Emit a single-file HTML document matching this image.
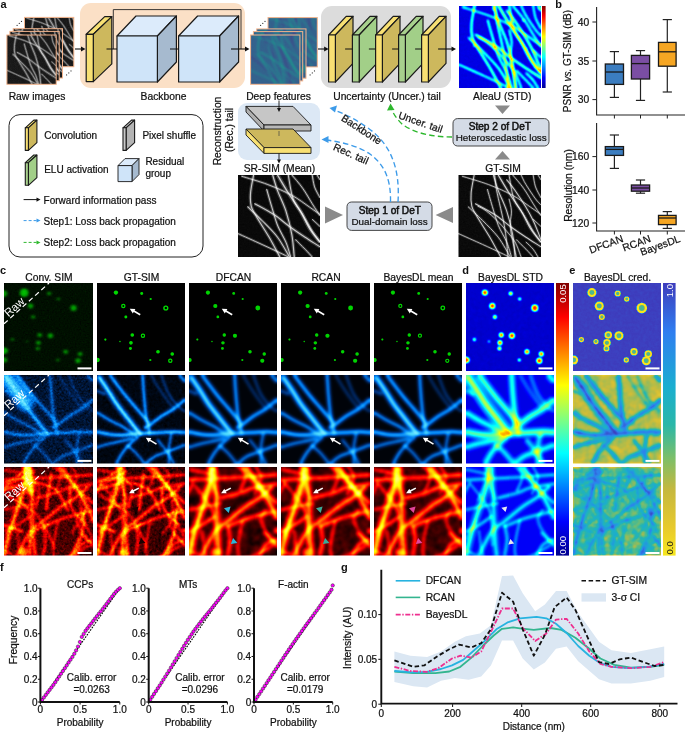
<!DOCTYPE html><html><head><meta charset="utf-8"><style>html,body{margin:0;padding:0;background:#fff;width:685px;height:732px;overflow:hidden;}svg text{font-family:"Liberation Sans",sans-serif;}</style></head><body><svg width="685" height="732" viewBox="0 0 685 732" style="display:block;will-change:transform"><defs><filter id="f1" x="0" y="0" width="100%" height="100%" color-interpolation-filters="sRGB"><feGaussianBlur in="SourceGraphic" stdDeviation="1.6" result="b"/><feTurbulence type="fractalNoise" baseFrequency="0.6" numOctaves="2" seed="3" result="n"/><feColorMatrix in="n" type="matrix" values="0.33 0.33 0.33 0 0  0.33 0.33 0.33 0 0  0.33 0.33 0.33 0 0  0 0 0 0 1" result="ng"/><feComposite in="b" in2="ng" operator="arithmetic" k1="0" k2="1.0" k3="0.12" k4="-0.068" result="b"/><feComponentTransfer in="b"><feFuncR type="table" tableValues="0.000 1.000"/><feFuncG type="table" tableValues="0.000 1.000"/><feFuncB type="table" tableValues="0.000 1.000"/><feFuncA type="table" tableValues="1 1"/></feComponentTransfer></filter><filter id="f2" x="0" y="0" width="100%" height="100%" color-interpolation-filters="sRGB"><feGaussianBlur in="SourceGraphic" stdDeviation="1.6" result="b"/><feTurbulence type="fractalNoise" baseFrequency="0.6" numOctaves="2" seed="4" result="n"/><feColorMatrix in="n" type="matrix" values="0.33 0.33 0.33 0 0  0.33 0.33 0.33 0 0  0.33 0.33 0.33 0 0  0 0 0 0 1" result="ng"/><feComposite in="b" in2="ng" operator="arithmetic" k1="0" k2="1.0" k3="0.12" k4="-0.068" result="b"/><feComponentTransfer in="b"><feFuncR type="table" tableValues="0.000 1.000"/><feFuncG type="table" tableValues="0.000 1.000"/><feFuncB type="table" tableValues="0.000 1.000"/><feFuncA type="table" tableValues="1 1"/></feComponentTransfer></filter><filter id="f3" x="0" y="0" width="100%" height="100%" color-interpolation-filters="sRGB"><feGaussianBlur in="SourceGraphic" stdDeviation="1.6" result="b"/><feTurbulence type="fractalNoise" baseFrequency="0.6" numOctaves="2" seed="5" result="n"/><feColorMatrix in="n" type="matrix" values="0.33 0.33 0.33 0 0  0.33 0.33 0.33 0 0  0.33 0.33 0.33 0 0  0 0 0 0 1" result="ng"/><feComposite in="b" in2="ng" operator="arithmetic" k1="0" k2="1.0" k3="0.12" k4="-0.068" result="b"/><feComponentTransfer in="b"><feFuncR type="table" tableValues="0.000 1.000"/><feFuncG type="table" tableValues="0.000 1.000"/><feFuncB type="table" tableValues="0.000 1.000"/><feFuncA type="table" tableValues="1 1"/></feComponentTransfer></filter><filter id="f4" x="0" y="0" width="100%" height="100%" color-interpolation-filters="sRGB"><feGaussianBlur in="SourceGraphic" stdDeviation="1.6" result="b"/><feTurbulence type="fractalNoise" baseFrequency="0.6" numOctaves="2" seed="6" result="n"/><feColorMatrix in="n" type="matrix" values="0.33 0.33 0.33 0 0  0.33 0.33 0.33 0 0  0.33 0.33 0.33 0 0  0 0 0 0 1" result="ng"/><feComposite in="b" in2="ng" operator="arithmetic" k1="0" k2="1.0" k3="0.12" k4="-0.068" result="b"/><feComponentTransfer in="b"><feFuncR type="table" tableValues="0.000 1.000"/><feFuncG type="table" tableValues="0.000 1.000"/><feFuncB type="table" tableValues="0.000 1.000"/><feFuncA type="table" tableValues="1 1"/></feComponentTransfer></filter><filter id="f5" x="0" y="0" width="100%" height="100%" color-interpolation-filters="sRGB"><feGaussianBlur in="SourceGraphic" stdDeviation="2.2" result="b"/><feTurbulence type="fractalNoise" baseFrequency="0.3" numOctaves="2" seed="11" result="n"/><feColorMatrix in="n" type="matrix" values="0.33 0.33 0.33 0 0  0.33 0.33 0.33 0 0  0.33 0.33 0.33 0 0  0 0 0 0 1" result="ng"/><feComposite in="b" in2="ng" operator="arithmetic" k1="0" k2="1.0" k3="0.06" k4="-0.034" result="b"/><feComponentTransfer in="b"><feFuncR type="table" tableValues="0.267 0.282 0.243 0.192 0.149 0.122 0.208 0.431 0.710 0.992"/><feFuncG type="table" tableValues="0.004 0.157 0.286 0.408 0.510 0.620 0.718 0.808 0.871 0.906"/><feFuncB type="table" tableValues="0.329 0.471 0.537 0.557 0.557 0.537 0.475 0.345 0.169 0.145"/><feFuncA type="table" tableValues="1 1"/></feComponentTransfer></filter><filter id="f6" x="0" y="0" width="100%" height="100%" color-interpolation-filters="sRGB"><feGaussianBlur in="SourceGraphic" stdDeviation="2.2" result="b"/><feTurbulence type="fractalNoise" baseFrequency="0.3" numOctaves="2" seed="12" result="n"/><feColorMatrix in="n" type="matrix" values="0.33 0.33 0.33 0 0  0.33 0.33 0.33 0 0  0.33 0.33 0.33 0 0  0 0 0 0 1" result="ng"/><feComposite in="b" in2="ng" operator="arithmetic" k1="0" k2="1.0" k3="0.06" k4="-0.034" result="b"/><feComponentTransfer in="b"><feFuncR type="table" tableValues="0.267 0.282 0.243 0.192 0.149 0.122 0.208 0.431 0.710 0.992"/><feFuncG type="table" tableValues="0.004 0.157 0.286 0.408 0.510 0.620 0.718 0.808 0.871 0.906"/><feFuncB type="table" tableValues="0.329 0.471 0.537 0.557 0.557 0.537 0.475 0.345 0.169 0.145"/><feFuncA type="table" tableValues="1 1"/></feComponentTransfer></filter><filter id="f7" x="0" y="0" width="100%" height="100%" color-interpolation-filters="sRGB"><feGaussianBlur in="SourceGraphic" stdDeviation="2.2" result="b"/><feTurbulence type="fractalNoise" baseFrequency="0.3" numOctaves="2" seed="13" result="n"/><feColorMatrix in="n" type="matrix" values="0.33 0.33 0.33 0 0  0.33 0.33 0.33 0 0  0.33 0.33 0.33 0 0  0 0 0 0 1" result="ng"/><feComposite in="b" in2="ng" operator="arithmetic" k1="0" k2="1.0" k3="0.06" k4="-0.034" result="b"/><feComponentTransfer in="b"><feFuncR type="table" tableValues="0.267 0.282 0.243 0.192 0.149 0.122 0.208 0.431 0.710 0.992"/><feFuncG type="table" tableValues="0.004 0.157 0.286 0.408 0.510 0.620 0.718 0.808 0.871 0.906"/><feFuncB type="table" tableValues="0.329 0.471 0.537 0.557 0.557 0.537 0.475 0.345 0.169 0.145"/><feFuncA type="table" tableValues="1 1"/></feComponentTransfer></filter><filter id="f8" x="0" y="0" width="100%" height="100%" color-interpolation-filters="sRGB"><feGaussianBlur in="SourceGraphic" stdDeviation="2.2" result="b"/><feTurbulence type="fractalNoise" baseFrequency="0.3" numOctaves="2" seed="14" result="n"/><feColorMatrix in="n" type="matrix" values="0.33 0.33 0.33 0 0  0.33 0.33 0.33 0 0  0.33 0.33 0.33 0 0  0 0 0 0 1" result="ng"/><feComposite in="b" in2="ng" operator="arithmetic" k1="0" k2="1.0" k3="0.06" k4="-0.034" result="b"/><feComponentTransfer in="b"><feFuncR type="table" tableValues="0.267 0.282 0.243 0.192 0.149 0.122 0.208 0.431 0.710 0.992"/><feFuncG type="table" tableValues="0.004 0.157 0.286 0.408 0.510 0.620 0.718 0.808 0.871 0.906"/><feFuncB type="table" tableValues="0.329 0.471 0.537 0.557 0.557 0.537 0.475 0.345 0.169 0.145"/><feFuncA type="table" tableValues="1 1"/></feComponentTransfer></filter><filter id="f9" x="0" y="0" width="100%" height="100%" color-interpolation-filters="sRGB"><feGaussianBlur in="SourceGraphic" stdDeviation="1.1" result="b"/><feTurbulence type="fractalNoise" baseFrequency="0.3" numOctaves="2" seed="9" result="n"/><feColorMatrix in="n" type="matrix" values="0.33 0.33 0.33 0 0  0.33 0.33 0.33 0 0  0.33 0.33 0.33 0 0  0 0 0 0 1" result="ng"/><feComposite in="b" in2="ng" operator="arithmetic" k1="0" k2="1.0" k3="0.05" k4="-0.028" result="b"/><feComponentTransfer in="b"><feFuncR type="table" tableValues="0.000 0.000 0.000 0.000 0.500 1.000 1.000 1.000 0.500"/><feFuncG type="table" tableValues="0.000 0.000 0.500 1.000 1.000 1.000 0.500 0.000 0.000"/><feFuncB type="table" tableValues="0.560 1.000 1.000 1.000 0.500 0.000 0.000 0.000 0.000"/><feFuncA type="table" tableValues="1 1"/></feComponentTransfer></filter><filter id="f10" x="0" y="0" width="100%" height="100%" color-interpolation-filters="sRGB"><feGaussianBlur in="SourceGraphic" stdDeviation="0.95" result="b"/><feTurbulence type="fractalNoise" baseFrequency="0.5" numOctaves="2" seed="13" result="n"/><feColorMatrix in="n" type="matrix" values="0.33 0.33 0.33 0 0  0.33 0.33 0.33 0 0  0.33 0.33 0.33 0 0  0 0 0 0 1" result="ng"/><feComposite in="b" in2="ng" operator="arithmetic" k1="0" k2="1.0" k3="0.06" k4="-0.034" result="b"/><feComponentTransfer in="b"><feFuncR type="table" tableValues="0.000 1.000"/><feFuncG type="table" tableValues="0.000 1.000"/><feFuncB type="table" tableValues="0.000 1.000"/><feFuncA type="table" tableValues="1 1"/></feComponentTransfer></filter><filter id="f11" x="0" y="0" width="100%" height="100%" color-interpolation-filters="sRGB"><feGaussianBlur in="SourceGraphic" stdDeviation="0.8" result="b"/><feTurbulence type="fractalNoise" baseFrequency="0.5" numOctaves="2" seed="14" result="n"/><feColorMatrix in="n" type="matrix" values="0.33 0.33 0.33 0 0  0.33 0.33 0.33 0 0  0.33 0.33 0.33 0 0  0 0 0 0 1" result="ng"/><feComposite in="b" in2="ng" operator="arithmetic" k1="0" k2="1.0" k3="0.08" k4="-0.046" result="b"/><feComponentTransfer in="b"><feFuncR type="table" tableValues="0.000 1.000"/><feFuncG type="table" tableValues="0.000 1.000"/><feFuncB type="table" tableValues="0.000 1.000"/><feFuncA type="table" tableValues="1 1"/></feComponentTransfer></filter><filter id="f12" x="0" y="0" width="100%" height="100%" color-interpolation-filters="sRGB"><feGaussianBlur in="SourceGraphic" stdDeviation="1.5" result="b"/><feTurbulence type="fractalNoise" baseFrequency="0.55" numOctaves="2" seed="21" result="n"/><feColorMatrix in="n" type="matrix" values="0.33 0.33 0.33 0 0  0.33 0.33 0.33 0 0  0.33 0.33 0.33 0 0  0 0 0 0 1" result="ng"/><feComposite in="b" in2="ng" operator="arithmetic" k1="0" k2="1.0" k3="0.16" k4="-0.091" result="b"/><feComponentTransfer in="b"><feFuncR type="table" tableValues="0.000 0.000 0.000"/><feFuncG type="table" tableValues="0.000 0.550 0.950"/><feFuncB type="table" tableValues="0.000 0.000 0.000"/><feFuncA type="table" tableValues="1 1"/></feComponentTransfer></filter><filter id="f13" x="0" y="0" width="100%" height="100%" color-interpolation-filters="sRGB"><feGaussianBlur in="SourceGraphic" stdDeviation="0.6" result="b"/><feComponentTransfer in="b"><feFuncR type="table" tableValues="0.000 0.000 0.000"/><feFuncG type="table" tableValues="0.000 0.550 0.950"/><feFuncB type="table" tableValues="0.000 0.000 0.000"/><feFuncA type="table" tableValues="1 1"/></feComponentTransfer></filter><filter id="f14" x="0" y="0" width="100%" height="100%" color-interpolation-filters="sRGB"><feGaussianBlur in="SourceGraphic" stdDeviation="0.8" result="b"/><feComponentTransfer in="b"><feFuncR type="table" tableValues="0.000 0.000 0.000"/><feFuncG type="table" tableValues="0.000 0.550 0.950"/><feFuncB type="table" tableValues="0.000 0.000 0.000"/><feFuncA type="table" tableValues="1 1"/></feComponentTransfer></filter><filter id="f15" x="0" y="0" width="100%" height="100%" color-interpolation-filters="sRGB"><feGaussianBlur in="SourceGraphic" stdDeviation="0.8" result="b"/><feComponentTransfer in="b"><feFuncR type="table" tableValues="0.000 0.000 0.000"/><feFuncG type="table" tableValues="0.000 0.550 0.950"/><feFuncB type="table" tableValues="0.000 0.000 0.000"/><feFuncA type="table" tableValues="1 1"/></feComponentTransfer></filter><filter id="f16" x="0" y="0" width="100%" height="100%" color-interpolation-filters="sRGB"><feGaussianBlur in="SourceGraphic" stdDeviation="0.8" result="b"/><feComponentTransfer in="b"><feFuncR type="table" tableValues="0.000 0.000 0.000"/><feFuncG type="table" tableValues="0.000 0.550 0.950"/><feFuncB type="table" tableValues="0.000 0.000 0.000"/><feFuncA type="table" tableValues="1 1"/></feComponentTransfer></filter><filter id="f17" x="0" y="0" width="100%" height="100%" color-interpolation-filters="sRGB"><feGaussianBlur in="SourceGraphic" stdDeviation="1.4" result="b"/><feTurbulence type="fractalNoise" baseFrequency="0.2" numOctaves="2" seed="71" result="n"/><feColorMatrix in="n" type="matrix" values="0.33 0.33 0.33 0 0  0.33 0.33 0.33 0 0  0.33 0.33 0.33 0 0  0 0 0 0 1" result="ng"/><feComposite in="b" in2="ng" operator="arithmetic" k1="0" k2="1.0" k3="0.05" k4="-0.028" result="b"/><feComponentTransfer in="b"><feFuncR type="table" tableValues="0.000 0.000 0.000 0.000 0.500 1.000 1.000 1.000 0.500"/><feFuncG type="table" tableValues="0.000 0.000 0.500 1.000 1.000 1.000 0.500 0.000 0.000"/><feFuncB type="table" tableValues="0.560 1.000 1.000 1.000 0.500 0.000 0.000 0.000 0.000"/><feFuncA type="table" tableValues="1 1"/></feComponentTransfer></filter><filter id="f18" x="0" y="0" width="100%" height="100%" color-interpolation-filters="sRGB"><feGaussianBlur in="SourceGraphic" stdDeviation="0.8" result="b"/><feTurbulence type="fractalNoise" baseFrequency="0.3" numOctaves="2" seed="72" result="n"/><feColorMatrix in="n" type="matrix" values="0.33 0.33 0.33 0 0  0.33 0.33 0.33 0 0  0.33 0.33 0.33 0 0  0 0 0 0 1" result="ng"/><feComposite in="b" in2="ng" operator="arithmetic" k1="0" k2="1.0" k3="0.08" k4="-0.046" result="b"/><feComponentTransfer in="b"><feFuncR type="table" tableValues="0.965 0.910 0.815 0.629 0.376 0.156 0.111 0.135 0.176 0.210 0.243"/><feFuncG type="table" tableValues="0.902 0.792 0.742 0.735 0.739 0.713 0.687 0.607 0.513 0.381 0.239"/><feFuncB type="table" tableValues="0.118 0.173 0.223 0.329 0.497 0.681 0.793 0.866 0.929 0.852 0.741"/><feFuncA type="table" tableValues="1 1"/></feComponentTransfer></filter><filter id="f19" x="0" y="0" width="100%" height="100%" color-interpolation-filters="sRGB"><feGaussianBlur in="SourceGraphic" stdDeviation="1.1" result="b"/><feTurbulence type="fractalNoise" baseFrequency="0.4" numOctaves="2" seed="31" result="n"/><feColorMatrix in="n" type="matrix" values="0.33 0.33 0.33 0 0  0.33 0.33 0.33 0 0  0.33 0.33 0.33 0 0  0 0 0 0 1" result="ng"/><feComposite in="b" in2="ng" operator="arithmetic" k1="0" k2="1.0" k3="0.5" k4="-0.285" result="b"/><feComponentTransfer in="b"><feFuncR type="table" tableValues="0.000 0.000 0.000 0.300 0.750"/><feFuncG type="table" tableValues="0.000 0.180 0.500 0.850 1.000"/><feFuncB type="table" tableValues="0.000 0.450 0.950 1.000 1.000"/><feFuncA type="table" tableValues="1 1"/></feComponentTransfer></filter><filter id="f20" x="0" y="0" width="100%" height="100%" color-interpolation-filters="sRGB"><feGaussianBlur in="SourceGraphic" stdDeviation="1.4" result="b"/><feTurbulence type="fractalNoise" baseFrequency="0.3" numOctaves="2" seed="32" result="n"/><feColorMatrix in="n" type="matrix" values="0.33 0.33 0.33 0 0  0.33 0.33 0.33 0 0  0.33 0.33 0.33 0 0  0 0 0 0 1" result="ng"/><feComposite in="b" in2="ng" operator="arithmetic" k1="0" k2="1.0" k3="0.15" k4="-0.085" result="b"/><feComponentTransfer in="b"><feFuncR type="table" tableValues="0.000 0.000 0.000 0.300 0.750"/><feFuncG type="table" tableValues="0.000 0.180 0.500 0.850 1.000"/><feFuncB type="table" tableValues="0.000 0.450 0.950 1.000 1.000"/><feFuncA type="table" tableValues="1 1"/></feComponentTransfer></filter><filter id="f21" x="0" y="0" width="100%" height="100%" color-interpolation-filters="sRGB"><feGaussianBlur in="SourceGraphic" stdDeviation="1.6" result="b"/><feComponentTransfer in="b"><feFuncR type="table" tableValues="0.000 0.000 0.000 0.300 0.750"/><feFuncG type="table" tableValues="0.000 0.180 0.500 0.850 1.000"/><feFuncB type="table" tableValues="0.000 0.450 0.950 1.000 1.000"/><feFuncA type="table" tableValues="1 1"/></feComponentTransfer></filter><filter id="f22" x="0" y="0" width="100%" height="100%" color-interpolation-filters="sRGB"><feGaussianBlur in="SourceGraphic" stdDeviation="1.6" result="b"/><feComponentTransfer in="b"><feFuncR type="table" tableValues="0.000 0.000 0.000 0.300 0.750"/><feFuncG type="table" tableValues="0.000 0.180 0.500 0.850 1.000"/><feFuncB type="table" tableValues="0.000 0.450 0.950 1.000 1.000"/><feFuncA type="table" tableValues="1 1"/></feComponentTransfer></filter><filter id="f23" x="0" y="0" width="100%" height="100%" color-interpolation-filters="sRGB"><feGaussianBlur in="SourceGraphic" stdDeviation="1.6" result="b"/><feComponentTransfer in="b"><feFuncR type="table" tableValues="0.000 0.000 0.000 0.300 0.750"/><feFuncG type="table" tableValues="0.000 0.180 0.500 0.850 1.000"/><feFuncB type="table" tableValues="0.000 0.450 0.950 1.000 1.000"/><feFuncA type="table" tableValues="1 1"/></feComponentTransfer></filter><filter id="f24" x="0" y="0" width="100%" height="100%" color-interpolation-filters="sRGB"><feGaussianBlur in="SourceGraphic" stdDeviation="1.6" result="b"/><feComponentTransfer in="b"><feFuncR type="table" tableValues="0.000 0.000 0.000 0.000 0.500 1.000 1.000 1.000 0.500"/><feFuncG type="table" tableValues="0.000 0.000 0.500 1.000 1.000 1.000 0.500 0.000 0.000"/><feFuncB type="table" tableValues="0.560 1.000 1.000 1.000 0.500 0.000 0.000 0.000 0.000"/><feFuncA type="table" tableValues="1 1"/></feComponentTransfer></filter><filter id="f25" x="0" y="0" width="100%" height="100%" color-interpolation-filters="sRGB"><feGaussianBlur in="SourceGraphic" stdDeviation="1.3" result="b"/><feTurbulence type="fractalNoise" baseFrequency="0.1" numOctaves="2" seed="41" result="n"/><feColorMatrix in="n" type="matrix" values="0.33 0.33 0.33 0 0  0.33 0.33 0.33 0 0  0.33 0.33 0.33 0 0  0 0 0 0 1" result="ng"/><feComposite in="b" in2="ng" operator="arithmetic" k1="0" k2="1.0" k3="0.6" k4="-0.342" result="b"/><feComponentTransfer in="b"><feFuncR type="table" tableValues="0.965 0.910 0.815 0.629 0.376 0.156 0.111 0.135 0.176 0.210 0.243"/><feFuncG type="table" tableValues="0.902 0.792 0.742 0.735 0.739 0.713 0.687 0.607 0.513 0.381 0.239"/><feFuncB type="table" tableValues="0.118 0.173 0.223 0.329 0.497 0.681 0.793 0.866 0.929 0.852 0.741"/><feFuncA type="table" tableValues="1 1"/></feComponentTransfer></filter><filter id="f26" x="0" y="0" width="100%" height="100%" color-interpolation-filters="sRGB"><feGaussianBlur in="SourceGraphic" stdDeviation="1.1" result="b"/><feTurbulence type="fractalNoise" baseFrequency="0.35" numOctaves="2" seed="51" result="n"/><feColorMatrix in="n" type="matrix" values="0.33 0.33 0.33 0 0  0.33 0.33 0.33 0 0  0.33 0.33 0.33 0 0  0 0 0 0 1" result="ng"/><feComposite in="b" in2="ng" operator="arithmetic" k1="0" k2="1.0" k3="0.5" k4="-0.285" result="b"/><feComponentTransfer in="b"><feFuncR type="table" tableValues="0.040 0.350 0.700 1.000 1.000 1.000 1.000 1.000 1.000"/><feFuncG type="table" tableValues="0.000 0.000 0.000 0.000 0.300 0.650 1.000 1.000 1.000"/><feFuncB type="table" tableValues="0.000 0.000 0.000 0.000 0.000 0.000 0.000 0.500 1.000"/><feFuncA type="table" tableValues="1 1"/></feComponentTransfer></filter><filter id="f27" x="0" y="0" width="100%" height="100%" color-interpolation-filters="sRGB"><feGaussianBlur in="SourceGraphic" stdDeviation="1.2" result="b"/><feTurbulence type="fractalNoise" baseFrequency="0.3" numOctaves="2" seed="52" result="n"/><feColorMatrix in="n" type="matrix" values="0.33 0.33 0.33 0 0  0.33 0.33 0.33 0 0  0.33 0.33 0.33 0 0  0 0 0 0 1" result="ng"/><feComposite in="b" in2="ng" operator="arithmetic" k1="0" k2="1.0" k3="0.45" k4="-0.257" result="b"/><feComponentTransfer in="b"><feFuncR type="table" tableValues="0.040 0.350 0.700 1.000 1.000 1.000 1.000 1.000 1.000"/><feFuncG type="table" tableValues="0.000 0.000 0.000 0.000 0.300 0.650 1.000 1.000 1.000"/><feFuncB type="table" tableValues="0.000 0.000 0.000 0.000 0.000 0.000 0.000 0.500 1.000"/><feFuncA type="table" tableValues="1 1"/></feComponentTransfer></filter><filter id="f28" x="0" y="0" width="100%" height="100%" color-interpolation-filters="sRGB"><feGaussianBlur in="SourceGraphic" stdDeviation="1.8" result="b"/><feTurbulence type="fractalNoise" baseFrequency="0.09" numOctaves="2" seed="82" result="n"/><feColorMatrix in="n" type="matrix" values="0.33 0.33 0.33 0 0  0.33 0.33 0.33 0 0  0.33 0.33 0.33 0 0  0 0 0 0 1" result="ng"/><feComposite in="b" in2="ng" operator="arithmetic" k1="0" k2="1.0" k3="0.35" k4="-0.199" result="b"/><feComponentTransfer in="b"><feFuncR type="table" tableValues="0.040 0.350 0.700 1.000 1.000 1.000 1.000 1.000 1.000"/><feFuncG type="table" tableValues="0.000 0.000 0.000 0.000 0.300 0.650 1.000 1.000 1.000"/><feFuncB type="table" tableValues="0.000 0.000 0.000 0.000 0.000 0.000 0.000 0.500 1.000"/><feFuncA type="table" tableValues="1 1"/></feComponentTransfer></filter><filter id="f29" x="0" y="0" width="100%" height="100%" color-interpolation-filters="sRGB"><feGaussianBlur in="SourceGraphic" stdDeviation="1.8" result="b"/><feTurbulence type="fractalNoise" baseFrequency="0.09" numOctaves="2" seed="83" result="n"/><feColorMatrix in="n" type="matrix" values="0.33 0.33 0.33 0 0  0.33 0.33 0.33 0 0  0.33 0.33 0.33 0 0  0 0 0 0 1" result="ng"/><feComposite in="b" in2="ng" operator="arithmetic" k1="0" k2="1.0" k3="0.35" k4="-0.199" result="b"/><feComponentTransfer in="b"><feFuncR type="table" tableValues="0.040 0.350 0.700 1.000 1.000 1.000 1.000 1.000 1.000"/><feFuncG type="table" tableValues="0.000 0.000 0.000 0.000 0.300 0.650 1.000 1.000 1.000"/><feFuncB type="table" tableValues="0.000 0.000 0.000 0.000 0.000 0.000 0.000 0.500 1.000"/><feFuncA type="table" tableValues="1 1"/></feComponentTransfer></filter><filter id="f30" x="0" y="0" width="100%" height="100%" color-interpolation-filters="sRGB"><feGaussianBlur in="SourceGraphic" stdDeviation="1.8" result="b"/><feTurbulence type="fractalNoise" baseFrequency="0.09" numOctaves="2" seed="84" result="n"/><feColorMatrix in="n" type="matrix" values="0.33 0.33 0.33 0 0  0.33 0.33 0.33 0 0  0.33 0.33 0.33 0 0  0 0 0 0 1" result="ng"/><feComposite in="b" in2="ng" operator="arithmetic" k1="0" k2="1.0" k3="0.35" k4="-0.199" result="b"/><feComponentTransfer in="b"><feFuncR type="table" tableValues="0.040 0.350 0.700 1.000 1.000 1.000 1.000 1.000 1.000"/><feFuncG type="table" tableValues="0.000 0.000 0.000 0.000 0.300 0.650 1.000 1.000 1.000"/><feFuncB type="table" tableValues="0.000 0.000 0.000 0.000 0.000 0.000 0.000 0.500 1.000"/><feFuncA type="table" tableValues="1 1"/></feComponentTransfer></filter><filter id="f31" x="0" y="0" width="100%" height="100%" color-interpolation-filters="sRGB"><feGaussianBlur in="SourceGraphic" stdDeviation="1.4" result="b"/><feComponentTransfer in="b"><feFuncR type="table" tableValues="0.000 0.000 0.000 0.000 0.500 1.000 1.000 1.000 0.500"/><feFuncG type="table" tableValues="0.000 0.000 0.500 1.000 1.000 1.000 0.500 0.000 0.000"/><feFuncB type="table" tableValues="0.560 1.000 1.000 1.000 0.500 0.000 0.000 0.000 0.000"/><feFuncA type="table" tableValues="1 1"/></feComponentTransfer></filter><filter id="f32" x="0" y="0" width="100%" height="100%" color-interpolation-filters="sRGB"><feGaussianBlur in="SourceGraphic" stdDeviation="1.0" result="b"/><feTurbulence type="fractalNoise" baseFrequency="0.12" numOctaves="2" seed="61" result="n"/><feColorMatrix in="n" type="matrix" values="0.33 0.33 0.33 0 0  0.33 0.33 0.33 0 0  0.33 0.33 0.33 0 0  0 0 0 0 1" result="ng"/><feComposite in="b" in2="ng" operator="arithmetic" k1="0" k2="1.0" k3="0.9" k4="-0.513" result="b"/><feComponentTransfer in="b"><feFuncR type="table" tableValues="0.965 0.910 0.815 0.629 0.376 0.156 0.111 0.135 0.176 0.210 0.243"/><feFuncG type="table" tableValues="0.902 0.792 0.742 0.735 0.739 0.713 0.687 0.607 0.513 0.381 0.239"/><feFuncB type="table" tableValues="0.118 0.173 0.223 0.329 0.497 0.681 0.793 0.866 0.929 0.852 0.741"/><feFuncA type="table" tableValues="1 1"/></feComponentTransfer></filter></defs><rect width="685" height="732" fill="#fff"/><text x="0.5" y="8" font-size="11" text-anchor="start" fill="#111" font-weight="bold" >a</text>
<svg x="24.5" y="17.4" width="49.3" height="49.3" viewBox="0 0 100 100" preserveAspectRatio="none" overflow="hidden"><g filter="url(#f1)"><rect x="0" y="0" width="100" height="100" fill="rgb(28,28,28)"/><path d="M19.0,0.0C18.4,3.6 15.8,15.6 15.3,21.9C14.8,28.2 15.0,33.3 16.1,38.0C17.2,42.6 18.2,43.3 21.9,49.6C25.5,56.0 33.1,67.5 38.0,75.9C42.8,84.3 48.9,96.0 51.1,100.0" fill="none" stroke="rgb(127,127,127)" stroke-opacity="0.45" stroke-width="5.10" style="mix-blend-mode:screen"/><path d="M19.0,0.0C18.4,3.6 15.8,15.6 15.3,21.9C14.8,28.2 15.0,33.3 16.1,38.0C17.2,42.6 18.2,43.3 21.9,49.6C25.5,56.0 33.1,67.5 38.0,75.9C42.8,84.3 48.9,96.0 51.1,100.0" fill="none" stroke="rgb(127,127,127)" stroke-width="1.70" stroke-linecap="round" style="mix-blend-mode:screen"/><path d="M42.3,0.0C43.3,3.2 45.5,11.7 48.2,19.0C50.9,26.3 55.5,34.8 58.4,43.8C61.3,52.8 64.0,63.6 65.7,73.0C67.4,82.4 68.1,95.5 68.6,100.0" fill="none" stroke="rgb(127,127,127)" stroke-opacity="0.45" stroke-width="5.10" style="mix-blend-mode:screen"/><path d="M42.3,0.0C43.3,3.2 45.5,11.7 48.2,19.0C50.9,26.3 55.5,34.8 58.4,43.8C61.3,52.8 64.0,63.6 65.7,73.0C67.4,82.4 68.1,95.5 68.6,100.0" fill="none" stroke="rgb(127,127,127)" stroke-width="1.70" stroke-linecap="round" style="mix-blend-mode:screen"/><path d="M0.0,71.5C4.9,73.7 20.7,80.8 29.2,84.7C37.7,88.6 45.7,92.3 51.1,94.9C56.4,97.4 59.6,99.1 61.3,100.0" fill="none" stroke="rgb(127,127,127)" stroke-opacity="0.45" stroke-width="4.08" style="mix-blend-mode:screen"/><path d="M0.0,71.5C4.9,73.7 20.7,80.8 29.2,84.7C37.7,88.6 45.7,92.3 51.1,94.9C56.4,97.4 59.6,99.1 61.3,100.0" fill="none" stroke="rgb(127,127,127)" stroke-width="1.36" stroke-linecap="round" style="mix-blend-mode:screen"/><path d="M11.7,38.7C14.6,41.5 23.1,49.3 29.2,55.5C35.3,61.7 42.6,68.5 48.2,75.9C53.8,83.3 60.3,96.0 62.8,100.0" fill="none" stroke="rgb(127,127,127)" stroke-opacity="0.45" stroke-width="4.59" style="mix-blend-mode:screen"/><path d="M11.7,38.7C14.6,41.5 23.1,49.3 29.2,55.5C35.3,61.7 42.6,68.5 48.2,75.9C53.8,83.3 60.3,96.0 62.8,100.0" fill="none" stroke="rgb(127,127,127)" stroke-width="1.53" stroke-linecap="round" style="mix-blend-mode:screen"/><path d="M20.4,35.0C24.3,37.2 36.7,43.6 43.8,48.2C50.9,52.8 56.4,58.2 62.8,62.8C69.1,67.4 75.5,71.8 81.8,75.9C88.0,80.0 97.0,85.6 100.0,87.6" fill="none" stroke="rgb(127,127,127)" stroke-opacity="0.45" stroke-width="5.10" style="mix-blend-mode:screen"/><path d="M20.4,35.0C24.3,37.2 36.7,43.6 43.8,48.2C50.9,52.8 56.4,58.2 62.8,62.8C69.1,67.4 75.5,71.8 81.8,75.9C88.0,80.0 97.0,85.6 100.0,87.6" fill="none" stroke="rgb(127,127,127)" stroke-width="1.70" stroke-linecap="round" style="mix-blend-mode:screen"/><path d="M35.0,17.5C36.0,20.9 38.7,30.7 40.9,38.0C43.1,45.3 45.3,54.0 48.2,61.3C51.1,68.6 55.7,75.3 58.4,81.8C61.1,88.2 63.3,97.0 64.2,100.0" fill="none" stroke="rgb(127,127,127)" stroke-opacity="0.45" stroke-width="4.59" style="mix-blend-mode:screen"/><path d="M35.0,17.5C36.0,20.9 38.7,30.7 40.9,38.0C43.1,45.3 45.3,54.0 48.2,61.3C51.1,68.6 55.7,75.3 58.4,81.8C61.1,88.2 63.3,97.0 64.2,100.0" fill="none" stroke="rgb(127,127,127)" stroke-width="1.53" stroke-linecap="round" style="mix-blend-mode:screen"/><path d="M4.4,1.5C9.7,3.2 26.3,7.8 36.5,11.7C46.7,15.6 57.2,20.2 65.7,24.8C74.2,29.4 81.9,35.5 87.6,39.4C93.3,43.3 97.9,46.7 100.0,48.2" fill="none" stroke="rgb(127,127,127)" stroke-opacity="0.45" stroke-width="4.08" style="mix-blend-mode:screen"/><path d="M4.4,1.5C9.7,3.2 26.3,7.8 36.5,11.7C46.7,15.6 57.2,20.2 65.7,24.8C74.2,29.4 81.9,35.5 87.6,39.4C93.3,43.3 97.9,46.7 100.0,48.2" fill="none" stroke="rgb(127,127,127)" stroke-width="1.36" stroke-linecap="round" style="mix-blend-mode:screen"/><path d="M61.3,0.0C62.3,4.9 64.2,21.2 67.2,29.2C70.1,37.2 74.9,41.6 78.8,48.2C82.7,54.7 87.0,63.0 90.5,68.6C94.0,74.2 98.4,79.6 100.0,81.8" fill="none" stroke="rgb(127,127,127)" stroke-opacity="0.45" stroke-width="4.59" style="mix-blend-mode:screen"/><path d="M61.3,0.0C62.3,4.9 64.2,21.2 67.2,29.2C70.1,37.2 74.9,41.6 78.8,48.2C82.7,54.7 87.0,63.0 90.5,68.6C94.0,74.2 98.4,79.6 100.0,81.8" fill="none" stroke="rgb(127,127,127)" stroke-width="1.53" stroke-linecap="round" style="mix-blend-mode:screen"/><path d="M65.7,0.0C67.9,2.7 74.7,10.2 78.8,16.1C83.0,21.9 87.0,29.4 90.5,35.0C94.0,40.6 98.4,47.2 100.0,49.6" fill="none" stroke="rgb(127,127,127)" stroke-opacity="0.45" stroke-width="4.08" style="mix-blend-mode:screen"/><path d="M65.7,0.0C67.9,2.7 74.7,10.2 78.8,16.1C83.0,21.9 87.0,29.4 90.5,35.0C94.0,40.6 98.4,47.2 100.0,49.6" fill="none" stroke="rgb(127,127,127)" stroke-width="1.36" stroke-linecap="round" style="mix-blend-mode:screen"/><path d="M90.5,0.0C91.0,2.4 91.8,10.0 93.4,14.6C95.0,19.2 98.9,25.5 100.0,27.7" fill="none" stroke="rgb(127,127,127)" stroke-opacity="0.45" stroke-width="4.08" style="mix-blend-mode:screen"/><path d="M90.5,0.0C91.0,2.4 91.8,10.0 93.4,14.6C95.0,19.2 98.9,25.5 100.0,27.7" fill="none" stroke="rgb(127,127,127)" stroke-width="1.36" stroke-linecap="round" style="mix-blend-mode:screen"/><path d="M48.2,0.0C50.4,3.6 56.7,14.6 61.3,21.9C65.9,29.2 71.5,36.5 75.9,43.8C80.3,51.1 83.6,59.4 87.6,65.7C91.6,72.0 97.9,79.1 100.0,81.8" fill="none" stroke="rgb(127,127,127)" stroke-opacity="0.45" stroke-width="6.12" style="mix-blend-mode:screen"/><path d="M48.2,0.0C50.4,3.6 56.7,14.6 61.3,21.9C65.9,29.2 71.5,36.5 75.9,43.8C80.3,51.1 83.6,59.4 87.6,65.7C91.6,72.0 97.9,79.1 100.0,81.8" fill="none" stroke="rgb(127,127,127)" stroke-width="2.04" stroke-linecap="round" style="mix-blend-mode:screen"/><path d="M70.1,78.8C72.0,80.8 78.3,87.0 81.8,90.5C85.2,94.0 89.1,98.4 90.5,100.0" fill="none" stroke="rgb(127,127,127)" stroke-opacity="0.45" stroke-width="4.08" style="mix-blend-mode:screen"/><path d="M70.1,78.8C72.0,80.8 78.3,87.0 81.8,90.5C85.2,94.0 89.1,98.4 90.5,100.0" fill="none" stroke="rgb(127,127,127)" stroke-width="1.36" stroke-linecap="round" style="mix-blend-mode:screen"/><path d="M90.5,54.0L100.0,62.8" fill="none" stroke="rgb(127,127,127)" stroke-opacity="0.45" stroke-width="3.57" style="mix-blend-mode:screen"/><path d="M90.5,54.0L100.0,62.8" fill="none" stroke="rgb(127,127,127)" stroke-width="1.19" stroke-linecap="round" style="mix-blend-mode:screen"/><path d="M96.4,0.0L100.0,5.8" fill="none" stroke="rgb(127,127,127)" stroke-opacity="0.45" stroke-width="4.08" style="mix-blend-mode:screen"/><path d="M96.4,0.0L100.0,5.8" fill="none" stroke="rgb(127,127,127)" stroke-width="1.36" stroke-linecap="round" style="mix-blend-mode:screen"/></g></svg>
<rect x="24.5" y="17.4" width="49.3" height="49.3" fill="none" stroke="#f3b48c" stroke-width="1"/>
<svg x="13.2" y="28.7" width="49.3" height="49.3" viewBox="0 0 100 100" preserveAspectRatio="none" overflow="hidden"><g filter="url(#f2)"><rect x="0" y="0" width="100" height="100" fill="rgb(28,28,28)"/><path d="M19.0,0.0C18.4,3.6 15.8,15.6 15.3,21.9C14.8,28.2 15.0,33.3 16.1,38.0C17.2,42.6 18.2,43.3 21.9,49.6C25.5,56.0 33.1,67.5 38.0,75.9C42.8,84.3 48.9,96.0 51.1,100.0" fill="none" stroke="rgb(127,127,127)" stroke-opacity="0.45" stroke-width="5.10" style="mix-blend-mode:screen"/><path d="M19.0,0.0C18.4,3.6 15.8,15.6 15.3,21.9C14.8,28.2 15.0,33.3 16.1,38.0C17.2,42.6 18.2,43.3 21.9,49.6C25.5,56.0 33.1,67.5 38.0,75.9C42.8,84.3 48.9,96.0 51.1,100.0" fill="none" stroke="rgb(127,127,127)" stroke-width="1.70" stroke-linecap="round" style="mix-blend-mode:screen"/><path d="M42.3,0.0C43.3,3.2 45.5,11.7 48.2,19.0C50.9,26.3 55.5,34.8 58.4,43.8C61.3,52.8 64.0,63.6 65.7,73.0C67.4,82.4 68.1,95.5 68.6,100.0" fill="none" stroke="rgb(127,127,127)" stroke-opacity="0.45" stroke-width="5.10" style="mix-blend-mode:screen"/><path d="M42.3,0.0C43.3,3.2 45.5,11.7 48.2,19.0C50.9,26.3 55.5,34.8 58.4,43.8C61.3,52.8 64.0,63.6 65.7,73.0C67.4,82.4 68.1,95.5 68.6,100.0" fill="none" stroke="rgb(127,127,127)" stroke-width="1.70" stroke-linecap="round" style="mix-blend-mode:screen"/><path d="M0.0,71.5C4.9,73.7 20.7,80.8 29.2,84.7C37.7,88.6 45.7,92.3 51.1,94.9C56.4,97.4 59.6,99.1 61.3,100.0" fill="none" stroke="rgb(127,127,127)" stroke-opacity="0.45" stroke-width="4.08" style="mix-blend-mode:screen"/><path d="M0.0,71.5C4.9,73.7 20.7,80.8 29.2,84.7C37.7,88.6 45.7,92.3 51.1,94.9C56.4,97.4 59.6,99.1 61.3,100.0" fill="none" stroke="rgb(127,127,127)" stroke-width="1.36" stroke-linecap="round" style="mix-blend-mode:screen"/><path d="M11.7,38.7C14.6,41.5 23.1,49.3 29.2,55.5C35.3,61.7 42.6,68.5 48.2,75.9C53.8,83.3 60.3,96.0 62.8,100.0" fill="none" stroke="rgb(127,127,127)" stroke-opacity="0.45" stroke-width="4.59" style="mix-blend-mode:screen"/><path d="M11.7,38.7C14.6,41.5 23.1,49.3 29.2,55.5C35.3,61.7 42.6,68.5 48.2,75.9C53.8,83.3 60.3,96.0 62.8,100.0" fill="none" stroke="rgb(127,127,127)" stroke-width="1.53" stroke-linecap="round" style="mix-blend-mode:screen"/><path d="M20.4,35.0C24.3,37.2 36.7,43.6 43.8,48.2C50.9,52.8 56.4,58.2 62.8,62.8C69.1,67.4 75.5,71.8 81.8,75.9C88.0,80.0 97.0,85.6 100.0,87.6" fill="none" stroke="rgb(127,127,127)" stroke-opacity="0.45" stroke-width="5.10" style="mix-blend-mode:screen"/><path d="M20.4,35.0C24.3,37.2 36.7,43.6 43.8,48.2C50.9,52.8 56.4,58.2 62.8,62.8C69.1,67.4 75.5,71.8 81.8,75.9C88.0,80.0 97.0,85.6 100.0,87.6" fill="none" stroke="rgb(127,127,127)" stroke-width="1.70" stroke-linecap="round" style="mix-blend-mode:screen"/><path d="M35.0,17.5C36.0,20.9 38.7,30.7 40.9,38.0C43.1,45.3 45.3,54.0 48.2,61.3C51.1,68.6 55.7,75.3 58.4,81.8C61.1,88.2 63.3,97.0 64.2,100.0" fill="none" stroke="rgb(127,127,127)" stroke-opacity="0.45" stroke-width="4.59" style="mix-blend-mode:screen"/><path d="M35.0,17.5C36.0,20.9 38.7,30.7 40.9,38.0C43.1,45.3 45.3,54.0 48.2,61.3C51.1,68.6 55.7,75.3 58.4,81.8C61.1,88.2 63.3,97.0 64.2,100.0" fill="none" stroke="rgb(127,127,127)" stroke-width="1.53" stroke-linecap="round" style="mix-blend-mode:screen"/><path d="M4.4,1.5C9.7,3.2 26.3,7.8 36.5,11.7C46.7,15.6 57.2,20.2 65.7,24.8C74.2,29.4 81.9,35.5 87.6,39.4C93.3,43.3 97.9,46.7 100.0,48.2" fill="none" stroke="rgb(127,127,127)" stroke-opacity="0.45" stroke-width="4.08" style="mix-blend-mode:screen"/><path d="M4.4,1.5C9.7,3.2 26.3,7.8 36.5,11.7C46.7,15.6 57.2,20.2 65.7,24.8C74.2,29.4 81.9,35.5 87.6,39.4C93.3,43.3 97.9,46.7 100.0,48.2" fill="none" stroke="rgb(127,127,127)" stroke-width="1.36" stroke-linecap="round" style="mix-blend-mode:screen"/><path d="M61.3,0.0C62.3,4.9 64.2,21.2 67.2,29.2C70.1,37.2 74.9,41.6 78.8,48.2C82.7,54.7 87.0,63.0 90.5,68.6C94.0,74.2 98.4,79.6 100.0,81.8" fill="none" stroke="rgb(127,127,127)" stroke-opacity="0.45" stroke-width="4.59" style="mix-blend-mode:screen"/><path d="M61.3,0.0C62.3,4.9 64.2,21.2 67.2,29.2C70.1,37.2 74.9,41.6 78.8,48.2C82.7,54.7 87.0,63.0 90.5,68.6C94.0,74.2 98.4,79.6 100.0,81.8" fill="none" stroke="rgb(127,127,127)" stroke-width="1.53" stroke-linecap="round" style="mix-blend-mode:screen"/><path d="M65.7,0.0C67.9,2.7 74.7,10.2 78.8,16.1C83.0,21.9 87.0,29.4 90.5,35.0C94.0,40.6 98.4,47.2 100.0,49.6" fill="none" stroke="rgb(127,127,127)" stroke-opacity="0.45" stroke-width="4.08" style="mix-blend-mode:screen"/><path d="M65.7,0.0C67.9,2.7 74.7,10.2 78.8,16.1C83.0,21.9 87.0,29.4 90.5,35.0C94.0,40.6 98.4,47.2 100.0,49.6" fill="none" stroke="rgb(127,127,127)" stroke-width="1.36" stroke-linecap="round" style="mix-blend-mode:screen"/><path d="M90.5,0.0C91.0,2.4 91.8,10.0 93.4,14.6C95.0,19.2 98.9,25.5 100.0,27.7" fill="none" stroke="rgb(127,127,127)" stroke-opacity="0.45" stroke-width="4.08" style="mix-blend-mode:screen"/><path d="M90.5,0.0C91.0,2.4 91.8,10.0 93.4,14.6C95.0,19.2 98.9,25.5 100.0,27.7" fill="none" stroke="rgb(127,127,127)" stroke-width="1.36" stroke-linecap="round" style="mix-blend-mode:screen"/><path d="M48.2,0.0C50.4,3.6 56.7,14.6 61.3,21.9C65.9,29.2 71.5,36.5 75.9,43.8C80.3,51.1 83.6,59.4 87.6,65.7C91.6,72.0 97.9,79.1 100.0,81.8" fill="none" stroke="rgb(127,127,127)" stroke-opacity="0.45" stroke-width="6.12" style="mix-blend-mode:screen"/><path d="M48.2,0.0C50.4,3.6 56.7,14.6 61.3,21.9C65.9,29.2 71.5,36.5 75.9,43.8C80.3,51.1 83.6,59.4 87.6,65.7C91.6,72.0 97.9,79.1 100.0,81.8" fill="none" stroke="rgb(127,127,127)" stroke-width="2.04" stroke-linecap="round" style="mix-blend-mode:screen"/><path d="M70.1,78.8C72.0,80.8 78.3,87.0 81.8,90.5C85.2,94.0 89.1,98.4 90.5,100.0" fill="none" stroke="rgb(127,127,127)" stroke-opacity="0.45" stroke-width="4.08" style="mix-blend-mode:screen"/><path d="M70.1,78.8C72.0,80.8 78.3,87.0 81.8,90.5C85.2,94.0 89.1,98.4 90.5,100.0" fill="none" stroke="rgb(127,127,127)" stroke-width="1.36" stroke-linecap="round" style="mix-blend-mode:screen"/><path d="M90.5,54.0L100.0,62.8" fill="none" stroke="rgb(127,127,127)" stroke-opacity="0.45" stroke-width="3.57" style="mix-blend-mode:screen"/><path d="M90.5,54.0L100.0,62.8" fill="none" stroke="rgb(127,127,127)" stroke-width="1.19" stroke-linecap="round" style="mix-blend-mode:screen"/><path d="M96.4,0.0L100.0,5.8" fill="none" stroke="rgb(127,127,127)" stroke-opacity="0.45" stroke-width="4.08" style="mix-blend-mode:screen"/><path d="M96.4,0.0L100.0,5.8" fill="none" stroke="rgb(127,127,127)" stroke-width="1.36" stroke-linecap="round" style="mix-blend-mode:screen"/></g></svg>
<rect x="13.2" y="28.7" width="49.3" height="49.3" fill="none" stroke="#f3b48c" stroke-width="1"/>
<svg x="9.9" y="31.4" width="49.3" height="49.3" viewBox="0 0 100 100" preserveAspectRatio="none" overflow="hidden"><g filter="url(#f3)"><rect x="0" y="0" width="100" height="100" fill="rgb(28,28,28)"/><path d="M19.0,0.0C18.4,3.6 15.8,15.6 15.3,21.9C14.8,28.2 15.0,33.3 16.1,38.0C17.2,42.6 18.2,43.3 21.9,49.6C25.5,56.0 33.1,67.5 38.0,75.9C42.8,84.3 48.9,96.0 51.1,100.0" fill="none" stroke="rgb(127,127,127)" stroke-opacity="0.45" stroke-width="5.10" style="mix-blend-mode:screen"/><path d="M19.0,0.0C18.4,3.6 15.8,15.6 15.3,21.9C14.8,28.2 15.0,33.3 16.1,38.0C17.2,42.6 18.2,43.3 21.9,49.6C25.5,56.0 33.1,67.5 38.0,75.9C42.8,84.3 48.9,96.0 51.1,100.0" fill="none" stroke="rgb(127,127,127)" stroke-width="1.70" stroke-linecap="round" style="mix-blend-mode:screen"/><path d="M42.3,0.0C43.3,3.2 45.5,11.7 48.2,19.0C50.9,26.3 55.5,34.8 58.4,43.8C61.3,52.8 64.0,63.6 65.7,73.0C67.4,82.4 68.1,95.5 68.6,100.0" fill="none" stroke="rgb(127,127,127)" stroke-opacity="0.45" stroke-width="5.10" style="mix-blend-mode:screen"/><path d="M42.3,0.0C43.3,3.2 45.5,11.7 48.2,19.0C50.9,26.3 55.5,34.8 58.4,43.8C61.3,52.8 64.0,63.6 65.7,73.0C67.4,82.4 68.1,95.5 68.6,100.0" fill="none" stroke="rgb(127,127,127)" stroke-width="1.70" stroke-linecap="round" style="mix-blend-mode:screen"/><path d="M0.0,71.5C4.9,73.7 20.7,80.8 29.2,84.7C37.7,88.6 45.7,92.3 51.1,94.9C56.4,97.4 59.6,99.1 61.3,100.0" fill="none" stroke="rgb(127,127,127)" stroke-opacity="0.45" stroke-width="4.08" style="mix-blend-mode:screen"/><path d="M0.0,71.5C4.9,73.7 20.7,80.8 29.2,84.7C37.7,88.6 45.7,92.3 51.1,94.9C56.4,97.4 59.6,99.1 61.3,100.0" fill="none" stroke="rgb(127,127,127)" stroke-width="1.36" stroke-linecap="round" style="mix-blend-mode:screen"/><path d="M11.7,38.7C14.6,41.5 23.1,49.3 29.2,55.5C35.3,61.7 42.6,68.5 48.2,75.9C53.8,83.3 60.3,96.0 62.8,100.0" fill="none" stroke="rgb(127,127,127)" stroke-opacity="0.45" stroke-width="4.59" style="mix-blend-mode:screen"/><path d="M11.7,38.7C14.6,41.5 23.1,49.3 29.2,55.5C35.3,61.7 42.6,68.5 48.2,75.9C53.8,83.3 60.3,96.0 62.8,100.0" fill="none" stroke="rgb(127,127,127)" stroke-width="1.53" stroke-linecap="round" style="mix-blend-mode:screen"/><path d="M20.4,35.0C24.3,37.2 36.7,43.6 43.8,48.2C50.9,52.8 56.4,58.2 62.8,62.8C69.1,67.4 75.5,71.8 81.8,75.9C88.0,80.0 97.0,85.6 100.0,87.6" fill="none" stroke="rgb(127,127,127)" stroke-opacity="0.45" stroke-width="5.10" style="mix-blend-mode:screen"/><path d="M20.4,35.0C24.3,37.2 36.7,43.6 43.8,48.2C50.9,52.8 56.4,58.2 62.8,62.8C69.1,67.4 75.5,71.8 81.8,75.9C88.0,80.0 97.0,85.6 100.0,87.6" fill="none" stroke="rgb(127,127,127)" stroke-width="1.70" stroke-linecap="round" style="mix-blend-mode:screen"/><path d="M35.0,17.5C36.0,20.9 38.7,30.7 40.9,38.0C43.1,45.3 45.3,54.0 48.2,61.3C51.1,68.6 55.7,75.3 58.4,81.8C61.1,88.2 63.3,97.0 64.2,100.0" fill="none" stroke="rgb(127,127,127)" stroke-opacity="0.45" stroke-width="4.59" style="mix-blend-mode:screen"/><path d="M35.0,17.5C36.0,20.9 38.7,30.7 40.9,38.0C43.1,45.3 45.3,54.0 48.2,61.3C51.1,68.6 55.7,75.3 58.4,81.8C61.1,88.2 63.3,97.0 64.2,100.0" fill="none" stroke="rgb(127,127,127)" stroke-width="1.53" stroke-linecap="round" style="mix-blend-mode:screen"/><path d="M4.4,1.5C9.7,3.2 26.3,7.8 36.5,11.7C46.7,15.6 57.2,20.2 65.7,24.8C74.2,29.4 81.9,35.5 87.6,39.4C93.3,43.3 97.9,46.7 100.0,48.2" fill="none" stroke="rgb(127,127,127)" stroke-opacity="0.45" stroke-width="4.08" style="mix-blend-mode:screen"/><path d="M4.4,1.5C9.7,3.2 26.3,7.8 36.5,11.7C46.7,15.6 57.2,20.2 65.7,24.8C74.2,29.4 81.9,35.5 87.6,39.4C93.3,43.3 97.9,46.7 100.0,48.2" fill="none" stroke="rgb(127,127,127)" stroke-width="1.36" stroke-linecap="round" style="mix-blend-mode:screen"/><path d="M61.3,0.0C62.3,4.9 64.2,21.2 67.2,29.2C70.1,37.2 74.9,41.6 78.8,48.2C82.7,54.7 87.0,63.0 90.5,68.6C94.0,74.2 98.4,79.6 100.0,81.8" fill="none" stroke="rgb(127,127,127)" stroke-opacity="0.45" stroke-width="4.59" style="mix-blend-mode:screen"/><path d="M61.3,0.0C62.3,4.9 64.2,21.2 67.2,29.2C70.1,37.2 74.9,41.6 78.8,48.2C82.7,54.7 87.0,63.0 90.5,68.6C94.0,74.2 98.4,79.6 100.0,81.8" fill="none" stroke="rgb(127,127,127)" stroke-width="1.53" stroke-linecap="round" style="mix-blend-mode:screen"/><path d="M65.7,0.0C67.9,2.7 74.7,10.2 78.8,16.1C83.0,21.9 87.0,29.4 90.5,35.0C94.0,40.6 98.4,47.2 100.0,49.6" fill="none" stroke="rgb(127,127,127)" stroke-opacity="0.45" stroke-width="4.08" style="mix-blend-mode:screen"/><path d="M65.7,0.0C67.9,2.7 74.7,10.2 78.8,16.1C83.0,21.9 87.0,29.4 90.5,35.0C94.0,40.6 98.4,47.2 100.0,49.6" fill="none" stroke="rgb(127,127,127)" stroke-width="1.36" stroke-linecap="round" style="mix-blend-mode:screen"/><path d="M90.5,0.0C91.0,2.4 91.8,10.0 93.4,14.6C95.0,19.2 98.9,25.5 100.0,27.7" fill="none" stroke="rgb(127,127,127)" stroke-opacity="0.45" stroke-width="4.08" style="mix-blend-mode:screen"/><path d="M90.5,0.0C91.0,2.4 91.8,10.0 93.4,14.6C95.0,19.2 98.9,25.5 100.0,27.7" fill="none" stroke="rgb(127,127,127)" stroke-width="1.36" stroke-linecap="round" style="mix-blend-mode:screen"/><path d="M48.2,0.0C50.4,3.6 56.7,14.6 61.3,21.9C65.9,29.2 71.5,36.5 75.9,43.8C80.3,51.1 83.6,59.4 87.6,65.7C91.6,72.0 97.9,79.1 100.0,81.8" fill="none" stroke="rgb(127,127,127)" stroke-opacity="0.45" stroke-width="6.12" style="mix-blend-mode:screen"/><path d="M48.2,0.0C50.4,3.6 56.7,14.6 61.3,21.9C65.9,29.2 71.5,36.5 75.9,43.8C80.3,51.1 83.6,59.4 87.6,65.7C91.6,72.0 97.9,79.1 100.0,81.8" fill="none" stroke="rgb(127,127,127)" stroke-width="2.04" stroke-linecap="round" style="mix-blend-mode:screen"/><path d="M70.1,78.8C72.0,80.8 78.3,87.0 81.8,90.5C85.2,94.0 89.1,98.4 90.5,100.0" fill="none" stroke="rgb(127,127,127)" stroke-opacity="0.45" stroke-width="4.08" style="mix-blend-mode:screen"/><path d="M70.1,78.8C72.0,80.8 78.3,87.0 81.8,90.5C85.2,94.0 89.1,98.4 90.5,100.0" fill="none" stroke="rgb(127,127,127)" stroke-width="1.36" stroke-linecap="round" style="mix-blend-mode:screen"/><path d="M90.5,54.0L100.0,62.8" fill="none" stroke="rgb(127,127,127)" stroke-opacity="0.45" stroke-width="3.57" style="mix-blend-mode:screen"/><path d="M90.5,54.0L100.0,62.8" fill="none" stroke="rgb(127,127,127)" stroke-width="1.19" stroke-linecap="round" style="mix-blend-mode:screen"/><path d="M96.4,0.0L100.0,5.8" fill="none" stroke="rgb(127,127,127)" stroke-opacity="0.45" stroke-width="4.08" style="mix-blend-mode:screen"/><path d="M96.4,0.0L100.0,5.8" fill="none" stroke="rgb(127,127,127)" stroke-width="1.36" stroke-linecap="round" style="mix-blend-mode:screen"/></g></svg>
<rect x="9.9" y="31.4" width="49.3" height="49.3" fill="none" stroke="#f3b48c" stroke-width="1"/>
<svg x="6.9" y="35.0" width="49.3" height="49.3" viewBox="0 0 100 100" preserveAspectRatio="none" overflow="hidden"><g filter="url(#f4)"><rect x="0" y="0" width="100" height="100" fill="rgb(28,28,28)"/><path d="M19.0,0.0C18.4,3.6 15.8,15.6 15.3,21.9C14.8,28.2 15.0,33.3 16.1,38.0C17.2,42.6 18.2,43.3 21.9,49.6C25.5,56.0 33.1,67.5 38.0,75.9C42.8,84.3 48.9,96.0 51.1,100.0" fill="none" stroke="rgb(127,127,127)" stroke-opacity="0.45" stroke-width="5.10" style="mix-blend-mode:screen"/><path d="M19.0,0.0C18.4,3.6 15.8,15.6 15.3,21.9C14.8,28.2 15.0,33.3 16.1,38.0C17.2,42.6 18.2,43.3 21.9,49.6C25.5,56.0 33.1,67.5 38.0,75.9C42.8,84.3 48.9,96.0 51.1,100.0" fill="none" stroke="rgb(127,127,127)" stroke-width="1.70" stroke-linecap="round" style="mix-blend-mode:screen"/><path d="M42.3,0.0C43.3,3.2 45.5,11.7 48.2,19.0C50.9,26.3 55.5,34.8 58.4,43.8C61.3,52.8 64.0,63.6 65.7,73.0C67.4,82.4 68.1,95.5 68.6,100.0" fill="none" stroke="rgb(127,127,127)" stroke-opacity="0.45" stroke-width="5.10" style="mix-blend-mode:screen"/><path d="M42.3,0.0C43.3,3.2 45.5,11.7 48.2,19.0C50.9,26.3 55.5,34.8 58.4,43.8C61.3,52.8 64.0,63.6 65.7,73.0C67.4,82.4 68.1,95.5 68.6,100.0" fill="none" stroke="rgb(127,127,127)" stroke-width="1.70" stroke-linecap="round" style="mix-blend-mode:screen"/><path d="M0.0,71.5C4.9,73.7 20.7,80.8 29.2,84.7C37.7,88.6 45.7,92.3 51.1,94.9C56.4,97.4 59.6,99.1 61.3,100.0" fill="none" stroke="rgb(127,127,127)" stroke-opacity="0.45" stroke-width="4.08" style="mix-blend-mode:screen"/><path d="M0.0,71.5C4.9,73.7 20.7,80.8 29.2,84.7C37.7,88.6 45.7,92.3 51.1,94.9C56.4,97.4 59.6,99.1 61.3,100.0" fill="none" stroke="rgb(127,127,127)" stroke-width="1.36" stroke-linecap="round" style="mix-blend-mode:screen"/><path d="M11.7,38.7C14.6,41.5 23.1,49.3 29.2,55.5C35.3,61.7 42.6,68.5 48.2,75.9C53.8,83.3 60.3,96.0 62.8,100.0" fill="none" stroke="rgb(127,127,127)" stroke-opacity="0.45" stroke-width="4.59" style="mix-blend-mode:screen"/><path d="M11.7,38.7C14.6,41.5 23.1,49.3 29.2,55.5C35.3,61.7 42.6,68.5 48.2,75.9C53.8,83.3 60.3,96.0 62.8,100.0" fill="none" stroke="rgb(127,127,127)" stroke-width="1.53" stroke-linecap="round" style="mix-blend-mode:screen"/><path d="M20.4,35.0C24.3,37.2 36.7,43.6 43.8,48.2C50.9,52.8 56.4,58.2 62.8,62.8C69.1,67.4 75.5,71.8 81.8,75.9C88.0,80.0 97.0,85.6 100.0,87.6" fill="none" stroke="rgb(127,127,127)" stroke-opacity="0.45" stroke-width="5.10" style="mix-blend-mode:screen"/><path d="M20.4,35.0C24.3,37.2 36.7,43.6 43.8,48.2C50.9,52.8 56.4,58.2 62.8,62.8C69.1,67.4 75.5,71.8 81.8,75.9C88.0,80.0 97.0,85.6 100.0,87.6" fill="none" stroke="rgb(127,127,127)" stroke-width="1.70" stroke-linecap="round" style="mix-blend-mode:screen"/><path d="M35.0,17.5C36.0,20.9 38.7,30.7 40.9,38.0C43.1,45.3 45.3,54.0 48.2,61.3C51.1,68.6 55.7,75.3 58.4,81.8C61.1,88.2 63.3,97.0 64.2,100.0" fill="none" stroke="rgb(127,127,127)" stroke-opacity="0.45" stroke-width="4.59" style="mix-blend-mode:screen"/><path d="M35.0,17.5C36.0,20.9 38.7,30.7 40.9,38.0C43.1,45.3 45.3,54.0 48.2,61.3C51.1,68.6 55.7,75.3 58.4,81.8C61.1,88.2 63.3,97.0 64.2,100.0" fill="none" stroke="rgb(127,127,127)" stroke-width="1.53" stroke-linecap="round" style="mix-blend-mode:screen"/><path d="M4.4,1.5C9.7,3.2 26.3,7.8 36.5,11.7C46.7,15.6 57.2,20.2 65.7,24.8C74.2,29.4 81.9,35.5 87.6,39.4C93.3,43.3 97.9,46.7 100.0,48.2" fill="none" stroke="rgb(127,127,127)" stroke-opacity="0.45" stroke-width="4.08" style="mix-blend-mode:screen"/><path d="M4.4,1.5C9.7,3.2 26.3,7.8 36.5,11.7C46.7,15.6 57.2,20.2 65.7,24.8C74.2,29.4 81.9,35.5 87.6,39.4C93.3,43.3 97.9,46.7 100.0,48.2" fill="none" stroke="rgb(127,127,127)" stroke-width="1.36" stroke-linecap="round" style="mix-blend-mode:screen"/><path d="M61.3,0.0C62.3,4.9 64.2,21.2 67.2,29.2C70.1,37.2 74.9,41.6 78.8,48.2C82.7,54.7 87.0,63.0 90.5,68.6C94.0,74.2 98.4,79.6 100.0,81.8" fill="none" stroke="rgb(127,127,127)" stroke-opacity="0.45" stroke-width="4.59" style="mix-blend-mode:screen"/><path d="M61.3,0.0C62.3,4.9 64.2,21.2 67.2,29.2C70.1,37.2 74.9,41.6 78.8,48.2C82.7,54.7 87.0,63.0 90.5,68.6C94.0,74.2 98.4,79.6 100.0,81.8" fill="none" stroke="rgb(127,127,127)" stroke-width="1.53" stroke-linecap="round" style="mix-blend-mode:screen"/><path d="M65.7,0.0C67.9,2.7 74.7,10.2 78.8,16.1C83.0,21.9 87.0,29.4 90.5,35.0C94.0,40.6 98.4,47.2 100.0,49.6" fill="none" stroke="rgb(127,127,127)" stroke-opacity="0.45" stroke-width="4.08" style="mix-blend-mode:screen"/><path d="M65.7,0.0C67.9,2.7 74.7,10.2 78.8,16.1C83.0,21.9 87.0,29.4 90.5,35.0C94.0,40.6 98.4,47.2 100.0,49.6" fill="none" stroke="rgb(127,127,127)" stroke-width="1.36" stroke-linecap="round" style="mix-blend-mode:screen"/><path d="M90.5,0.0C91.0,2.4 91.8,10.0 93.4,14.6C95.0,19.2 98.9,25.5 100.0,27.7" fill="none" stroke="rgb(127,127,127)" stroke-opacity="0.45" stroke-width="4.08" style="mix-blend-mode:screen"/><path d="M90.5,0.0C91.0,2.4 91.8,10.0 93.4,14.6C95.0,19.2 98.9,25.5 100.0,27.7" fill="none" stroke="rgb(127,127,127)" stroke-width="1.36" stroke-linecap="round" style="mix-blend-mode:screen"/><path d="M48.2,0.0C50.4,3.6 56.7,14.6 61.3,21.9C65.9,29.2 71.5,36.5 75.9,43.8C80.3,51.1 83.6,59.4 87.6,65.7C91.6,72.0 97.9,79.1 100.0,81.8" fill="none" stroke="rgb(127,127,127)" stroke-opacity="0.45" stroke-width="6.12" style="mix-blend-mode:screen"/><path d="M48.2,0.0C50.4,3.6 56.7,14.6 61.3,21.9C65.9,29.2 71.5,36.5 75.9,43.8C80.3,51.1 83.6,59.4 87.6,65.7C91.6,72.0 97.9,79.1 100.0,81.8" fill="none" stroke="rgb(127,127,127)" stroke-width="2.04" stroke-linecap="round" style="mix-blend-mode:screen"/><path d="M70.1,78.8C72.0,80.8 78.3,87.0 81.8,90.5C85.2,94.0 89.1,98.4 90.5,100.0" fill="none" stroke="rgb(127,127,127)" stroke-opacity="0.45" stroke-width="4.08" style="mix-blend-mode:screen"/><path d="M70.1,78.8C72.0,80.8 78.3,87.0 81.8,90.5C85.2,94.0 89.1,98.4 90.5,100.0" fill="none" stroke="rgb(127,127,127)" stroke-width="1.36" stroke-linecap="round" style="mix-blend-mode:screen"/><path d="M90.5,54.0L100.0,62.8" fill="none" stroke="rgb(127,127,127)" stroke-opacity="0.45" stroke-width="3.57" style="mix-blend-mode:screen"/><path d="M90.5,54.0L100.0,62.8" fill="none" stroke="rgb(127,127,127)" stroke-width="1.19" stroke-linecap="round" style="mix-blend-mode:screen"/><path d="M96.4,0.0L100.0,5.8" fill="none" stroke="rgb(127,127,127)" stroke-opacity="0.45" stroke-width="4.08" style="mix-blend-mode:screen"/><path d="M96.4,0.0L100.0,5.8" fill="none" stroke="rgb(127,127,127)" stroke-width="1.36" stroke-linecap="round" style="mix-blend-mode:screen"/></g></svg>
<rect x="6.9" y="35.0" width="49.3" height="49.3" fill="none" stroke="#f3b48c" stroke-width="1"/>
<circle cx="17.1" cy="25.4" r="0.6" fill="#333"/>
<circle cx="19.3" cy="23.4" r="0.6" fill="#333"/>
<circle cx="21.5" cy="21.4" r="0.6" fill="#333"/>
<circle cx="66.6" cy="74.9" r="0.6" fill="#333"/>
<circle cx="68.8" cy="72.9" r="0.6" fill="#333"/>
<circle cx="71.0" cy="70.9" r="0.6" fill="#333"/>
<text x="37" y="100" font-size="10.3" text-anchor="middle" fill="#111" stroke="#111" stroke-width="0.22" >Raw images</text>
<rect x="80" y="3" width="165" height="85" rx="11" fill="#fbe0c6"/>
<line x1="75" y1="49" x2="81.5" y2="49" stroke="#111" stroke-width="1.1" />
<polygon points="85.5,49.0 81.0,46.5 81.0,51.5" fill="#111" stroke="none" stroke-width="0" stroke-linejoin="round" />
<polyline points="113.3,49 113.3,9.6 241,9.6 241,49" fill="none" stroke="#222" stroke-width="0.9"/>
<polygon points="86.2,34.3 104.7,16.6 111.8,16.6 93.3,34.3" fill="#f8e073" stroke="#1a1a1a" stroke-width="1.2" stroke-linejoin="round" />
<polygon points="93.3,34.3 111.8,16.6 111.8,63.9 93.3,81.6" fill="#cdb85d" stroke="#1a1a1a" stroke-width="1.2" stroke-linejoin="round" />
<polygon points="86.2,34.3 93.3,34.3 93.3,81.6 86.2,81.6" fill="#f8e073" stroke="#1a1a1a" stroke-width="1.2" stroke-linejoin="round" />
<polygon points="117.0,36.0 136.0,16.0 176.4,16.0 157.4,36.0" fill="#dcebfb" stroke="#1a1a1a" stroke-width="1.2" stroke-linejoin="round" />
<polygon points="157.4,36.0 176.4,16.0 176.4,62.0 157.4,82.0" fill="#a6bacf" stroke="#1a1a1a" stroke-width="1.2" stroke-linejoin="round" />
<polygon points="117.0,36.0 157.4,36.0 157.4,82.0 117.0,82.0" fill="#cfe4f9" stroke="#1a1a1a" stroke-width="1.2" stroke-linejoin="round" />
<polygon points="178.6,36.0 197.6,16.0 238.6,16.0 219.6,36.0" fill="#dcebfb" stroke="#1a1a1a" stroke-width="1.2" stroke-linejoin="round" />
<polygon points="219.6,36.0 238.6,16.0 238.6,62.0 219.6,82.0" fill="#a6bacf" stroke="#1a1a1a" stroke-width="1.2" stroke-linejoin="round" />
<polygon points="178.6,36.0 219.6,36.0 219.6,82.0 178.6,82.0" fill="#cfe4f9" stroke="#1a1a1a" stroke-width="1.2" stroke-linejoin="round" />
<line x1="106.5" y1="49" x2="117" y2="49" stroke="#111" stroke-width="1" />
<line x1="170" y1="49" x2="178.6" y2="49" stroke="#111" stroke-width="1" />
<line x1="231" y1="49" x2="245.5" y2="49" stroke="#111" stroke-width="1.1" />
<polygon points="249.5,49.0 245.0,46.5 245.0,51.5" fill="#111" stroke="none" stroke-width="0" stroke-linejoin="round" />
<text x="163.5" y="100" font-size="10.3" text-anchor="middle" fill="#111" stroke="#111" stroke-width="0.22" >Backbone</text>
<svg x="268" y="17.6" width="49.3" height="49.3" viewBox="0 0 100 100" preserveAspectRatio="none" overflow="hidden"><g filter="url(#f5)"><rect x="0" y="0" width="100" height="100" fill="rgb(81,81,81)"/><path d="M0.0,43.8C3.6,46.7 14.6,55.0 21.9,61.3C29.2,67.6 37.2,75.3 43.8,81.8C50.4,88.2 58.4,97.0 61.3,100.0" fill="none" stroke="#000" stroke-opacity="0.55" stroke-width="2.0"/><path d="M55.5,0.0C56.4,4.9 58.4,19.0 61.3,29.2C64.2,39.4 69.6,49.5 73.0,61.3C76.4,73.1 80.3,93.6 81.8,100.0" fill="none" stroke="#000" stroke-opacity="0.55" stroke-width="2.0"/><path d="M21.9,0.0C24.3,3.6 32.1,13.9 36.5,21.9C40.9,29.9 46.2,43.8 48.2,48.2" fill="none" stroke="#000" stroke-opacity="0.55" stroke-width="2.0"/><path d="M81.8,0.0C82.7,4.9 84.5,21.4 87.6,29.2C90.6,37.0 97.9,43.8 100.0,46.7" fill="none" stroke="#000" stroke-opacity="0.55" stroke-width="2.0"/><path d="M19.0,0.0C18.4,3.6 15.8,15.6 15.3,21.9C14.8,28.2 15.0,33.3 16.1,38.0C17.2,42.6 18.2,43.3 21.9,49.6C25.5,56.0 33.1,67.5 38.0,75.9C42.8,84.3 48.9,96.0 51.1,100.0" fill="none" stroke="rgb(91,91,91)" stroke-width="2.20" stroke-linecap="round" style="mix-blend-mode:screen"/><path d="M42.3,0.0C43.3,3.2 45.5,11.7 48.2,19.0C50.9,26.3 55.5,34.8 58.4,43.8C61.3,52.8 64.0,63.6 65.7,73.0C67.4,82.4 68.1,95.5 68.6,100.0" fill="none" stroke="rgb(91,91,91)" stroke-width="2.20" stroke-linecap="round" style="mix-blend-mode:screen"/><path d="M0.0,71.5C4.9,73.7 20.7,80.8 29.2,84.7C37.7,88.6 45.7,92.3 51.1,94.9C56.4,97.4 59.6,99.1 61.3,100.0" fill="none" stroke="rgb(91,91,91)" stroke-width="1.76" stroke-linecap="round" style="mix-blend-mode:screen"/><path d="M11.7,38.7C14.6,41.5 23.1,49.3 29.2,55.5C35.3,61.7 42.6,68.5 48.2,75.9C53.8,83.3 60.3,96.0 62.8,100.0" fill="none" stroke="rgb(91,91,91)" stroke-width="1.98" stroke-linecap="round" style="mix-blend-mode:screen"/><path d="M20.4,35.0C24.3,37.2 36.7,43.6 43.8,48.2C50.9,52.8 56.4,58.2 62.8,62.8C69.1,67.4 75.5,71.8 81.8,75.9C88.0,80.0 97.0,85.6 100.0,87.6" fill="none" stroke="rgb(91,91,91)" stroke-width="2.20" stroke-linecap="round" style="mix-blend-mode:screen"/><path d="M35.0,17.5C36.0,20.9 38.7,30.7 40.9,38.0C43.1,45.3 45.3,54.0 48.2,61.3C51.1,68.6 55.7,75.3 58.4,81.8C61.1,88.2 63.3,97.0 64.2,100.0" fill="none" stroke="rgb(91,91,91)" stroke-width="1.98" stroke-linecap="round" style="mix-blend-mode:screen"/><path d="M4.4,1.5C9.7,3.2 26.3,7.8 36.5,11.7C46.7,15.6 57.2,20.2 65.7,24.8C74.2,29.4 81.9,35.5 87.6,39.4C93.3,43.3 97.9,46.7 100.0,48.2" fill="none" stroke="rgb(91,91,91)" stroke-width="1.76" stroke-linecap="round" style="mix-blend-mode:screen"/><path d="M61.3,0.0C62.3,4.9 64.2,21.2 67.2,29.2C70.1,37.2 74.9,41.6 78.8,48.2C82.7,54.7 87.0,63.0 90.5,68.6C94.0,74.2 98.4,79.6 100.0,81.8" fill="none" stroke="rgb(91,91,91)" stroke-width="1.98" stroke-linecap="round" style="mix-blend-mode:screen"/><path d="M65.7,0.0C67.9,2.7 74.7,10.2 78.8,16.1C83.0,21.9 87.0,29.4 90.5,35.0C94.0,40.6 98.4,47.2 100.0,49.6" fill="none" stroke="rgb(91,91,91)" stroke-width="1.76" stroke-linecap="round" style="mix-blend-mode:screen"/><path d="M90.5,0.0C91.0,2.4 91.8,10.0 93.4,14.6C95.0,19.2 98.9,25.5 100.0,27.7" fill="none" stroke="rgb(91,91,91)" stroke-width="1.76" stroke-linecap="round" style="mix-blend-mode:screen"/><path d="M48.2,0.0C50.4,3.6 56.7,14.6 61.3,21.9C65.9,29.2 71.5,36.5 75.9,43.8C80.3,51.1 83.6,59.4 87.6,65.7C91.6,72.0 97.9,79.1 100.0,81.8" fill="none" stroke="rgb(91,91,91)" stroke-width="2.64" stroke-linecap="round" style="mix-blend-mode:screen"/><path d="M70.1,78.8C72.0,80.8 78.3,87.0 81.8,90.5C85.2,94.0 89.1,98.4 90.5,100.0" fill="none" stroke="rgb(91,91,91)" stroke-width="1.76" stroke-linecap="round" style="mix-blend-mode:screen"/><path d="M90.5,54.0L100.0,62.8" fill="none" stroke="rgb(91,91,91)" stroke-width="1.54" stroke-linecap="round" style="mix-blend-mode:screen"/><path d="M96.4,0.0L100.0,5.8" fill="none" stroke="rgb(91,91,91)" stroke-width="1.76" stroke-linecap="round" style="mix-blend-mode:screen"/></g></svg>
<rect x="268" y="17.6" width="49.3" height="49.3" fill="none" stroke="#f3b48c" stroke-width="1"/>
<svg x="256.7" y="28.9" width="49.3" height="49.3" viewBox="0 0 100 100" preserveAspectRatio="none" overflow="hidden"><g filter="url(#f6)"><rect x="0" y="0" width="100" height="100" fill="rgb(81,81,81)"/><path d="M0.0,43.8C3.6,46.7 14.6,55.0 21.9,61.3C29.2,67.6 37.2,75.3 43.8,81.8C50.4,88.2 58.4,97.0 61.3,100.0" fill="none" stroke="#000" stroke-opacity="0.55" stroke-width="2.0"/><path d="M55.5,0.0C56.4,4.9 58.4,19.0 61.3,29.2C64.2,39.4 69.6,49.5 73.0,61.3C76.4,73.1 80.3,93.6 81.8,100.0" fill="none" stroke="#000" stroke-opacity="0.55" stroke-width="2.0"/><path d="M21.9,0.0C24.3,3.6 32.1,13.9 36.5,21.9C40.9,29.9 46.2,43.8 48.2,48.2" fill="none" stroke="#000" stroke-opacity="0.55" stroke-width="2.0"/><path d="M81.8,0.0C82.7,4.9 84.5,21.4 87.6,29.2C90.6,37.0 97.9,43.8 100.0,46.7" fill="none" stroke="#000" stroke-opacity="0.55" stroke-width="2.0"/><path d="M19.0,0.0C18.4,3.6 15.8,15.6 15.3,21.9C14.8,28.2 15.0,33.3 16.1,38.0C17.2,42.6 18.2,43.3 21.9,49.6C25.5,56.0 33.1,67.5 38.0,75.9C42.8,84.3 48.9,96.0 51.1,100.0" fill="none" stroke="rgb(91,91,91)" stroke-width="2.20" stroke-linecap="round" style="mix-blend-mode:screen"/><path d="M42.3,0.0C43.3,3.2 45.5,11.7 48.2,19.0C50.9,26.3 55.5,34.8 58.4,43.8C61.3,52.8 64.0,63.6 65.7,73.0C67.4,82.4 68.1,95.5 68.6,100.0" fill="none" stroke="rgb(91,91,91)" stroke-width="2.20" stroke-linecap="round" style="mix-blend-mode:screen"/><path d="M0.0,71.5C4.9,73.7 20.7,80.8 29.2,84.7C37.7,88.6 45.7,92.3 51.1,94.9C56.4,97.4 59.6,99.1 61.3,100.0" fill="none" stroke="rgb(91,91,91)" stroke-width="1.76" stroke-linecap="round" style="mix-blend-mode:screen"/><path d="M11.7,38.7C14.6,41.5 23.1,49.3 29.2,55.5C35.3,61.7 42.6,68.5 48.2,75.9C53.8,83.3 60.3,96.0 62.8,100.0" fill="none" stroke="rgb(91,91,91)" stroke-width="1.98" stroke-linecap="round" style="mix-blend-mode:screen"/><path d="M20.4,35.0C24.3,37.2 36.7,43.6 43.8,48.2C50.9,52.8 56.4,58.2 62.8,62.8C69.1,67.4 75.5,71.8 81.8,75.9C88.0,80.0 97.0,85.6 100.0,87.6" fill="none" stroke="rgb(91,91,91)" stroke-width="2.20" stroke-linecap="round" style="mix-blend-mode:screen"/><path d="M35.0,17.5C36.0,20.9 38.7,30.7 40.9,38.0C43.1,45.3 45.3,54.0 48.2,61.3C51.1,68.6 55.7,75.3 58.4,81.8C61.1,88.2 63.3,97.0 64.2,100.0" fill="none" stroke="rgb(91,91,91)" stroke-width="1.98" stroke-linecap="round" style="mix-blend-mode:screen"/><path d="M4.4,1.5C9.7,3.2 26.3,7.8 36.5,11.7C46.7,15.6 57.2,20.2 65.7,24.8C74.2,29.4 81.9,35.5 87.6,39.4C93.3,43.3 97.9,46.7 100.0,48.2" fill="none" stroke="rgb(91,91,91)" stroke-width="1.76" stroke-linecap="round" style="mix-blend-mode:screen"/><path d="M61.3,0.0C62.3,4.9 64.2,21.2 67.2,29.2C70.1,37.2 74.9,41.6 78.8,48.2C82.7,54.7 87.0,63.0 90.5,68.6C94.0,74.2 98.4,79.6 100.0,81.8" fill="none" stroke="rgb(91,91,91)" stroke-width="1.98" stroke-linecap="round" style="mix-blend-mode:screen"/><path d="M65.7,0.0C67.9,2.7 74.7,10.2 78.8,16.1C83.0,21.9 87.0,29.4 90.5,35.0C94.0,40.6 98.4,47.2 100.0,49.6" fill="none" stroke="rgb(91,91,91)" stroke-width="1.76" stroke-linecap="round" style="mix-blend-mode:screen"/><path d="M90.5,0.0C91.0,2.4 91.8,10.0 93.4,14.6C95.0,19.2 98.9,25.5 100.0,27.7" fill="none" stroke="rgb(91,91,91)" stroke-width="1.76" stroke-linecap="round" style="mix-blend-mode:screen"/><path d="M48.2,0.0C50.4,3.6 56.7,14.6 61.3,21.9C65.9,29.2 71.5,36.5 75.9,43.8C80.3,51.1 83.6,59.4 87.6,65.7C91.6,72.0 97.9,79.1 100.0,81.8" fill="none" stroke="rgb(91,91,91)" stroke-width="2.64" stroke-linecap="round" style="mix-blend-mode:screen"/><path d="M70.1,78.8C72.0,80.8 78.3,87.0 81.8,90.5C85.2,94.0 89.1,98.4 90.5,100.0" fill="none" stroke="rgb(91,91,91)" stroke-width="1.76" stroke-linecap="round" style="mix-blend-mode:screen"/><path d="M90.5,54.0L100.0,62.8" fill="none" stroke="rgb(91,91,91)" stroke-width="1.54" stroke-linecap="round" style="mix-blend-mode:screen"/><path d="M96.4,0.0L100.0,5.8" fill="none" stroke="rgb(91,91,91)" stroke-width="1.76" stroke-linecap="round" style="mix-blend-mode:screen"/></g></svg>
<rect x="256.7" y="28.9" width="49.3" height="49.3" fill="none" stroke="#f3b48c" stroke-width="1"/>
<svg x="253.4" y="31.6" width="49.3" height="49.3" viewBox="0 0 100 100" preserveAspectRatio="none" overflow="hidden"><g filter="url(#f7)"><rect x="0" y="0" width="100" height="100" fill="rgb(81,81,81)"/><path d="M0.0,43.8C3.6,46.7 14.6,55.0 21.9,61.3C29.2,67.6 37.2,75.3 43.8,81.8C50.4,88.2 58.4,97.0 61.3,100.0" fill="none" stroke="#000" stroke-opacity="0.55" stroke-width="2.0"/><path d="M55.5,0.0C56.4,4.9 58.4,19.0 61.3,29.2C64.2,39.4 69.6,49.5 73.0,61.3C76.4,73.1 80.3,93.6 81.8,100.0" fill="none" stroke="#000" stroke-opacity="0.55" stroke-width="2.0"/><path d="M21.9,0.0C24.3,3.6 32.1,13.9 36.5,21.9C40.9,29.9 46.2,43.8 48.2,48.2" fill="none" stroke="#000" stroke-opacity="0.55" stroke-width="2.0"/><path d="M81.8,0.0C82.7,4.9 84.5,21.4 87.6,29.2C90.6,37.0 97.9,43.8 100.0,46.7" fill="none" stroke="#000" stroke-opacity="0.55" stroke-width="2.0"/><path d="M19.0,0.0C18.4,3.6 15.8,15.6 15.3,21.9C14.8,28.2 15.0,33.3 16.1,38.0C17.2,42.6 18.2,43.3 21.9,49.6C25.5,56.0 33.1,67.5 38.0,75.9C42.8,84.3 48.9,96.0 51.1,100.0" fill="none" stroke="rgb(91,91,91)" stroke-width="2.20" stroke-linecap="round" style="mix-blend-mode:screen"/><path d="M42.3,0.0C43.3,3.2 45.5,11.7 48.2,19.0C50.9,26.3 55.5,34.8 58.4,43.8C61.3,52.8 64.0,63.6 65.7,73.0C67.4,82.4 68.1,95.5 68.6,100.0" fill="none" stroke="rgb(91,91,91)" stroke-width="2.20" stroke-linecap="round" style="mix-blend-mode:screen"/><path d="M0.0,71.5C4.9,73.7 20.7,80.8 29.2,84.7C37.7,88.6 45.7,92.3 51.1,94.9C56.4,97.4 59.6,99.1 61.3,100.0" fill="none" stroke="rgb(91,91,91)" stroke-width="1.76" stroke-linecap="round" style="mix-blend-mode:screen"/><path d="M11.7,38.7C14.6,41.5 23.1,49.3 29.2,55.5C35.3,61.7 42.6,68.5 48.2,75.9C53.8,83.3 60.3,96.0 62.8,100.0" fill="none" stroke="rgb(91,91,91)" stroke-width="1.98" stroke-linecap="round" style="mix-blend-mode:screen"/><path d="M20.4,35.0C24.3,37.2 36.7,43.6 43.8,48.2C50.9,52.8 56.4,58.2 62.8,62.8C69.1,67.4 75.5,71.8 81.8,75.9C88.0,80.0 97.0,85.6 100.0,87.6" fill="none" stroke="rgb(91,91,91)" stroke-width="2.20" stroke-linecap="round" style="mix-blend-mode:screen"/><path d="M35.0,17.5C36.0,20.9 38.7,30.7 40.9,38.0C43.1,45.3 45.3,54.0 48.2,61.3C51.1,68.6 55.7,75.3 58.4,81.8C61.1,88.2 63.3,97.0 64.2,100.0" fill="none" stroke="rgb(91,91,91)" stroke-width="1.98" stroke-linecap="round" style="mix-blend-mode:screen"/><path d="M4.4,1.5C9.7,3.2 26.3,7.8 36.5,11.7C46.7,15.6 57.2,20.2 65.7,24.8C74.2,29.4 81.9,35.5 87.6,39.4C93.3,43.3 97.9,46.7 100.0,48.2" fill="none" stroke="rgb(91,91,91)" stroke-width="1.76" stroke-linecap="round" style="mix-blend-mode:screen"/><path d="M61.3,0.0C62.3,4.9 64.2,21.2 67.2,29.2C70.1,37.2 74.9,41.6 78.8,48.2C82.7,54.7 87.0,63.0 90.5,68.6C94.0,74.2 98.4,79.6 100.0,81.8" fill="none" stroke="rgb(91,91,91)" stroke-width="1.98" stroke-linecap="round" style="mix-blend-mode:screen"/><path d="M65.7,0.0C67.9,2.7 74.7,10.2 78.8,16.1C83.0,21.9 87.0,29.4 90.5,35.0C94.0,40.6 98.4,47.2 100.0,49.6" fill="none" stroke="rgb(91,91,91)" stroke-width="1.76" stroke-linecap="round" style="mix-blend-mode:screen"/><path d="M90.5,0.0C91.0,2.4 91.8,10.0 93.4,14.6C95.0,19.2 98.9,25.5 100.0,27.7" fill="none" stroke="rgb(91,91,91)" stroke-width="1.76" stroke-linecap="round" style="mix-blend-mode:screen"/><path d="M48.2,0.0C50.4,3.6 56.7,14.6 61.3,21.9C65.9,29.2 71.5,36.5 75.9,43.8C80.3,51.1 83.6,59.4 87.6,65.7C91.6,72.0 97.9,79.1 100.0,81.8" fill="none" stroke="rgb(91,91,91)" stroke-width="2.64" stroke-linecap="round" style="mix-blend-mode:screen"/><path d="M70.1,78.8C72.0,80.8 78.3,87.0 81.8,90.5C85.2,94.0 89.1,98.4 90.5,100.0" fill="none" stroke="rgb(91,91,91)" stroke-width="1.76" stroke-linecap="round" style="mix-blend-mode:screen"/><path d="M90.5,54.0L100.0,62.8" fill="none" stroke="rgb(91,91,91)" stroke-width="1.54" stroke-linecap="round" style="mix-blend-mode:screen"/><path d="M96.4,0.0L100.0,5.8" fill="none" stroke="rgb(91,91,91)" stroke-width="1.76" stroke-linecap="round" style="mix-blend-mode:screen"/></g></svg>
<rect x="253.4" y="31.6" width="49.3" height="49.3" fill="none" stroke="#f3b48c" stroke-width="1"/>
<svg x="250.6" y="35.0" width="49.3" height="49.3" viewBox="0 0 100 100" preserveAspectRatio="none" overflow="hidden"><g filter="url(#f8)"><rect x="0" y="0" width="100" height="100" fill="rgb(81,81,81)"/><path d="M0.0,43.8C3.6,46.7 14.6,55.0 21.9,61.3C29.2,67.6 37.2,75.3 43.8,81.8C50.4,88.2 58.4,97.0 61.3,100.0" fill="none" stroke="#000" stroke-opacity="0.55" stroke-width="2.0"/><path d="M55.5,0.0C56.4,4.9 58.4,19.0 61.3,29.2C64.2,39.4 69.6,49.5 73.0,61.3C76.4,73.1 80.3,93.6 81.8,100.0" fill="none" stroke="#000" stroke-opacity="0.55" stroke-width="2.0"/><path d="M21.9,0.0C24.3,3.6 32.1,13.9 36.5,21.9C40.9,29.9 46.2,43.8 48.2,48.2" fill="none" stroke="#000" stroke-opacity="0.55" stroke-width="2.0"/><path d="M81.8,0.0C82.7,4.9 84.5,21.4 87.6,29.2C90.6,37.0 97.9,43.8 100.0,46.7" fill="none" stroke="#000" stroke-opacity="0.55" stroke-width="2.0"/><path d="M19.0,0.0C18.4,3.6 15.8,15.6 15.3,21.9C14.8,28.2 15.0,33.3 16.1,38.0C17.2,42.6 18.2,43.3 21.9,49.6C25.5,56.0 33.1,67.5 38.0,75.9C42.8,84.3 48.9,96.0 51.1,100.0" fill="none" stroke="rgb(91,91,91)" stroke-width="2.20" stroke-linecap="round" style="mix-blend-mode:screen"/><path d="M42.3,0.0C43.3,3.2 45.5,11.7 48.2,19.0C50.9,26.3 55.5,34.8 58.4,43.8C61.3,52.8 64.0,63.6 65.7,73.0C67.4,82.4 68.1,95.5 68.6,100.0" fill="none" stroke="rgb(91,91,91)" stroke-width="2.20" stroke-linecap="round" style="mix-blend-mode:screen"/><path d="M0.0,71.5C4.9,73.7 20.7,80.8 29.2,84.7C37.7,88.6 45.7,92.3 51.1,94.9C56.4,97.4 59.6,99.1 61.3,100.0" fill="none" stroke="rgb(91,91,91)" stroke-width="1.76" stroke-linecap="round" style="mix-blend-mode:screen"/><path d="M11.7,38.7C14.6,41.5 23.1,49.3 29.2,55.5C35.3,61.7 42.6,68.5 48.2,75.9C53.8,83.3 60.3,96.0 62.8,100.0" fill="none" stroke="rgb(91,91,91)" stroke-width="1.98" stroke-linecap="round" style="mix-blend-mode:screen"/><path d="M20.4,35.0C24.3,37.2 36.7,43.6 43.8,48.2C50.9,52.8 56.4,58.2 62.8,62.8C69.1,67.4 75.5,71.8 81.8,75.9C88.0,80.0 97.0,85.6 100.0,87.6" fill="none" stroke="rgb(91,91,91)" stroke-width="2.20" stroke-linecap="round" style="mix-blend-mode:screen"/><path d="M35.0,17.5C36.0,20.9 38.7,30.7 40.9,38.0C43.1,45.3 45.3,54.0 48.2,61.3C51.1,68.6 55.7,75.3 58.4,81.8C61.1,88.2 63.3,97.0 64.2,100.0" fill="none" stroke="rgb(91,91,91)" stroke-width="1.98" stroke-linecap="round" style="mix-blend-mode:screen"/><path d="M4.4,1.5C9.7,3.2 26.3,7.8 36.5,11.7C46.7,15.6 57.2,20.2 65.7,24.8C74.2,29.4 81.9,35.5 87.6,39.4C93.3,43.3 97.9,46.7 100.0,48.2" fill="none" stroke="rgb(91,91,91)" stroke-width="1.76" stroke-linecap="round" style="mix-blend-mode:screen"/><path d="M61.3,0.0C62.3,4.9 64.2,21.2 67.2,29.2C70.1,37.2 74.9,41.6 78.8,48.2C82.7,54.7 87.0,63.0 90.5,68.6C94.0,74.2 98.4,79.6 100.0,81.8" fill="none" stroke="rgb(91,91,91)" stroke-width="1.98" stroke-linecap="round" style="mix-blend-mode:screen"/><path d="M65.7,0.0C67.9,2.7 74.7,10.2 78.8,16.1C83.0,21.9 87.0,29.4 90.5,35.0C94.0,40.6 98.4,47.2 100.0,49.6" fill="none" stroke="rgb(91,91,91)" stroke-width="1.76" stroke-linecap="round" style="mix-blend-mode:screen"/><path d="M90.5,0.0C91.0,2.4 91.8,10.0 93.4,14.6C95.0,19.2 98.9,25.5 100.0,27.7" fill="none" stroke="rgb(91,91,91)" stroke-width="1.76" stroke-linecap="round" style="mix-blend-mode:screen"/><path d="M48.2,0.0C50.4,3.6 56.7,14.6 61.3,21.9C65.9,29.2 71.5,36.5 75.9,43.8C80.3,51.1 83.6,59.4 87.6,65.7C91.6,72.0 97.9,79.1 100.0,81.8" fill="none" stroke="rgb(91,91,91)" stroke-width="2.64" stroke-linecap="round" style="mix-blend-mode:screen"/><path d="M70.1,78.8C72.0,80.8 78.3,87.0 81.8,90.5C85.2,94.0 89.1,98.4 90.5,100.0" fill="none" stroke="rgb(91,91,91)" stroke-width="1.76" stroke-linecap="round" style="mix-blend-mode:screen"/><path d="M90.5,54.0L100.0,62.8" fill="none" stroke="rgb(91,91,91)" stroke-width="1.54" stroke-linecap="round" style="mix-blend-mode:screen"/><path d="M96.4,0.0L100.0,5.8" fill="none" stroke="rgb(91,91,91)" stroke-width="1.76" stroke-linecap="round" style="mix-blend-mode:screen"/></g></svg>
<rect x="250.6" y="35.0" width="49.3" height="49.3" fill="none" stroke="#f3b48c" stroke-width="1"/>
<circle cx="260.6" cy="25.4" r="0.6" fill="#333"/>
<circle cx="262.8" cy="23.4" r="0.6" fill="#333"/>
<circle cx="265.0" cy="21.4" r="0.6" fill="#333"/>
<circle cx="310.1" cy="74.9" r="0.6" fill="#333"/>
<circle cx="312.3" cy="72.9" r="0.6" fill="#333"/>
<circle cx="314.5" cy="70.9" r="0.6" fill="#333"/>
<text x="278.5" y="99.6" font-size="10.3" text-anchor="middle" fill="#111" stroke="#111" stroke-width="0.22" >Deep features</text>
<rect x="321" y="6" width="130" height="82" rx="11" fill="#dcdcdc"/>
<line x1="318" y1="49" x2="324.6" y2="49" stroke="#111" stroke-width="1.1" />
<polygon points="328.6,49.0 324.1,46.5 324.1,51.5" fill="#111" stroke="none" stroke-width="0" stroke-linejoin="round" />
<polygon points="328.6,35.0 346.2,16.3 353.0,16.3 335.4,35.0" fill="#f8e073" stroke="#1a1a1a" stroke-width="1.2" stroke-linejoin="round" />
<polygon points="335.4,35.0 353.0,16.3 353.0,63.3 335.4,82.0" fill="#cdb85d" stroke="#1a1a1a" stroke-width="1.2" stroke-linejoin="round" />
<polygon points="328.6,35.0 335.4,35.0 335.4,82.0 328.6,82.0" fill="#f8e073" stroke="#1a1a1a" stroke-width="1.2" stroke-linejoin="round" />
<polygon points="352.4,35.0 370.0,16.3 376.8,16.3 359.2,35.0" fill="#a8d08d" stroke="#1a1a1a" stroke-width="1.2" stroke-linejoin="round" />
<polygon points="359.2,35.0 376.8,16.3 376.8,63.3 359.2,82.0" fill="#a2cf88" stroke="#1a1a1a" stroke-width="1.2" stroke-linejoin="round" />
<polygon points="352.4,35.0 359.2,35.0 359.2,82.0 352.4,82.0" fill="#a8d08d" stroke="#1a1a1a" stroke-width="1.2" stroke-linejoin="round" />
<polygon points="375.6,35.0 393.2,16.3 400.0,16.3 382.4,35.0" fill="#f8e073" stroke="#1a1a1a" stroke-width="1.2" stroke-linejoin="round" />
<polygon points="382.4,35.0 400.0,16.3 400.0,63.3 382.4,82.0" fill="#cdb85d" stroke="#1a1a1a" stroke-width="1.2" stroke-linejoin="round" />
<polygon points="375.6,35.0 382.4,35.0 382.4,82.0 375.6,82.0" fill="#f8e073" stroke="#1a1a1a" stroke-width="1.2" stroke-linejoin="round" />
<polygon points="398.6,35.0 416.2,16.3 423.0,16.3 405.4,35.0" fill="#a8d08d" stroke="#1a1a1a" stroke-width="1.2" stroke-linejoin="round" />
<polygon points="405.4,35.0 423.0,16.3 423.0,63.3 405.4,82.0" fill="#a2cf88" stroke="#1a1a1a" stroke-width="1.2" stroke-linejoin="round" />
<polygon points="398.6,35.0 405.4,35.0 405.4,82.0 398.6,82.0" fill="#a8d08d" stroke="#1a1a1a" stroke-width="1.2" stroke-linejoin="round" />
<polygon points="421.6,35.0 439.2,16.3 446.0,16.3 428.4,35.0" fill="#f8e073" stroke="#1a1a1a" stroke-width="1.2" stroke-linejoin="round" />
<polygon points="428.4,35.0 446.0,16.3 446.0,63.3 428.4,82.0" fill="#cdb85d" stroke="#1a1a1a" stroke-width="1.2" stroke-linejoin="round" />
<polygon points="421.6,35.0 428.4,35.0 428.4,82.0 421.6,82.0" fill="#f8e073" stroke="#1a1a1a" stroke-width="1.2" stroke-linejoin="round" />
<line x1="345.1" y1="49" x2="352.4" y2="49" stroke="#111" stroke-width="1" />
<line x1="368.9" y1="49" x2="375.6" y2="49" stroke="#111" stroke-width="1" />
<line x1="392.1" y1="49" x2="398.6" y2="49" stroke="#111" stroke-width="1" />
<line x1="415.1" y1="49" x2="421.6" y2="49" stroke="#111" stroke-width="1" />
<line x1="438.1" y1="49" x2="452.0" y2="49" stroke="#111" stroke-width="1.1" />
<polygon points="456.0,49.0 451.5,46.5 451.5,51.5" fill="#111" stroke="none" stroke-width="0" stroke-linejoin="round" />
<text x="387" y="100" font-size="10.3" text-anchor="middle" fill="#111" stroke="#111" stroke-width="0.22" >Uncertainty (Uncer.) tail</text>
<svg x="459" y="6" width="82" height="82" viewBox="0 0 100 100" preserveAspectRatio="none" overflow="hidden"><g filter="url(#f9)"><rect x="0" y="0" width="100" height="100" fill="rgb(25,25,25)"/><path d="M19.0,0.0C18.4,3.6 15.8,15.6 15.3,21.9C14.8,28.2 15.0,33.3 16.1,38.0C17.2,42.6 18.2,43.3 21.9,49.6C25.5,56.0 33.1,67.5 38.0,75.9C42.8,84.3 48.9,96.0 51.1,100.0" fill="none" stroke="rgb(158,158,158)" stroke-width="2.20" stroke-linecap="round" style="mix-blend-mode:screen"/><path d="M42.3,0.0C43.3,3.2 45.5,11.7 48.2,19.0C50.9,26.3 55.5,34.8 58.4,43.8C61.3,52.8 64.0,63.6 65.7,73.0C67.4,82.4 68.1,95.5 68.6,100.0" fill="none" stroke="rgb(158,158,158)" stroke-width="2.20" stroke-linecap="round" style="mix-blend-mode:screen"/><path d="M0.0,71.5C4.9,73.7 20.7,80.8 29.2,84.7C37.7,88.6 45.7,92.3 51.1,94.9C56.4,97.4 59.6,99.1 61.3,100.0" fill="none" stroke="rgb(158,158,158)" stroke-width="1.76" stroke-linecap="round" style="mix-blend-mode:screen"/><path d="M11.7,38.7C14.6,41.5 23.1,49.3 29.2,55.5C35.3,61.7 42.6,68.5 48.2,75.9C53.8,83.3 60.3,96.0 62.8,100.0" fill="none" stroke="rgb(158,158,158)" stroke-width="1.98" stroke-linecap="round" style="mix-blend-mode:screen"/><path d="M20.4,35.0C24.3,37.2 36.7,43.6 43.8,48.2C50.9,52.8 56.4,58.2 62.8,62.8C69.1,67.4 75.5,71.8 81.8,75.9C88.0,80.0 97.0,85.6 100.0,87.6" fill="none" stroke="rgb(158,158,158)" stroke-width="2.20" stroke-linecap="round" style="mix-blend-mode:screen"/><path d="M35.0,17.5C36.0,20.9 38.7,30.7 40.9,38.0C43.1,45.3 45.3,54.0 48.2,61.3C51.1,68.6 55.7,75.3 58.4,81.8C61.1,88.2 63.3,97.0 64.2,100.0" fill="none" stroke="rgb(158,158,158)" stroke-width="1.98" stroke-linecap="round" style="mix-blend-mode:screen"/><path d="M4.4,1.5C9.7,3.2 26.3,7.8 36.5,11.7C46.7,15.6 57.2,20.2 65.7,24.8C74.2,29.4 81.9,35.5 87.6,39.4C93.3,43.3 97.9,46.7 100.0,48.2" fill="none" stroke="rgb(158,158,158)" stroke-width="1.76" stroke-linecap="round" style="mix-blend-mode:screen"/><path d="M61.3,0.0C62.3,4.9 64.2,21.2 67.2,29.2C70.1,37.2 74.9,41.6 78.8,48.2C82.7,54.7 87.0,63.0 90.5,68.6C94.0,74.2 98.4,79.6 100.0,81.8" fill="none" stroke="rgb(158,158,158)" stroke-width="1.98" stroke-linecap="round" style="mix-blend-mode:screen"/><path d="M65.7,0.0C67.9,2.7 74.7,10.2 78.8,16.1C83.0,21.9 87.0,29.4 90.5,35.0C94.0,40.6 98.4,47.2 100.0,49.6" fill="none" stroke="rgb(158,158,158)" stroke-width="1.76" stroke-linecap="round" style="mix-blend-mode:screen"/><path d="M90.5,0.0C91.0,2.4 91.8,10.0 93.4,14.6C95.0,19.2 98.9,25.5 100.0,27.7" fill="none" stroke="rgb(158,158,158)" stroke-width="1.76" stroke-linecap="round" style="mix-blend-mode:screen"/><path d="M48.2,0.0C50.4,3.6 56.7,14.6 61.3,21.9C65.9,29.2 71.5,36.5 75.9,43.8C80.3,51.1 83.6,59.4 87.6,65.7C91.6,72.0 97.9,79.1 100.0,81.8" fill="none" stroke="rgb(158,158,158)" stroke-width="2.64" stroke-linecap="round" style="mix-blend-mode:screen"/><path d="M70.1,78.8C72.0,80.8 78.3,87.0 81.8,90.5C85.2,94.0 89.1,98.4 90.5,100.0" fill="none" stroke="rgb(158,158,158)" stroke-width="1.76" stroke-linecap="round" style="mix-blend-mode:screen"/><path d="M90.5,54.0L100.0,62.8" fill="none" stroke="rgb(158,158,158)" stroke-width="1.54" stroke-linecap="round" style="mix-blend-mode:screen"/><path d="M96.4,0.0L100.0,5.8" fill="none" stroke="rgb(158,158,158)" stroke-width="1.76" stroke-linecap="round" style="mix-blend-mode:screen"/><path d="M58.4,5.8C60.1,8.0 64.7,13.4 68.6,19.0C72.5,24.6 78.1,33.3 81.8,39.4C85.4,45.5 87.8,49.9 90.5,55.5C93.2,61.1 96.2,69.1 97.8,73.0C99.4,76.9 99.6,77.9 100.0,78.8" fill="none" stroke="rgb(158,158,158)" stroke-width="2.20" stroke-linecap="round" style="mix-blend-mode:screen"/><path d="M61.3,29.2C61.8,31.6 64.0,38.9 64.2,43.8C64.5,48.7 62.8,53.5 62.8,58.4C62.8,63.3 63.0,66.1 64.2,73.0C65.5,79.9 69.1,95.5 70.1,100.0" fill="none" stroke="rgb(158,158,158)" stroke-width="1.76" stroke-linecap="round" style="mix-blend-mode:screen"/><path d="M75.9,0.0C76.9,1.9 78.8,6.8 81.8,11.7C84.7,16.5 90.4,25.1 93.4,29.2C96.5,33.3 98.9,35.3 100.0,36.5" fill="none" stroke="rgb(158,158,158)" stroke-width="1.76" stroke-linecap="round" style="mix-blend-mode:screen"/><path d="M43.8,0.0C44.2,2.9 44.8,10.7 46.0,17.5C47.2,24.3 49.5,33.6 51.1,40.9C52.7,48.2 54.3,54.5 55.5,61.3C56.7,68.1 57.7,75.3 58.4,81.8C59.1,88.2 59.6,97.0 59.9,100.0" fill="none" stroke="rgb(158,158,158)" stroke-width="1.98" stroke-linecap="round" style="mix-blend-mode:screen"/><path d="M81.8,81.8C83.2,83.2 88.1,87.5 90.5,90.5C92.9,93.6 95.4,98.4 96.4,100.0" fill="none" stroke="rgb(158,158,158)" stroke-width="1.76" stroke-linecap="round" style="mix-blend-mode:screen"/><path d="M23.4,38.0C25.1,38.9 29.7,40.9 33.6,43.8C37.5,46.7 42.6,51.3 46.7,55.5C50.9,59.6 54.7,64.2 58.4,68.6C62.0,73.0 65.7,76.5 68.6,81.8C71.5,87.0 74.7,97.0 75.9,100.0" fill="none" stroke="rgb(158,158,158)" stroke-width="1.76" stroke-linecap="round" style="mix-blend-mode:screen"/><circle cx="42.3" cy="3.6" r="1.30" fill="rgb(216,216,216)"/><circle cx="46.7" cy="16.1" r="1.30" fill="rgb(216,216,216)"/><circle cx="63.5" cy="19.7" r="1.30" fill="rgb(216,216,216)"/><circle cx="43.1" cy="50.4" r="1.30" fill="rgb(216,216,216)"/><circle cx="78.8" cy="17.5" r="1.30" fill="rgb(216,216,216)"/><circle cx="81.8" cy="52.6" r="1.30" fill="rgb(216,216,216)"/><circle cx="93.4" cy="74.5" r="1.30" fill="rgb(216,216,216)"/><circle cx="97.8" cy="2.9" r="1.30" fill="rgb(216,216,216)"/><circle cx="19.0" cy="48.2" r="1.30" fill="rgb(216,216,216)"/></g></svg>
<defs><linearGradient id="jetv" x1="0" y1="1" x2="0" y2="0"><stop offset="0" stop-color="#00008f"/><stop offset="0.125" stop-color="#0000ff"/><stop offset="0.375" stop-color="#00ffff"/><stop offset="0.625" stop-color="#ffff00"/><stop offset="0.875" stop-color="#ff0000"/><stop offset="1" stop-color="#800000"/></linearGradient></defs>
<rect x="542" y="6" width="3.6" height="82" fill="url(#jetv)"/>
<text x="502.2" y="100" font-size="10.3" text-anchor="middle" fill="#111" stroke="#111" stroke-width="0.22" >AleaU (STD)</text>
<rect x="9" y="114.6" width="194" height="142.4" rx="11" fill="#fff" stroke="#222" stroke-width="1"/>
<polygon points="25.3,127.8 33.8,120.1 36.9,120.1 28.4,127.8" fill="#f8e073" stroke="#1a1a1a" stroke-width="1.1" stroke-linejoin="round" />
<polygon points="28.4,127.8 36.9,120.1 36.9,142.7 28.4,150.4" fill="#cdb85d" stroke="#1a1a1a" stroke-width="1.1" stroke-linejoin="round" />
<polygon points="25.3,127.8 28.4,127.8 28.4,150.4 25.3,150.4" fill="#f8e073" stroke="#1a1a1a" stroke-width="1.1" stroke-linejoin="round" />
<text x="44.2" y="138.9" font-size="10" text-anchor="start" fill="#111" stroke="#111" stroke-width="0.22" >Convolution</text>
<polygon points="25.3,162.7 33.8,155.0 36.9,155.0 28.4,162.7" fill="#a8d08d" stroke="#1a1a1a" stroke-width="1.1" stroke-linejoin="round" />
<polygon points="28.4,162.7 36.9,155.0 36.9,177.6 28.4,185.3" fill="#a2cf88" stroke="#1a1a1a" stroke-width="1.1" stroke-linejoin="round" />
<polygon points="25.3,162.7 28.4,162.7 28.4,185.3 25.3,185.3" fill="#a8d08d" stroke="#1a1a1a" stroke-width="1.1" stroke-linejoin="round" />
<text x="44.2" y="173" font-size="10" text-anchor="start" fill="#111" stroke="#111" stroke-width="0.22" >ELU activation</text>
<polygon points="123.0,127.8 131.5,120.1 134.6,120.1 126.1,127.8" fill="#c8c8c8" stroke="#1a1a1a" stroke-width="1.1" stroke-linejoin="round" />
<polygon points="126.1,127.8 134.6,120.1 134.6,142.7 126.1,150.4" fill="#b4b4b4" stroke="#1a1a1a" stroke-width="1.1" stroke-linejoin="round" />
<polygon points="123.0,127.8 126.1,127.8 126.1,150.4 123.0,150.4" fill="#c8c8c8" stroke="#1a1a1a" stroke-width="1.1" stroke-linejoin="round" />
<text x="142.4" y="138.6" font-size="10" text-anchor="start" fill="#111" stroke="#111" stroke-width="0.22" >Pixel shuffle</text>
<polygon points="118.0,165.6 125.0,158.6 139.0,158.6 132.0,165.6" fill="#dcebfb" stroke="#1a1a1a" stroke-width="0.9" stroke-linejoin="round" />
<polygon points="132.0,165.6 139.0,158.6 139.0,174.6 132.0,181.6" fill="#a6bacf" stroke="#1a1a1a" stroke-width="0.9" stroke-linejoin="round" />
<polygon points="118.0,165.6 132.0,165.6 132.0,181.6 118.0,181.6" fill="#cfe4f9" stroke="#1a1a1a" stroke-width="0.9" stroke-linejoin="round" />
<text x="145.4" y="165.4" font-size="10" text-anchor="start" fill="#111" stroke="#111" stroke-width="0.22" >Residual</text>
<text x="145.4" y="177.3" font-size="10" text-anchor="start" fill="#111" stroke="#111" stroke-width="0.22" >group</text>
<line x1="23.6" y1="199.6" x2="37.0" y2="199.6" stroke="#111" stroke-width="1" />
<polygon points="40.5,199.6 36.5,197.4 36.5,201.8" fill="#111" stroke="none" stroke-width="0" stroke-linejoin="round" />
<text x="43.6" y="203.6" font-size="10" text-anchor="start" fill="#111" stroke="#111" stroke-width="0.22" >Forward information pass</text>
<line x1="23.6" y1="220.6" x2="37" y2="220.6" stroke="#3d9be9" stroke-width="1" stroke-dasharray="3,2"/>
<polygon points="40.5,220.6 36.5,218.6 36.5,222.6" fill="#3d9be9" stroke="none" stroke-width="0" stroke-linejoin="round" />
<text x="43.6" y="224.8" font-size="10" text-anchor="start" fill="#111" stroke="#111" stroke-width="0.22" >Step1: Loss back propagation</text>
<line x1="23.6" y1="242.4" x2="37" y2="242.4" stroke="#2eb82e" stroke-width="1" stroke-dasharray="3,2"/>
<polygon points="40.5,242.4 36.5,240.4 36.5,244.4" fill="#2eb82e" stroke="none" stroke-width="0" stroke-linejoin="round" />
<text x="43.6" y="246.4" font-size="10" text-anchor="start" fill="#111" stroke="#111" stroke-width="0.22" >Step2: Loss back propagation</text>
<text font-size="10.3" fill="#111" stroke="#111" stroke-width="0.22" text-anchor="middle" transform="translate(220.5,131) rotate(-90)">Reconstruction</text>
<text font-size="10.3" fill="#111" stroke="#111" stroke-width="0.22" text-anchor="middle" transform="translate(233,130) rotate(-90)">(Rec.) tail</text>
<rect x="238" y="103" width="82" height="57" rx="9" fill="#dce8f5"/>
<polygon points="246.0,106.4 293.0,106.4 311.0,125.0 264.0,125.0" fill="#c6c6c6" stroke="#1a1a1a" stroke-width="0.9" stroke-linejoin="round" />
<polygon points="246.0,106.4 264.0,125.0 264.0,131.0 246.0,112.0" fill="#b0b0b0" stroke="#1a1a1a" stroke-width="0.9" stroke-linejoin="round" />
<polygon points="264.0,125.0 311.0,125.0 311.0,131.0 264.0,131.0" fill="#b8b8b8" stroke="#1a1a1a" stroke-width="0.9" stroke-linejoin="round" />
<polygon points="246.0,129.0 293.0,129.0 311.0,147.6 264.0,147.6" fill="#cdb85d" stroke="#1a1a1a" stroke-width="0.9" stroke-linejoin="round" />
<polygon points="246.0,129.0 264.0,147.6 264.0,153.4 246.0,135.0" fill="#f8e073" stroke="#1a1a1a" stroke-width="0.9" stroke-linejoin="round" />
<polygon points="264.0,147.6 311.0,147.6 311.0,153.4 264.0,153.4" fill="#f8e073" stroke="#1a1a1a" stroke-width="0.9" stroke-linejoin="round" />
<line x1="279" y1="100.5" x2="279" y2="109" stroke="#111" stroke-width="0.9" />
<polygon points="279.0,112.0 277.0,108.0 281.0,108.0" fill="#111" stroke="none" stroke-width="0" stroke-linejoin="round" />
<line x1="279" y1="131" x2="279" y2="136" stroke="#444" stroke-width="0.7" />
<line x1="279" y1="153.4" x2="279" y2="160" stroke="#111" stroke-width="0.9" />
<polygon points="279.0,163.5 277.0,159.5 281.0,159.5" fill="#111" stroke="none" stroke-width="0" stroke-linejoin="round" />
<text x="279.5" y="172.2" font-size="10.3" text-anchor="middle" fill="#111" stroke="#111" stroke-width="0.22" >SR-SIM (Mean)</text>
<svg x="238" y="175" width="82" height="82" viewBox="0 0 100 100" preserveAspectRatio="none" overflow="hidden"><g filter="url(#f10)"><rect x="0" y="0" width="100" height="100" fill="rgb(10,10,10)"/><path d="M19.0,0.0C18.4,3.6 15.8,15.6 15.3,21.9C14.8,28.2 15.0,33.3 16.1,38.0C17.2,42.6 18.2,43.3 21.9,49.6C25.5,56.0 33.1,67.5 38.0,75.9C42.8,84.3 48.9,96.0 51.1,100.0" fill="none" stroke="rgb(183,183,183)" stroke-opacity="0.3" stroke-width="4.20" style="mix-blend-mode:screen"/><path d="M19.0,0.0C18.4,3.6 15.8,15.6 15.3,21.9C14.8,28.2 15.0,33.3 16.1,38.0C17.2,42.6 18.2,43.3 21.9,49.6C25.5,56.0 33.1,67.5 38.0,75.9C42.8,84.3 48.9,96.0 51.1,100.0" fill="none" stroke="rgb(183,183,183)" stroke-width="1.40" stroke-linecap="round" style="mix-blend-mode:screen"/><path d="M42.3,0.0C43.3,3.2 45.5,11.7 48.2,19.0C50.9,26.3 55.5,34.8 58.4,43.8C61.3,52.8 64.0,63.6 65.7,73.0C67.4,82.4 68.1,95.5 68.6,100.0" fill="none" stroke="rgb(183,183,183)" stroke-opacity="0.3" stroke-width="4.20" style="mix-blend-mode:screen"/><path d="M42.3,0.0C43.3,3.2 45.5,11.7 48.2,19.0C50.9,26.3 55.5,34.8 58.4,43.8C61.3,52.8 64.0,63.6 65.7,73.0C67.4,82.4 68.1,95.5 68.6,100.0" fill="none" stroke="rgb(183,183,183)" stroke-width="1.40" stroke-linecap="round" style="mix-blend-mode:screen"/><path d="M0.0,71.5C4.9,73.7 20.7,80.8 29.2,84.7C37.7,88.6 45.7,92.3 51.1,94.9C56.4,97.4 59.6,99.1 61.3,100.0" fill="none" stroke="rgb(183,183,183)" stroke-opacity="0.3" stroke-width="3.36" style="mix-blend-mode:screen"/><path d="M0.0,71.5C4.9,73.7 20.7,80.8 29.2,84.7C37.7,88.6 45.7,92.3 51.1,94.9C56.4,97.4 59.6,99.1 61.3,100.0" fill="none" stroke="rgb(183,183,183)" stroke-width="1.12" stroke-linecap="round" style="mix-blend-mode:screen"/><path d="M11.7,38.7C14.6,41.5 23.1,49.3 29.2,55.5C35.3,61.7 42.6,68.5 48.2,75.9C53.8,83.3 60.3,96.0 62.8,100.0" fill="none" stroke="rgb(183,183,183)" stroke-opacity="0.3" stroke-width="3.78" style="mix-blend-mode:screen"/><path d="M11.7,38.7C14.6,41.5 23.1,49.3 29.2,55.5C35.3,61.7 42.6,68.5 48.2,75.9C53.8,83.3 60.3,96.0 62.8,100.0" fill="none" stroke="rgb(183,183,183)" stroke-width="1.26" stroke-linecap="round" style="mix-blend-mode:screen"/><path d="M20.4,35.0C24.3,37.2 36.7,43.6 43.8,48.2C50.9,52.8 56.4,58.2 62.8,62.8C69.1,67.4 75.5,71.8 81.8,75.9C88.0,80.0 97.0,85.6 100.0,87.6" fill="none" stroke="rgb(183,183,183)" stroke-opacity="0.3" stroke-width="4.20" style="mix-blend-mode:screen"/><path d="M20.4,35.0C24.3,37.2 36.7,43.6 43.8,48.2C50.9,52.8 56.4,58.2 62.8,62.8C69.1,67.4 75.5,71.8 81.8,75.9C88.0,80.0 97.0,85.6 100.0,87.6" fill="none" stroke="rgb(183,183,183)" stroke-width="1.40" stroke-linecap="round" style="mix-blend-mode:screen"/><path d="M35.0,17.5C36.0,20.9 38.7,30.7 40.9,38.0C43.1,45.3 45.3,54.0 48.2,61.3C51.1,68.6 55.7,75.3 58.4,81.8C61.1,88.2 63.3,97.0 64.2,100.0" fill="none" stroke="rgb(183,183,183)" stroke-opacity="0.3" stroke-width="3.78" style="mix-blend-mode:screen"/><path d="M35.0,17.5C36.0,20.9 38.7,30.7 40.9,38.0C43.1,45.3 45.3,54.0 48.2,61.3C51.1,68.6 55.7,75.3 58.4,81.8C61.1,88.2 63.3,97.0 64.2,100.0" fill="none" stroke="rgb(183,183,183)" stroke-width="1.26" stroke-linecap="round" style="mix-blend-mode:screen"/><path d="M4.4,1.5C9.7,3.2 26.3,7.8 36.5,11.7C46.7,15.6 57.2,20.2 65.7,24.8C74.2,29.4 81.9,35.5 87.6,39.4C93.3,43.3 97.9,46.7 100.0,48.2" fill="none" stroke="rgb(183,183,183)" stroke-opacity="0.3" stroke-width="3.36" style="mix-blend-mode:screen"/><path d="M4.4,1.5C9.7,3.2 26.3,7.8 36.5,11.7C46.7,15.6 57.2,20.2 65.7,24.8C74.2,29.4 81.9,35.5 87.6,39.4C93.3,43.3 97.9,46.7 100.0,48.2" fill="none" stroke="rgb(183,183,183)" stroke-width="1.12" stroke-linecap="round" style="mix-blend-mode:screen"/><path d="M61.3,0.0C62.3,4.9 64.2,21.2 67.2,29.2C70.1,37.2 74.9,41.6 78.8,48.2C82.7,54.7 87.0,63.0 90.5,68.6C94.0,74.2 98.4,79.6 100.0,81.8" fill="none" stroke="rgb(183,183,183)" stroke-opacity="0.3" stroke-width="3.78" style="mix-blend-mode:screen"/><path d="M61.3,0.0C62.3,4.9 64.2,21.2 67.2,29.2C70.1,37.2 74.9,41.6 78.8,48.2C82.7,54.7 87.0,63.0 90.5,68.6C94.0,74.2 98.4,79.6 100.0,81.8" fill="none" stroke="rgb(183,183,183)" stroke-width="1.26" stroke-linecap="round" style="mix-blend-mode:screen"/><path d="M65.7,0.0C67.9,2.7 74.7,10.2 78.8,16.1C83.0,21.9 87.0,29.4 90.5,35.0C94.0,40.6 98.4,47.2 100.0,49.6" fill="none" stroke="rgb(183,183,183)" stroke-opacity="0.3" stroke-width="3.36" style="mix-blend-mode:screen"/><path d="M65.7,0.0C67.9,2.7 74.7,10.2 78.8,16.1C83.0,21.9 87.0,29.4 90.5,35.0C94.0,40.6 98.4,47.2 100.0,49.6" fill="none" stroke="rgb(183,183,183)" stroke-width="1.12" stroke-linecap="round" style="mix-blend-mode:screen"/><path d="M90.5,0.0C91.0,2.4 91.8,10.0 93.4,14.6C95.0,19.2 98.9,25.5 100.0,27.7" fill="none" stroke="rgb(183,183,183)" stroke-opacity="0.3" stroke-width="3.36" style="mix-blend-mode:screen"/><path d="M90.5,0.0C91.0,2.4 91.8,10.0 93.4,14.6C95.0,19.2 98.9,25.5 100.0,27.7" fill="none" stroke="rgb(183,183,183)" stroke-width="1.12" stroke-linecap="round" style="mix-blend-mode:screen"/><path d="M48.2,0.0C50.4,3.6 56.7,14.6 61.3,21.9C65.9,29.2 71.5,36.5 75.9,43.8C80.3,51.1 83.6,59.4 87.6,65.7C91.6,72.0 97.9,79.1 100.0,81.8" fill="none" stroke="rgb(183,183,183)" stroke-opacity="0.3" stroke-width="5.04" style="mix-blend-mode:screen"/><path d="M48.2,0.0C50.4,3.6 56.7,14.6 61.3,21.9C65.9,29.2 71.5,36.5 75.9,43.8C80.3,51.1 83.6,59.4 87.6,65.7C91.6,72.0 97.9,79.1 100.0,81.8" fill="none" stroke="rgb(183,183,183)" stroke-width="1.68" stroke-linecap="round" style="mix-blend-mode:screen"/><path d="M70.1,78.8C72.0,80.8 78.3,87.0 81.8,90.5C85.2,94.0 89.1,98.4 90.5,100.0" fill="none" stroke="rgb(183,183,183)" stroke-opacity="0.3" stroke-width="3.36" style="mix-blend-mode:screen"/><path d="M70.1,78.8C72.0,80.8 78.3,87.0 81.8,90.5C85.2,94.0 89.1,98.4 90.5,100.0" fill="none" stroke="rgb(183,183,183)" stroke-width="1.12" stroke-linecap="round" style="mix-blend-mode:screen"/><path d="M90.5,54.0L100.0,62.8" fill="none" stroke="rgb(183,183,183)" stroke-opacity="0.3" stroke-width="2.94" style="mix-blend-mode:screen"/><path d="M90.5,54.0L100.0,62.8" fill="none" stroke="rgb(183,183,183)" stroke-width="0.98" stroke-linecap="round" style="mix-blend-mode:screen"/><path d="M96.4,0.0L100.0,5.8" fill="none" stroke="rgb(183,183,183)" stroke-opacity="0.3" stroke-width="3.36" style="mix-blend-mode:screen"/><path d="M96.4,0.0L100.0,5.8" fill="none" stroke="rgb(183,183,183)" stroke-width="1.12" stroke-linecap="round" style="mix-blend-mode:screen"/></g></svg>
<svg x="458.5" y="175" width="82.5" height="82" viewBox="0 0 100 100" preserveAspectRatio="none" overflow="hidden"><g filter="url(#f11)"><rect x="0" y="0" width="100" height="100" fill="rgb(12,12,12)"/><path d="M19.0,0.0C18.4,3.6 15.8,15.6 15.3,21.9C14.8,28.2 15.0,33.3 16.1,38.0C17.2,42.6 18.2,43.3 21.9,49.6C25.5,56.0 33.1,67.5 38.0,75.9C42.8,84.3 48.9,96.0 51.1,100.0" fill="none" stroke="rgb(191,191,191)" stroke-opacity="0.2" stroke-width="3.75" style="mix-blend-mode:screen"/><path d="M19.0,0.0C18.4,3.6 15.8,15.6 15.3,21.9C14.8,28.2 15.0,33.3 16.1,38.0C17.2,42.6 18.2,43.3 21.9,49.6C25.5,56.0 33.1,67.5 38.0,75.9C42.8,84.3 48.9,96.0 51.1,100.0" fill="none" stroke="rgb(191,191,191)" stroke-width="1.25" stroke-linecap="round" style="mix-blend-mode:screen"/><path d="M42.3,0.0C43.3,3.2 45.5,11.7 48.2,19.0C50.9,26.3 55.5,34.8 58.4,43.8C61.3,52.8 64.0,63.6 65.7,73.0C67.4,82.4 68.1,95.5 68.6,100.0" fill="none" stroke="rgb(191,191,191)" stroke-opacity="0.2" stroke-width="3.75" style="mix-blend-mode:screen"/><path d="M42.3,0.0C43.3,3.2 45.5,11.7 48.2,19.0C50.9,26.3 55.5,34.8 58.4,43.8C61.3,52.8 64.0,63.6 65.7,73.0C67.4,82.4 68.1,95.5 68.6,100.0" fill="none" stroke="rgb(191,191,191)" stroke-width="1.25" stroke-linecap="round" style="mix-blend-mode:screen"/><path d="M0.0,71.5C4.9,73.7 20.7,80.8 29.2,84.7C37.7,88.6 45.7,92.3 51.1,94.9C56.4,97.4 59.6,99.1 61.3,100.0" fill="none" stroke="rgb(191,191,191)" stroke-opacity="0.2" stroke-width="3.00" style="mix-blend-mode:screen"/><path d="M0.0,71.5C4.9,73.7 20.7,80.8 29.2,84.7C37.7,88.6 45.7,92.3 51.1,94.9C56.4,97.4 59.6,99.1 61.3,100.0" fill="none" stroke="rgb(191,191,191)" stroke-width="1.00" stroke-linecap="round" style="mix-blend-mode:screen"/><path d="M11.7,38.7C14.6,41.5 23.1,49.3 29.2,55.5C35.3,61.7 42.6,68.5 48.2,75.9C53.8,83.3 60.3,96.0 62.8,100.0" fill="none" stroke="rgb(191,191,191)" stroke-opacity="0.2" stroke-width="3.38" style="mix-blend-mode:screen"/><path d="M11.7,38.7C14.6,41.5 23.1,49.3 29.2,55.5C35.3,61.7 42.6,68.5 48.2,75.9C53.8,83.3 60.3,96.0 62.8,100.0" fill="none" stroke="rgb(191,191,191)" stroke-width="1.12" stroke-linecap="round" style="mix-blend-mode:screen"/><path d="M20.4,35.0C24.3,37.2 36.7,43.6 43.8,48.2C50.9,52.8 56.4,58.2 62.8,62.8C69.1,67.4 75.5,71.8 81.8,75.9C88.0,80.0 97.0,85.6 100.0,87.6" fill="none" stroke="rgb(191,191,191)" stroke-opacity="0.2" stroke-width="3.75" style="mix-blend-mode:screen"/><path d="M20.4,35.0C24.3,37.2 36.7,43.6 43.8,48.2C50.9,52.8 56.4,58.2 62.8,62.8C69.1,67.4 75.5,71.8 81.8,75.9C88.0,80.0 97.0,85.6 100.0,87.6" fill="none" stroke="rgb(191,191,191)" stroke-width="1.25" stroke-linecap="round" style="mix-blend-mode:screen"/><path d="M35.0,17.5C36.0,20.9 38.7,30.7 40.9,38.0C43.1,45.3 45.3,54.0 48.2,61.3C51.1,68.6 55.7,75.3 58.4,81.8C61.1,88.2 63.3,97.0 64.2,100.0" fill="none" stroke="rgb(191,191,191)" stroke-opacity="0.2" stroke-width="3.38" style="mix-blend-mode:screen"/><path d="M35.0,17.5C36.0,20.9 38.7,30.7 40.9,38.0C43.1,45.3 45.3,54.0 48.2,61.3C51.1,68.6 55.7,75.3 58.4,81.8C61.1,88.2 63.3,97.0 64.2,100.0" fill="none" stroke="rgb(191,191,191)" stroke-width="1.12" stroke-linecap="round" style="mix-blend-mode:screen"/><path d="M4.4,1.5C9.7,3.2 26.3,7.8 36.5,11.7C46.7,15.6 57.2,20.2 65.7,24.8C74.2,29.4 81.9,35.5 87.6,39.4C93.3,43.3 97.9,46.7 100.0,48.2" fill="none" stroke="rgb(191,191,191)" stroke-opacity="0.2" stroke-width="3.00" style="mix-blend-mode:screen"/><path d="M4.4,1.5C9.7,3.2 26.3,7.8 36.5,11.7C46.7,15.6 57.2,20.2 65.7,24.8C74.2,29.4 81.9,35.5 87.6,39.4C93.3,43.3 97.9,46.7 100.0,48.2" fill="none" stroke="rgb(191,191,191)" stroke-width="1.00" stroke-linecap="round" style="mix-blend-mode:screen"/><path d="M61.3,0.0C62.3,4.9 64.2,21.2 67.2,29.2C70.1,37.2 74.9,41.6 78.8,48.2C82.7,54.7 87.0,63.0 90.5,68.6C94.0,74.2 98.4,79.6 100.0,81.8" fill="none" stroke="rgb(191,191,191)" stroke-opacity="0.2" stroke-width="3.38" style="mix-blend-mode:screen"/><path d="M61.3,0.0C62.3,4.9 64.2,21.2 67.2,29.2C70.1,37.2 74.9,41.6 78.8,48.2C82.7,54.7 87.0,63.0 90.5,68.6C94.0,74.2 98.4,79.6 100.0,81.8" fill="none" stroke="rgb(191,191,191)" stroke-width="1.12" stroke-linecap="round" style="mix-blend-mode:screen"/><path d="M65.7,0.0C67.9,2.7 74.7,10.2 78.8,16.1C83.0,21.9 87.0,29.4 90.5,35.0C94.0,40.6 98.4,47.2 100.0,49.6" fill="none" stroke="rgb(191,191,191)" stroke-opacity="0.2" stroke-width="3.00" style="mix-blend-mode:screen"/><path d="M65.7,0.0C67.9,2.7 74.7,10.2 78.8,16.1C83.0,21.9 87.0,29.4 90.5,35.0C94.0,40.6 98.4,47.2 100.0,49.6" fill="none" stroke="rgb(191,191,191)" stroke-width="1.00" stroke-linecap="round" style="mix-blend-mode:screen"/><path d="M90.5,0.0C91.0,2.4 91.8,10.0 93.4,14.6C95.0,19.2 98.9,25.5 100.0,27.7" fill="none" stroke="rgb(191,191,191)" stroke-opacity="0.2" stroke-width="3.00" style="mix-blend-mode:screen"/><path d="M90.5,0.0C91.0,2.4 91.8,10.0 93.4,14.6C95.0,19.2 98.9,25.5 100.0,27.7" fill="none" stroke="rgb(191,191,191)" stroke-width="1.00" stroke-linecap="round" style="mix-blend-mode:screen"/><path d="M48.2,0.0C50.4,3.6 56.7,14.6 61.3,21.9C65.9,29.2 71.5,36.5 75.9,43.8C80.3,51.1 83.6,59.4 87.6,65.7C91.6,72.0 97.9,79.1 100.0,81.8" fill="none" stroke="rgb(191,191,191)" stroke-opacity="0.2" stroke-width="4.50" style="mix-blend-mode:screen"/><path d="M48.2,0.0C50.4,3.6 56.7,14.6 61.3,21.9C65.9,29.2 71.5,36.5 75.9,43.8C80.3,51.1 83.6,59.4 87.6,65.7C91.6,72.0 97.9,79.1 100.0,81.8" fill="none" stroke="rgb(191,191,191)" stroke-width="1.50" stroke-linecap="round" style="mix-blend-mode:screen"/><path d="M70.1,78.8C72.0,80.8 78.3,87.0 81.8,90.5C85.2,94.0 89.1,98.4 90.5,100.0" fill="none" stroke="rgb(191,191,191)" stroke-opacity="0.2" stroke-width="3.00" style="mix-blend-mode:screen"/><path d="M70.1,78.8C72.0,80.8 78.3,87.0 81.8,90.5C85.2,94.0 89.1,98.4 90.5,100.0" fill="none" stroke="rgb(191,191,191)" stroke-width="1.00" stroke-linecap="round" style="mix-blend-mode:screen"/><path d="M90.5,54.0L100.0,62.8" fill="none" stroke="rgb(191,191,191)" stroke-opacity="0.2" stroke-width="2.62" style="mix-blend-mode:screen"/><path d="M90.5,54.0L100.0,62.8" fill="none" stroke="rgb(191,191,191)" stroke-width="0.88" stroke-linecap="round" style="mix-blend-mode:screen"/><path d="M96.4,0.0L100.0,5.8" fill="none" stroke="rgb(191,191,191)" stroke-opacity="0.2" stroke-width="3.00" style="mix-blend-mode:screen"/><path d="M96.4,0.0L100.0,5.8" fill="none" stroke="rgb(191,191,191)" stroke-width="1.00" stroke-linecap="round" style="mix-blend-mode:screen"/><path d="M58.4,5.8C60.1,8.0 64.7,13.4 68.6,19.0C72.5,24.6 78.1,33.3 81.8,39.4C85.4,45.5 87.8,49.9 90.5,55.5C93.2,61.1 96.2,69.1 97.8,73.0C99.4,76.9 99.6,77.9 100.0,78.8" fill="none" stroke="rgb(191,191,191)" stroke-opacity="0.2" stroke-width="3.75" style="mix-blend-mode:screen"/><path d="M58.4,5.8C60.1,8.0 64.7,13.4 68.6,19.0C72.5,24.6 78.1,33.3 81.8,39.4C85.4,45.5 87.8,49.9 90.5,55.5C93.2,61.1 96.2,69.1 97.8,73.0C99.4,76.9 99.6,77.9 100.0,78.8" fill="none" stroke="rgb(191,191,191)" stroke-width="1.25" stroke-linecap="round" style="mix-blend-mode:screen"/><path d="M61.3,29.2C61.8,31.6 64.0,38.9 64.2,43.8C64.5,48.7 62.8,53.5 62.8,58.4C62.8,63.3 63.0,66.1 64.2,73.0C65.5,79.9 69.1,95.5 70.1,100.0" fill="none" stroke="rgb(191,191,191)" stroke-opacity="0.2" stroke-width="3.00" style="mix-blend-mode:screen"/><path d="M61.3,29.2C61.8,31.6 64.0,38.9 64.2,43.8C64.5,48.7 62.8,53.5 62.8,58.4C62.8,63.3 63.0,66.1 64.2,73.0C65.5,79.9 69.1,95.5 70.1,100.0" fill="none" stroke="rgb(191,191,191)" stroke-width="1.00" stroke-linecap="round" style="mix-blend-mode:screen"/><path d="M75.9,0.0C76.9,1.9 78.8,6.8 81.8,11.7C84.7,16.5 90.4,25.1 93.4,29.2C96.5,33.3 98.9,35.3 100.0,36.5" fill="none" stroke="rgb(191,191,191)" stroke-opacity="0.2" stroke-width="3.00" style="mix-blend-mode:screen"/><path d="M75.9,0.0C76.9,1.9 78.8,6.8 81.8,11.7C84.7,16.5 90.4,25.1 93.4,29.2C96.5,33.3 98.9,35.3 100.0,36.5" fill="none" stroke="rgb(191,191,191)" stroke-width="1.00" stroke-linecap="round" style="mix-blend-mode:screen"/><path d="M43.8,0.0C44.2,2.9 44.8,10.7 46.0,17.5C47.2,24.3 49.5,33.6 51.1,40.9C52.7,48.2 54.3,54.5 55.5,61.3C56.7,68.1 57.7,75.3 58.4,81.8C59.1,88.2 59.6,97.0 59.9,100.0" fill="none" stroke="rgb(191,191,191)" stroke-opacity="0.2" stroke-width="3.38" style="mix-blend-mode:screen"/><path d="M43.8,0.0C44.2,2.9 44.8,10.7 46.0,17.5C47.2,24.3 49.5,33.6 51.1,40.9C52.7,48.2 54.3,54.5 55.5,61.3C56.7,68.1 57.7,75.3 58.4,81.8C59.1,88.2 59.6,97.0 59.9,100.0" fill="none" stroke="rgb(191,191,191)" stroke-width="1.12" stroke-linecap="round" style="mix-blend-mode:screen"/><path d="M81.8,81.8C83.2,83.2 88.1,87.5 90.5,90.5C92.9,93.6 95.4,98.4 96.4,100.0" fill="none" stroke="rgb(191,191,191)" stroke-opacity="0.2" stroke-width="3.00" style="mix-blend-mode:screen"/><path d="M81.8,81.8C83.2,83.2 88.1,87.5 90.5,90.5C92.9,93.6 95.4,98.4 96.4,100.0" fill="none" stroke="rgb(191,191,191)" stroke-width="1.00" stroke-linecap="round" style="mix-blend-mode:screen"/><path d="M23.4,38.0C25.1,38.9 29.7,40.9 33.6,43.8C37.5,46.7 42.6,51.3 46.7,55.5C50.9,59.6 54.7,64.2 58.4,68.6C62.0,73.0 65.7,76.5 68.6,81.8C71.5,87.0 74.7,97.0 75.9,100.0" fill="none" stroke="rgb(191,191,191)" stroke-opacity="0.2" stroke-width="3.00" style="mix-blend-mode:screen"/><path d="M23.4,38.0C25.1,38.9 29.7,40.9 33.6,43.8C37.5,46.7 42.6,51.3 46.7,55.5C50.9,59.6 54.7,64.2 58.4,68.6C62.0,73.0 65.7,76.5 68.6,81.8C71.5,87.0 74.7,97.0 75.9,100.0" fill="none" stroke="rgb(191,191,191)" stroke-width="1.00" stroke-linecap="round" style="mix-blend-mode:screen"/></g></svg>
<text x="503" y="172.3" font-size="10.3" text-anchor="middle" fill="#111" stroke="#111" stroke-width="0.22" >GT-SIM</text>
<polygon points="325.0,206.6 325.0,223.4 343.0,215.0" fill="#8a8a8a" stroke="none" stroke-width="0" stroke-linejoin="round" />
<polygon points="453.0,207.0 453.0,223.0 435.6,215.0" fill="#8a8a8a" stroke="none" stroke-width="0" stroke-linejoin="round" />
<polygon points="495.0,105.4 510.0,105.4 502.5,114.0" fill="#8a8a8a" stroke="none" stroke-width="0" stroke-linejoin="round" />
<polygon points="495.0,159.4 510.0,159.4 502.5,151.0" fill="#8a8a8a" stroke="none" stroke-width="0" stroke-linejoin="round" />
<rect x="347" y="202" width="85" height="28.4" rx="4.5" fill="#d4dbe6" stroke="#333" stroke-width="0.9"/>
<text x="389.8" y="213.6" font-size="10.1" text-anchor="middle" fill="#111" stroke="#111" stroke-width="0.5" >Step 1 of DeT</text>
<text x="389.6" y="225.3" font-size="9.9" text-anchor="middle" fill="#111" stroke="#111" stroke-width="0.22" >Dual-domain loss</text>
<rect x="453" y="118.6" width="96" height="27.4" rx="4.5" fill="#d4dbe6" stroke="#333" stroke-width="0.9"/>
<text x="499.8" y="129.6" font-size="10.1" text-anchor="middle" fill="#111" stroke="#111" stroke-width="0.5" >Step 2 of DeT</text>
<text x="501.2" y="140.8" font-size="9.9" text-anchor="middle" fill="#111" stroke="#111" stroke-width="0.22" >Heteroscedastic loss</text>
<path d="M398,202 C400,170 392,145 368,128 C355,119 345,114 333,109.5" fill="none" stroke="#3d9be9" stroke-width="1.35" stroke-dasharray="5.5,3.2"/>
<polygon points="329.5,108.0 337.0,105.5 335.0,112.5" fill="#3d9be9" stroke="none" stroke-width="0" stroke-linejoin="round" />
<path d="M390.5,202 C391,180 385,165 370,154 C358,146 342,142 326,140" fill="none" stroke="#3d9be9" stroke-width="1.35" stroke-dasharray="5.5,3.2"/>
<polygon points="321.5,139.5 328.5,136.0 328.5,143.0" fill="#3d9be9" stroke="none" stroke-width="0" stroke-linejoin="round" />
<path d="M452,137 C435,137 415,134 402,124 C396,118 392,112 391.5,107.5" fill="none" stroke="#2eb82e" stroke-width="1.35" stroke-dasharray="5.5,3.2"/>
<polygon points="390.5,103.5 387.0,110.5 394.5,110.0" fill="#2eb82e" stroke="none" stroke-width="0" stroke-linejoin="round" />
<text font-size="10.3" fill="#111" stroke="#111" stroke-width="0.22" transform="translate(340.5,120) rotate(33)">Backbone</text>
<text font-size="10.3" fill="#111" stroke="#111" stroke-width="0.22" transform="translate(332.5,149.5) rotate(24)">Rec. tail</text>
<text font-size="10.3" fill="#111" stroke="#111" stroke-width="0.22" transform="translate(397.8,118.2) rotate(19)">Uncer. tail</text>
<text x="555.3" y="8" font-size="11" text-anchor="start" fill="#111" font-weight="bold" >b</text>
<polyline points="596.6,7 596.6,115 685,115" fill="none" stroke="#222" stroke-width="1.1"/>
<line x1="592.4" y1="22" x2="596.6" y2="22" stroke="#222" stroke-width="1" />
<text x="589.3" y="25.6" font-size="10.3" text-anchor="end" fill="#111" stroke="#111" stroke-width="0.22" >40</text>
<line x1="592.4" y1="61" x2="596.6" y2="61" stroke="#222" stroke-width="1" />
<text x="589.3" y="64.6" font-size="10.3" text-anchor="end" fill="#111" stroke="#111" stroke-width="0.22" >35</text>
<line x1="592.4" y1="99.6" x2="596.6" y2="99.6" stroke="#222" stroke-width="1" />
<text x="589.3" y="103.19999999999999" font-size="10.3" text-anchor="end" fill="#111" stroke="#111" stroke-width="0.22" >30</text>
<line x1="614.4" y1="115" x2="614.4" y2="118.5" stroke="#222" stroke-width="1" />
<line x1="640.5" y1="115" x2="640.5" y2="118.5" stroke="#222" stroke-width="1" />
<line x1="667.3" y1="115" x2="667.3" y2="118.5" stroke="#222" stroke-width="1" />
<text font-size="10" fill="#111" stroke="#111" stroke-width="0.22" text-anchor="middle" transform="translate(571.3,61) rotate(-90)">PSNR <tspan font-style="italic">vs.</tspan> GT-SIM (dB)</text>
<line x1="614.4" y1="51.6" x2="614.4" y2="64" stroke="#222" stroke-width="1.2" />
<line x1="614.4" y1="84.4" x2="614.4" y2="97.4" stroke="#222" stroke-width="1.2" />
<line x1="609.8" y1="51.6" x2="619.0" y2="51.6" stroke="#222" stroke-width="1.2" />
<line x1="609.8" y1="97.4" x2="619.0" y2="97.4" stroke="#222" stroke-width="1.2" />
<rect x="605.3" y="64" width="18.2" height="20.400000000000006" fill="#3b7dc0" stroke="#1a1a1a" stroke-width="1.3"/>
<line x1="605.3" y1="72" x2="623.5" y2="72" stroke="#1a1a1a" stroke-width="1.3" />
<line x1="640.5" y1="50.6" x2="640.5" y2="55.4" stroke="#222" stroke-width="1.2" />
<line x1="640.5" y1="79" x2="640.5" y2="100.4" stroke="#222" stroke-width="1.2" />
<line x1="635.9" y1="50.6" x2="645.1" y2="50.6" stroke="#222" stroke-width="1.2" />
<line x1="635.9" y1="100.4" x2="645.1" y2="100.4" stroke="#222" stroke-width="1.2" />
<rect x="631.4" y="55.4" width="18.2" height="23.6" fill="#7b4ea3" stroke="#1a1a1a" stroke-width="1.3"/>
<line x1="631.4" y1="63.6" x2="649.6" y2="63.6" stroke="#1a1a1a" stroke-width="1.3" />
<line x1="667.3" y1="19.6" x2="667.3" y2="42.4" stroke="#222" stroke-width="1.2" />
<line x1="667.3" y1="66.2" x2="667.3" y2="92" stroke="#222" stroke-width="1.2" />
<line x1="662.6999999999999" y1="19.6" x2="671.9" y2="19.6" stroke="#222" stroke-width="1.2" />
<line x1="662.6999999999999" y1="92" x2="671.9" y2="92" stroke="#222" stroke-width="1.2" />
<rect x="658.5" y="42.4" width="17.6" height="23.800000000000004" fill="#f6a623" stroke="#1a1a1a" stroke-width="1.3"/>
<line x1="658.5" y1="51.8" x2="676.0999999999999" y2="51.8" stroke="#1a1a1a" stroke-width="1.3" />
<polyline points="596.6,123 596.6,231 685,231" fill="none" stroke="#222" stroke-width="1.1"/>
<line x1="592.4" y1="156.6" x2="596.6" y2="156.6" stroke="#222" stroke-width="1" />
<text x="589.3" y="160.2" font-size="10.3" text-anchor="end" fill="#111" stroke="#111" stroke-width="0.22" >160</text>
<line x1="592.4" y1="190" x2="596.6" y2="190" stroke="#222" stroke-width="1" />
<text x="589.3" y="193.6" font-size="10.3" text-anchor="end" fill="#111" stroke="#111" stroke-width="0.22" >140</text>
<line x1="592.4" y1="223" x2="596.6" y2="223" stroke="#222" stroke-width="1" />
<text x="589.3" y="226.6" font-size="10.3" text-anchor="end" fill="#111" stroke="#111" stroke-width="0.22" >120</text>
<line x1="614.4" y1="231" x2="614.4" y2="234.5" stroke="#222" stroke-width="1" />
<line x1="640.5" y1="231" x2="640.5" y2="234.5" stroke="#222" stroke-width="1" />
<line x1="667.3" y1="231" x2="667.3" y2="234.5" stroke="#222" stroke-width="1" />
<text font-size="10.3" fill="#111" stroke="#111" stroke-width="0.22" text-anchor="middle" transform="translate(571.6,185.5) rotate(-90)">Resolution (nm)</text>
<line x1="614.4" y1="135" x2="614.4" y2="146.6" stroke="#222" stroke-width="1.2" />
<line x1="614.4" y1="155.4" x2="614.4" y2="168.4" stroke="#222" stroke-width="1.2" />
<line x1="609.8" y1="135" x2="619.0" y2="135" stroke="#222" stroke-width="1.2" />
<line x1="609.8" y1="168.4" x2="619.0" y2="168.4" stroke="#222" stroke-width="1.2" />
<rect x="605.3" y="146.6" width="18.2" height="8.800000000000011" fill="#3b7dc0" stroke="#1a1a1a" stroke-width="1.3"/>
<line x1="605.3" y1="149.4" x2="623.5" y2="149.4" stroke="#1a1a1a" stroke-width="1.3" />
<line x1="640.5" y1="180" x2="640.5" y2="185" stroke="#222" stroke-width="1.2" />
<line x1="640.5" y1="191.2" x2="640.5" y2="193.2" stroke="#222" stroke-width="1.2" />
<line x1="635.9" y1="180" x2="645.1" y2="180" stroke="#222" stroke-width="1.2" />
<line x1="635.9" y1="193.2" x2="645.1" y2="193.2" stroke="#222" stroke-width="1.2" />
<rect x="631.4" y="185" width="18.2" height="6.199999999999989" fill="#7b4ea3" stroke="#1a1a1a" stroke-width="1.3"/>
<line x1="631.4" y1="188" x2="649.6" y2="188" stroke="#1a1a1a" stroke-width="1.3" />
<line x1="667.3" y1="211.6" x2="667.3" y2="215.4" stroke="#222" stroke-width="1.2" />
<line x1="667.3" y1="224.6" x2="667.3" y2="228.4" stroke="#222" stroke-width="1.2" />
<line x1="662.6999999999999" y1="211.6" x2="671.9" y2="211.6" stroke="#222" stroke-width="1.2" />
<line x1="662.6999999999999" y1="228.4" x2="671.9" y2="228.4" stroke="#222" stroke-width="1.2" />
<rect x="658.5" y="215.4" width="17.6" height="9.199999999999989" fill="#f6a623" stroke="#1a1a1a" stroke-width="1.3"/>
<line x1="658.5" y1="218" x2="676.0999999999999" y2="218" stroke="#1a1a1a" stroke-width="1.3" />
<text font-size="10.3" fill="#111" stroke="#111" stroke-width="0.22" text-anchor="end" transform="translate(624,241.5) rotate(-20)">DFCAN</text>
<text font-size="10.3" fill="#111" stroke="#111" stroke-width="0.22" text-anchor="end" transform="translate(651.5,241.5) rotate(-20)">RCAN</text>
<text font-size="10.3" fill="#111" stroke="#111" stroke-width="0.22" text-anchor="end" transform="translate(681,241.5) rotate(-20)">BayesDL</text>
<text x="0" y="274.4" font-size="11" text-anchor="start" fill="#111" font-weight="bold" >c</text>
<text x="462.3" y="274.2" font-size="11" text-anchor="start" fill="#111" font-weight="bold" >d</text>
<text x="569.2" y="274.4" font-size="11" text-anchor="start" fill="#111" font-weight="bold" >e</text>
<text x="49.0" y="280.6" font-size="10.3" text-anchor="middle" fill="#111" stroke="#111" stroke-width="0.22" >Conv. SIM</text>
<text x="141.5" y="280.6" font-size="10.3" text-anchor="middle" fill="#111" stroke="#111" stroke-width="0.22" >GT-SIM</text>
<text x="233.5" y="280.6" font-size="10.3" text-anchor="middle" fill="#111" stroke="#111" stroke-width="0.22" >DFCAN</text>
<text x="326.0" y="280.6" font-size="10.3" text-anchor="middle" fill="#111" stroke="#111" stroke-width="0.22" >RCAN</text>
<text x="418.5" y="280.6" font-size="10.3" text-anchor="middle" fill="#111" stroke="#111" stroke-width="0.22" >BayesDL mean</text>
<text x="510.5" y="280.6" font-size="10.3" text-anchor="middle" fill="#111" stroke="#111" stroke-width="0.22" >BayesDL STD</text>
<text x="617.5" y="280.6" font-size="10.3" text-anchor="middle" fill="#111" stroke="#111" stroke-width="0.22" >BayesDL cred.</text>
<svg x="4" y="283" width="89" height="88" viewBox="0 0 100 100" preserveAspectRatio="none" overflow="hidden"><g filter="url(#f12)"><rect x="0" y="0" width="100" height="100" fill="rgb(17,17,17)"/><circle cx="21.5" cy="10.9" r="2.82" fill="rgb(158,158,158)"/><circle cx="50.8" cy="11.9" r="1.88" fill="rgb(158,158,158)"/><circle cx="61.0" cy="18.2" r="1.41" fill="rgb(158,158,158)"/><circle cx="29.9" cy="26.1" r="2.82" fill="rgb(158,158,158)"/><circle cx="78.2" cy="28.4" r="3.29" fill="rgb(158,158,158)"/><circle cx="32.8" cy="38.6" r="1.88" fill="rgb(158,158,158)"/><circle cx="40.1" cy="59.1" r="2.35" fill="rgb(158,158,158)"/><circle cx="52.2" cy="59.9" r="2.82" fill="rgb(158,158,158)"/><circle cx="9.5" cy="64.3" r="1.41" fill="rgb(158,158,158)"/><circle cx="38.6" cy="68.0" r="2.35" fill="rgb(158,158,158)"/><circle cx="38.0" cy="74.4" r="1.88" fill="rgb(158,158,158)"/><circle cx="69.3" cy="78.2" r="2.35" fill="rgb(158,158,158)"/><circle cx="85.5" cy="80.7" r="2.35" fill="rgb(158,158,158)"/><circle cx="83.3" cy="88.4" r="2.82" fill="rgb(158,158,158)"/><circle cx="60.6" cy="87.5" r="1.41" fill="rgb(158,158,158)"/><circle cx="0.7" cy="87.5" r="2.82" fill="rgb(158,158,158)"/><circle cx="26.1" cy="66.5" r="0.94" fill="rgb(158,158,158)"/><circle cx="22.7" cy="11.0" r="4.50" fill="rgb(191,191,191)"/><circle cx="0.5" cy="77.0" r="3.50" fill="rgb(178,178,178)"/><circle cx="0.0" cy="12.0" r="3.50" fill="rgb(153,153,153)"/></g></svg>
<svg x="97" y="283" width="88" height="88" viewBox="0 0 100 100" preserveAspectRatio="none" overflow="hidden"><g filter="url(#f13)"><rect x="0" y="0" width="100" height="100" fill="rgb(0,0,0)"/><circle cx="21.5" cy="10.9" r="2.45" fill="rgb(224,224,224)"/><circle cx="50.8" cy="11.9" r="1.64" fill="rgb(224,224,224)"/><circle cx="61.0" cy="18.2" r="1.23" fill="rgb(224,224,224)"/><circle cx="29.9" cy="26.1" r="1.84" fill="none" stroke="rgb(224,224,224)" stroke-width="1.35"/><circle cx="78.2" cy="28.4" r="2.15" fill="none" stroke="rgb(224,224,224)" stroke-width="1.57"/><circle cx="32.8" cy="38.6" r="1.64" fill="rgb(224,224,224)"/><circle cx="40.1" cy="59.1" r="2.05" fill="rgb(224,224,224)"/><circle cx="52.2" cy="59.9" r="1.84" fill="none" stroke="rgb(224,224,224)" stroke-width="1.35"/><circle cx="9.5" cy="64.3" r="1.23" fill="rgb(224,224,224)"/><circle cx="38.6" cy="68.0" r="2.05" fill="rgb(224,224,224)"/><circle cx="38.0" cy="74.4" r="1.64" fill="rgb(224,224,224)"/><circle cx="69.3" cy="78.2" r="2.05" fill="rgb(224,224,224)"/><circle cx="85.5" cy="80.7" r="2.05" fill="rgb(224,224,224)"/><circle cx="83.3" cy="88.4" r="1.84" fill="none" stroke="rgb(224,224,224)" stroke-width="1.35"/><circle cx="60.6" cy="87.5" r="1.23" fill="rgb(224,224,224)"/><circle cx="0.7" cy="87.5" r="2.45" fill="rgb(224,224,224)"/><circle cx="26.1" cy="66.5" r="0.82" fill="rgb(224,224,224)"/></g></svg>
<svg x="189" y="283" width="88" height="88" viewBox="0 0 100 100" preserveAspectRatio="none" overflow="hidden"><g filter="url(#f14)"><rect x="0" y="0" width="100" height="100" fill="rgb(0,0,0)"/><circle cx="21.5" cy="10.9" r="2.33" fill="rgb(216,216,216)"/><circle cx="50.8" cy="11.9" r="1.55" fill="rgb(216,216,216)"/><circle cx="61.0" cy="18.2" r="1.17" fill="rgb(216,216,216)"/><circle cx="29.9" cy="26.1" r="2.33" fill="rgb(216,216,216)"/><circle cx="78.2" cy="28.4" r="2.72" fill="rgb(216,216,216)"/><circle cx="32.8" cy="38.6" r="1.55" fill="rgb(216,216,216)"/><circle cx="40.1" cy="59.1" r="1.94" fill="rgb(216,216,216)"/><circle cx="52.2" cy="59.9" r="2.33" fill="rgb(216,216,216)"/><circle cx="9.5" cy="64.3" r="1.17" fill="rgb(216,216,216)"/><circle cx="38.6" cy="68.0" r="1.94" fill="rgb(216,216,216)"/><circle cx="38.0" cy="74.4" r="1.55" fill="rgb(216,216,216)"/><circle cx="69.3" cy="78.2" r="1.94" fill="rgb(216,216,216)"/><circle cx="85.5" cy="80.7" r="1.94" fill="rgb(216,216,216)"/><circle cx="83.3" cy="88.4" r="2.33" fill="rgb(216,216,216)"/><circle cx="60.6" cy="87.5" r="1.17" fill="rgb(216,216,216)"/><circle cx="0.7" cy="87.5" r="2.33" fill="rgb(216,216,216)"/><circle cx="26.1" cy="66.5" r="0.78" fill="rgb(216,216,216)"/></g></svg>
<svg x="281" y="283" width="89" height="88" viewBox="0 0 100 100" preserveAspectRatio="none" overflow="hidden"><g filter="url(#f15)"><rect x="0" y="0" width="100" height="100" fill="rgb(0,0,0)"/><circle cx="21.5" cy="10.9" r="2.33" fill="rgb(216,216,216)"/><circle cx="50.8" cy="11.9" r="1.55" fill="rgb(216,216,216)"/><circle cx="61.0" cy="18.2" r="1.17" fill="rgb(216,216,216)"/><circle cx="29.9" cy="26.1" r="2.33" fill="rgb(216,216,216)"/><circle cx="78.2" cy="28.4" r="2.72" fill="rgb(216,216,216)"/><circle cx="32.8" cy="38.6" r="1.55" fill="rgb(216,216,216)"/><circle cx="40.1" cy="59.1" r="1.94" fill="rgb(216,216,216)"/><circle cx="52.2" cy="59.9" r="2.33" fill="rgb(216,216,216)"/><circle cx="9.5" cy="64.3" r="1.17" fill="rgb(216,216,216)"/><circle cx="38.6" cy="68.0" r="1.94" fill="rgb(216,216,216)"/><circle cx="38.0" cy="74.4" r="1.55" fill="rgb(216,216,216)"/><circle cx="69.3" cy="78.2" r="1.94" fill="rgb(216,216,216)"/><circle cx="85.5" cy="80.7" r="1.94" fill="rgb(216,216,216)"/><circle cx="83.3" cy="88.4" r="2.33" fill="rgb(216,216,216)"/><circle cx="60.6" cy="87.5" r="1.17" fill="rgb(216,216,216)"/><circle cx="0.7" cy="87.5" r="2.33" fill="rgb(216,216,216)"/><circle cx="26.1" cy="66.5" r="0.78" fill="rgb(216,216,216)"/></g></svg>
<svg x="374" y="283" width="88" height="88" viewBox="0 0 100 100" preserveAspectRatio="none" overflow="hidden"><g filter="url(#f16)"><rect x="0" y="0" width="100" height="100" fill="rgb(0,0,0)"/><circle cx="21.5" cy="10.9" r="2.33" fill="rgb(216,216,216)"/><circle cx="50.8" cy="11.9" r="1.55" fill="rgb(216,216,216)"/><circle cx="61.0" cy="18.2" r="1.17" fill="rgb(216,216,216)"/><circle cx="29.9" cy="26.1" r="1.75" fill="none" stroke="rgb(216,216,216)" stroke-width="1.28"/><circle cx="78.2" cy="28.4" r="2.04" fill="none" stroke="rgb(216,216,216)" stroke-width="1.50"/><circle cx="32.8" cy="38.6" r="1.55" fill="rgb(216,216,216)"/><circle cx="40.1" cy="59.1" r="1.94" fill="rgb(216,216,216)"/><circle cx="52.2" cy="59.9" r="1.75" fill="none" stroke="rgb(216,216,216)" stroke-width="1.28"/><circle cx="9.5" cy="64.3" r="1.17" fill="rgb(216,216,216)"/><circle cx="38.6" cy="68.0" r="1.94" fill="rgb(216,216,216)"/><circle cx="38.0" cy="74.4" r="1.55" fill="rgb(216,216,216)"/><circle cx="69.3" cy="78.2" r="1.94" fill="rgb(216,216,216)"/><circle cx="85.5" cy="80.7" r="1.94" fill="rgb(216,216,216)"/><circle cx="83.3" cy="88.4" r="1.75" fill="none" stroke="rgb(216,216,216)" stroke-width="1.28"/><circle cx="60.6" cy="87.5" r="1.17" fill="rgb(216,216,216)"/><circle cx="0.7" cy="87.5" r="2.33" fill="rgb(216,216,216)"/><circle cx="26.1" cy="66.5" r="0.78" fill="rgb(216,216,216)"/></g></svg>
<svg x="466" y="283" width="88" height="88" viewBox="0 0 100 100" preserveAspectRatio="none" overflow="hidden"><g filter="url(#f17)"><rect x="0" y="0" width="100" height="100" fill="rgb(19,19,19)"/><circle cx="21.5" cy="10.9" r="3.07" fill="rgb(216,216,216)"/><circle cx="50.8" cy="11.9" r="2.05" fill="rgb(216,216,216)"/><circle cx="61.0" cy="18.2" r="1.53" fill="rgb(216,216,216)"/><circle cx="29.9" cy="26.1" r="3.07" fill="rgb(216,216,216)"/><circle cx="78.2" cy="28.4" r="3.58" fill="rgb(216,216,216)"/><circle cx="32.8" cy="38.6" r="2.05" fill="rgb(216,216,216)"/><circle cx="40.1" cy="59.1" r="2.56" fill="rgb(216,216,216)"/><circle cx="52.2" cy="59.9" r="3.07" fill="rgb(216,216,216)"/><circle cx="9.5" cy="64.3" r="1.53" fill="rgb(216,216,216)"/><circle cx="38.6" cy="68.0" r="2.56" fill="rgb(216,216,216)"/><circle cx="38.0" cy="74.4" r="2.05" fill="rgb(216,216,216)"/><circle cx="69.3" cy="78.2" r="2.56" fill="rgb(216,216,216)"/><circle cx="85.5" cy="80.7" r="2.56" fill="rgb(216,216,216)"/><circle cx="83.3" cy="88.4" r="3.07" fill="rgb(216,216,216)"/><circle cx="60.6" cy="87.5" r="1.53" fill="rgb(216,216,216)"/><circle cx="0.7" cy="87.5" r="3.07" fill="rgb(216,216,216)"/><circle cx="26.1" cy="66.5" r="1.02" fill="rgb(216,216,216)"/></g></svg>
<svg x="573" y="283" width="88" height="88" viewBox="0 0 100 100" preserveAspectRatio="none" overflow="hidden"><g filter="url(#f18)"><rect x="0" y="0" width="100" height="100" fill="rgb(255,255,255)"/><circle cx="21.5" cy="10.9" r="5.15" fill="rgb(0,0,0)"/><circle cx="50.8" cy="11.9" r="3.44" fill="rgb(0,0,0)"/><circle cx="61.0" cy="18.2" r="3.00" fill="rgb(0,0,0)"/><circle cx="29.9" cy="26.1" r="5.15" fill="rgb(0,0,0)"/><circle cx="78.2" cy="28.4" r="6.01" fill="rgb(0,0,0)"/><circle cx="32.8" cy="38.6" r="3.44" fill="rgb(0,0,0)"/><circle cx="40.1" cy="59.1" r="4.30" fill="rgb(0,0,0)"/><circle cx="52.2" cy="59.9" r="5.15" fill="rgb(0,0,0)"/><circle cx="9.5" cy="64.3" r="3.00" fill="rgb(0,0,0)"/><circle cx="38.6" cy="68.0" r="4.30" fill="rgb(0,0,0)"/><circle cx="38.0" cy="74.4" r="3.44" fill="rgb(0,0,0)"/><circle cx="69.3" cy="78.2" r="4.30" fill="rgb(0,0,0)"/><circle cx="85.5" cy="80.7" r="4.30" fill="rgb(0,0,0)"/><circle cx="83.3" cy="88.4" r="5.15" fill="rgb(0,0,0)"/><circle cx="60.6" cy="87.5" r="3.00" fill="rgb(0,0,0)"/><circle cx="0.7" cy="87.5" r="5.15" fill="rgb(0,0,0)"/><circle cx="26.1" cy="66.5" r="3.00" fill="rgb(0,0,0)"/><circle cx="21.5" cy="10.9" r="2.83" fill="rgb(114,114,114)"/><circle cx="50.8" cy="11.9" r="1.89" fill="rgb(114,114,114)"/><circle cx="61.0" cy="18.2" r="1.65" fill="rgb(114,114,114)"/><circle cx="29.9" cy="26.1" r="2.83" fill="rgb(114,114,114)"/><circle cx="78.2" cy="28.4" r="3.31" fill="rgb(114,114,114)"/><circle cx="32.8" cy="38.6" r="1.89" fill="rgb(114,114,114)"/><circle cx="40.1" cy="59.1" r="2.36" fill="rgb(114,114,114)"/><circle cx="52.2" cy="59.9" r="2.83" fill="rgb(114,114,114)"/><circle cx="9.5" cy="64.3" r="1.65" fill="rgb(114,114,114)"/><circle cx="38.6" cy="68.0" r="2.36" fill="rgb(114,114,114)"/><circle cx="38.0" cy="74.4" r="1.89" fill="rgb(114,114,114)"/><circle cx="69.3" cy="78.2" r="2.36" fill="rgb(114,114,114)"/><circle cx="85.5" cy="80.7" r="2.36" fill="rgb(114,114,114)"/><circle cx="83.3" cy="88.4" r="2.83" fill="rgb(114,114,114)"/><circle cx="60.6" cy="87.5" r="1.65" fill="rgb(114,114,114)"/><circle cx="0.7" cy="87.5" r="2.83" fill="rgb(114,114,114)"/><circle cx="26.1" cy="66.5" r="1.65" fill="rgb(114,114,114)"/></g></svg>
<svg x="4" y="375" width="89" height="88.5" viewBox="0 0 100 100" preserveAspectRatio="none" overflow="hidden"><g filter="url(#f19)"><rect x="0" y="0" width="100" height="100" fill="rgb(38,38,38)"/><path d="M0.0,0.0C2.0,2.3 8.0,9.0 12.0,14.0C16.0,19.0 22.0,27.3 24.0,30.0" fill="none" stroke="#fff" stroke-opacity="0.150" stroke-width="26.00" stroke-linecap="round"/><path d="M0.0,0.0C2.0,2.3 8.0,9.0 12.0,14.0C16.0,19.0 22.0,27.3 24.0,30.0" fill="none" stroke="#fff" stroke-opacity="0.150" stroke-width="22.29" stroke-linecap="round"/><path d="M0.0,0.0C2.0,2.3 8.0,9.0 12.0,14.0C16.0,19.0 22.0,27.3 24.0,30.0" fill="none" stroke="#fff" stroke-opacity="0.150" stroke-width="18.57" stroke-linecap="round"/><path d="M0.0,0.0C2.0,2.3 8.0,9.0 12.0,14.0C16.0,19.0 22.0,27.3 24.0,30.0" fill="none" stroke="#fff" stroke-opacity="0.150" stroke-width="14.86" stroke-linecap="round"/><path d="M0.0,0.0C2.0,2.3 8.0,9.0 12.0,14.0C16.0,19.0 22.0,27.3 24.0,30.0" fill="none" stroke="#fff" stroke-opacity="0.150" stroke-width="11.14" stroke-linecap="round"/><path d="M0.0,0.0C2.0,2.3 8.0,9.0 12.0,14.0C16.0,19.0 22.0,27.3 24.0,30.0" fill="none" stroke="#fff" stroke-opacity="0.150" stroke-width="7.43" stroke-linecap="round"/><path d="M2.2,2.2C3.8,4.5 8.4,11.1 11.7,16.1C15.0,21.0 18.5,27.3 21.9,32.1C25.3,37.0 28.7,40.9 32.1,45.3C35.5,49.6 39.4,54.7 42.3,58.4C45.3,62.0 48.4,65.7 49.6,67.2" fill="none" stroke="rgb(153,153,153)" stroke-opacity="0.2" stroke-width="10.56" style="mix-blend-mode:screen"/><path d="M2.2,2.2C3.8,4.5 8.4,11.1 11.7,16.1C15.0,21.0 18.5,27.3 21.9,32.1C25.3,37.0 28.7,40.9 32.1,45.3C35.5,49.6 39.4,54.7 42.3,58.4C45.3,62.0 48.4,65.7 49.6,67.2" fill="none" stroke="rgb(153,153,153)" stroke-width="3.52" stroke-linecap="round" style="mix-blend-mode:screen"/><path d="M14.6,0.0C16.1,1.9 20.2,7.5 23.4,11.7C26.5,15.8 30.2,20.7 33.6,24.8C37.0,29.0 40.6,32.8 43.8,36.5C47.0,40.1 50.1,43.8 52.6,46.7C55.0,49.6 57.4,52.8 58.4,54.0" fill="none" stroke="rgb(122,122,122)" stroke-opacity="0.2" stroke-width="7.26" style="mix-blend-mode:screen"/><path d="M14.6,0.0C16.1,1.9 20.2,7.5 23.4,11.7C26.5,15.8 30.2,20.7 33.6,24.8C37.0,29.0 40.6,32.8 43.8,36.5C47.0,40.1 50.1,43.8 52.6,46.7C55.0,49.6 57.4,52.8 58.4,54.0" fill="none" stroke="rgb(122,122,122)" stroke-width="2.42" stroke-linecap="round" style="mix-blend-mode:screen"/><path d="M51.8,0.0C52.1,3.6 52.7,14.6 53.3,21.9C53.9,29.2 54.6,37.7 55.5,43.8C56.3,49.9 57.7,54.5 58.4,58.4C59.1,62.3 59.6,65.7 59.9,67.2" fill="none" stroke="rgb(114,114,114)" stroke-opacity="0.2" stroke-width="6.60" style="mix-blend-mode:screen"/><path d="M51.8,0.0C52.1,3.6 52.7,14.6 53.3,21.9C53.9,29.2 54.6,37.7 55.5,43.8C56.3,49.9 57.7,54.5 58.4,58.4C59.1,62.3 59.6,65.7 59.9,67.2" fill="none" stroke="rgb(114,114,114)" stroke-width="2.20" stroke-linecap="round" style="mix-blend-mode:screen"/><path d="M100.0,27.7C97.9,29.4 92.1,34.8 87.6,38.0C83.1,41.1 77.4,43.8 73.0,46.7C68.6,49.6 64.5,53.3 61.3,55.5C58.2,57.7 55.2,59.1 54.0,59.9" fill="none" stroke="rgb(122,122,122)" stroke-opacity="0.2" stroke-width="7.26" style="mix-blend-mode:screen"/><path d="M100.0,27.7C97.9,29.4 92.1,34.8 87.6,38.0C83.1,41.1 77.4,43.8 73.0,46.7C68.6,49.6 64.5,53.3 61.3,55.5C58.2,57.7 55.2,59.1 54.0,59.9" fill="none" stroke="rgb(122,122,122)" stroke-width="2.42" stroke-linecap="round" style="mix-blend-mode:screen"/><path d="M0.0,64.2C2.4,64.7 9.7,66.5 14.6,67.2C19.5,67.8 24.3,68.0 29.2,67.9C34.1,67.8 38.9,66.8 43.8,66.4C48.7,66.1 53.5,65.9 58.4,65.7C63.3,65.5 68.1,65.2 73.0,65.0C77.9,64.7 83.1,64.2 87.6,64.2C92.1,64.2 97.9,64.8 100.0,65.0" fill="none" stroke="rgb(130,130,130)" stroke-opacity="0.2" stroke-width="7.92" style="mix-blend-mode:screen"/><path d="M0.0,64.2C2.4,64.7 9.7,66.5 14.6,67.2C19.5,67.8 24.3,68.0 29.2,67.9C34.1,67.8 38.9,66.8 43.8,66.4C48.7,66.1 53.5,65.9 58.4,65.7C63.3,65.5 68.1,65.2 73.0,65.0C77.9,64.7 83.1,64.2 87.6,64.2C92.1,64.2 97.9,64.8 100.0,65.0" fill="none" stroke="rgb(130,130,130)" stroke-width="2.64" stroke-linecap="round" style="mix-blend-mode:screen"/><path d="M0.0,42.3C2.4,43.8 9.7,48.4 14.6,51.1C19.5,53.8 25.3,56.2 29.2,58.4C33.1,60.6 35.5,62.5 38.0,64.2C40.4,65.9 42.8,67.9 43.8,68.6" fill="none" stroke="rgb(107,107,107)" stroke-opacity="0.2" stroke-width="6.60" style="mix-blend-mode:screen"/><path d="M0.0,42.3C2.4,43.8 9.7,48.4 14.6,51.1C19.5,53.8 25.3,56.2 29.2,58.4C33.1,60.6 35.5,62.5 38.0,64.2C40.4,65.9 42.8,67.9 43.8,68.6" fill="none" stroke="rgb(107,107,107)" stroke-width="2.20" stroke-linecap="round" style="mix-blend-mode:screen"/><path d="M0.0,81.8C2.4,81.0 9.7,78.6 14.6,77.4C19.5,76.2 24.8,75.4 29.2,74.5C33.6,73.5 38.9,72.0 40.9,71.5" fill="none" stroke="rgb(99,99,99)" stroke-opacity="0.2" stroke-width="6.60" style="mix-blend-mode:screen"/><path d="M0.0,81.8C2.4,81.0 9.7,78.6 14.6,77.4C19.5,76.2 24.8,75.4 29.2,74.5C33.6,73.5 38.9,72.0 40.9,71.5" fill="none" stroke="rgb(99,99,99)" stroke-width="2.20" stroke-linecap="round" style="mix-blend-mode:screen"/><path d="M21.9,100.0C23.1,97.9 26.5,91.4 29.2,87.6C31.9,83.8 35.0,80.3 38.0,77.4C40.9,74.5 45.3,71.3 46.7,70.1" fill="none" stroke="rgb(107,107,107)" stroke-opacity="0.2" stroke-width="6.60" style="mix-blend-mode:screen"/><path d="M21.9,100.0C23.1,97.9 26.5,91.4 29.2,87.6C31.9,83.8 35.0,80.3 38.0,77.4C40.9,74.5 45.3,71.3 46.7,70.1" fill="none" stroke="rgb(107,107,107)" stroke-width="2.20" stroke-linecap="round" style="mix-blend-mode:screen"/><path d="M100.0,78.8C97.0,80.0 87.5,83.9 81.8,86.1C76.0,88.3 70.1,89.7 65.7,92.0C61.3,94.3 57.2,98.7 55.5,100.0" fill="none" stroke="rgb(99,99,99)" stroke-opacity="0.2" stroke-width="6.60" style="mix-blend-mode:screen"/><path d="M100.0,78.8C97.0,80.0 87.5,83.9 81.8,86.1C76.0,88.3 70.1,89.7 65.7,92.0C61.3,94.3 57.2,98.7 55.5,100.0" fill="none" stroke="rgb(99,99,99)" stroke-width="2.20" stroke-linecap="round" style="mix-blend-mode:screen"/><path d="M33.6,78.8C35.3,80.3 40.4,84.1 43.8,87.6C47.2,91.1 52.3,97.9 54.0,100.0" fill="none" stroke="rgb(91,91,91)" stroke-opacity="0.2" stroke-width="5.94" style="mix-blend-mode:screen"/><path d="M33.6,78.8C35.3,80.3 40.4,84.1 43.8,87.6C47.2,91.1 52.3,97.9 54.0,100.0" fill="none" stroke="rgb(91,91,91)" stroke-width="1.98" stroke-linecap="round" style="mix-blend-mode:screen"/><path d="M73.0,0.0C74.5,3.6 78.3,15.8 81.8,21.9C85.2,28.0 90.4,33.3 93.4,36.5C96.5,39.7 98.9,40.1 100.0,40.9" fill="none" stroke="rgb(53,53,53)" stroke-opacity="0.2" stroke-width="4.62" style="mix-blend-mode:screen"/><path d="M73.0,0.0C74.5,3.6 78.3,15.8 81.8,21.9C85.2,28.0 90.4,33.3 93.4,36.5C96.5,39.7 98.9,40.1 100.0,40.9" fill="none" stroke="rgb(53,53,53)" stroke-width="1.54" stroke-linecap="round" style="mix-blend-mode:screen"/><path d="M61.3,0.0C62.8,2.4 66.9,9.7 70.1,14.6C73.2,19.5 77.4,25.3 80.3,29.2C83.2,33.1 86.4,36.5 87.6,38.0" fill="none" stroke="rgb(45,45,45)" stroke-opacity="0.2" stroke-width="4.62" style="mix-blend-mode:screen"/><path d="M61.3,0.0C62.8,2.4 66.9,9.7 70.1,14.6C73.2,19.5 77.4,25.3 80.3,29.2C83.2,33.1 86.4,36.5 87.6,38.0" fill="none" stroke="rgb(45,45,45)" stroke-width="1.54" stroke-linecap="round" style="mix-blend-mode:screen"/><path d="M0.0,17.5L8.8,21.9" fill="none" stroke="rgb(76,76,76)" stroke-opacity="0.2" stroke-width="5.28" style="mix-blend-mode:screen"/><path d="M0.0,17.5L8.8,21.9" fill="none" stroke="rgb(76,76,76)" stroke-width="1.76" stroke-linecap="round" style="mix-blend-mode:screen"/><path d="M81.8,100.0C81.8,97.0 81.3,87.5 81.8,81.8C82.2,76.0 84.2,68.4 84.7,65.7" fill="none" stroke="rgb(91,91,91)" stroke-opacity="0.2" stroke-width="5.94" style="mix-blend-mode:screen"/><path d="M81.8,100.0C81.8,97.0 81.3,87.5 81.8,81.8C82.2,76.0 84.2,68.4 84.7,65.7" fill="none" stroke="rgb(91,91,91)" stroke-width="1.98" stroke-linecap="round" style="mix-blend-mode:screen"/><path d="M93.4,0.0L100.0,7.3" fill="none" stroke="rgb(107,107,107)" stroke-opacity="0.2" stroke-width="6.60" style="mix-blend-mode:screen"/><path d="M93.4,0.0L100.0,7.3" fill="none" stroke="rgb(107,107,107)" stroke-width="2.20" stroke-linecap="round" style="mix-blend-mode:screen"/><path d="M68.6,73.0C70.6,75.4 77.1,83.1 80.3,87.6C83.5,92.1 86.4,97.9 87.6,100.0" fill="none" stroke="rgb(84,84,84)" stroke-opacity="0.2" stroke-width="5.94" style="mix-blend-mode:screen"/><path d="M68.6,73.0C70.6,75.4 77.1,83.1 80.3,87.6C83.5,92.1 86.4,97.9 87.6,100.0" fill="none" stroke="rgb(84,84,84)" stroke-width="1.98" stroke-linecap="round" style="mix-blend-mode:screen"/></g></svg>
<svg x="97" y="375" width="88" height="88.5" viewBox="0 0 100 100" preserveAspectRatio="none" overflow="hidden"><g filter="url(#f20)"><rect x="0" y="0" width="100" height="100" fill="rgb(12,12,12)"/><path d="M2.2,2.2C3.8,4.5 8.4,11.1 11.7,16.1C15.0,21.0 18.5,27.3 21.9,32.1C25.3,37.0 28.7,40.9 32.1,45.3C35.5,49.6 39.4,54.7 42.3,58.4C45.3,62.0 48.4,65.7 49.6,67.2" fill="none" stroke="rgb(216,216,216)" stroke-opacity="0.3" stroke-width="9.60" style="mix-blend-mode:screen"/><path d="M2.2,2.2C3.8,4.5 8.4,11.1 11.7,16.1C15.0,21.0 18.5,27.3 21.9,32.1C25.3,37.0 28.7,40.9 32.1,45.3C35.5,49.6 39.4,54.7 42.3,58.4C45.3,62.0 48.4,65.7 49.6,67.2" fill="none" stroke="rgb(216,216,216)" stroke-width="3.20" stroke-linecap="round" style="mix-blend-mode:screen"/><path d="M14.6,0.0C16.1,1.9 20.2,7.5 23.4,11.7C26.5,15.8 30.2,20.7 33.6,24.8C37.0,29.0 40.6,32.8 43.8,36.5C47.0,40.1 50.1,43.8 52.6,46.7C55.0,49.6 57.4,52.8 58.4,54.0" fill="none" stroke="rgb(173,173,173)" stroke-opacity="0.3" stroke-width="6.60" style="mix-blend-mode:screen"/><path d="M14.6,0.0C16.1,1.9 20.2,7.5 23.4,11.7C26.5,15.8 30.2,20.7 33.6,24.8C37.0,29.0 40.6,32.8 43.8,36.5C47.0,40.1 50.1,43.8 52.6,46.7C55.0,49.6 57.4,52.8 58.4,54.0" fill="none" stroke="rgb(173,173,173)" stroke-width="2.20" stroke-linecap="round" style="mix-blend-mode:screen"/><path d="M51.8,0.0C52.1,3.6 52.7,14.6 53.3,21.9C53.9,29.2 54.6,37.7 55.5,43.8C56.3,49.9 57.7,54.5 58.4,58.4C59.1,62.3 59.6,65.7 59.9,67.2" fill="none" stroke="rgb(162,162,162)" stroke-opacity="0.3" stroke-width="6.00" style="mix-blend-mode:screen"/><path d="M51.8,0.0C52.1,3.6 52.7,14.6 53.3,21.9C53.9,29.2 54.6,37.7 55.5,43.8C56.3,49.9 57.7,54.5 58.4,58.4C59.1,62.3 59.6,65.7 59.9,67.2" fill="none" stroke="rgb(162,162,162)" stroke-width="2.00" stroke-linecap="round" style="mix-blend-mode:screen"/><path d="M100.0,27.7C97.9,29.4 92.1,34.8 87.6,38.0C83.1,41.1 77.4,43.8 73.0,46.7C68.6,49.6 64.5,53.3 61.3,55.5C58.2,57.7 55.2,59.1 54.0,59.9" fill="none" stroke="rgb(173,173,173)" stroke-opacity="0.3" stroke-width="6.60" style="mix-blend-mode:screen"/><path d="M100.0,27.7C97.9,29.4 92.1,34.8 87.6,38.0C83.1,41.1 77.4,43.8 73.0,46.7C68.6,49.6 64.5,53.3 61.3,55.5C58.2,57.7 55.2,59.1 54.0,59.9" fill="none" stroke="rgb(173,173,173)" stroke-width="2.20" stroke-linecap="round" style="mix-blend-mode:screen"/><path d="M0.0,64.2C2.4,64.7 9.7,66.5 14.6,67.2C19.5,67.8 24.3,68.0 29.2,67.9C34.1,67.8 38.9,66.8 43.8,66.4C48.7,66.1 53.5,65.9 58.4,65.7C63.3,65.5 68.1,65.2 73.0,65.0C77.9,64.7 83.1,64.2 87.6,64.2C92.1,64.2 97.9,64.8 100.0,65.0" fill="none" stroke="rgb(184,184,184)" stroke-opacity="0.3" stroke-width="7.20" style="mix-blend-mode:screen"/><path d="M0.0,64.2C2.4,64.7 9.7,66.5 14.6,67.2C19.5,67.8 24.3,68.0 29.2,67.9C34.1,67.8 38.9,66.8 43.8,66.4C48.7,66.1 53.5,65.9 58.4,65.7C63.3,65.5 68.1,65.2 73.0,65.0C77.9,64.7 83.1,64.2 87.6,64.2C92.1,64.2 97.9,64.8 100.0,65.0" fill="none" stroke="rgb(184,184,184)" stroke-width="2.40" stroke-linecap="round" style="mix-blend-mode:screen"/><path d="M0.0,42.3C2.4,43.8 9.7,48.4 14.6,51.1C19.5,53.8 25.3,56.2 29.2,58.4C33.1,60.6 35.5,62.5 38.0,64.2C40.4,65.9 42.8,67.9 43.8,68.6" fill="none" stroke="rgb(151,151,151)" stroke-opacity="0.3" stroke-width="6.00" style="mix-blend-mode:screen"/><path d="M0.0,42.3C2.4,43.8 9.7,48.4 14.6,51.1C19.5,53.8 25.3,56.2 29.2,58.4C33.1,60.6 35.5,62.5 38.0,64.2C40.4,65.9 42.8,67.9 43.8,68.6" fill="none" stroke="rgb(151,151,151)" stroke-width="2.00" stroke-linecap="round" style="mix-blend-mode:screen"/><path d="M0.0,81.8C2.4,81.0 9.7,78.6 14.6,77.4C19.5,76.2 24.8,75.4 29.2,74.5C33.6,73.5 38.9,72.0 40.9,71.5" fill="none" stroke="rgb(140,140,140)" stroke-opacity="0.3" stroke-width="6.00" style="mix-blend-mode:screen"/><path d="M0.0,81.8C2.4,81.0 9.7,78.6 14.6,77.4C19.5,76.2 24.8,75.4 29.2,74.5C33.6,73.5 38.9,72.0 40.9,71.5" fill="none" stroke="rgb(140,140,140)" stroke-width="2.00" stroke-linecap="round" style="mix-blend-mode:screen"/><path d="M21.9,100.0C23.1,97.9 26.5,91.4 29.2,87.6C31.9,83.8 35.0,80.3 38.0,77.4C40.9,74.5 45.3,71.3 46.7,70.1" fill="none" stroke="rgb(151,151,151)" stroke-opacity="0.3" stroke-width="6.00" style="mix-blend-mode:screen"/><path d="M21.9,100.0C23.1,97.9 26.5,91.4 29.2,87.6C31.9,83.8 35.0,80.3 38.0,77.4C40.9,74.5 45.3,71.3 46.7,70.1" fill="none" stroke="rgb(151,151,151)" stroke-width="2.00" stroke-linecap="round" style="mix-blend-mode:screen"/><path d="M100.0,78.8C97.0,80.0 87.5,83.9 81.8,86.1C76.0,88.3 70.1,89.7 65.7,92.0C61.3,94.3 57.2,98.7 55.5,100.0" fill="none" stroke="rgb(140,140,140)" stroke-opacity="0.3" stroke-width="6.00" style="mix-blend-mode:screen"/><path d="M100.0,78.8C97.0,80.0 87.5,83.9 81.8,86.1C76.0,88.3 70.1,89.7 65.7,92.0C61.3,94.3 57.2,98.7 55.5,100.0" fill="none" stroke="rgb(140,140,140)" stroke-width="2.00" stroke-linecap="round" style="mix-blend-mode:screen"/><path d="M33.6,78.8C35.3,80.3 40.4,84.1 43.8,87.6C47.2,91.1 52.3,97.9 54.0,100.0" fill="none" stroke="rgb(130,130,130)" stroke-opacity="0.3" stroke-width="5.40" style="mix-blend-mode:screen"/><path d="M33.6,78.8C35.3,80.3 40.4,84.1 43.8,87.6C47.2,91.1 52.3,97.9 54.0,100.0" fill="none" stroke="rgb(130,130,130)" stroke-width="1.80" stroke-linecap="round" style="mix-blend-mode:screen"/><path d="M73.0,0.0C74.5,3.6 78.3,15.8 81.8,21.9C85.2,28.0 90.4,33.3 93.4,36.5C96.5,39.7 98.9,40.1 100.0,40.9" fill="none" stroke="rgb(75,75,75)" stroke-opacity="0.3" stroke-width="4.20" style="mix-blend-mode:screen"/><path d="M73.0,0.0C74.5,3.6 78.3,15.8 81.8,21.9C85.2,28.0 90.4,33.3 93.4,36.5C96.5,39.7 98.9,40.1 100.0,40.9" fill="none" stroke="rgb(75,75,75)" stroke-width="1.40" stroke-linecap="round" style="mix-blend-mode:screen"/><path d="M61.3,0.0C62.8,2.4 66.9,9.7 70.1,14.6C73.2,19.5 77.4,25.3 80.3,29.2C83.2,33.1 86.4,36.5 87.6,38.0" fill="none" stroke="rgb(65,65,65)" stroke-opacity="0.3" stroke-width="4.20" style="mix-blend-mode:screen"/><path d="M61.3,0.0C62.8,2.4 66.9,9.7 70.1,14.6C73.2,19.5 77.4,25.3 80.3,29.2C83.2,33.1 86.4,36.5 87.6,38.0" fill="none" stroke="rgb(65,65,65)" stroke-width="1.40" stroke-linecap="round" style="mix-blend-mode:screen"/><path d="M0.0,17.5L8.8,21.9" fill="none" stroke="rgb(108,108,108)" stroke-opacity="0.3" stroke-width="4.80" style="mix-blend-mode:screen"/><path d="M0.0,17.5L8.8,21.9" fill="none" stroke="rgb(108,108,108)" stroke-width="1.60" stroke-linecap="round" style="mix-blend-mode:screen"/><path d="M81.8,100.0C81.8,97.0 81.3,87.5 81.8,81.8C82.2,76.0 84.2,68.4 84.7,65.7" fill="none" stroke="rgb(130,130,130)" stroke-opacity="0.3" stroke-width="5.40" style="mix-blend-mode:screen"/><path d="M81.8,100.0C81.8,97.0 81.3,87.5 81.8,81.8C82.2,76.0 84.2,68.4 84.7,65.7" fill="none" stroke="rgb(130,130,130)" stroke-width="1.80" stroke-linecap="round" style="mix-blend-mode:screen"/><path d="M93.4,0.0L100.0,7.3" fill="none" stroke="rgb(151,151,151)" stroke-opacity="0.3" stroke-width="6.00" style="mix-blend-mode:screen"/><path d="M93.4,0.0L100.0,7.3" fill="none" stroke="rgb(151,151,151)" stroke-width="2.00" stroke-linecap="round" style="mix-blend-mode:screen"/><path d="M68.6,73.0C70.6,75.4 77.1,83.1 80.3,87.6C83.5,92.1 86.4,97.9 87.6,100.0" fill="none" stroke="rgb(119,119,119)" stroke-opacity="0.3" stroke-width="5.40" style="mix-blend-mode:screen"/><path d="M68.6,73.0C70.6,75.4 77.1,83.1 80.3,87.6C83.5,92.1 86.4,97.9 87.6,100.0" fill="none" stroke="rgb(119,119,119)" stroke-width="1.80" stroke-linecap="round" style="mix-blend-mode:screen"/></g></svg>
<svg x="189" y="375" width="88" height="88.5" viewBox="0 0 100 100" preserveAspectRatio="none" overflow="hidden"><g filter="url(#f21)"><rect x="0" y="0" width="100" height="100" fill="rgb(5,5,5)"/><path d="M2.2,2.2C3.8,4.5 8.4,11.1 11.7,16.1C15.0,21.0 18.5,27.3 21.9,32.1C25.3,37.0 28.7,40.9 32.1,45.3C35.5,49.6 39.4,54.7 42.3,58.4C45.3,62.0 48.4,65.7 49.6,67.2" fill="none" stroke="rgb(216,216,216)" stroke-opacity="0.4" stroke-width="9.12" style="mix-blend-mode:screen"/><path d="M2.2,2.2C3.8,4.5 8.4,11.1 11.7,16.1C15.0,21.0 18.5,27.3 21.9,32.1C25.3,37.0 28.7,40.9 32.1,45.3C35.5,49.6 39.4,54.7 42.3,58.4C45.3,62.0 48.4,65.7 49.6,67.2" fill="none" stroke="rgb(216,216,216)" stroke-width="3.04" stroke-linecap="round" style="mix-blend-mode:screen"/><path d="M14.6,0.0C16.1,1.9 20.2,7.5 23.4,11.7C26.5,15.8 30.2,20.7 33.6,24.8C37.0,29.0 40.6,32.8 43.8,36.5C47.0,40.1 50.1,43.8 52.6,46.7C55.0,49.6 57.4,52.8 58.4,54.0" fill="none" stroke="rgb(173,173,173)" stroke-opacity="0.4" stroke-width="6.27" style="mix-blend-mode:screen"/><path d="M14.6,0.0C16.1,1.9 20.2,7.5 23.4,11.7C26.5,15.8 30.2,20.7 33.6,24.8C37.0,29.0 40.6,32.8 43.8,36.5C47.0,40.1 50.1,43.8 52.6,46.7C55.0,49.6 57.4,52.8 58.4,54.0" fill="none" stroke="rgb(173,173,173)" stroke-width="2.09" stroke-linecap="round" style="mix-blend-mode:screen"/><path d="M51.8,0.0C52.1,3.6 52.7,14.6 53.3,21.9C53.9,29.2 54.6,37.7 55.5,43.8C56.3,49.9 57.7,54.5 58.4,58.4C59.1,62.3 59.6,65.7 59.9,67.2" fill="none" stroke="rgb(162,162,162)" stroke-opacity="0.4" stroke-width="5.70" style="mix-blend-mode:screen"/><path d="M51.8,0.0C52.1,3.6 52.7,14.6 53.3,21.9C53.9,29.2 54.6,37.7 55.5,43.8C56.3,49.9 57.7,54.5 58.4,58.4C59.1,62.3 59.6,65.7 59.9,67.2" fill="none" stroke="rgb(162,162,162)" stroke-width="1.90" stroke-linecap="round" style="mix-blend-mode:screen"/><path d="M100.0,27.7C97.9,29.4 92.1,34.8 87.6,38.0C83.1,41.1 77.4,43.8 73.0,46.7C68.6,49.6 64.5,53.3 61.3,55.5C58.2,57.7 55.2,59.1 54.0,59.9" fill="none" stroke="rgb(173,173,173)" stroke-opacity="0.4" stroke-width="6.27" style="mix-blend-mode:screen"/><path d="M100.0,27.7C97.9,29.4 92.1,34.8 87.6,38.0C83.1,41.1 77.4,43.8 73.0,46.7C68.6,49.6 64.5,53.3 61.3,55.5C58.2,57.7 55.2,59.1 54.0,59.9" fill="none" stroke="rgb(173,173,173)" stroke-width="2.09" stroke-linecap="round" style="mix-blend-mode:screen"/><path d="M0.0,64.2C2.4,64.7 9.7,66.5 14.6,67.2C19.5,67.8 24.3,68.0 29.2,67.9C34.1,67.8 38.9,66.8 43.8,66.4C48.7,66.1 53.5,65.9 58.4,65.7C63.3,65.5 68.1,65.2 73.0,65.0C77.9,64.7 83.1,64.2 87.6,64.2C92.1,64.2 97.9,64.8 100.0,65.0" fill="none" stroke="rgb(184,184,184)" stroke-opacity="0.4" stroke-width="6.84" style="mix-blend-mode:screen"/><path d="M0.0,64.2C2.4,64.7 9.7,66.5 14.6,67.2C19.5,67.8 24.3,68.0 29.2,67.9C34.1,67.8 38.9,66.8 43.8,66.4C48.7,66.1 53.5,65.9 58.4,65.7C63.3,65.5 68.1,65.2 73.0,65.0C77.9,64.7 83.1,64.2 87.6,64.2C92.1,64.2 97.9,64.8 100.0,65.0" fill="none" stroke="rgb(184,184,184)" stroke-width="2.28" stroke-linecap="round" style="mix-blend-mode:screen"/><path d="M0.0,42.3C2.4,43.8 9.7,48.4 14.6,51.1C19.5,53.8 25.3,56.2 29.2,58.4C33.1,60.6 35.5,62.5 38.0,64.2C40.4,65.9 42.8,67.9 43.8,68.6" fill="none" stroke="rgb(151,151,151)" stroke-opacity="0.4" stroke-width="5.70" style="mix-blend-mode:screen"/><path d="M0.0,42.3C2.4,43.8 9.7,48.4 14.6,51.1C19.5,53.8 25.3,56.2 29.2,58.4C33.1,60.6 35.5,62.5 38.0,64.2C40.4,65.9 42.8,67.9 43.8,68.6" fill="none" stroke="rgb(151,151,151)" stroke-width="1.90" stroke-linecap="round" style="mix-blend-mode:screen"/><path d="M0.0,81.8C2.4,81.0 9.7,78.6 14.6,77.4C19.5,76.2 24.8,75.4 29.2,74.5C33.6,73.5 38.9,72.0 40.9,71.5" fill="none" stroke="rgb(140,140,140)" stroke-opacity="0.4" stroke-width="5.70" style="mix-blend-mode:screen"/><path d="M0.0,81.8C2.4,81.0 9.7,78.6 14.6,77.4C19.5,76.2 24.8,75.4 29.2,74.5C33.6,73.5 38.9,72.0 40.9,71.5" fill="none" stroke="rgb(140,140,140)" stroke-width="1.90" stroke-linecap="round" style="mix-blend-mode:screen"/><path d="M21.9,100.0C23.1,97.9 26.5,91.4 29.2,87.6C31.9,83.8 35.0,80.3 38.0,77.4C40.9,74.5 45.3,71.3 46.7,70.1" fill="none" stroke="rgb(151,151,151)" stroke-opacity="0.4" stroke-width="5.70" style="mix-blend-mode:screen"/><path d="M21.9,100.0C23.1,97.9 26.5,91.4 29.2,87.6C31.9,83.8 35.0,80.3 38.0,77.4C40.9,74.5 45.3,71.3 46.7,70.1" fill="none" stroke="rgb(151,151,151)" stroke-width="1.90" stroke-linecap="round" style="mix-blend-mode:screen"/><path d="M100.0,78.8C97.0,80.0 87.5,83.9 81.8,86.1C76.0,88.3 70.1,89.7 65.7,92.0C61.3,94.3 57.2,98.7 55.5,100.0" fill="none" stroke="rgb(140,140,140)" stroke-opacity="0.4" stroke-width="5.70" style="mix-blend-mode:screen"/><path d="M100.0,78.8C97.0,80.0 87.5,83.9 81.8,86.1C76.0,88.3 70.1,89.7 65.7,92.0C61.3,94.3 57.2,98.7 55.5,100.0" fill="none" stroke="rgb(140,140,140)" stroke-width="1.90" stroke-linecap="round" style="mix-blend-mode:screen"/><path d="M33.6,78.8C35.3,80.3 40.4,84.1 43.8,87.6C47.2,91.1 52.3,97.9 54.0,100.0" fill="none" stroke="rgb(130,130,130)" stroke-opacity="0.4" stroke-width="5.13" style="mix-blend-mode:screen"/><path d="M33.6,78.8C35.3,80.3 40.4,84.1 43.8,87.6C47.2,91.1 52.3,97.9 54.0,100.0" fill="none" stroke="rgb(130,130,130)" stroke-width="1.71" stroke-linecap="round" style="mix-blend-mode:screen"/><path d="M73.0,0.0C74.5,3.6 78.3,15.8 81.8,21.9C85.2,28.0 90.4,33.3 93.4,36.5C96.5,39.7 98.9,40.1 100.0,40.9" fill="none" stroke="rgb(75,75,75)" stroke-opacity="0.4" stroke-width="3.99" style="mix-blend-mode:screen"/><path d="M73.0,0.0C74.5,3.6 78.3,15.8 81.8,21.9C85.2,28.0 90.4,33.3 93.4,36.5C96.5,39.7 98.9,40.1 100.0,40.9" fill="none" stroke="rgb(75,75,75)" stroke-width="1.33" stroke-linecap="round" style="mix-blend-mode:screen"/><path d="M61.3,0.0C62.8,2.4 66.9,9.7 70.1,14.6C73.2,19.5 77.4,25.3 80.3,29.2C83.2,33.1 86.4,36.5 87.6,38.0" fill="none" stroke="rgb(65,65,65)" stroke-opacity="0.4" stroke-width="3.99" style="mix-blend-mode:screen"/><path d="M61.3,0.0C62.8,2.4 66.9,9.7 70.1,14.6C73.2,19.5 77.4,25.3 80.3,29.2C83.2,33.1 86.4,36.5 87.6,38.0" fill="none" stroke="rgb(65,65,65)" stroke-width="1.33" stroke-linecap="round" style="mix-blend-mode:screen"/><path d="M0.0,17.5L8.8,21.9" fill="none" stroke="rgb(108,108,108)" stroke-opacity="0.4" stroke-width="4.56" style="mix-blend-mode:screen"/><path d="M0.0,17.5L8.8,21.9" fill="none" stroke="rgb(108,108,108)" stroke-width="1.52" stroke-linecap="round" style="mix-blend-mode:screen"/><path d="M81.8,100.0C81.8,97.0 81.3,87.5 81.8,81.8C82.2,76.0 84.2,68.4 84.7,65.7" fill="none" stroke="rgb(130,130,130)" stroke-opacity="0.4" stroke-width="5.13" style="mix-blend-mode:screen"/><path d="M81.8,100.0C81.8,97.0 81.3,87.5 81.8,81.8C82.2,76.0 84.2,68.4 84.7,65.7" fill="none" stroke="rgb(130,130,130)" stroke-width="1.71" stroke-linecap="round" style="mix-blend-mode:screen"/><path d="M93.4,0.0L100.0,7.3" fill="none" stroke="rgb(151,151,151)" stroke-opacity="0.4" stroke-width="5.70" style="mix-blend-mode:screen"/><path d="M93.4,0.0L100.0,7.3" fill="none" stroke="rgb(151,151,151)" stroke-width="1.90" stroke-linecap="round" style="mix-blend-mode:screen"/><path d="M68.6,73.0C70.6,75.4 77.1,83.1 80.3,87.6C83.5,92.1 86.4,97.9 87.6,100.0" fill="none" stroke="rgb(119,119,119)" stroke-opacity="0.4" stroke-width="5.13" style="mix-blend-mode:screen"/><path d="M68.6,73.0C70.6,75.4 77.1,83.1 80.3,87.6C83.5,92.1 86.4,97.9 87.6,100.0" fill="none" stroke="rgb(119,119,119)" stroke-width="1.71" stroke-linecap="round" style="mix-blend-mode:screen"/></g></svg>
<svg x="281" y="375" width="89" height="88.5" viewBox="0 0 100 100" preserveAspectRatio="none" overflow="hidden"><g filter="url(#f22)"><rect x="0" y="0" width="100" height="100" fill="rgb(5,5,5)"/><path d="M2.2,2.2C3.8,4.5 8.4,11.1 11.7,16.1C15.0,21.0 18.5,27.3 21.9,32.1C25.3,37.0 28.7,40.9 32.1,45.3C35.5,49.6 39.4,54.7 42.3,58.4C45.3,62.0 48.4,65.7 49.6,67.2" fill="none" stroke="rgb(216,216,216)" stroke-opacity="0.4" stroke-width="9.12" style="mix-blend-mode:screen"/><path d="M2.2,2.2C3.8,4.5 8.4,11.1 11.7,16.1C15.0,21.0 18.5,27.3 21.9,32.1C25.3,37.0 28.7,40.9 32.1,45.3C35.5,49.6 39.4,54.7 42.3,58.4C45.3,62.0 48.4,65.7 49.6,67.2" fill="none" stroke="rgb(216,216,216)" stroke-width="3.04" stroke-linecap="round" style="mix-blend-mode:screen"/><path d="M14.6,0.0C16.1,1.9 20.2,7.5 23.4,11.7C26.5,15.8 30.2,20.7 33.6,24.8C37.0,29.0 40.6,32.8 43.8,36.5C47.0,40.1 50.1,43.8 52.6,46.7C55.0,49.6 57.4,52.8 58.4,54.0" fill="none" stroke="rgb(173,173,173)" stroke-opacity="0.4" stroke-width="6.27" style="mix-blend-mode:screen"/><path d="M14.6,0.0C16.1,1.9 20.2,7.5 23.4,11.7C26.5,15.8 30.2,20.7 33.6,24.8C37.0,29.0 40.6,32.8 43.8,36.5C47.0,40.1 50.1,43.8 52.6,46.7C55.0,49.6 57.4,52.8 58.4,54.0" fill="none" stroke="rgb(173,173,173)" stroke-width="2.09" stroke-linecap="round" style="mix-blend-mode:screen"/><path d="M51.8,0.0C52.1,3.6 52.7,14.6 53.3,21.9C53.9,29.2 54.6,37.7 55.5,43.8C56.3,49.9 57.7,54.5 58.4,58.4C59.1,62.3 59.6,65.7 59.9,67.2" fill="none" stroke="rgb(162,162,162)" stroke-opacity="0.4" stroke-width="5.70" style="mix-blend-mode:screen"/><path d="M51.8,0.0C52.1,3.6 52.7,14.6 53.3,21.9C53.9,29.2 54.6,37.7 55.5,43.8C56.3,49.9 57.7,54.5 58.4,58.4C59.1,62.3 59.6,65.7 59.9,67.2" fill="none" stroke="rgb(162,162,162)" stroke-width="1.90" stroke-linecap="round" style="mix-blend-mode:screen"/><path d="M100.0,27.7C97.9,29.4 92.1,34.8 87.6,38.0C83.1,41.1 77.4,43.8 73.0,46.7C68.6,49.6 64.5,53.3 61.3,55.5C58.2,57.7 55.2,59.1 54.0,59.9" fill="none" stroke="rgb(173,173,173)" stroke-opacity="0.4" stroke-width="6.27" style="mix-blend-mode:screen"/><path d="M100.0,27.7C97.9,29.4 92.1,34.8 87.6,38.0C83.1,41.1 77.4,43.8 73.0,46.7C68.6,49.6 64.5,53.3 61.3,55.5C58.2,57.7 55.2,59.1 54.0,59.9" fill="none" stroke="rgb(173,173,173)" stroke-width="2.09" stroke-linecap="round" style="mix-blend-mode:screen"/><path d="M0.0,64.2C2.4,64.7 9.7,66.5 14.6,67.2C19.5,67.8 24.3,68.0 29.2,67.9C34.1,67.8 38.9,66.8 43.8,66.4C48.7,66.1 53.5,65.9 58.4,65.7C63.3,65.5 68.1,65.2 73.0,65.0C77.9,64.7 83.1,64.2 87.6,64.2C92.1,64.2 97.9,64.8 100.0,65.0" fill="none" stroke="rgb(184,184,184)" stroke-opacity="0.4" stroke-width="6.84" style="mix-blend-mode:screen"/><path d="M0.0,64.2C2.4,64.7 9.7,66.5 14.6,67.2C19.5,67.8 24.3,68.0 29.2,67.9C34.1,67.8 38.9,66.8 43.8,66.4C48.7,66.1 53.5,65.9 58.4,65.7C63.3,65.5 68.1,65.2 73.0,65.0C77.9,64.7 83.1,64.2 87.6,64.2C92.1,64.2 97.9,64.8 100.0,65.0" fill="none" stroke="rgb(184,184,184)" stroke-width="2.28" stroke-linecap="round" style="mix-blend-mode:screen"/><path d="M0.0,42.3C2.4,43.8 9.7,48.4 14.6,51.1C19.5,53.8 25.3,56.2 29.2,58.4C33.1,60.6 35.5,62.5 38.0,64.2C40.4,65.9 42.8,67.9 43.8,68.6" fill="none" stroke="rgb(151,151,151)" stroke-opacity="0.4" stroke-width="5.70" style="mix-blend-mode:screen"/><path d="M0.0,42.3C2.4,43.8 9.7,48.4 14.6,51.1C19.5,53.8 25.3,56.2 29.2,58.4C33.1,60.6 35.5,62.5 38.0,64.2C40.4,65.9 42.8,67.9 43.8,68.6" fill="none" stroke="rgb(151,151,151)" stroke-width="1.90" stroke-linecap="round" style="mix-blend-mode:screen"/><path d="M0.0,81.8C2.4,81.0 9.7,78.6 14.6,77.4C19.5,76.2 24.8,75.4 29.2,74.5C33.6,73.5 38.9,72.0 40.9,71.5" fill="none" stroke="rgb(140,140,140)" stroke-opacity="0.4" stroke-width="5.70" style="mix-blend-mode:screen"/><path d="M0.0,81.8C2.4,81.0 9.7,78.6 14.6,77.4C19.5,76.2 24.8,75.4 29.2,74.5C33.6,73.5 38.9,72.0 40.9,71.5" fill="none" stroke="rgb(140,140,140)" stroke-width="1.90" stroke-linecap="round" style="mix-blend-mode:screen"/><path d="M21.9,100.0C23.1,97.9 26.5,91.4 29.2,87.6C31.9,83.8 35.0,80.3 38.0,77.4C40.9,74.5 45.3,71.3 46.7,70.1" fill="none" stroke="rgb(151,151,151)" stroke-opacity="0.4" stroke-width="5.70" style="mix-blend-mode:screen"/><path d="M21.9,100.0C23.1,97.9 26.5,91.4 29.2,87.6C31.9,83.8 35.0,80.3 38.0,77.4C40.9,74.5 45.3,71.3 46.7,70.1" fill="none" stroke="rgb(151,151,151)" stroke-width="1.90" stroke-linecap="round" style="mix-blend-mode:screen"/><path d="M100.0,78.8C97.0,80.0 87.5,83.9 81.8,86.1C76.0,88.3 70.1,89.7 65.7,92.0C61.3,94.3 57.2,98.7 55.5,100.0" fill="none" stroke="rgb(140,140,140)" stroke-opacity="0.4" stroke-width="5.70" style="mix-blend-mode:screen"/><path d="M100.0,78.8C97.0,80.0 87.5,83.9 81.8,86.1C76.0,88.3 70.1,89.7 65.7,92.0C61.3,94.3 57.2,98.7 55.5,100.0" fill="none" stroke="rgb(140,140,140)" stroke-width="1.90" stroke-linecap="round" style="mix-blend-mode:screen"/><path d="M33.6,78.8C35.3,80.3 40.4,84.1 43.8,87.6C47.2,91.1 52.3,97.9 54.0,100.0" fill="none" stroke="rgb(130,130,130)" stroke-opacity="0.4" stroke-width="5.13" style="mix-blend-mode:screen"/><path d="M33.6,78.8C35.3,80.3 40.4,84.1 43.8,87.6C47.2,91.1 52.3,97.9 54.0,100.0" fill="none" stroke="rgb(130,130,130)" stroke-width="1.71" stroke-linecap="round" style="mix-blend-mode:screen"/><path d="M73.0,0.0C74.5,3.6 78.3,15.8 81.8,21.9C85.2,28.0 90.4,33.3 93.4,36.5C96.5,39.7 98.9,40.1 100.0,40.9" fill="none" stroke="rgb(75,75,75)" stroke-opacity="0.4" stroke-width="3.99" style="mix-blend-mode:screen"/><path d="M73.0,0.0C74.5,3.6 78.3,15.8 81.8,21.9C85.2,28.0 90.4,33.3 93.4,36.5C96.5,39.7 98.9,40.1 100.0,40.9" fill="none" stroke="rgb(75,75,75)" stroke-width="1.33" stroke-linecap="round" style="mix-blend-mode:screen"/><path d="M61.3,0.0C62.8,2.4 66.9,9.7 70.1,14.6C73.2,19.5 77.4,25.3 80.3,29.2C83.2,33.1 86.4,36.5 87.6,38.0" fill="none" stroke="rgb(65,65,65)" stroke-opacity="0.4" stroke-width="3.99" style="mix-blend-mode:screen"/><path d="M61.3,0.0C62.8,2.4 66.9,9.7 70.1,14.6C73.2,19.5 77.4,25.3 80.3,29.2C83.2,33.1 86.4,36.5 87.6,38.0" fill="none" stroke="rgb(65,65,65)" stroke-width="1.33" stroke-linecap="round" style="mix-blend-mode:screen"/><path d="M0.0,17.5L8.8,21.9" fill="none" stroke="rgb(108,108,108)" stroke-opacity="0.4" stroke-width="4.56" style="mix-blend-mode:screen"/><path d="M0.0,17.5L8.8,21.9" fill="none" stroke="rgb(108,108,108)" stroke-width="1.52" stroke-linecap="round" style="mix-blend-mode:screen"/><path d="M81.8,100.0C81.8,97.0 81.3,87.5 81.8,81.8C82.2,76.0 84.2,68.4 84.7,65.7" fill="none" stroke="rgb(130,130,130)" stroke-opacity="0.4" stroke-width="5.13" style="mix-blend-mode:screen"/><path d="M81.8,100.0C81.8,97.0 81.3,87.5 81.8,81.8C82.2,76.0 84.2,68.4 84.7,65.7" fill="none" stroke="rgb(130,130,130)" stroke-width="1.71" stroke-linecap="round" style="mix-blend-mode:screen"/><path d="M93.4,0.0L100.0,7.3" fill="none" stroke="rgb(151,151,151)" stroke-opacity="0.4" stroke-width="5.70" style="mix-blend-mode:screen"/><path d="M93.4,0.0L100.0,7.3" fill="none" stroke="rgb(151,151,151)" stroke-width="1.90" stroke-linecap="round" style="mix-blend-mode:screen"/><path d="M68.6,73.0C70.6,75.4 77.1,83.1 80.3,87.6C83.5,92.1 86.4,97.9 87.6,100.0" fill="none" stroke="rgb(119,119,119)" stroke-opacity="0.4" stroke-width="5.13" style="mix-blend-mode:screen"/><path d="M68.6,73.0C70.6,75.4 77.1,83.1 80.3,87.6C83.5,92.1 86.4,97.9 87.6,100.0" fill="none" stroke="rgb(119,119,119)" stroke-width="1.71" stroke-linecap="round" style="mix-blend-mode:screen"/></g></svg>
<svg x="374" y="375" width="88" height="88.5" viewBox="0 0 100 100" preserveAspectRatio="none" overflow="hidden"><g filter="url(#f23)"><rect x="0" y="0" width="100" height="100" fill="rgb(5,5,5)"/><path d="M2.2,2.2C3.8,4.5 8.4,11.1 11.7,16.1C15.0,21.0 18.5,27.3 21.9,32.1C25.3,37.0 28.7,40.9 32.1,45.3C35.5,49.6 39.4,54.7 42.3,58.4C45.3,62.0 48.4,65.7 49.6,67.2" fill="none" stroke="rgb(216,216,216)" stroke-opacity="0.4" stroke-width="9.12" style="mix-blend-mode:screen"/><path d="M2.2,2.2C3.8,4.5 8.4,11.1 11.7,16.1C15.0,21.0 18.5,27.3 21.9,32.1C25.3,37.0 28.7,40.9 32.1,45.3C35.5,49.6 39.4,54.7 42.3,58.4C45.3,62.0 48.4,65.7 49.6,67.2" fill="none" stroke="rgb(216,216,216)" stroke-width="3.04" stroke-linecap="round" style="mix-blend-mode:screen"/><path d="M14.6,0.0C16.1,1.9 20.2,7.5 23.4,11.7C26.5,15.8 30.2,20.7 33.6,24.8C37.0,29.0 40.6,32.8 43.8,36.5C47.0,40.1 50.1,43.8 52.6,46.7C55.0,49.6 57.4,52.8 58.4,54.0" fill="none" stroke="rgb(173,173,173)" stroke-opacity="0.4" stroke-width="6.27" style="mix-blend-mode:screen"/><path d="M14.6,0.0C16.1,1.9 20.2,7.5 23.4,11.7C26.5,15.8 30.2,20.7 33.6,24.8C37.0,29.0 40.6,32.8 43.8,36.5C47.0,40.1 50.1,43.8 52.6,46.7C55.0,49.6 57.4,52.8 58.4,54.0" fill="none" stroke="rgb(173,173,173)" stroke-width="2.09" stroke-linecap="round" style="mix-blend-mode:screen"/><path d="M51.8,0.0C52.1,3.6 52.7,14.6 53.3,21.9C53.9,29.2 54.6,37.7 55.5,43.8C56.3,49.9 57.7,54.5 58.4,58.4C59.1,62.3 59.6,65.7 59.9,67.2" fill="none" stroke="rgb(162,162,162)" stroke-opacity="0.4" stroke-width="5.70" style="mix-blend-mode:screen"/><path d="M51.8,0.0C52.1,3.6 52.7,14.6 53.3,21.9C53.9,29.2 54.6,37.7 55.5,43.8C56.3,49.9 57.7,54.5 58.4,58.4C59.1,62.3 59.6,65.7 59.9,67.2" fill="none" stroke="rgb(162,162,162)" stroke-width="1.90" stroke-linecap="round" style="mix-blend-mode:screen"/><path d="M100.0,27.7C97.9,29.4 92.1,34.8 87.6,38.0C83.1,41.1 77.4,43.8 73.0,46.7C68.6,49.6 64.5,53.3 61.3,55.5C58.2,57.7 55.2,59.1 54.0,59.9" fill="none" stroke="rgb(173,173,173)" stroke-opacity="0.4" stroke-width="6.27" style="mix-blend-mode:screen"/><path d="M100.0,27.7C97.9,29.4 92.1,34.8 87.6,38.0C83.1,41.1 77.4,43.8 73.0,46.7C68.6,49.6 64.5,53.3 61.3,55.5C58.2,57.7 55.2,59.1 54.0,59.9" fill="none" stroke="rgb(173,173,173)" stroke-width="2.09" stroke-linecap="round" style="mix-blend-mode:screen"/><path d="M0.0,64.2C2.4,64.7 9.7,66.5 14.6,67.2C19.5,67.8 24.3,68.0 29.2,67.9C34.1,67.8 38.9,66.8 43.8,66.4C48.7,66.1 53.5,65.9 58.4,65.7C63.3,65.5 68.1,65.2 73.0,65.0C77.9,64.7 83.1,64.2 87.6,64.2C92.1,64.2 97.9,64.8 100.0,65.0" fill="none" stroke="rgb(184,184,184)" stroke-opacity="0.4" stroke-width="6.84" style="mix-blend-mode:screen"/><path d="M0.0,64.2C2.4,64.7 9.7,66.5 14.6,67.2C19.5,67.8 24.3,68.0 29.2,67.9C34.1,67.8 38.9,66.8 43.8,66.4C48.7,66.1 53.5,65.9 58.4,65.7C63.3,65.5 68.1,65.2 73.0,65.0C77.9,64.7 83.1,64.2 87.6,64.2C92.1,64.2 97.9,64.8 100.0,65.0" fill="none" stroke="rgb(184,184,184)" stroke-width="2.28" stroke-linecap="round" style="mix-blend-mode:screen"/><path d="M0.0,42.3C2.4,43.8 9.7,48.4 14.6,51.1C19.5,53.8 25.3,56.2 29.2,58.4C33.1,60.6 35.5,62.5 38.0,64.2C40.4,65.9 42.8,67.9 43.8,68.6" fill="none" stroke="rgb(151,151,151)" stroke-opacity="0.4" stroke-width="5.70" style="mix-blend-mode:screen"/><path d="M0.0,42.3C2.4,43.8 9.7,48.4 14.6,51.1C19.5,53.8 25.3,56.2 29.2,58.4C33.1,60.6 35.5,62.5 38.0,64.2C40.4,65.9 42.8,67.9 43.8,68.6" fill="none" stroke="rgb(151,151,151)" stroke-width="1.90" stroke-linecap="round" style="mix-blend-mode:screen"/><path d="M0.0,81.8C2.4,81.0 9.7,78.6 14.6,77.4C19.5,76.2 24.8,75.4 29.2,74.5C33.6,73.5 38.9,72.0 40.9,71.5" fill="none" stroke="rgb(140,140,140)" stroke-opacity="0.4" stroke-width="5.70" style="mix-blend-mode:screen"/><path d="M0.0,81.8C2.4,81.0 9.7,78.6 14.6,77.4C19.5,76.2 24.8,75.4 29.2,74.5C33.6,73.5 38.9,72.0 40.9,71.5" fill="none" stroke="rgb(140,140,140)" stroke-width="1.90" stroke-linecap="round" style="mix-blend-mode:screen"/><path d="M21.9,100.0C23.1,97.9 26.5,91.4 29.2,87.6C31.9,83.8 35.0,80.3 38.0,77.4C40.9,74.5 45.3,71.3 46.7,70.1" fill="none" stroke="rgb(151,151,151)" stroke-opacity="0.4" stroke-width="5.70" style="mix-blend-mode:screen"/><path d="M21.9,100.0C23.1,97.9 26.5,91.4 29.2,87.6C31.9,83.8 35.0,80.3 38.0,77.4C40.9,74.5 45.3,71.3 46.7,70.1" fill="none" stroke="rgb(151,151,151)" stroke-width="1.90" stroke-linecap="round" style="mix-blend-mode:screen"/><path d="M100.0,78.8C97.0,80.0 87.5,83.9 81.8,86.1C76.0,88.3 70.1,89.7 65.7,92.0C61.3,94.3 57.2,98.7 55.5,100.0" fill="none" stroke="rgb(140,140,140)" stroke-opacity="0.4" stroke-width="5.70" style="mix-blend-mode:screen"/><path d="M100.0,78.8C97.0,80.0 87.5,83.9 81.8,86.1C76.0,88.3 70.1,89.7 65.7,92.0C61.3,94.3 57.2,98.7 55.5,100.0" fill="none" stroke="rgb(140,140,140)" stroke-width="1.90" stroke-linecap="round" style="mix-blend-mode:screen"/><path d="M33.6,78.8C35.3,80.3 40.4,84.1 43.8,87.6C47.2,91.1 52.3,97.9 54.0,100.0" fill="none" stroke="rgb(130,130,130)" stroke-opacity="0.4" stroke-width="5.13" style="mix-blend-mode:screen"/><path d="M33.6,78.8C35.3,80.3 40.4,84.1 43.8,87.6C47.2,91.1 52.3,97.9 54.0,100.0" fill="none" stroke="rgb(130,130,130)" stroke-width="1.71" stroke-linecap="round" style="mix-blend-mode:screen"/><path d="M73.0,0.0C74.5,3.6 78.3,15.8 81.8,21.9C85.2,28.0 90.4,33.3 93.4,36.5C96.5,39.7 98.9,40.1 100.0,40.9" fill="none" stroke="rgb(75,75,75)" stroke-opacity="0.4" stroke-width="3.99" style="mix-blend-mode:screen"/><path d="M73.0,0.0C74.5,3.6 78.3,15.8 81.8,21.9C85.2,28.0 90.4,33.3 93.4,36.5C96.5,39.7 98.9,40.1 100.0,40.9" fill="none" stroke="rgb(75,75,75)" stroke-width="1.33" stroke-linecap="round" style="mix-blend-mode:screen"/><path d="M61.3,0.0C62.8,2.4 66.9,9.7 70.1,14.6C73.2,19.5 77.4,25.3 80.3,29.2C83.2,33.1 86.4,36.5 87.6,38.0" fill="none" stroke="rgb(65,65,65)" stroke-opacity="0.4" stroke-width="3.99" style="mix-blend-mode:screen"/><path d="M61.3,0.0C62.8,2.4 66.9,9.7 70.1,14.6C73.2,19.5 77.4,25.3 80.3,29.2C83.2,33.1 86.4,36.5 87.6,38.0" fill="none" stroke="rgb(65,65,65)" stroke-width="1.33" stroke-linecap="round" style="mix-blend-mode:screen"/><path d="M0.0,17.5L8.8,21.9" fill="none" stroke="rgb(108,108,108)" stroke-opacity="0.4" stroke-width="4.56" style="mix-blend-mode:screen"/><path d="M0.0,17.5L8.8,21.9" fill="none" stroke="rgb(108,108,108)" stroke-width="1.52" stroke-linecap="round" style="mix-blend-mode:screen"/><path d="M81.8,100.0C81.8,97.0 81.3,87.5 81.8,81.8C82.2,76.0 84.2,68.4 84.7,65.7" fill="none" stroke="rgb(130,130,130)" stroke-opacity="0.4" stroke-width="5.13" style="mix-blend-mode:screen"/><path d="M81.8,100.0C81.8,97.0 81.3,87.5 81.8,81.8C82.2,76.0 84.2,68.4 84.7,65.7" fill="none" stroke="rgb(130,130,130)" stroke-width="1.71" stroke-linecap="round" style="mix-blend-mode:screen"/><path d="M93.4,0.0L100.0,7.3" fill="none" stroke="rgb(151,151,151)" stroke-opacity="0.4" stroke-width="5.70" style="mix-blend-mode:screen"/><path d="M93.4,0.0L100.0,7.3" fill="none" stroke="rgb(151,151,151)" stroke-width="1.90" stroke-linecap="round" style="mix-blend-mode:screen"/><path d="M68.6,73.0C70.6,75.4 77.1,83.1 80.3,87.6C83.5,92.1 86.4,97.9 87.6,100.0" fill="none" stroke="rgb(119,119,119)" stroke-opacity="0.4" stroke-width="5.13" style="mix-blend-mode:screen"/><path d="M68.6,73.0C70.6,75.4 77.1,83.1 80.3,87.6C83.5,92.1 86.4,97.9 87.6,100.0" fill="none" stroke="rgb(119,119,119)" stroke-width="1.71" stroke-linecap="round" style="mix-blend-mode:screen"/></g></svg>
<svg x="466" y="375" width="88" height="88.5" viewBox="0 0 100 100" preserveAspectRatio="none" overflow="hidden"><g filter="url(#f24)"><rect x="0" y="0" width="100" height="100" fill="rgb(25,25,25)"/><path d="M2.2,2.2C3.8,4.5 8.4,11.1 11.7,16.1C15.0,21.0 18.5,27.3 21.9,32.1C25.3,37.0 28.7,40.9 32.1,45.3C35.5,49.6 39.4,54.7 42.3,58.4C45.3,62.0 48.4,65.7 49.6,67.2" fill="none" stroke="rgb(106,106,106)" stroke-opacity="0.5" stroke-width="15.36" style="mix-blend-mode:screen"/><path d="M2.2,2.2C3.8,4.5 8.4,11.1 11.7,16.1C15.0,21.0 18.5,27.3 21.9,32.1C25.3,37.0 28.7,40.9 32.1,45.3C35.5,49.6 39.4,54.7 42.3,58.4C45.3,62.0 48.4,65.7 49.6,67.2" fill="none" stroke="rgb(106,106,106)" stroke-width="5.12" stroke-linecap="round" style="mix-blend-mode:screen"/><path d="M14.6,0.0C16.1,1.9 20.2,7.5 23.4,11.7C26.5,15.8 30.2,20.7 33.6,24.8C37.0,29.0 40.6,32.8 43.8,36.5C47.0,40.1 50.1,43.8 52.6,46.7C55.0,49.6 57.4,52.8 58.4,54.0" fill="none" stroke="rgb(85,85,85)" stroke-opacity="0.5" stroke-width="10.56" style="mix-blend-mode:screen"/><path d="M14.6,0.0C16.1,1.9 20.2,7.5 23.4,11.7C26.5,15.8 30.2,20.7 33.6,24.8C37.0,29.0 40.6,32.8 43.8,36.5C47.0,40.1 50.1,43.8 52.6,46.7C55.0,49.6 57.4,52.8 58.4,54.0" fill="none" stroke="rgb(85,85,85)" stroke-width="3.52" stroke-linecap="round" style="mix-blend-mode:screen"/><path d="M51.8,0.0C52.1,3.6 52.7,14.6 53.3,21.9C53.9,29.2 54.6,37.7 55.5,43.8C56.3,49.9 57.7,54.5 58.4,58.4C59.1,62.3 59.6,65.7 59.9,67.2" fill="none" stroke="rgb(79,79,79)" stroke-opacity="0.5" stroke-width="9.60" style="mix-blend-mode:screen"/><path d="M51.8,0.0C52.1,3.6 52.7,14.6 53.3,21.9C53.9,29.2 54.6,37.7 55.5,43.8C56.3,49.9 57.7,54.5 58.4,58.4C59.1,62.3 59.6,65.7 59.9,67.2" fill="none" stroke="rgb(79,79,79)" stroke-width="3.20" stroke-linecap="round" style="mix-blend-mode:screen"/><path d="M100.0,27.7C97.9,29.4 92.1,34.8 87.6,38.0C83.1,41.1 77.4,43.8 73.0,46.7C68.6,49.6 64.5,53.3 61.3,55.5C58.2,57.7 55.2,59.1 54.0,59.9" fill="none" stroke="rgb(85,85,85)" stroke-opacity="0.5" stroke-width="10.56" style="mix-blend-mode:screen"/><path d="M100.0,27.7C97.9,29.4 92.1,34.8 87.6,38.0C83.1,41.1 77.4,43.8 73.0,46.7C68.6,49.6 64.5,53.3 61.3,55.5C58.2,57.7 55.2,59.1 54.0,59.9" fill="none" stroke="rgb(85,85,85)" stroke-width="3.52" stroke-linecap="round" style="mix-blend-mode:screen"/><path d="M0.0,64.2C2.4,64.7 9.7,66.5 14.6,67.2C19.5,67.8 24.3,68.0 29.2,67.9C34.1,67.8 38.9,66.8 43.8,66.4C48.7,66.1 53.5,65.9 58.4,65.7C63.3,65.5 68.1,65.2 73.0,65.0C77.9,64.7 83.1,64.2 87.6,64.2C92.1,64.2 97.9,64.8 100.0,65.0" fill="none" stroke="rgb(90,90,90)" stroke-opacity="0.5" stroke-width="11.52" style="mix-blend-mode:screen"/><path d="M0.0,64.2C2.4,64.7 9.7,66.5 14.6,67.2C19.5,67.8 24.3,68.0 29.2,67.9C34.1,67.8 38.9,66.8 43.8,66.4C48.7,66.1 53.5,65.9 58.4,65.7C63.3,65.5 68.1,65.2 73.0,65.0C77.9,64.7 83.1,64.2 87.6,64.2C92.1,64.2 97.9,64.8 100.0,65.0" fill="none" stroke="rgb(90,90,90)" stroke-width="3.84" stroke-linecap="round" style="mix-blend-mode:screen"/><path d="M0.0,42.3C2.4,43.8 9.7,48.4 14.6,51.1C19.5,53.8 25.3,56.2 29.2,58.4C33.1,60.6 35.5,62.5 38.0,64.2C40.4,65.9 42.8,67.9 43.8,68.6" fill="none" stroke="rgb(74,74,74)" stroke-opacity="0.5" stroke-width="9.60" style="mix-blend-mode:screen"/><path d="M0.0,42.3C2.4,43.8 9.7,48.4 14.6,51.1C19.5,53.8 25.3,56.2 29.2,58.4C33.1,60.6 35.5,62.5 38.0,64.2C40.4,65.9 42.8,67.9 43.8,68.6" fill="none" stroke="rgb(74,74,74)" stroke-width="3.20" stroke-linecap="round" style="mix-blend-mode:screen"/><path d="M0.0,81.8C2.4,81.0 9.7,78.6 14.6,77.4C19.5,76.2 24.8,75.4 29.2,74.5C33.6,73.5 38.9,72.0 40.9,71.5" fill="none" stroke="rgb(69,69,69)" stroke-opacity="0.5" stroke-width="9.60" style="mix-blend-mode:screen"/><path d="M0.0,81.8C2.4,81.0 9.7,78.6 14.6,77.4C19.5,76.2 24.8,75.4 29.2,74.5C33.6,73.5 38.9,72.0 40.9,71.5" fill="none" stroke="rgb(69,69,69)" stroke-width="3.20" stroke-linecap="round" style="mix-blend-mode:screen"/><path d="M21.9,100.0C23.1,97.9 26.5,91.4 29.2,87.6C31.9,83.8 35.0,80.3 38.0,77.4C40.9,74.5 45.3,71.3 46.7,70.1" fill="none" stroke="rgb(74,74,74)" stroke-opacity="0.5" stroke-width="9.60" style="mix-blend-mode:screen"/><path d="M21.9,100.0C23.1,97.9 26.5,91.4 29.2,87.6C31.9,83.8 35.0,80.3 38.0,77.4C40.9,74.5 45.3,71.3 46.7,70.1" fill="none" stroke="rgb(74,74,74)" stroke-width="3.20" stroke-linecap="round" style="mix-blend-mode:screen"/><path d="M100.0,78.8C97.0,80.0 87.5,83.9 81.8,86.1C76.0,88.3 70.1,89.7 65.7,92.0C61.3,94.3 57.2,98.7 55.5,100.0" fill="none" stroke="rgb(69,69,69)" stroke-opacity="0.5" stroke-width="9.60" style="mix-blend-mode:screen"/><path d="M100.0,78.8C97.0,80.0 87.5,83.9 81.8,86.1C76.0,88.3 70.1,89.7 65.7,92.0C61.3,94.3 57.2,98.7 55.5,100.0" fill="none" stroke="rgb(69,69,69)" stroke-width="3.20" stroke-linecap="round" style="mix-blend-mode:screen"/><path d="M33.6,78.8C35.3,80.3 40.4,84.1 43.8,87.6C47.2,91.1 52.3,97.9 54.0,100.0" fill="none" stroke="rgb(63,63,63)" stroke-opacity="0.5" stroke-width="8.64" style="mix-blend-mode:screen"/><path d="M33.6,78.8C35.3,80.3 40.4,84.1 43.8,87.6C47.2,91.1 52.3,97.9 54.0,100.0" fill="none" stroke="rgb(63,63,63)" stroke-width="2.88" stroke-linecap="round" style="mix-blend-mode:screen"/><path d="M73.0,0.0C74.5,3.6 78.3,15.8 81.8,21.9C85.2,28.0 90.4,33.3 93.4,36.5C96.5,39.7 98.9,40.1 100.0,40.9" fill="none" stroke="rgb(37,37,37)" stroke-opacity="0.5" stroke-width="6.72" style="mix-blend-mode:screen"/><path d="M73.0,0.0C74.5,3.6 78.3,15.8 81.8,21.9C85.2,28.0 90.4,33.3 93.4,36.5C96.5,39.7 98.9,40.1 100.0,40.9" fill="none" stroke="rgb(37,37,37)" stroke-width="2.24" stroke-linecap="round" style="mix-blend-mode:screen"/><path d="M61.3,0.0C62.8,2.4 66.9,9.7 70.1,14.6C73.2,19.5 77.4,25.3 80.3,29.2C83.2,33.1 86.4,36.5 87.6,38.0" fill="none" stroke="rgb(31,31,31)" stroke-opacity="0.5" stroke-width="6.72" style="mix-blend-mode:screen"/><path d="M61.3,0.0C62.8,2.4 66.9,9.7 70.1,14.6C73.2,19.5 77.4,25.3 80.3,29.2C83.2,33.1 86.4,36.5 87.6,38.0" fill="none" stroke="rgb(31,31,31)" stroke-width="2.24" stroke-linecap="round" style="mix-blend-mode:screen"/><path d="M0.0,17.5L8.8,21.9" fill="none" stroke="rgb(53,53,53)" stroke-opacity="0.5" stroke-width="7.68" style="mix-blend-mode:screen"/><path d="M0.0,17.5L8.8,21.9" fill="none" stroke="rgb(53,53,53)" stroke-width="2.56" stroke-linecap="round" style="mix-blend-mode:screen"/><path d="M81.8,100.0C81.8,97.0 81.3,87.5 81.8,81.8C82.2,76.0 84.2,68.4 84.7,65.7" fill="none" stroke="rgb(63,63,63)" stroke-opacity="0.5" stroke-width="8.64" style="mix-blend-mode:screen"/><path d="M81.8,100.0C81.8,97.0 81.3,87.5 81.8,81.8C82.2,76.0 84.2,68.4 84.7,65.7" fill="none" stroke="rgb(63,63,63)" stroke-width="2.88" stroke-linecap="round" style="mix-blend-mode:screen"/><path d="M93.4,0.0L100.0,7.3" fill="none" stroke="rgb(74,74,74)" stroke-opacity="0.5" stroke-width="9.60" style="mix-blend-mode:screen"/><path d="M93.4,0.0L100.0,7.3" fill="none" stroke="rgb(74,74,74)" stroke-width="3.20" stroke-linecap="round" style="mix-blend-mode:screen"/><path d="M68.6,73.0C70.6,75.4 77.1,83.1 80.3,87.6C83.5,92.1 86.4,97.9 87.6,100.0" fill="none" stroke="rgb(58,58,58)" stroke-opacity="0.5" stroke-width="8.64" style="mix-blend-mode:screen"/><path d="M68.6,73.0C70.6,75.4 77.1,83.1 80.3,87.6C83.5,92.1 86.4,97.9 87.6,100.0" fill="none" stroke="rgb(58,58,58)" stroke-width="2.88" stroke-linecap="round" style="mix-blend-mode:screen"/></g></svg>
<svg x="573" y="375" width="88" height="88.5" viewBox="0 0 100 100" preserveAspectRatio="none" overflow="hidden"><g filter="url(#f25)"><rect x="0" y="0" width="100" height="100" fill="rgb(76,76,76)"/><path d="M2.2,2.2C3.8,4.5 8.4,11.1 11.7,16.1C15.0,21.0 18.5,27.3 21.9,32.1C25.3,37.0 28.7,40.9 32.1,45.3C35.5,49.6 39.4,54.7 42.3,58.4C45.3,62.0 48.4,65.7 49.6,67.2" fill="none" stroke="rgb(255,255,255)" stroke-opacity="0.4" stroke-width="11.52" style="mix-blend-mode:screen"/><path d="M2.2,2.2C3.8,4.5 8.4,11.1 11.7,16.1C15.0,21.0 18.5,27.3 21.9,32.1C25.3,37.0 28.7,40.9 32.1,45.3C35.5,49.6 39.4,54.7 42.3,58.4C45.3,62.0 48.4,65.7 49.6,67.2" fill="none" stroke="rgb(255,255,255)" stroke-width="3.84" stroke-linecap="round" style="mix-blend-mode:screen"/><path d="M14.6,0.0C16.1,1.9 20.2,7.5 23.4,11.7C26.5,15.8 30.2,20.7 33.6,24.8C37.0,29.0 40.6,32.8 43.8,36.5C47.0,40.1 50.1,43.8 52.6,46.7C55.0,49.6 57.4,52.8 58.4,54.0" fill="none" stroke="rgb(204,204,204)" stroke-opacity="0.4" stroke-width="7.92" style="mix-blend-mode:screen"/><path d="M14.6,0.0C16.1,1.9 20.2,7.5 23.4,11.7C26.5,15.8 30.2,20.7 33.6,24.8C37.0,29.0 40.6,32.8 43.8,36.5C47.0,40.1 50.1,43.8 52.6,46.7C55.0,49.6 57.4,52.8 58.4,54.0" fill="none" stroke="rgb(204,204,204)" stroke-width="2.64" stroke-linecap="round" style="mix-blend-mode:screen"/><path d="M51.8,0.0C52.1,3.6 52.7,14.6 53.3,21.9C53.9,29.2 54.6,37.7 55.5,43.8C56.3,49.9 57.7,54.5 58.4,58.4C59.1,62.3 59.6,65.7 59.9,67.2" fill="none" stroke="rgb(191,191,191)" stroke-opacity="0.4" stroke-width="7.20" style="mix-blend-mode:screen"/><path d="M51.8,0.0C52.1,3.6 52.7,14.6 53.3,21.9C53.9,29.2 54.6,37.7 55.5,43.8C56.3,49.9 57.7,54.5 58.4,58.4C59.1,62.3 59.6,65.7 59.9,67.2" fill="none" stroke="rgb(191,191,191)" stroke-width="2.40" stroke-linecap="round" style="mix-blend-mode:screen"/><path d="M100.0,27.7C97.9,29.4 92.1,34.8 87.6,38.0C83.1,41.1 77.4,43.8 73.0,46.7C68.6,49.6 64.5,53.3 61.3,55.5C58.2,57.7 55.2,59.1 54.0,59.9" fill="none" stroke="rgb(204,204,204)" stroke-opacity="0.4" stroke-width="7.92" style="mix-blend-mode:screen"/><path d="M100.0,27.7C97.9,29.4 92.1,34.8 87.6,38.0C83.1,41.1 77.4,43.8 73.0,46.7C68.6,49.6 64.5,53.3 61.3,55.5C58.2,57.7 55.2,59.1 54.0,59.9" fill="none" stroke="rgb(204,204,204)" stroke-width="2.64" stroke-linecap="round" style="mix-blend-mode:screen"/><path d="M0.0,64.2C2.4,64.7 9.7,66.5 14.6,67.2C19.5,67.8 24.3,68.0 29.2,67.9C34.1,67.8 38.9,66.8 43.8,66.4C48.7,66.1 53.5,65.9 58.4,65.7C63.3,65.5 68.1,65.2 73.0,65.0C77.9,64.7 83.1,64.2 87.6,64.2C92.1,64.2 97.9,64.8 100.0,65.0" fill="none" stroke="rgb(216,216,216)" stroke-opacity="0.4" stroke-width="8.64" style="mix-blend-mode:screen"/><path d="M0.0,64.2C2.4,64.7 9.7,66.5 14.6,67.2C19.5,67.8 24.3,68.0 29.2,67.9C34.1,67.8 38.9,66.8 43.8,66.4C48.7,66.1 53.5,65.9 58.4,65.7C63.3,65.5 68.1,65.2 73.0,65.0C77.9,64.7 83.1,64.2 87.6,64.2C92.1,64.2 97.9,64.8 100.0,65.0" fill="none" stroke="rgb(216,216,216)" stroke-width="2.88" stroke-linecap="round" style="mix-blend-mode:screen"/><path d="M0.0,42.3C2.4,43.8 9.7,48.4 14.6,51.1C19.5,53.8 25.3,56.2 29.2,58.4C33.1,60.6 35.5,62.5 38.0,64.2C40.4,65.9 42.8,67.9 43.8,68.6" fill="none" stroke="rgb(178,178,178)" stroke-opacity="0.4" stroke-width="7.20" style="mix-blend-mode:screen"/><path d="M0.0,42.3C2.4,43.8 9.7,48.4 14.6,51.1C19.5,53.8 25.3,56.2 29.2,58.4C33.1,60.6 35.5,62.5 38.0,64.2C40.4,65.9 42.8,67.9 43.8,68.6" fill="none" stroke="rgb(178,178,178)" stroke-width="2.40" stroke-linecap="round" style="mix-blend-mode:screen"/><path d="M0.0,81.8C2.4,81.0 9.7,78.6 14.6,77.4C19.5,76.2 24.8,75.4 29.2,74.5C33.6,73.5 38.9,72.0 40.9,71.5" fill="none" stroke="rgb(165,165,165)" stroke-opacity="0.4" stroke-width="7.20" style="mix-blend-mode:screen"/><path d="M0.0,81.8C2.4,81.0 9.7,78.6 14.6,77.4C19.5,76.2 24.8,75.4 29.2,74.5C33.6,73.5 38.9,72.0 40.9,71.5" fill="none" stroke="rgb(165,165,165)" stroke-width="2.40" stroke-linecap="round" style="mix-blend-mode:screen"/><path d="M21.9,100.0C23.1,97.9 26.5,91.4 29.2,87.6C31.9,83.8 35.0,80.3 38.0,77.4C40.9,74.5 45.3,71.3 46.7,70.1" fill="none" stroke="rgb(178,178,178)" stroke-opacity="0.4" stroke-width="7.20" style="mix-blend-mode:screen"/><path d="M21.9,100.0C23.1,97.9 26.5,91.4 29.2,87.6C31.9,83.8 35.0,80.3 38.0,77.4C40.9,74.5 45.3,71.3 46.7,70.1" fill="none" stroke="rgb(178,178,178)" stroke-width="2.40" stroke-linecap="round" style="mix-blend-mode:screen"/><path d="M100.0,78.8C97.0,80.0 87.5,83.9 81.8,86.1C76.0,88.3 70.1,89.7 65.7,92.0C61.3,94.3 57.2,98.7 55.5,100.0" fill="none" stroke="rgb(165,165,165)" stroke-opacity="0.4" stroke-width="7.20" style="mix-blend-mode:screen"/><path d="M100.0,78.8C97.0,80.0 87.5,83.9 81.8,86.1C76.0,88.3 70.1,89.7 65.7,92.0C61.3,94.3 57.2,98.7 55.5,100.0" fill="none" stroke="rgb(165,165,165)" stroke-width="2.40" stroke-linecap="round" style="mix-blend-mode:screen"/><path d="M33.6,78.8C35.3,80.3 40.4,84.1 43.8,87.6C47.2,91.1 52.3,97.9 54.0,100.0" fill="none" stroke="rgb(153,153,153)" stroke-opacity="0.4" stroke-width="6.48" style="mix-blend-mode:screen"/><path d="M33.6,78.8C35.3,80.3 40.4,84.1 43.8,87.6C47.2,91.1 52.3,97.9 54.0,100.0" fill="none" stroke="rgb(153,153,153)" stroke-width="2.16" stroke-linecap="round" style="mix-blend-mode:screen"/><path d="M73.0,0.0C74.5,3.6 78.3,15.8 81.8,21.9C85.2,28.0 90.4,33.3 93.4,36.5C96.5,39.7 98.9,40.1 100.0,40.9" fill="none" stroke="rgb(89,89,89)" stroke-opacity="0.4" stroke-width="5.04" style="mix-blend-mode:screen"/><path d="M73.0,0.0C74.5,3.6 78.3,15.8 81.8,21.9C85.2,28.0 90.4,33.3 93.4,36.5C96.5,39.7 98.9,40.1 100.0,40.9" fill="none" stroke="rgb(89,89,89)" stroke-width="1.68" stroke-linecap="round" style="mix-blend-mode:screen"/><path d="M61.3,0.0C62.8,2.4 66.9,9.7 70.1,14.6C73.2,19.5 77.4,25.3 80.3,29.2C83.2,33.1 86.4,36.5 87.6,38.0" fill="none" stroke="rgb(76,76,76)" stroke-opacity="0.4" stroke-width="5.04" style="mix-blend-mode:screen"/><path d="M61.3,0.0C62.8,2.4 66.9,9.7 70.1,14.6C73.2,19.5 77.4,25.3 80.3,29.2C83.2,33.1 86.4,36.5 87.6,38.0" fill="none" stroke="rgb(76,76,76)" stroke-width="1.68" stroke-linecap="round" style="mix-blend-mode:screen"/><path d="M0.0,17.5L8.8,21.9" fill="none" stroke="rgb(127,127,127)" stroke-opacity="0.4" stroke-width="5.76" style="mix-blend-mode:screen"/><path d="M0.0,17.5L8.8,21.9" fill="none" stroke="rgb(127,127,127)" stroke-width="1.92" stroke-linecap="round" style="mix-blend-mode:screen"/><path d="M81.8,100.0C81.8,97.0 81.3,87.5 81.8,81.8C82.2,76.0 84.2,68.4 84.7,65.7" fill="none" stroke="rgb(153,153,153)" stroke-opacity="0.4" stroke-width="6.48" style="mix-blend-mode:screen"/><path d="M81.8,100.0C81.8,97.0 81.3,87.5 81.8,81.8C82.2,76.0 84.2,68.4 84.7,65.7" fill="none" stroke="rgb(153,153,153)" stroke-width="2.16" stroke-linecap="round" style="mix-blend-mode:screen"/><path d="M93.4,0.0L100.0,7.3" fill="none" stroke="rgb(178,178,178)" stroke-opacity="0.4" stroke-width="7.20" style="mix-blend-mode:screen"/><path d="M93.4,0.0L100.0,7.3" fill="none" stroke="rgb(178,178,178)" stroke-width="2.40" stroke-linecap="round" style="mix-blend-mode:screen"/><path d="M68.6,73.0C70.6,75.4 77.1,83.1 80.3,87.6C83.5,92.1 86.4,97.9 87.6,100.0" fill="none" stroke="rgb(140,140,140)" stroke-opacity="0.4" stroke-width="6.48" style="mix-blend-mode:screen"/><path d="M68.6,73.0C70.6,75.4 77.1,83.1 80.3,87.6C83.5,92.1 86.4,97.9 87.6,100.0" fill="none" stroke="rgb(140,140,140)" stroke-width="2.16" stroke-linecap="round" style="mix-blend-mode:screen"/></g></svg>
<svg x="4" y="467" width="89" height="88.6" viewBox="0 0 100 100" preserveAspectRatio="none" overflow="hidden"><g filter="url(#f26)"><rect x="0" y="0" width="100" height="100" fill="rgb(35,35,35)"/><path d="M26.0,0.0C26.3,2.0 27.3,7.7 28.0,12.0C28.7,16.3 29.7,23.7 30.0,26.0" fill="none" stroke="#fff" stroke-opacity="0.150" stroke-width="14.00" stroke-linecap="round"/><path d="M26.0,0.0C26.3,2.0 27.3,7.7 28.0,12.0C28.7,16.3 29.7,23.7 30.0,26.0" fill="none" stroke="#fff" stroke-opacity="0.150" stroke-width="12.00" stroke-linecap="round"/><path d="M26.0,0.0C26.3,2.0 27.3,7.7 28.0,12.0C28.7,16.3 29.7,23.7 30.0,26.0" fill="none" stroke="#fff" stroke-opacity="0.150" stroke-width="10.00" stroke-linecap="round"/><path d="M26.0,0.0C26.3,2.0 27.3,7.7 28.0,12.0C28.7,16.3 29.7,23.7 30.0,26.0" fill="none" stroke="#fff" stroke-opacity="0.150" stroke-width="8.00" stroke-linecap="round"/><path d="M26.0,0.0C26.3,2.0 27.3,7.7 28.0,12.0C28.7,16.3 29.7,23.7 30.0,26.0" fill="none" stroke="#fff" stroke-opacity="0.150" stroke-width="6.00" stroke-linecap="round"/><path d="M26.0,0.0C26.3,2.0 27.3,7.7 28.0,12.0C28.7,16.3 29.7,23.7 30.0,26.0" fill="none" stroke="#fff" stroke-opacity="0.150" stroke-width="4.00" stroke-linecap="round"/><circle cx="22" cy="96" r="7.00" fill="#fff" fill-opacity="0.180"/><circle cx="22" cy="96" r="5.83" fill="#fff" fill-opacity="0.180"/><circle cx="22" cy="96" r="4.67" fill="#fff" fill-opacity="0.180"/><circle cx="22" cy="96" r="3.50" fill="#fff" fill-opacity="0.180"/><circle cx="22" cy="96" r="2.33" fill="#fff" fill-opacity="0.180"/><circle cx="100" cy="60" r="4.00" fill="#fff" fill-opacity="0.120"/><circle cx="100" cy="60" r="3.33" fill="#fff" fill-opacity="0.120"/><circle cx="100" cy="60" r="2.67" fill="#fff" fill-opacity="0.120"/><circle cx="100" cy="60" r="2.00" fill="#fff" fill-opacity="0.120"/><circle cx="100" cy="60" r="1.33" fill="#fff" fill-opacity="0.120"/><path d="M26.3,0.0C25.8,3.6 25.1,14.6 23.4,21.9C21.7,29.2 18.5,36.5 16.1,43.8C13.6,51.1 10.9,58.4 8.8,65.7C6.6,73.0 4.4,81.9 2.9,87.6C1.5,93.3 0.5,97.9 0.0,100.0" fill="none" stroke="rgb(158,158,158)" stroke-opacity="0.35" stroke-width="7.68" style="mix-blend-mode:screen"/><path d="M26.3,0.0C25.8,3.6 25.1,14.6 23.4,21.9C21.7,29.2 18.5,36.5 16.1,43.8C13.6,51.1 10.9,58.4 8.8,65.7C6.6,73.0 4.4,81.9 2.9,87.6C1.5,93.3 0.5,97.9 0.0,100.0" fill="none" stroke="rgb(158,158,158)" stroke-width="2.56" stroke-linecap="round" style="mix-blend-mode:screen"/><path d="M29.2,0.0C29.4,4.9 30.2,19.5 30.7,29.2C31.1,38.9 31.6,48.7 32.1,58.4C32.6,68.1 33.1,80.7 33.6,87.6C34.1,94.5 34.8,97.9 35.0,100.0" fill="none" stroke="rgb(118,118,118)" stroke-opacity="0.35" stroke-width="6.72" style="mix-blend-mode:screen"/><path d="M29.2,0.0C29.4,4.9 30.2,19.5 30.7,29.2C31.1,38.9 31.6,48.7 32.1,58.4C32.6,68.1 33.1,80.7 33.6,87.6C34.1,94.5 34.8,97.9 35.0,100.0" fill="none" stroke="rgb(118,118,118)" stroke-width="2.24" stroke-linecap="round" style="mix-blend-mode:screen"/><path d="M0.0,14.6C4.9,14.4 19.5,13.6 29.2,13.1C38.9,12.7 46.6,12.4 58.4,11.7C70.2,10.9 93.1,9.2 100.0,8.8" fill="none" stroke="rgb(110,110,110)" stroke-opacity="0.35" stroke-width="4.80" style="mix-blend-mode:screen"/><path d="M0.0,14.6C4.9,14.4 19.5,13.6 29.2,13.1C38.9,12.7 46.6,12.4 58.4,11.7C70.2,10.9 93.1,9.2 100.0,8.8" fill="none" stroke="rgb(110,110,110)" stroke-width="1.60" stroke-linecap="round" style="mix-blend-mode:screen"/><path d="M61.3,0.0C63.3,2.4 69.1,9.7 73.0,14.6C76.9,19.5 81.3,24.3 84.7,29.2C88.1,34.1 90.9,38.9 93.4,43.8C96.0,48.7 98.9,56.0 100.0,58.4" fill="none" stroke="rgb(134,134,134)" stroke-opacity="0.35" stroke-width="6.24" style="mix-blend-mode:screen"/><path d="M61.3,0.0C63.3,2.4 69.1,9.7 73.0,14.6C76.9,19.5 81.3,24.3 84.7,29.2C88.1,34.1 90.9,38.9 93.4,43.8C96.0,48.7 98.9,56.0 100.0,58.4" fill="none" stroke="rgb(134,134,134)" stroke-width="2.08" stroke-linecap="round" style="mix-blend-mode:screen"/><path d="M36.5,35.0C40.1,34.1 52.3,31.1 58.4,29.2C64.5,27.3 66.1,25.1 73.0,23.4C79.9,21.7 95.5,19.7 100.0,19.0" fill="none" stroke="rgb(110,110,110)" stroke-opacity="0.35" stroke-width="4.80" style="mix-blend-mode:screen"/><path d="M36.5,35.0C40.1,34.1 52.3,31.1 58.4,29.2C64.5,27.3 66.1,25.1 73.0,23.4C79.9,21.7 95.5,19.7 100.0,19.0" fill="none" stroke="rgb(110,110,110)" stroke-width="1.60" stroke-linecap="round" style="mix-blend-mode:screen"/><path d="M14.6,100.0C17.0,95.5 24.3,79.4 29.2,73.0C34.1,66.5 37.7,66.2 43.8,61.3C49.9,56.4 59.4,48.4 65.7,43.8C72.0,39.2 76.9,37.2 81.8,33.6C86.6,29.9 92.7,23.8 94.9,21.9" fill="none" stroke="rgb(126,126,126)" stroke-opacity="0.35" stroke-width="5.76" style="mix-blend-mode:screen"/><path d="M14.6,100.0C17.0,95.5 24.3,79.4 29.2,73.0C34.1,66.5 37.7,66.2 43.8,61.3C49.9,56.4 59.4,48.4 65.7,43.8C72.0,39.2 76.9,37.2 81.8,33.6C86.6,29.9 92.7,23.8 94.9,21.9" fill="none" stroke="rgb(126,126,126)" stroke-width="1.92" stroke-linecap="round" style="mix-blend-mode:screen"/><path d="M43.8,67.2C47.4,65.7 58.4,60.8 65.7,58.4C73.0,56.0 81.9,54.0 87.6,52.6C93.3,51.1 97.9,50.1 100.0,49.6" fill="none" stroke="rgb(110,110,110)" stroke-opacity="0.35" stroke-width="4.80" style="mix-blend-mode:screen"/><path d="M43.8,67.2C47.4,65.7 58.4,60.8 65.7,58.4C73.0,56.0 81.9,54.0 87.6,52.6C93.3,51.1 97.9,50.1 100.0,49.6" fill="none" stroke="rgb(110,110,110)" stroke-width="1.60" stroke-linecap="round" style="mix-blend-mode:screen"/><path d="M0.0,48.2C3.6,47.4 15.8,45.0 21.9,43.8C28.0,42.6 34.1,41.4 36.5,40.9" fill="none" stroke="rgb(94,94,94)" stroke-opacity="0.35" stroke-width="4.32" style="mix-blend-mode:screen"/><path d="M0.0,48.2C3.6,47.4 15.8,45.0 21.9,43.8C28.0,42.6 34.1,41.4 36.5,40.9" fill="none" stroke="rgb(94,94,94)" stroke-width="1.44" stroke-linecap="round" style="mix-blend-mode:screen"/><path d="M65.7,0.0C68.1,3.6 76.2,16.5 80.3,21.9C84.4,27.3 87.2,29.0 90.5,32.1C93.8,35.3 98.4,39.4 100.0,40.9" fill="none" stroke="rgb(118,118,118)" stroke-opacity="0.35" stroke-width="4.80" style="mix-blend-mode:screen"/><path d="M65.7,0.0C68.1,3.6 76.2,16.5 80.3,21.9C84.4,27.3 87.2,29.0 90.5,32.1C93.8,35.3 98.4,39.4 100.0,40.9" fill="none" stroke="rgb(118,118,118)" stroke-width="1.60" stroke-linecap="round" style="mix-blend-mode:screen"/><path d="M0.0,73.0C2.4,71.8 9.7,68.6 14.6,65.7C19.5,62.8 26.8,57.2 29.2,55.5" fill="none" stroke="rgb(110,110,110)" stroke-opacity="0.35" stroke-width="4.32" style="mix-blend-mode:screen"/><path d="M0.0,73.0C2.4,71.8 9.7,68.6 14.6,65.7C19.5,62.8 26.8,57.2 29.2,55.5" fill="none" stroke="rgb(110,110,110)" stroke-width="1.44" stroke-linecap="round" style="mix-blend-mode:screen"/><path d="M80.3,100.0C81.5,97.9 84.3,90.6 87.6,87.6C90.9,84.5 97.9,82.7 100.0,81.8" fill="none" stroke="rgb(110,110,110)" stroke-opacity="0.35" stroke-width="4.32" style="mix-blend-mode:screen"/><path d="M80.3,100.0C81.5,97.9 84.3,90.6 87.6,87.6C90.9,84.5 97.9,82.7 100.0,81.8" fill="none" stroke="rgb(110,110,110)" stroke-width="1.44" stroke-linecap="round" style="mix-blend-mode:screen"/><path d="M0.0,2.9C2.4,3.4 10.2,4.9 14.6,5.8C19.0,6.8 24.3,8.3 26.3,8.8" fill="none" stroke="rgb(94,94,94)" stroke-opacity="0.35" stroke-width="3.84" style="mix-blend-mode:screen"/><path d="M0.0,2.9C2.4,3.4 10.2,4.9 14.6,5.8C19.0,6.8 24.3,8.3 26.3,8.8" fill="none" stroke="rgb(94,94,94)" stroke-width="1.28" stroke-linecap="round" style="mix-blend-mode:screen"/><path d="M43.8,100.0C44.3,97.0 46.7,87.5 46.7,81.8C46.7,76.0 44.3,68.4 43.8,65.7" fill="none" stroke="rgb(102,102,102)" stroke-opacity="0.35" stroke-width="4.80" style="mix-blend-mode:screen"/><path d="M43.8,100.0C44.3,97.0 46.7,87.5 46.7,81.8C46.7,76.0 44.3,68.4 43.8,65.7" fill="none" stroke="rgb(102,102,102)" stroke-width="1.60" stroke-linecap="round" style="mix-blend-mode:screen"/><path d="M100.0,87.6C97.9,85.2 90.6,77.9 87.6,73.0C84.5,68.1 81.8,62.5 81.8,58.4C81.8,54.3 86.6,49.9 87.6,48.2" fill="none" stroke="rgb(79,79,79)" stroke-opacity="0.35" stroke-width="4.32" style="mix-blend-mode:screen"/><path d="M100.0,87.6C97.9,85.2 90.6,77.9 87.6,73.0C84.5,68.1 81.8,62.5 81.8,58.4C81.8,54.3 86.6,49.9 87.6,48.2" fill="none" stroke="rgb(79,79,79)" stroke-width="1.44" stroke-linecap="round" style="mix-blend-mode:screen"/><path d="M28.9,8.1C27.5,10.5 23.0,17.7 20.4,22.7C17.9,27.7 14.7,35.5 13.5,38.0" fill="none" stroke="rgb(72,72,72)" stroke-opacity="0.35" stroke-width="3.41" style="mix-blend-mode:screen"/><path d="M28.9,8.1C27.5,10.5 23.0,17.7 20.4,22.7C17.9,27.7 14.7,35.5 13.5,38.0" fill="none" stroke="rgb(72,72,72)" stroke-width="1.14" stroke-linecap="round" style="mix-blend-mode:screen"/><path d="M50.9,-5.5C53.1,-3.1 62.8,3.4 64.0,8.9C65.1,14.3 58.8,24.2 57.8,27.3" fill="none" stroke="rgb(97,97,97)" stroke-opacity="0.35" stroke-width="3.49" style="mix-blend-mode:screen"/><path d="M50.9,-5.5C53.1,-3.1 62.8,3.4 64.0,8.9C65.1,14.3 58.8,24.2 57.8,27.3" fill="none" stroke="rgb(97,97,97)" stroke-width="1.16" stroke-linecap="round" style="mix-blend-mode:screen"/><path d="M4.9,16.8C2.1,22.6 -6.9,39.8 -11.9,51.7C-17.0,63.6 -23.1,82.0 -25.3,88.1" fill="none" stroke="rgb(102,102,102)" stroke-opacity="0.35" stroke-width="3.45" style="mix-blend-mode:screen"/><path d="M4.9,16.8C2.1,22.6 -6.9,39.8 -11.9,51.7C-17.0,63.6 -23.1,82.0 -25.3,88.1" fill="none" stroke="rgb(102,102,102)" stroke-width="1.15" stroke-linecap="round" style="mix-blend-mode:screen"/><path d="M-4.4,93.0C-1.3,94.5 10.4,97.2 14.3,102.1C18.1,107.0 17.7,119.0 18.4,122.4" fill="none" stroke="rgb(96,96,96)" stroke-opacity="0.35" stroke-width="3.32" style="mix-blend-mode:screen"/><path d="M-4.4,93.0C-1.3,94.5 10.4,97.2 14.3,102.1C18.1,107.0 17.7,119.0 18.4,122.4" fill="none" stroke="rgb(96,96,96)" stroke-width="1.11" stroke-linecap="round" style="mix-blend-mode:screen"/><path d="M11.7,59.8C9.8,63.4 3.8,74.0 0.4,81.3C-3.1,88.7 -7.3,100.1 -8.9,103.9" fill="none" stroke="rgb(73,73,73)" stroke-opacity="0.35" stroke-width="2.97" style="mix-blend-mode:screen"/><path d="M11.7,59.8C9.8,63.4 3.8,74.0 0.4,81.3C-3.1,88.7 -7.3,100.1 -8.9,103.9" fill="none" stroke="rgb(73,73,73)" stroke-width="0.99" stroke-linecap="round" style="mix-blend-mode:screen"/><path d="M14.7,71.6C15.2,75.4 16.2,87.0 17.9,94.4C19.6,101.8 23.8,112.5 25.0,116.2" fill="none" stroke="rgb(80,80,80)" stroke-opacity="0.35" stroke-width="3.53" style="mix-blend-mode:screen"/><path d="M14.7,71.6C15.2,75.4 16.2,87.0 17.9,94.4C19.6,101.8 23.8,112.5 25.0,116.2" fill="none" stroke="rgb(80,80,80)" stroke-width="1.18" stroke-linecap="round" style="mix-blend-mode:screen"/><path d="M85.3,73.9C88.8,77.3 99.0,87.9 106.0,94.7C113.1,101.5 124.0,111.3 127.6,114.6" fill="none" stroke="rgb(94,94,94)" stroke-opacity="0.35" stroke-width="4.14" style="mix-blend-mode:screen"/><path d="M85.3,73.9C88.8,77.3 99.0,87.9 106.0,94.7C113.1,101.5 124.0,111.3 127.6,114.6" fill="none" stroke="rgb(94,94,94)" stroke-width="1.38" stroke-linecap="round" style="mix-blend-mode:screen"/><path d="M24.6,107.6C28.1,110.1 38.1,119.5 46.0,122.6C53.9,125.7 67.7,125.5 72.0,126.1" fill="none" stroke="rgb(86,86,86)" stroke-opacity="0.35" stroke-width="3.10" style="mix-blend-mode:screen"/><path d="M24.6,107.6C28.1,110.1 38.1,119.5 46.0,122.6C53.9,125.7 67.7,125.5 72.0,126.1" fill="none" stroke="rgb(86,86,86)" stroke-width="1.03" stroke-linecap="round" style="mix-blend-mode:screen"/><path d="M-5.3,70.2C-9.9,72.4 -25.8,76.7 -33.0,83.3C-40.3,89.9 -46.0,105.3 -48.6,109.7" fill="none" stroke="rgb(93,93,93)" stroke-opacity="0.35" stroke-width="3.33" style="mix-blend-mode:screen"/><path d="M-5.3,70.2C-9.9,72.4 -25.8,76.7 -33.0,83.3C-40.3,89.9 -46.0,105.3 -48.6,109.7" fill="none" stroke="rgb(93,93,93)" stroke-width="1.11" stroke-linecap="round" style="mix-blend-mode:screen"/><path d="M61.3,59.6C60.4,65.8 54.0,84.8 55.7,96.7C57.3,108.6 68.6,125.2 71.2,130.9" fill="none" stroke="rgb(92,92,92)" stroke-opacity="0.35" stroke-width="3.56" style="mix-blend-mode:screen"/><path d="M61.3,59.6C60.4,65.8 54.0,84.8 55.7,96.7C57.3,108.6 68.6,125.2 71.2,130.9" fill="none" stroke="rgb(92,92,92)" stroke-width="1.19" stroke-linecap="round" style="mix-blend-mode:screen"/><path d="M-2.7,74.2C-6.8,79.5 -21.5,94.5 -27.4,106.4C-33.3,118.3 -36.4,139.0 -38.2,145.5" fill="none" stroke="rgb(83,83,83)" stroke-opacity="0.35" stroke-width="3.29" style="mix-blend-mode:screen"/><path d="M-2.7,74.2C-6.8,79.5 -21.5,94.5 -27.4,106.4C-33.3,118.3 -36.4,139.0 -38.2,145.5" fill="none" stroke="rgb(83,83,83)" stroke-width="1.10" stroke-linecap="round" style="mix-blend-mode:screen"/><path d="M70.2,-7.3C72.1,-4.3 80.9,4.3 81.7,10.7C82.4,17.0 76.0,27.5 74.8,30.8" fill="none" stroke="rgb(95,95,95)" stroke-opacity="0.35" stroke-width="2.96" style="mix-blend-mode:screen"/><path d="M70.2,-7.3C72.1,-4.3 80.9,4.3 81.7,10.7C82.4,17.0 76.0,27.5 74.8,30.8" fill="none" stroke="rgb(95,95,95)" stroke-width="0.99" stroke-linecap="round" style="mix-blend-mode:screen"/><path d="M5.5,19.7C9.2,24.9 23.2,39.4 27.4,51.0C31.5,62.5 29.8,82.7 30.2,89.0" fill="none" stroke="rgb(88,88,88)" stroke-opacity="0.35" stroke-width="3.53" style="mix-blend-mode:screen"/><path d="M5.5,19.7C9.2,24.9 23.2,39.4 27.4,51.0C31.5,62.5 29.8,82.7 30.2,89.0" fill="none" stroke="rgb(88,88,88)" stroke-width="1.18" stroke-linecap="round" style="mix-blend-mode:screen"/><path d="M96.0,88.3C92.8,90.1 83.5,96.2 76.9,99.3C70.2,102.3 59.5,105.3 56.0,106.5" fill="none" stroke="rgb(99,99,99)" stroke-opacity="0.35" stroke-width="3.40" style="mix-blend-mode:screen"/><path d="M96.0,88.3C92.8,90.1 83.5,96.2 76.9,99.3C70.2,102.3 59.5,105.3 56.0,106.5" fill="none" stroke="rgb(99,99,99)" stroke-width="1.13" stroke-linecap="round" style="mix-blend-mode:screen"/><path d="M104.9,8.1C108.4,9.0 120.1,10.0 126.0,13.6C131.9,17.2 137.9,27.3 140.3,30.0" fill="none" stroke="rgb(89,89,89)" stroke-opacity="0.35" stroke-width="3.58" style="mix-blend-mode:screen"/><path d="M104.9,8.1C108.4,9.0 120.1,10.0 126.0,13.6C131.9,17.2 137.9,27.3 140.3,30.0" fill="none" stroke="rgb(89,89,89)" stroke-width="1.19" stroke-linecap="round" style="mix-blend-mode:screen"/><path d="M21.5,-9.5C22.3,-5.5 24.1,6.5 26.1,14.3C28.1,22.2 32.5,33.5 33.7,37.4" fill="none" stroke="rgb(92,92,92)" stroke-opacity="0.35" stroke-width="4.25" style="mix-blend-mode:screen"/><path d="M21.5,-9.5C22.3,-5.5 24.1,6.5 26.1,14.3C28.1,22.2 32.5,33.5 33.7,37.4" fill="none" stroke="rgb(92,92,92)" stroke-width="1.42" stroke-linecap="round" style="mix-blend-mode:screen"/><path d="M51.9,64.1C48.3,66.1 34.2,69.9 30.4,76.0C26.7,82.0 29.6,96.4 29.4,100.4" fill="none" stroke="rgb(138,138,138)" stroke-opacity="0.35" stroke-width="4.38" style="mix-blend-mode:screen"/><path d="M51.9,64.1C48.3,66.1 34.2,69.9 30.4,76.0C26.7,82.0 29.6,96.4 29.4,100.4" fill="none" stroke="rgb(138,138,138)" stroke-width="1.46" stroke-linecap="round" style="mix-blend-mode:screen"/><path d="M85.7,37.1C86.3,40.9 86.6,52.6 89.0,59.8C91.3,67.0 98.0,76.6 99.8,80.0" fill="none" stroke="rgb(112,112,112)" stroke-opacity="0.35" stroke-width="3.00" style="mix-blend-mode:screen"/><path d="M85.7,37.1C86.3,40.9 86.6,52.6 89.0,59.8C91.3,67.0 98.0,76.6 99.8,80.0" fill="none" stroke="rgb(112,112,112)" stroke-width="1.00" stroke-linecap="round" style="mix-blend-mode:screen"/><path d="M15.1,9.5C19.0,11.4 35.0,14.7 38.5,20.9C41.9,27.2 36.1,42.5 35.6,46.8" fill="none" stroke="rgb(113,113,113)" stroke-opacity="0.35" stroke-width="3.17" style="mix-blend-mode:screen"/><path d="M15.1,9.5C19.0,11.4 35.0,14.7 38.5,20.9C41.9,27.2 36.1,42.5 35.6,46.8" fill="none" stroke="rgb(113,113,113)" stroke-width="1.06" stroke-linecap="round" style="mix-blend-mode:screen"/><path d="M33.6,-6.9C28.9,-3.1 15.9,11.9 5.1,16.4C-5.8,20.9 -25.5,19.6 -31.6,20.3" fill="none" stroke="rgb(121,121,121)" stroke-opacity="0.35" stroke-width="3.36" style="mix-blend-mode:screen"/><path d="M33.6,-6.9C28.9,-3.1 15.9,11.9 5.1,16.4C-5.8,20.9 -25.5,19.6 -31.6,20.3" fill="none" stroke="rgb(121,121,121)" stroke-width="1.12" stroke-linecap="round" style="mix-blend-mode:screen"/><path d="M33.7,4.7C27.1,8.3 7.6,19.3 -5.7,26.1C-19.0,33.0 -39.3,42.4 -46.0,45.7" fill="none" stroke="rgb(113,113,113)" stroke-opacity="0.35" stroke-width="3.81" style="mix-blend-mode:screen"/><path d="M33.7,4.7C27.1,8.3 7.6,19.3 -5.7,26.1C-19.0,33.0 -39.3,42.4 -46.0,45.7" fill="none" stroke="rgb(113,113,113)" stroke-width="1.27" stroke-linecap="round" style="mix-blend-mode:screen"/><path d="M2.3,31.1C8.1,35.0 28.1,44.3 37.2,54.4C46.3,64.4 53.8,85.2 57.1,91.3" fill="none" stroke="rgb(140,140,140)" stroke-opacity="0.35" stroke-width="2.92" style="mix-blend-mode:screen"/><path d="M2.3,31.1C8.1,35.0 28.1,44.3 37.2,54.4C46.3,64.4 53.8,85.2 57.1,91.3" fill="none" stroke="rgb(140,140,140)" stroke-width="0.97" stroke-linecap="round" style="mix-blend-mode:screen"/><path d="M53.4,7.6C52.8,11.0 50.7,21.1 49.8,28.0C48.8,34.8 48.1,45.1 47.8,48.6" fill="none" stroke="rgb(137,137,137)" stroke-opacity="0.35" stroke-width="4.76" style="mix-blend-mode:screen"/><path d="M53.4,7.6C52.8,11.0 50.7,21.1 49.8,28.0C48.8,34.8 48.1,45.1 47.8,48.6" fill="none" stroke="rgb(137,137,137)" stroke-width="1.59" stroke-linecap="round" style="mix-blend-mode:screen"/><path d="M73.5,21.3C73.9,25.6 72.6,39.4 75.9,46.7C79.2,54.1 90.3,62.4 93.2,65.5" fill="none" stroke="rgb(135,135,135)" stroke-opacity="0.35" stroke-width="3.90" style="mix-blend-mode:screen"/><path d="M73.5,21.3C73.9,25.6 72.6,39.4 75.9,46.7C79.2,54.1 90.3,62.4 93.2,65.5" fill="none" stroke="rgb(135,135,135)" stroke-width="1.30" stroke-linecap="round" style="mix-blend-mode:screen"/><path d="M29.6,16.8C22.4,19.5 -1.0,24.6 -13.4,32.9C-25.7,41.2 -39.3,61.0 -44.5,66.6" fill="none" stroke="rgb(136,136,136)" stroke-opacity="0.35" stroke-width="4.43" style="mix-blend-mode:screen"/><path d="M29.6,16.8C22.4,19.5 -1.0,24.6 -13.4,32.9C-25.7,41.2 -39.3,61.0 -44.5,66.6" fill="none" stroke="rgb(136,136,136)" stroke-width="1.48" stroke-linecap="round" style="mix-blend-mode:screen"/><path d="M78.8,17.2C80.9,22.1 91.8,37.2 91.3,46.8C90.8,56.5 78.2,70.2 75.6,74.9" fill="none" stroke="rgb(119,119,119)" stroke-opacity="0.35" stroke-width="2.93" style="mix-blend-mode:screen"/><path d="M78.8,17.2C80.9,22.1 91.8,37.2 91.3,46.8C90.8,56.5 78.2,70.2 75.6,74.9" fill="none" stroke="rgb(119,119,119)" stroke-width="0.98" stroke-linecap="round" style="mix-blend-mode:screen"/><path d="M21.1,73.1C15.7,71.6 -1.3,62.9 -11.6,64.4C-21.9,65.8 -35.8,78.7 -40.7,81.6" fill="none" stroke="rgb(140,140,140)" stroke-opacity="0.35" stroke-width="4.78" style="mix-blend-mode:screen"/><path d="M21.1,73.1C15.7,71.6 -1.3,62.9 -11.6,64.4C-21.9,65.8 -35.8,78.7 -40.7,81.6" fill="none" stroke="rgb(140,140,140)" stroke-width="1.59" stroke-linecap="round" style="mix-blend-mode:screen"/><path d="M33.8,16.5C37.9,18.1 52.1,20.6 58.4,26.0C64.7,31.5 69.3,45.2 71.5,49.0" fill="none" stroke="rgb(139,139,139)" stroke-opacity="0.35" stroke-width="4.08" style="mix-blend-mode:screen"/><path d="M33.8,16.5C37.9,18.1 52.1,20.6 58.4,26.0C64.7,31.5 69.3,45.2 71.5,49.0" fill="none" stroke="rgb(139,139,139)" stroke-width="1.36" stroke-linecap="round" style="mix-blend-mode:screen"/><path d="M90.9,47.5C89.6,54.4 89.6,76.9 83.4,88.8C77.2,100.6 58.8,113.5 53.9,118.5" fill="none" stroke="rgb(139,139,139)" stroke-opacity="0.35" stroke-width="4.15" style="mix-blend-mode:screen"/><path d="M90.9,47.5C89.6,54.4 89.6,76.9 83.4,88.8C77.2,100.6 58.8,113.5 53.9,118.5" fill="none" stroke="rgb(139,139,139)" stroke-width="1.38" stroke-linecap="round" style="mix-blend-mode:screen"/><path d="M83.9,80.0C82.7,84.2 76.3,96.9 76.9,105.0C77.5,113.2 85.5,124.9 87.3,128.8" fill="none" stroke="rgb(135,135,135)" stroke-opacity="0.35" stroke-width="3.52" style="mix-blend-mode:screen"/><path d="M83.9,80.0C82.7,84.2 76.3,96.9 76.9,105.0C77.5,113.2 85.5,124.9 87.3,128.8" fill="none" stroke="rgb(135,135,135)" stroke-width="1.17" stroke-linecap="round" style="mix-blend-mode:screen"/></g></svg>
<svg x="97" y="467" width="88" height="88.6" viewBox="0 0 100 100" preserveAspectRatio="none" overflow="hidden"><g filter="url(#f27)"><rect x="0" y="0" width="100" height="100" fill="rgb(28,28,28)"/><circle cx="30" cy="97" r="7.00" fill="#fff" fill-opacity="0.180"/><circle cx="30" cy="97" r="5.83" fill="#fff" fill-opacity="0.180"/><circle cx="30" cy="97" r="4.67" fill="#fff" fill-opacity="0.180"/><circle cx="30" cy="97" r="3.50" fill="#fff" fill-opacity="0.180"/><circle cx="30" cy="97" r="2.33" fill="#fff" fill-opacity="0.180"/><circle cx="100" cy="72" r="4.00" fill="#fff" fill-opacity="0.140"/><circle cx="100" cy="72" r="3.33" fill="#fff" fill-opacity="0.140"/><circle cx="100" cy="72" r="2.67" fill="#fff" fill-opacity="0.140"/><circle cx="100" cy="72" r="2.00" fill="#fff" fill-opacity="0.140"/><circle cx="100" cy="72" r="1.33" fill="#fff" fill-opacity="0.140"/><path d="M26.3,0.0C25.8,3.6 25.1,14.6 23.4,21.9C21.7,29.2 18.5,36.5 16.1,43.8C13.6,51.1 10.9,58.4 8.8,65.7C6.6,73.0 4.4,81.9 2.9,87.6C1.5,93.3 0.5,97.9 0.0,100.0" fill="none" stroke="rgb(168,168,168)" stroke-opacity="0.35" stroke-width="8.16" style="mix-blend-mode:screen"/><path d="M26.3,0.0C25.8,3.6 25.1,14.6 23.4,21.9C21.7,29.2 18.5,36.5 16.1,43.8C13.6,51.1 10.9,58.4 8.8,65.7C6.6,73.0 4.4,81.9 2.9,87.6C1.5,93.3 0.5,97.9 0.0,100.0" fill="none" stroke="rgb(168,168,168)" stroke-width="2.72" stroke-linecap="round" style="mix-blend-mode:screen"/><path d="M29.2,0.0C29.4,4.9 30.2,19.5 30.7,29.2C31.1,38.9 31.6,48.7 32.1,58.4C32.6,68.1 33.1,80.7 33.6,87.6C34.1,94.5 34.8,97.9 35.0,100.0" fill="none" stroke="rgb(126,126,126)" stroke-opacity="0.35" stroke-width="7.14" style="mix-blend-mode:screen"/><path d="M29.2,0.0C29.4,4.9 30.2,19.5 30.7,29.2C31.1,38.9 31.6,48.7 32.1,58.4C32.6,68.1 33.1,80.7 33.6,87.6C34.1,94.5 34.8,97.9 35.0,100.0" fill="none" stroke="rgb(126,126,126)" stroke-width="2.38" stroke-linecap="round" style="mix-blend-mode:screen"/><path d="M0.0,14.6C4.9,14.4 19.5,13.6 29.2,13.1C38.9,12.7 46.6,12.4 58.4,11.7C70.2,10.9 93.1,9.2 100.0,8.8" fill="none" stroke="rgb(117,117,117)" stroke-opacity="0.35" stroke-width="5.10" style="mix-blend-mode:screen"/><path d="M0.0,14.6C4.9,14.4 19.5,13.6 29.2,13.1C38.9,12.7 46.6,12.4 58.4,11.7C70.2,10.9 93.1,9.2 100.0,8.8" fill="none" stroke="rgb(117,117,117)" stroke-width="1.70" stroke-linecap="round" style="mix-blend-mode:screen"/><path d="M61.3,0.0C63.3,2.4 69.1,9.7 73.0,14.6C76.9,19.5 81.3,24.3 84.7,29.2C88.1,34.1 90.9,38.9 93.4,43.8C96.0,48.7 98.9,56.0 100.0,58.4" fill="none" stroke="rgb(143,143,143)" stroke-opacity="0.35" stroke-width="6.63" style="mix-blend-mode:screen"/><path d="M61.3,0.0C63.3,2.4 69.1,9.7 73.0,14.6C76.9,19.5 81.3,24.3 84.7,29.2C88.1,34.1 90.9,38.9 93.4,43.8C96.0,48.7 98.9,56.0 100.0,58.4" fill="none" stroke="rgb(143,143,143)" stroke-width="2.21" stroke-linecap="round" style="mix-blend-mode:screen"/><path d="M36.5,35.0C40.1,34.1 52.3,31.1 58.4,29.2C64.5,27.3 66.1,25.1 73.0,23.4C79.9,21.7 95.5,19.7 100.0,19.0" fill="none" stroke="rgb(117,117,117)" stroke-opacity="0.35" stroke-width="5.10" style="mix-blend-mode:screen"/><path d="M36.5,35.0C40.1,34.1 52.3,31.1 58.4,29.2C64.5,27.3 66.1,25.1 73.0,23.4C79.9,21.7 95.5,19.7 100.0,19.0" fill="none" stroke="rgb(117,117,117)" stroke-width="1.70" stroke-linecap="round" style="mix-blend-mode:screen"/><path d="M14.6,100.0C17.0,95.5 24.3,79.4 29.2,73.0C34.1,66.5 37.7,66.2 43.8,61.3C49.9,56.4 59.4,48.4 65.7,43.8C72.0,39.2 76.9,37.2 81.8,33.6C86.6,29.9 92.7,23.8 94.9,21.9" fill="none" stroke="rgb(134,134,134)" stroke-opacity="0.35" stroke-width="6.12" style="mix-blend-mode:screen"/><path d="M14.6,100.0C17.0,95.5 24.3,79.4 29.2,73.0C34.1,66.5 37.7,66.2 43.8,61.3C49.9,56.4 59.4,48.4 65.7,43.8C72.0,39.2 76.9,37.2 81.8,33.6C86.6,29.9 92.7,23.8 94.9,21.9" fill="none" stroke="rgb(134,134,134)" stroke-width="2.04" stroke-linecap="round" style="mix-blend-mode:screen"/><path d="M43.8,67.2C47.4,65.7 58.4,60.8 65.7,58.4C73.0,56.0 81.9,54.0 87.6,52.6C93.3,51.1 97.9,50.1 100.0,49.6" fill="none" stroke="rgb(117,117,117)" stroke-opacity="0.35" stroke-width="5.10" style="mix-blend-mode:screen"/><path d="M43.8,67.2C47.4,65.7 58.4,60.8 65.7,58.4C73.0,56.0 81.9,54.0 87.6,52.6C93.3,51.1 97.9,50.1 100.0,49.6" fill="none" stroke="rgb(117,117,117)" stroke-width="1.70" stroke-linecap="round" style="mix-blend-mode:screen"/><path d="M0.0,48.2C3.6,47.4 15.8,45.0 21.9,43.8C28.0,42.6 34.1,41.4 36.5,40.9" fill="none" stroke="rgb(100,100,100)" stroke-opacity="0.35" stroke-width="4.59" style="mix-blend-mode:screen"/><path d="M0.0,48.2C3.6,47.4 15.8,45.0 21.9,43.8C28.0,42.6 34.1,41.4 36.5,40.9" fill="none" stroke="rgb(100,100,100)" stroke-width="1.53" stroke-linecap="round" style="mix-blend-mode:screen"/><path d="M65.7,0.0C68.1,3.6 76.2,16.5 80.3,21.9C84.4,27.3 87.2,29.0 90.5,32.1C93.8,35.3 98.4,39.4 100.0,40.9" fill="none" stroke="rgb(126,126,126)" stroke-opacity="0.35" stroke-width="5.10" style="mix-blend-mode:screen"/><path d="M65.7,0.0C68.1,3.6 76.2,16.5 80.3,21.9C84.4,27.3 87.2,29.0 90.5,32.1C93.8,35.3 98.4,39.4 100.0,40.9" fill="none" stroke="rgb(126,126,126)" stroke-width="1.70" stroke-linecap="round" style="mix-blend-mode:screen"/><path d="M0.0,73.0C2.4,71.8 9.7,68.6 14.6,65.7C19.5,62.8 26.8,57.2 29.2,55.5" fill="none" stroke="rgb(117,117,117)" stroke-opacity="0.35" stroke-width="4.59" style="mix-blend-mode:screen"/><path d="M0.0,73.0C2.4,71.8 9.7,68.6 14.6,65.7C19.5,62.8 26.8,57.2 29.2,55.5" fill="none" stroke="rgb(117,117,117)" stroke-width="1.53" stroke-linecap="round" style="mix-blend-mode:screen"/><path d="M80.3,100.0C81.5,97.9 84.3,90.6 87.6,87.6C90.9,84.5 97.9,82.7 100.0,81.8" fill="none" stroke="rgb(117,117,117)" stroke-opacity="0.35" stroke-width="4.59" style="mix-blend-mode:screen"/><path d="M80.3,100.0C81.5,97.9 84.3,90.6 87.6,87.6C90.9,84.5 97.9,82.7 100.0,81.8" fill="none" stroke="rgb(117,117,117)" stroke-width="1.53" stroke-linecap="round" style="mix-blend-mode:screen"/><path d="M0.0,2.9C2.4,3.4 10.2,4.9 14.6,5.8C19.0,6.8 24.3,8.3 26.3,8.8" fill="none" stroke="rgb(100,100,100)" stroke-opacity="0.35" stroke-width="4.08" style="mix-blend-mode:screen"/><path d="M0.0,2.9C2.4,3.4 10.2,4.9 14.6,5.8C19.0,6.8 24.3,8.3 26.3,8.8" fill="none" stroke="rgb(100,100,100)" stroke-width="1.36" stroke-linecap="round" style="mix-blend-mode:screen"/><path d="M43.8,100.0C44.3,97.0 46.7,87.5 46.7,81.8C46.7,76.0 44.3,68.4 43.8,65.7" fill="none" stroke="rgb(109,109,109)" stroke-opacity="0.35" stroke-width="5.10" style="mix-blend-mode:screen"/><path d="M43.8,100.0C44.3,97.0 46.7,87.5 46.7,81.8C46.7,76.0 44.3,68.4 43.8,65.7" fill="none" stroke="rgb(109,109,109)" stroke-width="1.70" stroke-linecap="round" style="mix-blend-mode:screen"/><path d="M100.0,87.6C97.9,85.2 90.6,77.9 87.6,73.0C84.5,68.1 81.8,62.5 81.8,58.4C81.8,54.3 86.6,49.9 87.6,48.2" fill="none" stroke="rgb(84,84,84)" stroke-opacity="0.35" stroke-width="4.59" style="mix-blend-mode:screen"/><path d="M100.0,87.6C97.9,85.2 90.6,77.9 87.6,73.0C84.5,68.1 81.8,62.5 81.8,58.4C81.8,54.3 86.6,49.9 87.6,48.2" fill="none" stroke="rgb(84,84,84)" stroke-width="1.53" stroke-linecap="round" style="mix-blend-mode:screen"/><path d="M28.9,8.1C27.5,10.5 23.0,17.7 20.4,22.7C17.9,27.7 14.7,35.5 13.5,38.0" fill="none" stroke="rgb(77,77,77)" stroke-opacity="0.35" stroke-width="3.62" style="mix-blend-mode:screen"/><path d="M28.9,8.1C27.5,10.5 23.0,17.7 20.4,22.7C17.9,27.7 14.7,35.5 13.5,38.0" fill="none" stroke="rgb(77,77,77)" stroke-width="1.21" stroke-linecap="round" style="mix-blend-mode:screen"/><path d="M50.9,-5.5C53.1,-3.1 62.8,3.4 64.0,8.9C65.1,14.3 58.8,24.2 57.8,27.3" fill="none" stroke="rgb(103,103,103)" stroke-opacity="0.35" stroke-width="3.71" style="mix-blend-mode:screen"/><path d="M50.9,-5.5C53.1,-3.1 62.8,3.4 64.0,8.9C65.1,14.3 58.8,24.2 57.8,27.3" fill="none" stroke="rgb(103,103,103)" stroke-width="1.24" stroke-linecap="round" style="mix-blend-mode:screen"/><path d="M4.9,16.8C2.1,22.6 -6.9,39.8 -11.9,51.7C-17.0,63.6 -23.1,82.0 -25.3,88.1" fill="none" stroke="rgb(108,108,108)" stroke-opacity="0.35" stroke-width="3.67" style="mix-blend-mode:screen"/><path d="M4.9,16.8C2.1,22.6 -6.9,39.8 -11.9,51.7C-17.0,63.6 -23.1,82.0 -25.3,88.1" fill="none" stroke="rgb(108,108,108)" stroke-width="1.22" stroke-linecap="round" style="mix-blend-mode:screen"/><path d="M-4.4,93.0C-1.3,94.5 10.4,97.2 14.3,102.1C18.1,107.0 17.7,119.0 18.4,122.4" fill="none" stroke="rgb(103,103,103)" stroke-opacity="0.35" stroke-width="3.53" style="mix-blend-mode:screen"/><path d="M-4.4,93.0C-1.3,94.5 10.4,97.2 14.3,102.1C18.1,107.0 17.7,119.0 18.4,122.4" fill="none" stroke="rgb(103,103,103)" stroke-width="1.18" stroke-linecap="round" style="mix-blend-mode:screen"/><path d="M11.7,59.8C9.8,63.4 3.8,74.0 0.4,81.3C-3.1,88.7 -7.3,100.1 -8.9,103.9" fill="none" stroke="rgb(77,77,77)" stroke-opacity="0.35" stroke-width="3.16" style="mix-blend-mode:screen"/><path d="M11.7,59.8C9.8,63.4 3.8,74.0 0.4,81.3C-3.1,88.7 -7.3,100.1 -8.9,103.9" fill="none" stroke="rgb(77,77,77)" stroke-width="1.05" stroke-linecap="round" style="mix-blend-mode:screen"/><path d="M14.7,71.6C15.2,75.4 16.2,87.0 17.9,94.4C19.6,101.8 23.8,112.5 25.0,116.2" fill="none" stroke="rgb(85,85,85)" stroke-opacity="0.35" stroke-width="3.75" style="mix-blend-mode:screen"/><path d="M14.7,71.6C15.2,75.4 16.2,87.0 17.9,94.4C19.6,101.8 23.8,112.5 25.0,116.2" fill="none" stroke="rgb(85,85,85)" stroke-width="1.25" stroke-linecap="round" style="mix-blend-mode:screen"/><path d="M85.3,73.9C88.8,77.3 99.0,87.9 106.0,94.7C113.1,101.5 124.0,111.3 127.6,114.6" fill="none" stroke="rgb(100,100,100)" stroke-opacity="0.35" stroke-width="4.40" style="mix-blend-mode:screen"/><path d="M85.3,73.9C88.8,77.3 99.0,87.9 106.0,94.7C113.1,101.5 124.0,111.3 127.6,114.6" fill="none" stroke="rgb(100,100,100)" stroke-width="1.47" stroke-linecap="round" style="mix-blend-mode:screen"/><path d="M24.6,107.6C28.1,110.1 38.1,119.5 46.0,122.6C53.9,125.7 67.7,125.5 72.0,126.1" fill="none" stroke="rgb(92,92,92)" stroke-opacity="0.35" stroke-width="3.29" style="mix-blend-mode:screen"/><path d="M24.6,107.6C28.1,110.1 38.1,119.5 46.0,122.6C53.9,125.7 67.7,125.5 72.0,126.1" fill="none" stroke="rgb(92,92,92)" stroke-width="1.10" stroke-linecap="round" style="mix-blend-mode:screen"/><path d="M-5.3,70.2C-9.9,72.4 -25.8,76.7 -33.0,83.3C-40.3,89.9 -46.0,105.3 -48.6,109.7" fill="none" stroke="rgb(99,99,99)" stroke-opacity="0.35" stroke-width="3.54" style="mix-blend-mode:screen"/><path d="M-5.3,70.2C-9.9,72.4 -25.8,76.7 -33.0,83.3C-40.3,89.9 -46.0,105.3 -48.6,109.7" fill="none" stroke="rgb(99,99,99)" stroke-width="1.18" stroke-linecap="round" style="mix-blend-mode:screen"/><path d="M61.3,59.6C60.4,65.8 54.0,84.8 55.7,96.7C57.3,108.6 68.6,125.2 71.2,130.9" fill="none" stroke="rgb(98,98,98)" stroke-opacity="0.35" stroke-width="3.79" style="mix-blend-mode:screen"/><path d="M61.3,59.6C60.4,65.8 54.0,84.8 55.7,96.7C57.3,108.6 68.6,125.2 71.2,130.9" fill="none" stroke="rgb(98,98,98)" stroke-width="1.26" stroke-linecap="round" style="mix-blend-mode:screen"/><path d="M-2.7,74.2C-6.8,79.5 -21.5,94.5 -27.4,106.4C-33.3,118.3 -36.4,139.0 -38.2,145.5" fill="none" stroke="rgb(88,88,88)" stroke-opacity="0.35" stroke-width="3.50" style="mix-blend-mode:screen"/><path d="M-2.7,74.2C-6.8,79.5 -21.5,94.5 -27.4,106.4C-33.3,118.3 -36.4,139.0 -38.2,145.5" fill="none" stroke="rgb(88,88,88)" stroke-width="1.17" stroke-linecap="round" style="mix-blend-mode:screen"/><path d="M70.2,-7.3C72.1,-4.3 80.9,4.3 81.7,10.7C82.4,17.0 76.0,27.5 74.8,30.8" fill="none" stroke="rgb(101,101,101)" stroke-opacity="0.35" stroke-width="3.15" style="mix-blend-mode:screen"/><path d="M70.2,-7.3C72.1,-4.3 80.9,4.3 81.7,10.7C82.4,17.0 76.0,27.5 74.8,30.8" fill="none" stroke="rgb(101,101,101)" stroke-width="1.05" stroke-linecap="round" style="mix-blend-mode:screen"/><path d="M5.5,19.7C9.2,24.9 23.2,39.4 27.4,51.0C31.5,62.5 29.8,82.7 30.2,89.0" fill="none" stroke="rgb(94,94,94)" stroke-opacity="0.35" stroke-width="3.75" style="mix-blend-mode:screen"/><path d="M5.5,19.7C9.2,24.9 23.2,39.4 27.4,51.0C31.5,62.5 29.8,82.7 30.2,89.0" fill="none" stroke="rgb(94,94,94)" stroke-width="1.25" stroke-linecap="round" style="mix-blend-mode:screen"/><path d="M96.0,88.3C92.8,90.1 83.5,96.2 76.9,99.3C70.2,102.3 59.5,105.3 56.0,106.5" fill="none" stroke="rgb(105,105,105)" stroke-opacity="0.35" stroke-width="3.61" style="mix-blend-mode:screen"/><path d="M96.0,88.3C92.8,90.1 83.5,96.2 76.9,99.3C70.2,102.3 59.5,105.3 56.0,106.5" fill="none" stroke="rgb(105,105,105)" stroke-width="1.20" stroke-linecap="round" style="mix-blend-mode:screen"/><path d="M104.9,8.1C108.4,9.0 120.1,10.0 126.0,13.6C131.9,17.2 137.9,27.3 140.3,30.0" fill="none" stroke="rgb(95,95,95)" stroke-opacity="0.35" stroke-width="3.80" style="mix-blend-mode:screen"/><path d="M104.9,8.1C108.4,9.0 120.1,10.0 126.0,13.6C131.9,17.2 137.9,27.3 140.3,30.0" fill="none" stroke="rgb(95,95,95)" stroke-width="1.27" stroke-linecap="round" style="mix-blend-mode:screen"/><path d="M21.5,-9.5C22.3,-5.5 24.1,6.5 26.1,14.3C28.1,22.2 32.5,33.5 33.7,37.4" fill="none" stroke="rgb(98,98,98)" stroke-opacity="0.35" stroke-width="4.52" style="mix-blend-mode:screen"/><path d="M21.5,-9.5C22.3,-5.5 24.1,6.5 26.1,14.3C28.1,22.2 32.5,33.5 33.7,37.4" fill="none" stroke="rgb(98,98,98)" stroke-width="1.51" stroke-linecap="round" style="mix-blend-mode:screen"/><path d="M51.9,64.1C48.3,66.1 34.2,69.9 30.4,76.0C26.7,82.0 29.6,96.4 29.4,100.4" fill="none" stroke="rgb(147,147,147)" stroke-opacity="0.35" stroke-width="4.65" style="mix-blend-mode:screen"/><path d="M51.9,64.1C48.3,66.1 34.2,69.9 30.4,76.0C26.7,82.0 29.6,96.4 29.4,100.4" fill="none" stroke="rgb(147,147,147)" stroke-width="1.55" stroke-linecap="round" style="mix-blend-mode:screen"/><path d="M85.7,37.1C86.3,40.9 86.6,52.6 89.0,59.8C91.3,67.0 98.0,76.6 99.8,80.0" fill="none" stroke="rgb(120,120,120)" stroke-opacity="0.35" stroke-width="3.19" style="mix-blend-mode:screen"/><path d="M85.7,37.1C86.3,40.9 86.6,52.6 89.0,59.8C91.3,67.0 98.0,76.6 99.8,80.0" fill="none" stroke="rgb(120,120,120)" stroke-width="1.06" stroke-linecap="round" style="mix-blend-mode:screen"/><path d="M15.1,9.5C19.0,11.4 35.0,14.7 38.5,20.9C41.9,27.2 36.1,42.5 35.6,46.8" fill="none" stroke="rgb(121,121,121)" stroke-opacity="0.35" stroke-width="3.37" style="mix-blend-mode:screen"/><path d="M15.1,9.5C19.0,11.4 35.0,14.7 38.5,20.9C41.9,27.2 36.1,42.5 35.6,46.8" fill="none" stroke="rgb(121,121,121)" stroke-width="1.12" stroke-linecap="round" style="mix-blend-mode:screen"/><path d="M33.6,-6.9C28.9,-3.1 15.9,11.9 5.1,16.4C-5.8,20.9 -25.5,19.6 -31.6,20.3" fill="none" stroke="rgb(129,129,129)" stroke-opacity="0.35" stroke-width="3.57" style="mix-blend-mode:screen"/><path d="M33.6,-6.9C28.9,-3.1 15.9,11.9 5.1,16.4C-5.8,20.9 -25.5,19.6 -31.6,20.3" fill="none" stroke="rgb(129,129,129)" stroke-width="1.19" stroke-linecap="round" style="mix-blend-mode:screen"/><path d="M33.7,4.7C27.1,8.3 7.6,19.3 -5.7,26.1C-19.0,33.0 -39.3,42.4 -46.0,45.7" fill="none" stroke="rgb(120,120,120)" stroke-opacity="0.35" stroke-width="4.05" style="mix-blend-mode:screen"/><path d="M33.7,4.7C27.1,8.3 7.6,19.3 -5.7,26.1C-19.0,33.0 -39.3,42.4 -46.0,45.7" fill="none" stroke="rgb(120,120,120)" stroke-width="1.35" stroke-linecap="round" style="mix-blend-mode:screen"/><path d="M2.3,31.1C8.1,35.0 28.1,44.3 37.2,54.4C46.3,64.4 53.8,85.2 57.1,91.3" fill="none" stroke="rgb(149,149,149)" stroke-opacity="0.35" stroke-width="3.11" style="mix-blend-mode:screen"/><path d="M2.3,31.1C8.1,35.0 28.1,44.3 37.2,54.4C46.3,64.4 53.8,85.2 57.1,91.3" fill="none" stroke="rgb(149,149,149)" stroke-width="1.04" stroke-linecap="round" style="mix-blend-mode:screen"/><path d="M53.4,7.6C52.8,11.0 50.7,21.1 49.8,28.0C48.8,34.8 48.1,45.1 47.8,48.6" fill="none" stroke="rgb(146,146,146)" stroke-opacity="0.35" stroke-width="5.06" style="mix-blend-mode:screen"/><path d="M53.4,7.6C52.8,11.0 50.7,21.1 49.8,28.0C48.8,34.8 48.1,45.1 47.8,48.6" fill="none" stroke="rgb(146,146,146)" stroke-width="1.69" stroke-linecap="round" style="mix-blend-mode:screen"/><path d="M73.5,21.3C73.9,25.6 72.6,39.4 75.9,46.7C79.2,54.1 90.3,62.4 93.2,65.5" fill="none" stroke="rgb(144,144,144)" stroke-opacity="0.35" stroke-width="4.15" style="mix-blend-mode:screen"/><path d="M73.5,21.3C73.9,25.6 72.6,39.4 75.9,46.7C79.2,54.1 90.3,62.4 93.2,65.5" fill="none" stroke="rgb(144,144,144)" stroke-width="1.38" stroke-linecap="round" style="mix-blend-mode:screen"/><path d="M29.6,16.8C22.4,19.5 -1.0,24.6 -13.4,32.9C-25.7,41.2 -39.3,61.0 -44.5,66.6" fill="none" stroke="rgb(145,145,145)" stroke-opacity="0.35" stroke-width="4.70" style="mix-blend-mode:screen"/><path d="M29.6,16.8C22.4,19.5 -1.0,24.6 -13.4,32.9C-25.7,41.2 -39.3,61.0 -44.5,66.6" fill="none" stroke="rgb(145,145,145)" stroke-width="1.57" stroke-linecap="round" style="mix-blend-mode:screen"/><path d="M78.8,17.2C80.9,22.1 91.8,37.2 91.3,46.8C90.8,56.5 78.2,70.2 75.6,74.9" fill="none" stroke="rgb(127,127,127)" stroke-opacity="0.35" stroke-width="3.12" style="mix-blend-mode:screen"/><path d="M78.8,17.2C80.9,22.1 91.8,37.2 91.3,46.8C90.8,56.5 78.2,70.2 75.6,74.9" fill="none" stroke="rgb(127,127,127)" stroke-width="1.04" stroke-linecap="round" style="mix-blend-mode:screen"/><path d="M21.1,73.1C15.7,71.6 -1.3,62.9 -11.6,64.4C-21.9,65.8 -35.8,78.7 -40.7,81.6" fill="none" stroke="rgb(149,149,149)" stroke-opacity="0.35" stroke-width="5.08" style="mix-blend-mode:screen"/><path d="M21.1,73.1C15.7,71.6 -1.3,62.9 -11.6,64.4C-21.9,65.8 -35.8,78.7 -40.7,81.6" fill="none" stroke="rgb(149,149,149)" stroke-width="1.69" stroke-linecap="round" style="mix-blend-mode:screen"/><path d="M33.8,16.5C37.9,18.1 52.1,20.6 58.4,26.0C64.7,31.5 69.3,45.2 71.5,49.0" fill="none" stroke="rgb(148,148,148)" stroke-opacity="0.35" stroke-width="4.33" style="mix-blend-mode:screen"/><path d="M33.8,16.5C37.9,18.1 52.1,20.6 58.4,26.0C64.7,31.5 69.3,45.2 71.5,49.0" fill="none" stroke="rgb(148,148,148)" stroke-width="1.44" stroke-linecap="round" style="mix-blend-mode:screen"/><path d="M90.9,47.5C89.6,54.4 89.6,76.9 83.4,88.8C77.2,100.6 58.8,113.5 53.9,118.5" fill="none" stroke="rgb(148,148,148)" stroke-opacity="0.35" stroke-width="4.41" style="mix-blend-mode:screen"/><path d="M90.9,47.5C89.6,54.4 89.6,76.9 83.4,88.8C77.2,100.6 58.8,113.5 53.9,118.5" fill="none" stroke="rgb(148,148,148)" stroke-width="1.47" stroke-linecap="round" style="mix-blend-mode:screen"/><path d="M83.9,80.0C82.7,84.2 76.3,96.9 76.9,105.0C77.5,113.2 85.5,124.9 87.3,128.8" fill="none" stroke="rgb(144,144,144)" stroke-opacity="0.35" stroke-width="3.74" style="mix-blend-mode:screen"/><path d="M83.9,80.0C82.7,84.2 76.3,96.9 76.9,105.0C77.5,113.2 85.5,124.9 87.3,128.8" fill="none" stroke="rgb(144,144,144)" stroke-width="1.25" stroke-linecap="round" style="mix-blend-mode:screen"/></g></svg>
<svg x="189" y="467" width="88" height="88.6" viewBox="0 0 100 100" preserveAspectRatio="none" overflow="hidden"><g filter="url(#f28)"><rect x="0" y="0" width="100" height="100" fill="rgb(25,25,25)"/><circle cx="30" cy="97" r="7.00" fill="#fff" fill-opacity="0.200"/><circle cx="30" cy="97" r="5.83" fill="#fff" fill-opacity="0.200"/><circle cx="30" cy="97" r="4.67" fill="#fff" fill-opacity="0.200"/><circle cx="30" cy="97" r="3.50" fill="#fff" fill-opacity="0.200"/><circle cx="30" cy="97" r="2.33" fill="#fff" fill-opacity="0.200"/><circle cx="100" cy="72" r="4.00" fill="#fff" fill-opacity="0.160"/><circle cx="100" cy="72" r="3.33" fill="#fff" fill-opacity="0.160"/><circle cx="100" cy="72" r="2.67" fill="#fff" fill-opacity="0.160"/><circle cx="100" cy="72" r="2.00" fill="#fff" fill-opacity="0.160"/><circle cx="100" cy="72" r="1.33" fill="#fff" fill-opacity="0.160"/><path d="M26.3,0.0C25.8,3.6 25.1,14.6 23.4,21.9C21.7,29.2 18.5,36.5 16.1,43.8C13.6,51.1 10.9,58.4 8.8,65.7C6.6,73.0 4.4,81.9 2.9,87.6C1.5,93.3 0.5,97.9 0.0,100.0" fill="none" stroke="rgb(178,178,178)" stroke-opacity="0.45" stroke-width="10.56" style="mix-blend-mode:screen"/><path d="M26.3,0.0C25.8,3.6 25.1,14.6 23.4,21.9C21.7,29.2 18.5,36.5 16.1,43.8C13.6,51.1 10.9,58.4 8.8,65.7C6.6,73.0 4.4,81.9 2.9,87.6C1.5,93.3 0.5,97.9 0.0,100.0" fill="none" stroke="rgb(178,178,178)" stroke-width="3.52" stroke-linecap="round" style="mix-blend-mode:screen"/><path d="M29.2,0.0C29.4,4.9 30.2,19.5 30.7,29.2C31.1,38.9 31.6,48.7 32.1,58.4C32.6,68.1 33.1,80.7 33.6,87.6C34.1,94.5 34.8,97.9 35.0,100.0" fill="none" stroke="rgb(133,133,133)" stroke-opacity="0.45" stroke-width="9.24" style="mix-blend-mode:screen"/><path d="M29.2,0.0C29.4,4.9 30.2,19.5 30.7,29.2C31.1,38.9 31.6,48.7 32.1,58.4C32.6,68.1 33.1,80.7 33.6,87.6C34.1,94.5 34.8,97.9 35.0,100.0" fill="none" stroke="rgb(133,133,133)" stroke-width="3.08" stroke-linecap="round" style="mix-blend-mode:screen"/><path d="M0.0,14.6C4.9,14.4 19.5,13.6 29.2,13.1C38.9,12.7 46.6,12.4 58.4,11.7C70.2,10.9 93.1,9.2 100.0,8.8" fill="none" stroke="rgb(124,124,124)" stroke-opacity="0.45" stroke-width="6.60" style="mix-blend-mode:screen"/><path d="M0.0,14.6C4.9,14.4 19.5,13.6 29.2,13.1C38.9,12.7 46.6,12.4 58.4,11.7C70.2,10.9 93.1,9.2 100.0,8.8" fill="none" stroke="rgb(124,124,124)" stroke-width="2.20" stroke-linecap="round" style="mix-blend-mode:screen"/><path d="M61.3,0.0C63.3,2.4 69.1,9.7 73.0,14.6C76.9,19.5 81.3,24.3 84.7,29.2C88.1,34.1 90.9,38.9 93.4,43.8C96.0,48.7 98.9,56.0 100.0,58.4" fill="none" stroke="rgb(151,151,151)" stroke-opacity="0.45" stroke-width="8.58" style="mix-blend-mode:screen"/><path d="M61.3,0.0C63.3,2.4 69.1,9.7 73.0,14.6C76.9,19.5 81.3,24.3 84.7,29.2C88.1,34.1 90.9,38.9 93.4,43.8C96.0,48.7 98.9,56.0 100.0,58.4" fill="none" stroke="rgb(151,151,151)" stroke-width="2.86" stroke-linecap="round" style="mix-blend-mode:screen"/><path d="M36.5,35.0C40.1,34.1 52.3,31.1 58.4,29.2C64.5,27.3 66.1,25.1 73.0,23.4C79.9,21.7 95.5,19.7 100.0,19.0" fill="none" stroke="rgb(124,124,124)" stroke-opacity="0.45" stroke-width="6.60" style="mix-blend-mode:screen"/><path d="M36.5,35.0C40.1,34.1 52.3,31.1 58.4,29.2C64.5,27.3 66.1,25.1 73.0,23.4C79.9,21.7 95.5,19.7 100.0,19.0" fill="none" stroke="rgb(124,124,124)" stroke-width="2.20" stroke-linecap="round" style="mix-blend-mode:screen"/><path d="M14.6,100.0C17.0,95.5 24.3,79.4 29.2,73.0C34.1,66.5 37.7,66.2 43.8,61.3C49.9,56.4 59.4,48.4 65.7,43.8C72.0,39.2 76.9,37.2 81.8,33.6C86.6,29.9 92.7,23.8 94.9,21.9" fill="none" stroke="rgb(142,142,142)" stroke-opacity="0.45" stroke-width="7.92" style="mix-blend-mode:screen"/><path d="M14.6,100.0C17.0,95.5 24.3,79.4 29.2,73.0C34.1,66.5 37.7,66.2 43.8,61.3C49.9,56.4 59.4,48.4 65.7,43.8C72.0,39.2 76.9,37.2 81.8,33.6C86.6,29.9 92.7,23.8 94.9,21.9" fill="none" stroke="rgb(142,142,142)" stroke-width="2.64" stroke-linecap="round" style="mix-blend-mode:screen"/><path d="M43.8,67.2C47.4,65.7 58.4,60.8 65.7,58.4C73.0,56.0 81.9,54.0 87.6,52.6C93.3,51.1 97.9,50.1 100.0,49.6" fill="none" stroke="rgb(124,124,124)" stroke-opacity="0.45" stroke-width="6.60" style="mix-blend-mode:screen"/><path d="M43.8,67.2C47.4,65.7 58.4,60.8 65.7,58.4C73.0,56.0 81.9,54.0 87.6,52.6C93.3,51.1 97.9,50.1 100.0,49.6" fill="none" stroke="rgb(124,124,124)" stroke-width="2.20" stroke-linecap="round" style="mix-blend-mode:screen"/><path d="M0.0,48.2C3.6,47.4 15.8,45.0 21.9,43.8C28.0,42.6 34.1,41.4 36.5,40.9" fill="none" stroke="rgb(107,107,107)" stroke-opacity="0.45" stroke-width="5.94" style="mix-blend-mode:screen"/><path d="M0.0,48.2C3.6,47.4 15.8,45.0 21.9,43.8C28.0,42.6 34.1,41.4 36.5,40.9" fill="none" stroke="rgb(107,107,107)" stroke-width="1.98" stroke-linecap="round" style="mix-blend-mode:screen"/><path d="M65.7,0.0C68.1,3.6 76.2,16.5 80.3,21.9C84.4,27.3 87.2,29.0 90.5,32.1C93.8,35.3 98.4,39.4 100.0,40.9" fill="none" stroke="rgb(133,133,133)" stroke-opacity="0.45" stroke-width="6.60" style="mix-blend-mode:screen"/><path d="M65.7,0.0C68.1,3.6 76.2,16.5 80.3,21.9C84.4,27.3 87.2,29.0 90.5,32.1C93.8,35.3 98.4,39.4 100.0,40.9" fill="none" stroke="rgb(133,133,133)" stroke-width="2.20" stroke-linecap="round" style="mix-blend-mode:screen"/><path d="M0.0,73.0C2.4,71.8 9.7,68.6 14.6,65.7C19.5,62.8 26.8,57.2 29.2,55.5" fill="none" stroke="rgb(124,124,124)" stroke-opacity="0.45" stroke-width="5.94" style="mix-blend-mode:screen"/><path d="M0.0,73.0C2.4,71.8 9.7,68.6 14.6,65.7C19.5,62.8 26.8,57.2 29.2,55.5" fill="none" stroke="rgb(124,124,124)" stroke-width="1.98" stroke-linecap="round" style="mix-blend-mode:screen"/><path d="M80.3,100.0C81.5,97.9 84.3,90.6 87.6,87.6C90.9,84.5 97.9,82.7 100.0,81.8" fill="none" stroke="rgb(124,124,124)" stroke-opacity="0.45" stroke-width="5.94" style="mix-blend-mode:screen"/><path d="M80.3,100.0C81.5,97.9 84.3,90.6 87.6,87.6C90.9,84.5 97.9,82.7 100.0,81.8" fill="none" stroke="rgb(124,124,124)" stroke-width="1.98" stroke-linecap="round" style="mix-blend-mode:screen"/><path d="M0.0,2.9C2.4,3.4 10.2,4.9 14.6,5.8C19.0,6.8 24.3,8.3 26.3,8.8" fill="none" stroke="rgb(107,107,107)" stroke-opacity="0.45" stroke-width="5.28" style="mix-blend-mode:screen"/><path d="M0.0,2.9C2.4,3.4 10.2,4.9 14.6,5.8C19.0,6.8 24.3,8.3 26.3,8.8" fill="none" stroke="rgb(107,107,107)" stroke-width="1.76" stroke-linecap="round" style="mix-blend-mode:screen"/><path d="M43.8,100.0C44.3,97.0 46.7,87.5 46.7,81.8C46.7,76.0 44.3,68.4 43.8,65.7" fill="none" stroke="rgb(116,116,116)" stroke-opacity="0.45" stroke-width="6.60" style="mix-blend-mode:screen"/><path d="M43.8,100.0C44.3,97.0 46.7,87.5 46.7,81.8C46.7,76.0 44.3,68.4 43.8,65.7" fill="none" stroke="rgb(116,116,116)" stroke-width="2.20" stroke-linecap="round" style="mix-blend-mode:screen"/><path d="M100.0,87.6C97.9,85.2 90.6,77.9 87.6,73.0C84.5,68.1 81.8,62.5 81.8,58.4C81.8,54.3 86.6,49.9 87.6,48.2" fill="none" stroke="rgb(89,89,89)" stroke-opacity="0.45" stroke-width="5.94" style="mix-blend-mode:screen"/><path d="M100.0,87.6C97.9,85.2 90.6,77.9 87.6,73.0C84.5,68.1 81.8,62.5 81.8,58.4C81.8,54.3 86.6,49.9 87.6,48.2" fill="none" stroke="rgb(89,89,89)" stroke-width="1.98" stroke-linecap="round" style="mix-blend-mode:screen"/><path d="M28.9,8.1C27.5,10.5 23.0,17.7 20.4,22.7C17.9,27.7 14.7,35.5 13.5,38.0" fill="none" stroke="rgb(82,82,82)" stroke-opacity="0.45" stroke-width="4.68" style="mix-blend-mode:screen"/><path d="M28.9,8.1C27.5,10.5 23.0,17.7 20.4,22.7C17.9,27.7 14.7,35.5 13.5,38.0" fill="none" stroke="rgb(82,82,82)" stroke-width="1.56" stroke-linecap="round" style="mix-blend-mode:screen"/><path d="M50.9,-5.5C53.1,-3.1 62.8,3.4 64.0,8.9C65.1,14.3 58.8,24.2 57.8,27.3" fill="none" stroke="rgb(109,109,109)" stroke-opacity="0.45" stroke-width="4.80" style="mix-blend-mode:screen"/><path d="M50.9,-5.5C53.1,-3.1 62.8,3.4 64.0,8.9C65.1,14.3 58.8,24.2 57.8,27.3" fill="none" stroke="rgb(109,109,109)" stroke-width="1.60" stroke-linecap="round" style="mix-blend-mode:screen"/><path d="M4.9,16.8C2.1,22.6 -6.9,39.8 -11.9,51.7C-17.0,63.6 -23.1,82.0 -25.3,88.1" fill="none" stroke="rgb(115,115,115)" stroke-opacity="0.45" stroke-width="4.75" style="mix-blend-mode:screen"/><path d="M4.9,16.8C2.1,22.6 -6.9,39.8 -11.9,51.7C-17.0,63.6 -23.1,82.0 -25.3,88.1" fill="none" stroke="rgb(115,115,115)" stroke-width="1.58" stroke-linecap="round" style="mix-blend-mode:screen"/><path d="M-4.4,93.0C-1.3,94.5 10.4,97.2 14.3,102.1C18.1,107.0 17.7,119.0 18.4,122.4" fill="none" stroke="rgb(109,109,109)" stroke-opacity="0.45" stroke-width="4.57" style="mix-blend-mode:screen"/><path d="M-4.4,93.0C-1.3,94.5 10.4,97.2 14.3,102.1C18.1,107.0 17.7,119.0 18.4,122.4" fill="none" stroke="rgb(109,109,109)" stroke-width="1.52" stroke-linecap="round" style="mix-blend-mode:screen"/><path d="M11.7,59.8C9.8,63.4 3.8,74.0 0.4,81.3C-3.1,88.7 -7.3,100.1 -8.9,103.9" fill="none" stroke="rgb(82,82,82)" stroke-opacity="0.45" stroke-width="4.08" style="mix-blend-mode:screen"/><path d="M11.7,59.8C9.8,63.4 3.8,74.0 0.4,81.3C-3.1,88.7 -7.3,100.1 -8.9,103.9" fill="none" stroke="rgb(82,82,82)" stroke-width="1.36" stroke-linecap="round" style="mix-blend-mode:screen"/><path d="M14.7,71.6C15.2,75.4 16.2,87.0 17.9,94.4C19.6,101.8 23.8,112.5 25.0,116.2" fill="none" stroke="rgb(91,91,91)" stroke-opacity="0.45" stroke-width="4.86" style="mix-blend-mode:screen"/><path d="M14.7,71.6C15.2,75.4 16.2,87.0 17.9,94.4C19.6,101.8 23.8,112.5 25.0,116.2" fill="none" stroke="rgb(91,91,91)" stroke-width="1.62" stroke-linecap="round" style="mix-blend-mode:screen"/><path d="M85.3,73.9C88.8,77.3 99.0,87.9 106.0,94.7C113.1,101.5 124.0,111.3 127.6,114.6" fill="none" stroke="rgb(106,106,106)" stroke-opacity="0.45" stroke-width="5.69" style="mix-blend-mode:screen"/><path d="M85.3,73.9C88.8,77.3 99.0,87.9 106.0,94.7C113.1,101.5 124.0,111.3 127.6,114.6" fill="none" stroke="rgb(106,106,106)" stroke-width="1.90" stroke-linecap="round" style="mix-blend-mode:screen"/><path d="M24.6,107.6C28.1,110.1 38.1,119.5 46.0,122.6C53.9,125.7 67.7,125.5 72.0,126.1" fill="none" stroke="rgb(97,97,97)" stroke-opacity="0.45" stroke-width="4.26" style="mix-blend-mode:screen"/><path d="M24.6,107.6C28.1,110.1 38.1,119.5 46.0,122.6C53.9,125.7 67.7,125.5 72.0,126.1" fill="none" stroke="rgb(97,97,97)" stroke-width="1.42" stroke-linecap="round" style="mix-blend-mode:screen"/><path d="M-5.3,70.2C-9.9,72.4 -25.8,76.7 -33.0,83.3C-40.3,89.9 -46.0,105.3 -48.6,109.7" fill="none" stroke="rgb(105,105,105)" stroke-opacity="0.45" stroke-width="4.58" style="mix-blend-mode:screen"/><path d="M-5.3,70.2C-9.9,72.4 -25.8,76.7 -33.0,83.3C-40.3,89.9 -46.0,105.3 -48.6,109.7" fill="none" stroke="rgb(105,105,105)" stroke-width="1.53" stroke-linecap="round" style="mix-blend-mode:screen"/><path d="M61.3,59.6C60.4,65.8 54.0,84.8 55.7,96.7C57.3,108.6 68.6,125.2 71.2,130.9" fill="none" stroke="rgb(104,104,104)" stroke-opacity="0.45" stroke-width="4.90" style="mix-blend-mode:screen"/><path d="M61.3,59.6C60.4,65.8 54.0,84.8 55.7,96.7C57.3,108.6 68.6,125.2 71.2,130.9" fill="none" stroke="rgb(104,104,104)" stroke-width="1.63" stroke-linecap="round" style="mix-blend-mode:screen"/><path d="M-2.7,74.2C-6.8,79.5 -21.5,94.5 -27.4,106.4C-33.3,118.3 -36.4,139.0 -38.2,145.5" fill="none" stroke="rgb(94,94,94)" stroke-opacity="0.45" stroke-width="4.52" style="mix-blend-mode:screen"/><path d="M-2.7,74.2C-6.8,79.5 -21.5,94.5 -27.4,106.4C-33.3,118.3 -36.4,139.0 -38.2,145.5" fill="none" stroke="rgb(94,94,94)" stroke-width="1.51" stroke-linecap="round" style="mix-blend-mode:screen"/><path d="M70.2,-7.3C72.1,-4.3 80.9,4.3 81.7,10.7C82.4,17.0 76.0,27.5 74.8,30.8" fill="none" stroke="rgb(107,107,107)" stroke-opacity="0.45" stroke-width="4.08" style="mix-blend-mode:screen"/><path d="M70.2,-7.3C72.1,-4.3 80.9,4.3 81.7,10.7C82.4,17.0 76.0,27.5 74.8,30.8" fill="none" stroke="rgb(107,107,107)" stroke-width="1.36" stroke-linecap="round" style="mix-blend-mode:screen"/><path d="M5.5,19.7C9.2,24.9 23.2,39.4 27.4,51.0C31.5,62.5 29.8,82.7 30.2,89.0" fill="none" stroke="rgb(99,99,99)" stroke-opacity="0.45" stroke-width="4.85" style="mix-blend-mode:screen"/><path d="M5.5,19.7C9.2,24.9 23.2,39.4 27.4,51.0C31.5,62.5 29.8,82.7 30.2,89.0" fill="none" stroke="rgb(99,99,99)" stroke-width="1.62" stroke-linecap="round" style="mix-blend-mode:screen"/><path d="M96.0,88.3C92.8,90.1 83.5,96.2 76.9,99.3C70.2,102.3 59.5,105.3 56.0,106.5" fill="none" stroke="rgb(111,111,111)" stroke-opacity="0.45" stroke-width="4.67" style="mix-blend-mode:screen"/><path d="M96.0,88.3C92.8,90.1 83.5,96.2 76.9,99.3C70.2,102.3 59.5,105.3 56.0,106.5" fill="none" stroke="rgb(111,111,111)" stroke-width="1.56" stroke-linecap="round" style="mix-blend-mode:screen"/><path d="M104.9,8.1C108.4,9.0 120.1,10.0 126.0,13.6C131.9,17.2 137.9,27.3 140.3,30.0" fill="none" stroke="rgb(101,101,101)" stroke-opacity="0.45" stroke-width="4.92" style="mix-blend-mode:screen"/><path d="M104.9,8.1C108.4,9.0 120.1,10.0 126.0,13.6C131.9,17.2 137.9,27.3 140.3,30.0" fill="none" stroke="rgb(101,101,101)" stroke-width="1.64" stroke-linecap="round" style="mix-blend-mode:screen"/><path d="M21.5,-9.5C22.3,-5.5 24.1,6.5 26.1,14.3C28.1,22.2 32.5,33.5 33.7,37.4" fill="none" stroke="rgb(104,104,104)" stroke-opacity="0.45" stroke-width="5.85" style="mix-blend-mode:screen"/><path d="M21.5,-9.5C22.3,-5.5 24.1,6.5 26.1,14.3C28.1,22.2 32.5,33.5 33.7,37.4" fill="none" stroke="rgb(104,104,104)" stroke-width="1.95" stroke-linecap="round" style="mix-blend-mode:screen"/></g></svg>
<svg x="281" y="467" width="89" height="88.6" viewBox="0 0 100 100" preserveAspectRatio="none" overflow="hidden"><g filter="url(#f29)"><rect x="0" y="0" width="100" height="100" fill="rgb(25,25,25)"/><circle cx="30" cy="97" r="7.00" fill="#fff" fill-opacity="0.200"/><circle cx="30" cy="97" r="5.83" fill="#fff" fill-opacity="0.200"/><circle cx="30" cy="97" r="4.67" fill="#fff" fill-opacity="0.200"/><circle cx="30" cy="97" r="3.50" fill="#fff" fill-opacity="0.200"/><circle cx="30" cy="97" r="2.33" fill="#fff" fill-opacity="0.200"/><circle cx="100" cy="72" r="4.00" fill="#fff" fill-opacity="0.160"/><circle cx="100" cy="72" r="3.33" fill="#fff" fill-opacity="0.160"/><circle cx="100" cy="72" r="2.67" fill="#fff" fill-opacity="0.160"/><circle cx="100" cy="72" r="2.00" fill="#fff" fill-opacity="0.160"/><circle cx="100" cy="72" r="1.33" fill="#fff" fill-opacity="0.160"/><path d="M26.3,0.0C25.8,3.6 25.1,14.6 23.4,21.9C21.7,29.2 18.5,36.5 16.1,43.8C13.6,51.1 10.9,58.4 8.8,65.7C6.6,73.0 4.4,81.9 2.9,87.6C1.5,93.3 0.5,97.9 0.0,100.0" fill="none" stroke="rgb(178,178,178)" stroke-opacity="0.45" stroke-width="10.56" style="mix-blend-mode:screen"/><path d="M26.3,0.0C25.8,3.6 25.1,14.6 23.4,21.9C21.7,29.2 18.5,36.5 16.1,43.8C13.6,51.1 10.9,58.4 8.8,65.7C6.6,73.0 4.4,81.9 2.9,87.6C1.5,93.3 0.5,97.9 0.0,100.0" fill="none" stroke="rgb(178,178,178)" stroke-width="3.52" stroke-linecap="round" style="mix-blend-mode:screen"/><path d="M29.2,0.0C29.4,4.9 30.2,19.5 30.7,29.2C31.1,38.9 31.6,48.7 32.1,58.4C32.6,68.1 33.1,80.7 33.6,87.6C34.1,94.5 34.8,97.9 35.0,100.0" fill="none" stroke="rgb(133,133,133)" stroke-opacity="0.45" stroke-width="9.24" style="mix-blend-mode:screen"/><path d="M29.2,0.0C29.4,4.9 30.2,19.5 30.7,29.2C31.1,38.9 31.6,48.7 32.1,58.4C32.6,68.1 33.1,80.7 33.6,87.6C34.1,94.5 34.8,97.9 35.0,100.0" fill="none" stroke="rgb(133,133,133)" stroke-width="3.08" stroke-linecap="round" style="mix-blend-mode:screen"/><path d="M0.0,14.6C4.9,14.4 19.5,13.6 29.2,13.1C38.9,12.7 46.6,12.4 58.4,11.7C70.2,10.9 93.1,9.2 100.0,8.8" fill="none" stroke="rgb(124,124,124)" stroke-opacity="0.45" stroke-width="6.60" style="mix-blend-mode:screen"/><path d="M0.0,14.6C4.9,14.4 19.5,13.6 29.2,13.1C38.9,12.7 46.6,12.4 58.4,11.7C70.2,10.9 93.1,9.2 100.0,8.8" fill="none" stroke="rgb(124,124,124)" stroke-width="2.20" stroke-linecap="round" style="mix-blend-mode:screen"/><path d="M61.3,0.0C63.3,2.4 69.1,9.7 73.0,14.6C76.9,19.5 81.3,24.3 84.7,29.2C88.1,34.1 90.9,38.9 93.4,43.8C96.0,48.7 98.9,56.0 100.0,58.4" fill="none" stroke="rgb(151,151,151)" stroke-opacity="0.45" stroke-width="8.58" style="mix-blend-mode:screen"/><path d="M61.3,0.0C63.3,2.4 69.1,9.7 73.0,14.6C76.9,19.5 81.3,24.3 84.7,29.2C88.1,34.1 90.9,38.9 93.4,43.8C96.0,48.7 98.9,56.0 100.0,58.4" fill="none" stroke="rgb(151,151,151)" stroke-width="2.86" stroke-linecap="round" style="mix-blend-mode:screen"/><path d="M36.5,35.0C40.1,34.1 52.3,31.1 58.4,29.2C64.5,27.3 66.1,25.1 73.0,23.4C79.9,21.7 95.5,19.7 100.0,19.0" fill="none" stroke="rgb(124,124,124)" stroke-opacity="0.45" stroke-width="6.60" style="mix-blend-mode:screen"/><path d="M36.5,35.0C40.1,34.1 52.3,31.1 58.4,29.2C64.5,27.3 66.1,25.1 73.0,23.4C79.9,21.7 95.5,19.7 100.0,19.0" fill="none" stroke="rgb(124,124,124)" stroke-width="2.20" stroke-linecap="round" style="mix-blend-mode:screen"/><path d="M14.6,100.0C17.0,95.5 24.3,79.4 29.2,73.0C34.1,66.5 37.7,66.2 43.8,61.3C49.9,56.4 59.4,48.4 65.7,43.8C72.0,39.2 76.9,37.2 81.8,33.6C86.6,29.9 92.7,23.8 94.9,21.9" fill="none" stroke="rgb(142,142,142)" stroke-opacity="0.45" stroke-width="7.92" style="mix-blend-mode:screen"/><path d="M14.6,100.0C17.0,95.5 24.3,79.4 29.2,73.0C34.1,66.5 37.7,66.2 43.8,61.3C49.9,56.4 59.4,48.4 65.7,43.8C72.0,39.2 76.9,37.2 81.8,33.6C86.6,29.9 92.7,23.8 94.9,21.9" fill="none" stroke="rgb(142,142,142)" stroke-width="2.64" stroke-linecap="round" style="mix-blend-mode:screen"/><path d="M43.8,67.2C47.4,65.7 58.4,60.8 65.7,58.4C73.0,56.0 81.9,54.0 87.6,52.6C93.3,51.1 97.9,50.1 100.0,49.6" fill="none" stroke="rgb(124,124,124)" stroke-opacity="0.45" stroke-width="6.60" style="mix-blend-mode:screen"/><path d="M43.8,67.2C47.4,65.7 58.4,60.8 65.7,58.4C73.0,56.0 81.9,54.0 87.6,52.6C93.3,51.1 97.9,50.1 100.0,49.6" fill="none" stroke="rgb(124,124,124)" stroke-width="2.20" stroke-linecap="round" style="mix-blend-mode:screen"/><path d="M0.0,48.2C3.6,47.4 15.8,45.0 21.9,43.8C28.0,42.6 34.1,41.4 36.5,40.9" fill="none" stroke="rgb(107,107,107)" stroke-opacity="0.45" stroke-width="5.94" style="mix-blend-mode:screen"/><path d="M0.0,48.2C3.6,47.4 15.8,45.0 21.9,43.8C28.0,42.6 34.1,41.4 36.5,40.9" fill="none" stroke="rgb(107,107,107)" stroke-width="1.98" stroke-linecap="round" style="mix-blend-mode:screen"/><path d="M65.7,0.0C68.1,3.6 76.2,16.5 80.3,21.9C84.4,27.3 87.2,29.0 90.5,32.1C93.8,35.3 98.4,39.4 100.0,40.9" fill="none" stroke="rgb(133,133,133)" stroke-opacity="0.45" stroke-width="6.60" style="mix-blend-mode:screen"/><path d="M65.7,0.0C68.1,3.6 76.2,16.5 80.3,21.9C84.4,27.3 87.2,29.0 90.5,32.1C93.8,35.3 98.4,39.4 100.0,40.9" fill="none" stroke="rgb(133,133,133)" stroke-width="2.20" stroke-linecap="round" style="mix-blend-mode:screen"/><path d="M0.0,73.0C2.4,71.8 9.7,68.6 14.6,65.7C19.5,62.8 26.8,57.2 29.2,55.5" fill="none" stroke="rgb(124,124,124)" stroke-opacity="0.45" stroke-width="5.94" style="mix-blend-mode:screen"/><path d="M0.0,73.0C2.4,71.8 9.7,68.6 14.6,65.7C19.5,62.8 26.8,57.2 29.2,55.5" fill="none" stroke="rgb(124,124,124)" stroke-width="1.98" stroke-linecap="round" style="mix-blend-mode:screen"/><path d="M80.3,100.0C81.5,97.9 84.3,90.6 87.6,87.6C90.9,84.5 97.9,82.7 100.0,81.8" fill="none" stroke="rgb(124,124,124)" stroke-opacity="0.45" stroke-width="5.94" style="mix-blend-mode:screen"/><path d="M80.3,100.0C81.5,97.9 84.3,90.6 87.6,87.6C90.9,84.5 97.9,82.7 100.0,81.8" fill="none" stroke="rgb(124,124,124)" stroke-width="1.98" stroke-linecap="round" style="mix-blend-mode:screen"/><path d="M0.0,2.9C2.4,3.4 10.2,4.9 14.6,5.8C19.0,6.8 24.3,8.3 26.3,8.8" fill="none" stroke="rgb(107,107,107)" stroke-opacity="0.45" stroke-width="5.28" style="mix-blend-mode:screen"/><path d="M0.0,2.9C2.4,3.4 10.2,4.9 14.6,5.8C19.0,6.8 24.3,8.3 26.3,8.8" fill="none" stroke="rgb(107,107,107)" stroke-width="1.76" stroke-linecap="round" style="mix-blend-mode:screen"/><path d="M43.8,100.0C44.3,97.0 46.7,87.5 46.7,81.8C46.7,76.0 44.3,68.4 43.8,65.7" fill="none" stroke="rgb(116,116,116)" stroke-opacity="0.45" stroke-width="6.60" style="mix-blend-mode:screen"/><path d="M43.8,100.0C44.3,97.0 46.7,87.5 46.7,81.8C46.7,76.0 44.3,68.4 43.8,65.7" fill="none" stroke="rgb(116,116,116)" stroke-width="2.20" stroke-linecap="round" style="mix-blend-mode:screen"/><path d="M100.0,87.6C97.9,85.2 90.6,77.9 87.6,73.0C84.5,68.1 81.8,62.5 81.8,58.4C81.8,54.3 86.6,49.9 87.6,48.2" fill="none" stroke="rgb(89,89,89)" stroke-opacity="0.45" stroke-width="5.94" style="mix-blend-mode:screen"/><path d="M100.0,87.6C97.9,85.2 90.6,77.9 87.6,73.0C84.5,68.1 81.8,62.5 81.8,58.4C81.8,54.3 86.6,49.9 87.6,48.2" fill="none" stroke="rgb(89,89,89)" stroke-width="1.98" stroke-linecap="round" style="mix-blend-mode:screen"/><path d="M28.9,8.1C27.5,10.5 23.0,17.7 20.4,22.7C17.9,27.7 14.7,35.5 13.5,38.0" fill="none" stroke="rgb(82,82,82)" stroke-opacity="0.45" stroke-width="4.68" style="mix-blend-mode:screen"/><path d="M28.9,8.1C27.5,10.5 23.0,17.7 20.4,22.7C17.9,27.7 14.7,35.5 13.5,38.0" fill="none" stroke="rgb(82,82,82)" stroke-width="1.56" stroke-linecap="round" style="mix-blend-mode:screen"/><path d="M50.9,-5.5C53.1,-3.1 62.8,3.4 64.0,8.9C65.1,14.3 58.8,24.2 57.8,27.3" fill="none" stroke="rgb(109,109,109)" stroke-opacity="0.45" stroke-width="4.80" style="mix-blend-mode:screen"/><path d="M50.9,-5.5C53.1,-3.1 62.8,3.4 64.0,8.9C65.1,14.3 58.8,24.2 57.8,27.3" fill="none" stroke="rgb(109,109,109)" stroke-width="1.60" stroke-linecap="round" style="mix-blend-mode:screen"/><path d="M4.9,16.8C2.1,22.6 -6.9,39.8 -11.9,51.7C-17.0,63.6 -23.1,82.0 -25.3,88.1" fill="none" stroke="rgb(115,115,115)" stroke-opacity="0.45" stroke-width="4.75" style="mix-blend-mode:screen"/><path d="M4.9,16.8C2.1,22.6 -6.9,39.8 -11.9,51.7C-17.0,63.6 -23.1,82.0 -25.3,88.1" fill="none" stroke="rgb(115,115,115)" stroke-width="1.58" stroke-linecap="round" style="mix-blend-mode:screen"/><path d="M-4.4,93.0C-1.3,94.5 10.4,97.2 14.3,102.1C18.1,107.0 17.7,119.0 18.4,122.4" fill="none" stroke="rgb(109,109,109)" stroke-opacity="0.45" stroke-width="4.57" style="mix-blend-mode:screen"/><path d="M-4.4,93.0C-1.3,94.5 10.4,97.2 14.3,102.1C18.1,107.0 17.7,119.0 18.4,122.4" fill="none" stroke="rgb(109,109,109)" stroke-width="1.52" stroke-linecap="round" style="mix-blend-mode:screen"/><path d="M11.7,59.8C9.8,63.4 3.8,74.0 0.4,81.3C-3.1,88.7 -7.3,100.1 -8.9,103.9" fill="none" stroke="rgb(82,82,82)" stroke-opacity="0.45" stroke-width="4.08" style="mix-blend-mode:screen"/><path d="M11.7,59.8C9.8,63.4 3.8,74.0 0.4,81.3C-3.1,88.7 -7.3,100.1 -8.9,103.9" fill="none" stroke="rgb(82,82,82)" stroke-width="1.36" stroke-linecap="round" style="mix-blend-mode:screen"/><path d="M14.7,71.6C15.2,75.4 16.2,87.0 17.9,94.4C19.6,101.8 23.8,112.5 25.0,116.2" fill="none" stroke="rgb(91,91,91)" stroke-opacity="0.45" stroke-width="4.86" style="mix-blend-mode:screen"/><path d="M14.7,71.6C15.2,75.4 16.2,87.0 17.9,94.4C19.6,101.8 23.8,112.5 25.0,116.2" fill="none" stroke="rgb(91,91,91)" stroke-width="1.62" stroke-linecap="round" style="mix-blend-mode:screen"/><path d="M85.3,73.9C88.8,77.3 99.0,87.9 106.0,94.7C113.1,101.5 124.0,111.3 127.6,114.6" fill="none" stroke="rgb(106,106,106)" stroke-opacity="0.45" stroke-width="5.69" style="mix-blend-mode:screen"/><path d="M85.3,73.9C88.8,77.3 99.0,87.9 106.0,94.7C113.1,101.5 124.0,111.3 127.6,114.6" fill="none" stroke="rgb(106,106,106)" stroke-width="1.90" stroke-linecap="round" style="mix-blend-mode:screen"/><path d="M24.6,107.6C28.1,110.1 38.1,119.5 46.0,122.6C53.9,125.7 67.7,125.5 72.0,126.1" fill="none" stroke="rgb(97,97,97)" stroke-opacity="0.45" stroke-width="4.26" style="mix-blend-mode:screen"/><path d="M24.6,107.6C28.1,110.1 38.1,119.5 46.0,122.6C53.9,125.7 67.7,125.5 72.0,126.1" fill="none" stroke="rgb(97,97,97)" stroke-width="1.42" stroke-linecap="round" style="mix-blend-mode:screen"/><path d="M-5.3,70.2C-9.9,72.4 -25.8,76.7 -33.0,83.3C-40.3,89.9 -46.0,105.3 -48.6,109.7" fill="none" stroke="rgb(105,105,105)" stroke-opacity="0.45" stroke-width="4.58" style="mix-blend-mode:screen"/><path d="M-5.3,70.2C-9.9,72.4 -25.8,76.7 -33.0,83.3C-40.3,89.9 -46.0,105.3 -48.6,109.7" fill="none" stroke="rgb(105,105,105)" stroke-width="1.53" stroke-linecap="round" style="mix-blend-mode:screen"/><path d="M61.3,59.6C60.4,65.8 54.0,84.8 55.7,96.7C57.3,108.6 68.6,125.2 71.2,130.9" fill="none" stroke="rgb(104,104,104)" stroke-opacity="0.45" stroke-width="4.90" style="mix-blend-mode:screen"/><path d="M61.3,59.6C60.4,65.8 54.0,84.8 55.7,96.7C57.3,108.6 68.6,125.2 71.2,130.9" fill="none" stroke="rgb(104,104,104)" stroke-width="1.63" stroke-linecap="round" style="mix-blend-mode:screen"/><path d="M-2.7,74.2C-6.8,79.5 -21.5,94.5 -27.4,106.4C-33.3,118.3 -36.4,139.0 -38.2,145.5" fill="none" stroke="rgb(94,94,94)" stroke-opacity="0.45" stroke-width="4.52" style="mix-blend-mode:screen"/><path d="M-2.7,74.2C-6.8,79.5 -21.5,94.5 -27.4,106.4C-33.3,118.3 -36.4,139.0 -38.2,145.5" fill="none" stroke="rgb(94,94,94)" stroke-width="1.51" stroke-linecap="round" style="mix-blend-mode:screen"/><path d="M70.2,-7.3C72.1,-4.3 80.9,4.3 81.7,10.7C82.4,17.0 76.0,27.5 74.8,30.8" fill="none" stroke="rgb(107,107,107)" stroke-opacity="0.45" stroke-width="4.08" style="mix-blend-mode:screen"/><path d="M70.2,-7.3C72.1,-4.3 80.9,4.3 81.7,10.7C82.4,17.0 76.0,27.5 74.8,30.8" fill="none" stroke="rgb(107,107,107)" stroke-width="1.36" stroke-linecap="round" style="mix-blend-mode:screen"/><path d="M5.5,19.7C9.2,24.9 23.2,39.4 27.4,51.0C31.5,62.5 29.8,82.7 30.2,89.0" fill="none" stroke="rgb(99,99,99)" stroke-opacity="0.45" stroke-width="4.85" style="mix-blend-mode:screen"/><path d="M5.5,19.7C9.2,24.9 23.2,39.4 27.4,51.0C31.5,62.5 29.8,82.7 30.2,89.0" fill="none" stroke="rgb(99,99,99)" stroke-width="1.62" stroke-linecap="round" style="mix-blend-mode:screen"/><path d="M96.0,88.3C92.8,90.1 83.5,96.2 76.9,99.3C70.2,102.3 59.5,105.3 56.0,106.5" fill="none" stroke="rgb(111,111,111)" stroke-opacity="0.45" stroke-width="4.67" style="mix-blend-mode:screen"/><path d="M96.0,88.3C92.8,90.1 83.5,96.2 76.9,99.3C70.2,102.3 59.5,105.3 56.0,106.5" fill="none" stroke="rgb(111,111,111)" stroke-width="1.56" stroke-linecap="round" style="mix-blend-mode:screen"/><path d="M104.9,8.1C108.4,9.0 120.1,10.0 126.0,13.6C131.9,17.2 137.9,27.3 140.3,30.0" fill="none" stroke="rgb(101,101,101)" stroke-opacity="0.45" stroke-width="4.92" style="mix-blend-mode:screen"/><path d="M104.9,8.1C108.4,9.0 120.1,10.0 126.0,13.6C131.9,17.2 137.9,27.3 140.3,30.0" fill="none" stroke="rgb(101,101,101)" stroke-width="1.64" stroke-linecap="round" style="mix-blend-mode:screen"/><path d="M21.5,-9.5C22.3,-5.5 24.1,6.5 26.1,14.3C28.1,22.2 32.5,33.5 33.7,37.4" fill="none" stroke="rgb(104,104,104)" stroke-opacity="0.45" stroke-width="5.85" style="mix-blend-mode:screen"/><path d="M21.5,-9.5C22.3,-5.5 24.1,6.5 26.1,14.3C28.1,22.2 32.5,33.5 33.7,37.4" fill="none" stroke="rgb(104,104,104)" stroke-width="1.95" stroke-linecap="round" style="mix-blend-mode:screen"/></g></svg>
<svg x="374" y="467" width="88" height="88.6" viewBox="0 0 100 100" preserveAspectRatio="none" overflow="hidden"><g filter="url(#f30)"><rect x="0" y="0" width="100" height="100" fill="rgb(25,25,25)"/><circle cx="30" cy="97" r="7.00" fill="#fff" fill-opacity="0.200"/><circle cx="30" cy="97" r="5.83" fill="#fff" fill-opacity="0.200"/><circle cx="30" cy="97" r="4.67" fill="#fff" fill-opacity="0.200"/><circle cx="30" cy="97" r="3.50" fill="#fff" fill-opacity="0.200"/><circle cx="30" cy="97" r="2.33" fill="#fff" fill-opacity="0.200"/><circle cx="100" cy="72" r="4.00" fill="#fff" fill-opacity="0.160"/><circle cx="100" cy="72" r="3.33" fill="#fff" fill-opacity="0.160"/><circle cx="100" cy="72" r="2.67" fill="#fff" fill-opacity="0.160"/><circle cx="100" cy="72" r="2.00" fill="#fff" fill-opacity="0.160"/><circle cx="100" cy="72" r="1.33" fill="#fff" fill-opacity="0.160"/><path d="M26.3,0.0C25.8,3.6 25.1,14.6 23.4,21.9C21.7,29.2 18.5,36.5 16.1,43.8C13.6,51.1 10.9,58.4 8.8,65.7C6.6,73.0 4.4,81.9 2.9,87.6C1.5,93.3 0.5,97.9 0.0,100.0" fill="none" stroke="rgb(178,178,178)" stroke-opacity="0.45" stroke-width="10.56" style="mix-blend-mode:screen"/><path d="M26.3,0.0C25.8,3.6 25.1,14.6 23.4,21.9C21.7,29.2 18.5,36.5 16.1,43.8C13.6,51.1 10.9,58.4 8.8,65.7C6.6,73.0 4.4,81.9 2.9,87.6C1.5,93.3 0.5,97.9 0.0,100.0" fill="none" stroke="rgb(178,178,178)" stroke-width="3.52" stroke-linecap="round" style="mix-blend-mode:screen"/><path d="M29.2,0.0C29.4,4.9 30.2,19.5 30.7,29.2C31.1,38.9 31.6,48.7 32.1,58.4C32.6,68.1 33.1,80.7 33.6,87.6C34.1,94.5 34.8,97.9 35.0,100.0" fill="none" stroke="rgb(133,133,133)" stroke-opacity="0.45" stroke-width="9.24" style="mix-blend-mode:screen"/><path d="M29.2,0.0C29.4,4.9 30.2,19.5 30.7,29.2C31.1,38.9 31.6,48.7 32.1,58.4C32.6,68.1 33.1,80.7 33.6,87.6C34.1,94.5 34.8,97.9 35.0,100.0" fill="none" stroke="rgb(133,133,133)" stroke-width="3.08" stroke-linecap="round" style="mix-blend-mode:screen"/><path d="M0.0,14.6C4.9,14.4 19.5,13.6 29.2,13.1C38.9,12.7 46.6,12.4 58.4,11.7C70.2,10.9 93.1,9.2 100.0,8.8" fill="none" stroke="rgb(124,124,124)" stroke-opacity="0.45" stroke-width="6.60" style="mix-blend-mode:screen"/><path d="M0.0,14.6C4.9,14.4 19.5,13.6 29.2,13.1C38.9,12.7 46.6,12.4 58.4,11.7C70.2,10.9 93.1,9.2 100.0,8.8" fill="none" stroke="rgb(124,124,124)" stroke-width="2.20" stroke-linecap="round" style="mix-blend-mode:screen"/><path d="M61.3,0.0C63.3,2.4 69.1,9.7 73.0,14.6C76.9,19.5 81.3,24.3 84.7,29.2C88.1,34.1 90.9,38.9 93.4,43.8C96.0,48.7 98.9,56.0 100.0,58.4" fill="none" stroke="rgb(151,151,151)" stroke-opacity="0.45" stroke-width="8.58" style="mix-blend-mode:screen"/><path d="M61.3,0.0C63.3,2.4 69.1,9.7 73.0,14.6C76.9,19.5 81.3,24.3 84.7,29.2C88.1,34.1 90.9,38.9 93.4,43.8C96.0,48.7 98.9,56.0 100.0,58.4" fill="none" stroke="rgb(151,151,151)" stroke-width="2.86" stroke-linecap="round" style="mix-blend-mode:screen"/><path d="M36.5,35.0C40.1,34.1 52.3,31.1 58.4,29.2C64.5,27.3 66.1,25.1 73.0,23.4C79.9,21.7 95.5,19.7 100.0,19.0" fill="none" stroke="rgb(124,124,124)" stroke-opacity="0.45" stroke-width="6.60" style="mix-blend-mode:screen"/><path d="M36.5,35.0C40.1,34.1 52.3,31.1 58.4,29.2C64.5,27.3 66.1,25.1 73.0,23.4C79.9,21.7 95.5,19.7 100.0,19.0" fill="none" stroke="rgb(124,124,124)" stroke-width="2.20" stroke-linecap="round" style="mix-blend-mode:screen"/><path d="M14.6,100.0C17.0,95.5 24.3,79.4 29.2,73.0C34.1,66.5 37.7,66.2 43.8,61.3C49.9,56.4 59.4,48.4 65.7,43.8C72.0,39.2 76.9,37.2 81.8,33.6C86.6,29.9 92.7,23.8 94.9,21.9" fill="none" stroke="rgb(142,142,142)" stroke-opacity="0.45" stroke-width="7.92" style="mix-blend-mode:screen"/><path d="M14.6,100.0C17.0,95.5 24.3,79.4 29.2,73.0C34.1,66.5 37.7,66.2 43.8,61.3C49.9,56.4 59.4,48.4 65.7,43.8C72.0,39.2 76.9,37.2 81.8,33.6C86.6,29.9 92.7,23.8 94.9,21.9" fill="none" stroke="rgb(142,142,142)" stroke-width="2.64" stroke-linecap="round" style="mix-blend-mode:screen"/><path d="M43.8,67.2C47.4,65.7 58.4,60.8 65.7,58.4C73.0,56.0 81.9,54.0 87.6,52.6C93.3,51.1 97.9,50.1 100.0,49.6" fill="none" stroke="rgb(124,124,124)" stroke-opacity="0.45" stroke-width="6.60" style="mix-blend-mode:screen"/><path d="M43.8,67.2C47.4,65.7 58.4,60.8 65.7,58.4C73.0,56.0 81.9,54.0 87.6,52.6C93.3,51.1 97.9,50.1 100.0,49.6" fill="none" stroke="rgb(124,124,124)" stroke-width="2.20" stroke-linecap="round" style="mix-blend-mode:screen"/><path d="M0.0,48.2C3.6,47.4 15.8,45.0 21.9,43.8C28.0,42.6 34.1,41.4 36.5,40.9" fill="none" stroke="rgb(107,107,107)" stroke-opacity="0.45" stroke-width="5.94" style="mix-blend-mode:screen"/><path d="M0.0,48.2C3.6,47.4 15.8,45.0 21.9,43.8C28.0,42.6 34.1,41.4 36.5,40.9" fill="none" stroke="rgb(107,107,107)" stroke-width="1.98" stroke-linecap="round" style="mix-blend-mode:screen"/><path d="M65.7,0.0C68.1,3.6 76.2,16.5 80.3,21.9C84.4,27.3 87.2,29.0 90.5,32.1C93.8,35.3 98.4,39.4 100.0,40.9" fill="none" stroke="rgb(133,133,133)" stroke-opacity="0.45" stroke-width="6.60" style="mix-blend-mode:screen"/><path d="M65.7,0.0C68.1,3.6 76.2,16.5 80.3,21.9C84.4,27.3 87.2,29.0 90.5,32.1C93.8,35.3 98.4,39.4 100.0,40.9" fill="none" stroke="rgb(133,133,133)" stroke-width="2.20" stroke-linecap="round" style="mix-blend-mode:screen"/><path d="M0.0,73.0C2.4,71.8 9.7,68.6 14.6,65.7C19.5,62.8 26.8,57.2 29.2,55.5" fill="none" stroke="rgb(124,124,124)" stroke-opacity="0.45" stroke-width="5.94" style="mix-blend-mode:screen"/><path d="M0.0,73.0C2.4,71.8 9.7,68.6 14.6,65.7C19.5,62.8 26.8,57.2 29.2,55.5" fill="none" stroke="rgb(124,124,124)" stroke-width="1.98" stroke-linecap="round" style="mix-blend-mode:screen"/><path d="M80.3,100.0C81.5,97.9 84.3,90.6 87.6,87.6C90.9,84.5 97.9,82.7 100.0,81.8" fill="none" stroke="rgb(124,124,124)" stroke-opacity="0.45" stroke-width="5.94" style="mix-blend-mode:screen"/><path d="M80.3,100.0C81.5,97.9 84.3,90.6 87.6,87.6C90.9,84.5 97.9,82.7 100.0,81.8" fill="none" stroke="rgb(124,124,124)" stroke-width="1.98" stroke-linecap="round" style="mix-blend-mode:screen"/><path d="M0.0,2.9C2.4,3.4 10.2,4.9 14.6,5.8C19.0,6.8 24.3,8.3 26.3,8.8" fill="none" stroke="rgb(107,107,107)" stroke-opacity="0.45" stroke-width="5.28" style="mix-blend-mode:screen"/><path d="M0.0,2.9C2.4,3.4 10.2,4.9 14.6,5.8C19.0,6.8 24.3,8.3 26.3,8.8" fill="none" stroke="rgb(107,107,107)" stroke-width="1.76" stroke-linecap="round" style="mix-blend-mode:screen"/><path d="M43.8,100.0C44.3,97.0 46.7,87.5 46.7,81.8C46.7,76.0 44.3,68.4 43.8,65.7" fill="none" stroke="rgb(116,116,116)" stroke-opacity="0.45" stroke-width="6.60" style="mix-blend-mode:screen"/><path d="M43.8,100.0C44.3,97.0 46.7,87.5 46.7,81.8C46.7,76.0 44.3,68.4 43.8,65.7" fill="none" stroke="rgb(116,116,116)" stroke-width="2.20" stroke-linecap="round" style="mix-blend-mode:screen"/><path d="M100.0,87.6C97.9,85.2 90.6,77.9 87.6,73.0C84.5,68.1 81.8,62.5 81.8,58.4C81.8,54.3 86.6,49.9 87.6,48.2" fill="none" stroke="rgb(89,89,89)" stroke-opacity="0.45" stroke-width="5.94" style="mix-blend-mode:screen"/><path d="M100.0,87.6C97.9,85.2 90.6,77.9 87.6,73.0C84.5,68.1 81.8,62.5 81.8,58.4C81.8,54.3 86.6,49.9 87.6,48.2" fill="none" stroke="rgb(89,89,89)" stroke-width="1.98" stroke-linecap="round" style="mix-blend-mode:screen"/><path d="M28.9,8.1C27.5,10.5 23.0,17.7 20.4,22.7C17.9,27.7 14.7,35.5 13.5,38.0" fill="none" stroke="rgb(82,82,82)" stroke-opacity="0.45" stroke-width="4.68" style="mix-blend-mode:screen"/><path d="M28.9,8.1C27.5,10.5 23.0,17.7 20.4,22.7C17.9,27.7 14.7,35.5 13.5,38.0" fill="none" stroke="rgb(82,82,82)" stroke-width="1.56" stroke-linecap="round" style="mix-blend-mode:screen"/><path d="M50.9,-5.5C53.1,-3.1 62.8,3.4 64.0,8.9C65.1,14.3 58.8,24.2 57.8,27.3" fill="none" stroke="rgb(109,109,109)" stroke-opacity="0.45" stroke-width="4.80" style="mix-blend-mode:screen"/><path d="M50.9,-5.5C53.1,-3.1 62.8,3.4 64.0,8.9C65.1,14.3 58.8,24.2 57.8,27.3" fill="none" stroke="rgb(109,109,109)" stroke-width="1.60" stroke-linecap="round" style="mix-blend-mode:screen"/><path d="M4.9,16.8C2.1,22.6 -6.9,39.8 -11.9,51.7C-17.0,63.6 -23.1,82.0 -25.3,88.1" fill="none" stroke="rgb(115,115,115)" stroke-opacity="0.45" stroke-width="4.75" style="mix-blend-mode:screen"/><path d="M4.9,16.8C2.1,22.6 -6.9,39.8 -11.9,51.7C-17.0,63.6 -23.1,82.0 -25.3,88.1" fill="none" stroke="rgb(115,115,115)" stroke-width="1.58" stroke-linecap="round" style="mix-blend-mode:screen"/><path d="M-4.4,93.0C-1.3,94.5 10.4,97.2 14.3,102.1C18.1,107.0 17.7,119.0 18.4,122.4" fill="none" stroke="rgb(109,109,109)" stroke-opacity="0.45" stroke-width="4.57" style="mix-blend-mode:screen"/><path d="M-4.4,93.0C-1.3,94.5 10.4,97.2 14.3,102.1C18.1,107.0 17.7,119.0 18.4,122.4" fill="none" stroke="rgb(109,109,109)" stroke-width="1.52" stroke-linecap="round" style="mix-blend-mode:screen"/><path d="M11.7,59.8C9.8,63.4 3.8,74.0 0.4,81.3C-3.1,88.7 -7.3,100.1 -8.9,103.9" fill="none" stroke="rgb(82,82,82)" stroke-opacity="0.45" stroke-width="4.08" style="mix-blend-mode:screen"/><path d="M11.7,59.8C9.8,63.4 3.8,74.0 0.4,81.3C-3.1,88.7 -7.3,100.1 -8.9,103.9" fill="none" stroke="rgb(82,82,82)" stroke-width="1.36" stroke-linecap="round" style="mix-blend-mode:screen"/><path d="M14.7,71.6C15.2,75.4 16.2,87.0 17.9,94.4C19.6,101.8 23.8,112.5 25.0,116.2" fill="none" stroke="rgb(91,91,91)" stroke-opacity="0.45" stroke-width="4.86" style="mix-blend-mode:screen"/><path d="M14.7,71.6C15.2,75.4 16.2,87.0 17.9,94.4C19.6,101.8 23.8,112.5 25.0,116.2" fill="none" stroke="rgb(91,91,91)" stroke-width="1.62" stroke-linecap="round" style="mix-blend-mode:screen"/><path d="M85.3,73.9C88.8,77.3 99.0,87.9 106.0,94.7C113.1,101.5 124.0,111.3 127.6,114.6" fill="none" stroke="rgb(106,106,106)" stroke-opacity="0.45" stroke-width="5.69" style="mix-blend-mode:screen"/><path d="M85.3,73.9C88.8,77.3 99.0,87.9 106.0,94.7C113.1,101.5 124.0,111.3 127.6,114.6" fill="none" stroke="rgb(106,106,106)" stroke-width="1.90" stroke-linecap="round" style="mix-blend-mode:screen"/><path d="M24.6,107.6C28.1,110.1 38.1,119.5 46.0,122.6C53.9,125.7 67.7,125.5 72.0,126.1" fill="none" stroke="rgb(97,97,97)" stroke-opacity="0.45" stroke-width="4.26" style="mix-blend-mode:screen"/><path d="M24.6,107.6C28.1,110.1 38.1,119.5 46.0,122.6C53.9,125.7 67.7,125.5 72.0,126.1" fill="none" stroke="rgb(97,97,97)" stroke-width="1.42" stroke-linecap="round" style="mix-blend-mode:screen"/><path d="M-5.3,70.2C-9.9,72.4 -25.8,76.7 -33.0,83.3C-40.3,89.9 -46.0,105.3 -48.6,109.7" fill="none" stroke="rgb(105,105,105)" stroke-opacity="0.45" stroke-width="4.58" style="mix-blend-mode:screen"/><path d="M-5.3,70.2C-9.9,72.4 -25.8,76.7 -33.0,83.3C-40.3,89.9 -46.0,105.3 -48.6,109.7" fill="none" stroke="rgb(105,105,105)" stroke-width="1.53" stroke-linecap="round" style="mix-blend-mode:screen"/><path d="M61.3,59.6C60.4,65.8 54.0,84.8 55.7,96.7C57.3,108.6 68.6,125.2 71.2,130.9" fill="none" stroke="rgb(104,104,104)" stroke-opacity="0.45" stroke-width="4.90" style="mix-blend-mode:screen"/><path d="M61.3,59.6C60.4,65.8 54.0,84.8 55.7,96.7C57.3,108.6 68.6,125.2 71.2,130.9" fill="none" stroke="rgb(104,104,104)" stroke-width="1.63" stroke-linecap="round" style="mix-blend-mode:screen"/><path d="M-2.7,74.2C-6.8,79.5 -21.5,94.5 -27.4,106.4C-33.3,118.3 -36.4,139.0 -38.2,145.5" fill="none" stroke="rgb(94,94,94)" stroke-opacity="0.45" stroke-width="4.52" style="mix-blend-mode:screen"/><path d="M-2.7,74.2C-6.8,79.5 -21.5,94.5 -27.4,106.4C-33.3,118.3 -36.4,139.0 -38.2,145.5" fill="none" stroke="rgb(94,94,94)" stroke-width="1.51" stroke-linecap="round" style="mix-blend-mode:screen"/><path d="M70.2,-7.3C72.1,-4.3 80.9,4.3 81.7,10.7C82.4,17.0 76.0,27.5 74.8,30.8" fill="none" stroke="rgb(107,107,107)" stroke-opacity="0.45" stroke-width="4.08" style="mix-blend-mode:screen"/><path d="M70.2,-7.3C72.1,-4.3 80.9,4.3 81.7,10.7C82.4,17.0 76.0,27.5 74.8,30.8" fill="none" stroke="rgb(107,107,107)" stroke-width="1.36" stroke-linecap="round" style="mix-blend-mode:screen"/><path d="M5.5,19.7C9.2,24.9 23.2,39.4 27.4,51.0C31.5,62.5 29.8,82.7 30.2,89.0" fill="none" stroke="rgb(99,99,99)" stroke-opacity="0.45" stroke-width="4.85" style="mix-blend-mode:screen"/><path d="M5.5,19.7C9.2,24.9 23.2,39.4 27.4,51.0C31.5,62.5 29.8,82.7 30.2,89.0" fill="none" stroke="rgb(99,99,99)" stroke-width="1.62" stroke-linecap="round" style="mix-blend-mode:screen"/><path d="M96.0,88.3C92.8,90.1 83.5,96.2 76.9,99.3C70.2,102.3 59.5,105.3 56.0,106.5" fill="none" stroke="rgb(111,111,111)" stroke-opacity="0.45" stroke-width="4.67" style="mix-blend-mode:screen"/><path d="M96.0,88.3C92.8,90.1 83.5,96.2 76.9,99.3C70.2,102.3 59.5,105.3 56.0,106.5" fill="none" stroke="rgb(111,111,111)" stroke-width="1.56" stroke-linecap="round" style="mix-blend-mode:screen"/><path d="M104.9,8.1C108.4,9.0 120.1,10.0 126.0,13.6C131.9,17.2 137.9,27.3 140.3,30.0" fill="none" stroke="rgb(101,101,101)" stroke-opacity="0.45" stroke-width="4.92" style="mix-blend-mode:screen"/><path d="M104.9,8.1C108.4,9.0 120.1,10.0 126.0,13.6C131.9,17.2 137.9,27.3 140.3,30.0" fill="none" stroke="rgb(101,101,101)" stroke-width="1.64" stroke-linecap="round" style="mix-blend-mode:screen"/><path d="M21.5,-9.5C22.3,-5.5 24.1,6.5 26.1,14.3C28.1,22.2 32.5,33.5 33.7,37.4" fill="none" stroke="rgb(104,104,104)" stroke-opacity="0.45" stroke-width="5.85" style="mix-blend-mode:screen"/><path d="M21.5,-9.5C22.3,-5.5 24.1,6.5 26.1,14.3C28.1,22.2 32.5,33.5 33.7,37.4" fill="none" stroke="rgb(104,104,104)" stroke-width="1.95" stroke-linecap="round" style="mix-blend-mode:screen"/></g></svg>
<svg x="466" y="467" width="88" height="88.6" viewBox="0 0 100 100" preserveAspectRatio="none" overflow="hidden"><g filter="url(#f31)"><rect x="0" y="0" width="100" height="100" fill="rgb(30,30,30)"/><path d="M26.3,0.0C25.8,3.6 25.1,14.6 23.4,21.9C21.7,29.2 18.5,36.5 16.1,43.8C13.6,51.1 10.9,58.4 8.8,65.7C6.6,73.0 4.4,81.9 2.9,87.6C1.5,93.3 0.5,97.9 0.0,100.0" fill="none" stroke="rgb(76,76,76)" stroke-opacity="0.4" stroke-width="10.56" style="mix-blend-mode:screen"/><path d="M26.3,0.0C25.8,3.6 25.1,14.6 23.4,21.9C21.7,29.2 18.5,36.5 16.1,43.8C13.6,51.1 10.9,58.4 8.8,65.7C6.6,73.0 4.4,81.9 2.9,87.6C1.5,93.3 0.5,97.9 0.0,100.0" fill="none" stroke="rgb(76,76,76)" stroke-width="3.52" stroke-linecap="round" style="mix-blend-mode:screen"/><path d="M29.2,0.0C29.4,4.9 30.2,19.5 30.7,29.2C31.1,38.9 31.6,48.7 32.1,58.4C32.6,68.1 33.1,80.7 33.6,87.6C34.1,94.5 34.8,97.9 35.0,100.0" fill="none" stroke="rgb(57,57,57)" stroke-opacity="0.4" stroke-width="9.24" style="mix-blend-mode:screen"/><path d="M29.2,0.0C29.4,4.9 30.2,19.5 30.7,29.2C31.1,38.9 31.6,48.7 32.1,58.4C32.6,68.1 33.1,80.7 33.6,87.6C34.1,94.5 34.8,97.9 35.0,100.0" fill="none" stroke="rgb(57,57,57)" stroke-width="3.08" stroke-linecap="round" style="mix-blend-mode:screen"/><path d="M0.0,14.6C4.9,14.4 19.5,13.6 29.2,13.1C38.9,12.7 46.6,12.4 58.4,11.7C70.2,10.9 93.1,9.2 100.0,8.8" fill="none" stroke="rgb(53,53,53)" stroke-opacity="0.4" stroke-width="6.60" style="mix-blend-mode:screen"/><path d="M0.0,14.6C4.9,14.4 19.5,13.6 29.2,13.1C38.9,12.7 46.6,12.4 58.4,11.7C70.2,10.9 93.1,9.2 100.0,8.8" fill="none" stroke="rgb(53,53,53)" stroke-width="2.20" stroke-linecap="round" style="mix-blend-mode:screen"/><path d="M61.3,0.0C63.3,2.4 69.1,9.7 73.0,14.6C76.9,19.5 81.3,24.3 84.7,29.2C88.1,34.1 90.9,38.9 93.4,43.8C96.0,48.7 98.9,56.0 100.0,58.4" fill="none" stroke="rgb(65,65,65)" stroke-opacity="0.4" stroke-width="8.58" style="mix-blend-mode:screen"/><path d="M61.3,0.0C63.3,2.4 69.1,9.7 73.0,14.6C76.9,19.5 81.3,24.3 84.7,29.2C88.1,34.1 90.9,38.9 93.4,43.8C96.0,48.7 98.9,56.0 100.0,58.4" fill="none" stroke="rgb(65,65,65)" stroke-width="2.86" stroke-linecap="round" style="mix-blend-mode:screen"/><path d="M36.5,35.0C40.1,34.1 52.3,31.1 58.4,29.2C64.5,27.3 66.1,25.1 73.0,23.4C79.9,21.7 95.5,19.7 100.0,19.0" fill="none" stroke="rgb(53,53,53)" stroke-opacity="0.4" stroke-width="6.60" style="mix-blend-mode:screen"/><path d="M36.5,35.0C40.1,34.1 52.3,31.1 58.4,29.2C64.5,27.3 66.1,25.1 73.0,23.4C79.9,21.7 95.5,19.7 100.0,19.0" fill="none" stroke="rgb(53,53,53)" stroke-width="2.20" stroke-linecap="round" style="mix-blend-mode:screen"/><path d="M14.6,100.0C17.0,95.5 24.3,79.4 29.2,73.0C34.1,66.5 37.7,66.2 43.8,61.3C49.9,56.4 59.4,48.4 65.7,43.8C72.0,39.2 76.9,37.2 81.8,33.6C86.6,29.9 92.7,23.8 94.9,21.9" fill="none" stroke="rgb(61,61,61)" stroke-opacity="0.4" stroke-width="7.92" style="mix-blend-mode:screen"/><path d="M14.6,100.0C17.0,95.5 24.3,79.4 29.2,73.0C34.1,66.5 37.7,66.2 43.8,61.3C49.9,56.4 59.4,48.4 65.7,43.8C72.0,39.2 76.9,37.2 81.8,33.6C86.6,29.9 92.7,23.8 94.9,21.9" fill="none" stroke="rgb(61,61,61)" stroke-width="2.64" stroke-linecap="round" style="mix-blend-mode:screen"/><path d="M43.8,67.2C47.4,65.7 58.4,60.8 65.7,58.4C73.0,56.0 81.9,54.0 87.6,52.6C93.3,51.1 97.9,50.1 100.0,49.6" fill="none" stroke="rgb(53,53,53)" stroke-opacity="0.4" stroke-width="6.60" style="mix-blend-mode:screen"/><path d="M43.8,67.2C47.4,65.7 58.4,60.8 65.7,58.4C73.0,56.0 81.9,54.0 87.6,52.6C93.3,51.1 97.9,50.1 100.0,49.6" fill="none" stroke="rgb(53,53,53)" stroke-width="2.20" stroke-linecap="round" style="mix-blend-mode:screen"/><path d="M0.0,48.2C3.6,47.4 15.8,45.0 21.9,43.8C28.0,42.6 34.1,41.4 36.5,40.9" fill="none" stroke="rgb(45,45,45)" stroke-opacity="0.4" stroke-width="5.94" style="mix-blend-mode:screen"/><path d="M0.0,48.2C3.6,47.4 15.8,45.0 21.9,43.8C28.0,42.6 34.1,41.4 36.5,40.9" fill="none" stroke="rgb(45,45,45)" stroke-width="1.98" stroke-linecap="round" style="mix-blend-mode:screen"/><path d="M65.7,0.0C68.1,3.6 76.2,16.5 80.3,21.9C84.4,27.3 87.2,29.0 90.5,32.1C93.8,35.3 98.4,39.4 100.0,40.9" fill="none" stroke="rgb(57,57,57)" stroke-opacity="0.4" stroke-width="6.60" style="mix-blend-mode:screen"/><path d="M65.7,0.0C68.1,3.6 76.2,16.5 80.3,21.9C84.4,27.3 87.2,29.0 90.5,32.1C93.8,35.3 98.4,39.4 100.0,40.9" fill="none" stroke="rgb(57,57,57)" stroke-width="2.20" stroke-linecap="round" style="mix-blend-mode:screen"/><path d="M0.0,73.0C2.4,71.8 9.7,68.6 14.6,65.7C19.5,62.8 26.8,57.2 29.2,55.5" fill="none" stroke="rgb(53,53,53)" stroke-opacity="0.4" stroke-width="5.94" style="mix-blend-mode:screen"/><path d="M0.0,73.0C2.4,71.8 9.7,68.6 14.6,65.7C19.5,62.8 26.8,57.2 29.2,55.5" fill="none" stroke="rgb(53,53,53)" stroke-width="1.98" stroke-linecap="round" style="mix-blend-mode:screen"/><path d="M80.3,100.0C81.5,97.9 84.3,90.6 87.6,87.6C90.9,84.5 97.9,82.7 100.0,81.8" fill="none" stroke="rgb(53,53,53)" stroke-opacity="0.4" stroke-width="5.94" style="mix-blend-mode:screen"/><path d="M80.3,100.0C81.5,97.9 84.3,90.6 87.6,87.6C90.9,84.5 97.9,82.7 100.0,81.8" fill="none" stroke="rgb(53,53,53)" stroke-width="1.98" stroke-linecap="round" style="mix-blend-mode:screen"/><path d="M0.0,2.9C2.4,3.4 10.2,4.9 14.6,5.8C19.0,6.8 24.3,8.3 26.3,8.8" fill="none" stroke="rgb(45,45,45)" stroke-opacity="0.4" stroke-width="5.28" style="mix-blend-mode:screen"/><path d="M0.0,2.9C2.4,3.4 10.2,4.9 14.6,5.8C19.0,6.8 24.3,8.3 26.3,8.8" fill="none" stroke="rgb(45,45,45)" stroke-width="1.76" stroke-linecap="round" style="mix-blend-mode:screen"/><path d="M43.8,100.0C44.3,97.0 46.7,87.5 46.7,81.8C46.7,76.0 44.3,68.4 43.8,65.7" fill="none" stroke="rgb(49,49,49)" stroke-opacity="0.4" stroke-width="6.60" style="mix-blend-mode:screen"/><path d="M43.8,100.0C44.3,97.0 46.7,87.5 46.7,81.8C46.7,76.0 44.3,68.4 43.8,65.7" fill="none" stroke="rgb(49,49,49)" stroke-width="2.20" stroke-linecap="round" style="mix-blend-mode:screen"/><path d="M100.0,87.6C97.9,85.2 90.6,77.9 87.6,73.0C84.5,68.1 81.8,62.5 81.8,58.4C81.8,54.3 86.6,49.9 87.6,48.2" fill="none" stroke="rgb(38,38,38)" stroke-opacity="0.4" stroke-width="5.94" style="mix-blend-mode:screen"/><path d="M100.0,87.6C97.9,85.2 90.6,77.9 87.6,73.0C84.5,68.1 81.8,62.5 81.8,58.4C81.8,54.3 86.6,49.9 87.6,48.2" fill="none" stroke="rgb(38,38,38)" stroke-width="1.98" stroke-linecap="round" style="mix-blend-mode:screen"/><path d="M28.9,8.1C27.5,10.5 23.0,17.7 20.4,22.7C17.9,27.7 14.7,35.5 13.5,38.0" fill="none" stroke="rgb(35,35,35)" stroke-opacity="0.4" stroke-width="4.68" style="mix-blend-mode:screen"/><path d="M28.9,8.1C27.5,10.5 23.0,17.7 20.4,22.7C17.9,27.7 14.7,35.5 13.5,38.0" fill="none" stroke="rgb(35,35,35)" stroke-width="1.56" stroke-linecap="round" style="mix-blend-mode:screen"/><path d="M50.9,-5.5C53.1,-3.1 62.8,3.4 64.0,8.9C65.1,14.3 58.8,24.2 57.8,27.3" fill="none" stroke="rgb(47,47,47)" stroke-opacity="0.4" stroke-width="4.80" style="mix-blend-mode:screen"/><path d="M50.9,-5.5C53.1,-3.1 62.8,3.4 64.0,8.9C65.1,14.3 58.8,24.2 57.8,27.3" fill="none" stroke="rgb(47,47,47)" stroke-width="1.60" stroke-linecap="round" style="mix-blend-mode:screen"/><path d="M4.9,16.8C2.1,22.6 -6.9,39.8 -11.9,51.7C-17.0,63.6 -23.1,82.0 -25.3,88.1" fill="none" stroke="rgb(49,49,49)" stroke-opacity="0.4" stroke-width="4.75" style="mix-blend-mode:screen"/><path d="M4.9,16.8C2.1,22.6 -6.9,39.8 -11.9,51.7C-17.0,63.6 -23.1,82.0 -25.3,88.1" fill="none" stroke="rgb(49,49,49)" stroke-width="1.58" stroke-linecap="round" style="mix-blend-mode:screen"/><path d="M-4.4,93.0C-1.3,94.5 10.4,97.2 14.3,102.1C18.1,107.0 17.7,119.0 18.4,122.4" fill="none" stroke="rgb(46,46,46)" stroke-opacity="0.4" stroke-width="4.57" style="mix-blend-mode:screen"/><path d="M-4.4,93.0C-1.3,94.5 10.4,97.2 14.3,102.1C18.1,107.0 17.7,119.0 18.4,122.4" fill="none" stroke="rgb(46,46,46)" stroke-width="1.52" stroke-linecap="round" style="mix-blend-mode:screen"/><path d="M11.7,59.8C9.8,63.4 3.8,74.0 0.4,81.3C-3.1,88.7 -7.3,100.1 -8.9,103.9" fill="none" stroke="rgb(35,35,35)" stroke-opacity="0.4" stroke-width="4.08" style="mix-blend-mode:screen"/><path d="M11.7,59.8C9.8,63.4 3.8,74.0 0.4,81.3C-3.1,88.7 -7.3,100.1 -8.9,103.9" fill="none" stroke="rgb(35,35,35)" stroke-width="1.36" stroke-linecap="round" style="mix-blend-mode:screen"/><path d="M14.7,71.6C15.2,75.4 16.2,87.0 17.9,94.4C19.6,101.8 23.8,112.5 25.0,116.2" fill="none" stroke="rgb(39,39,39)" stroke-opacity="0.4" stroke-width="4.86" style="mix-blend-mode:screen"/><path d="M14.7,71.6C15.2,75.4 16.2,87.0 17.9,94.4C19.6,101.8 23.8,112.5 25.0,116.2" fill="none" stroke="rgb(39,39,39)" stroke-width="1.62" stroke-linecap="round" style="mix-blend-mode:screen"/><path d="M85.3,73.9C88.8,77.3 99.0,87.9 106.0,94.7C113.1,101.5 124.0,111.3 127.6,114.6" fill="none" stroke="rgb(45,45,45)" stroke-opacity="0.4" stroke-width="5.69" style="mix-blend-mode:screen"/><path d="M85.3,73.9C88.8,77.3 99.0,87.9 106.0,94.7C113.1,101.5 124.0,111.3 127.6,114.6" fill="none" stroke="rgb(45,45,45)" stroke-width="1.90" stroke-linecap="round" style="mix-blend-mode:screen"/><path d="M24.6,107.6C28.1,110.1 38.1,119.5 46.0,122.6C53.9,125.7 67.7,125.5 72.0,126.1" fill="none" stroke="rgb(41,41,41)" stroke-opacity="0.4" stroke-width="4.26" style="mix-blend-mode:screen"/><path d="M24.6,107.6C28.1,110.1 38.1,119.5 46.0,122.6C53.9,125.7 67.7,125.5 72.0,126.1" fill="none" stroke="rgb(41,41,41)" stroke-width="1.42" stroke-linecap="round" style="mix-blend-mode:screen"/><path d="M-5.3,70.2C-9.9,72.4 -25.8,76.7 -33.0,83.3C-40.3,89.9 -46.0,105.3 -48.6,109.7" fill="none" stroke="rgb(45,45,45)" stroke-opacity="0.4" stroke-width="4.58" style="mix-blend-mode:screen"/><path d="M-5.3,70.2C-9.9,72.4 -25.8,76.7 -33.0,83.3C-40.3,89.9 -46.0,105.3 -48.6,109.7" fill="none" stroke="rgb(45,45,45)" stroke-width="1.53" stroke-linecap="round" style="mix-blend-mode:screen"/><path d="M61.3,59.6C60.4,65.8 54.0,84.8 55.7,96.7C57.3,108.6 68.6,125.2 71.2,130.9" fill="none" stroke="rgb(44,44,44)" stroke-opacity="0.4" stroke-width="4.90" style="mix-blend-mode:screen"/><path d="M61.3,59.6C60.4,65.8 54.0,84.8 55.7,96.7C57.3,108.6 68.6,125.2 71.2,130.9" fill="none" stroke="rgb(44,44,44)" stroke-width="1.63" stroke-linecap="round" style="mix-blend-mode:screen"/><path d="M-2.7,74.2C-6.8,79.5 -21.5,94.5 -27.4,106.4C-33.3,118.3 -36.4,139.0 -38.2,145.5" fill="none" stroke="rgb(40,40,40)" stroke-opacity="0.4" stroke-width="4.52" style="mix-blend-mode:screen"/><path d="M-2.7,74.2C-6.8,79.5 -21.5,94.5 -27.4,106.4C-33.3,118.3 -36.4,139.0 -38.2,145.5" fill="none" stroke="rgb(40,40,40)" stroke-width="1.51" stroke-linecap="round" style="mix-blend-mode:screen"/><path d="M70.2,-7.3C72.1,-4.3 80.9,4.3 81.7,10.7C82.4,17.0 76.0,27.5 74.8,30.8" fill="none" stroke="rgb(46,46,46)" stroke-opacity="0.4" stroke-width="4.08" style="mix-blend-mode:screen"/><path d="M70.2,-7.3C72.1,-4.3 80.9,4.3 81.7,10.7C82.4,17.0 76.0,27.5 74.8,30.8" fill="none" stroke="rgb(46,46,46)" stroke-width="1.36" stroke-linecap="round" style="mix-blend-mode:screen"/><path d="M5.5,19.7C9.2,24.9 23.2,39.4 27.4,51.0C31.5,62.5 29.8,82.7 30.2,89.0" fill="none" stroke="rgb(42,42,42)" stroke-opacity="0.4" stroke-width="4.85" style="mix-blend-mode:screen"/><path d="M5.5,19.7C9.2,24.9 23.2,39.4 27.4,51.0C31.5,62.5 29.8,82.7 30.2,89.0" fill="none" stroke="rgb(42,42,42)" stroke-width="1.62" stroke-linecap="round" style="mix-blend-mode:screen"/><path d="M96.0,88.3C92.8,90.1 83.5,96.2 76.9,99.3C70.2,102.3 59.5,105.3 56.0,106.5" fill="none" stroke="rgb(47,47,47)" stroke-opacity="0.4" stroke-width="4.67" style="mix-blend-mode:screen"/><path d="M96.0,88.3C92.8,90.1 83.5,96.2 76.9,99.3C70.2,102.3 59.5,105.3 56.0,106.5" fill="none" stroke="rgb(47,47,47)" stroke-width="1.56" stroke-linecap="round" style="mix-blend-mode:screen"/><path d="M104.9,8.1C108.4,9.0 120.1,10.0 126.0,13.6C131.9,17.2 137.9,27.3 140.3,30.0" fill="none" stroke="rgb(43,43,43)" stroke-opacity="0.4" stroke-width="4.92" style="mix-blend-mode:screen"/><path d="M104.9,8.1C108.4,9.0 120.1,10.0 126.0,13.6C131.9,17.2 137.9,27.3 140.3,30.0" fill="none" stroke="rgb(43,43,43)" stroke-width="1.64" stroke-linecap="round" style="mix-blend-mode:screen"/><path d="M21.5,-9.5C22.3,-5.5 24.1,6.5 26.1,14.3C28.1,22.2 32.5,33.5 33.7,37.4" fill="none" stroke="rgb(44,44,44)" stroke-opacity="0.4" stroke-width="5.85" style="mix-blend-mode:screen"/><path d="M21.5,-9.5C22.3,-5.5 24.1,6.5 26.1,14.3C28.1,22.2 32.5,33.5 33.7,37.4" fill="none" stroke="rgb(44,44,44)" stroke-width="1.95" stroke-linecap="round" style="mix-blend-mode:screen"/></g></svg>
<svg x="573" y="467" width="88" height="88.6" viewBox="0 0 100 100" preserveAspectRatio="none" overflow="hidden"><g filter="url(#f32)"><rect x="0" y="0" width="100" height="100" fill="rgb(127,127,127)"/><path d="M26.3,0.0C25.8,3.6 25.1,14.6 23.4,21.9C21.7,29.2 18.5,36.5 16.1,43.8C13.6,51.1 10.9,58.4 8.8,65.7C6.6,73.0 4.4,81.9 2.9,87.6C1.5,93.3 0.5,97.9 0.0,100.0" fill="none" stroke="rgb(242,242,242)" stroke-opacity="0.2" stroke-width="7.20" style="mix-blend-mode:screen"/><path d="M26.3,0.0C25.8,3.6 25.1,14.6 23.4,21.9C21.7,29.2 18.5,36.5 16.1,43.8C13.6,51.1 10.9,58.4 8.8,65.7C6.6,73.0 4.4,81.9 2.9,87.6C1.5,93.3 0.5,97.9 0.0,100.0" fill="none" stroke="rgb(242,242,242)" stroke-width="2.40" stroke-linecap="round" style="mix-blend-mode:screen"/><path d="M29.2,0.0C29.4,4.9 30.2,19.5 30.7,29.2C31.1,38.9 31.6,48.7 32.1,58.4C32.6,68.1 33.1,80.7 33.6,87.6C34.1,94.5 34.8,97.9 35.0,100.0" fill="none" stroke="rgb(181,181,181)" stroke-opacity="0.2" stroke-width="6.30" style="mix-blend-mode:screen"/><path d="M29.2,0.0C29.4,4.9 30.2,19.5 30.7,29.2C31.1,38.9 31.6,48.7 32.1,58.4C32.6,68.1 33.1,80.7 33.6,87.6C34.1,94.5 34.8,97.9 35.0,100.0" fill="none" stroke="rgb(181,181,181)" stroke-width="2.10" stroke-linecap="round" style="mix-blend-mode:screen"/><path d="M0.0,14.6C4.9,14.4 19.5,13.6 29.2,13.1C38.9,12.7 46.6,12.4 58.4,11.7C70.2,10.9 93.1,9.2 100.0,8.8" fill="none" stroke="rgb(169,169,169)" stroke-opacity="0.2" stroke-width="4.50" style="mix-blend-mode:screen"/><path d="M0.0,14.6C4.9,14.4 19.5,13.6 29.2,13.1C38.9,12.7 46.6,12.4 58.4,11.7C70.2,10.9 93.1,9.2 100.0,8.8" fill="none" stroke="rgb(169,169,169)" stroke-width="1.50" stroke-linecap="round" style="mix-blend-mode:screen"/><path d="M61.3,0.0C63.3,2.4 69.1,9.7 73.0,14.6C76.9,19.5 81.3,24.3 84.7,29.2C88.1,34.1 90.9,38.9 93.4,43.8C96.0,48.7 98.9,56.0 100.0,58.4" fill="none" stroke="rgb(205,205,205)" stroke-opacity="0.2" stroke-width="5.85" style="mix-blend-mode:screen"/><path d="M61.3,0.0C63.3,2.4 69.1,9.7 73.0,14.6C76.9,19.5 81.3,24.3 84.7,29.2C88.1,34.1 90.9,38.9 93.4,43.8C96.0,48.7 98.9,56.0 100.0,58.4" fill="none" stroke="rgb(205,205,205)" stroke-width="1.95" stroke-linecap="round" style="mix-blend-mode:screen"/><path d="M36.5,35.0C40.1,34.1 52.3,31.1 58.4,29.2C64.5,27.3 66.1,25.1 73.0,23.4C79.9,21.7 95.5,19.7 100.0,19.0" fill="none" stroke="rgb(169,169,169)" stroke-opacity="0.2" stroke-width="4.50" style="mix-blend-mode:screen"/><path d="M36.5,35.0C40.1,34.1 52.3,31.1 58.4,29.2C64.5,27.3 66.1,25.1 73.0,23.4C79.9,21.7 95.5,19.7 100.0,19.0" fill="none" stroke="rgb(169,169,169)" stroke-width="1.50" stroke-linecap="round" style="mix-blend-mode:screen"/><path d="M14.6,100.0C17.0,95.5 24.3,79.4 29.2,73.0C34.1,66.5 37.7,66.2 43.8,61.3C49.9,56.4 59.4,48.4 65.7,43.8C72.0,39.2 76.9,37.2 81.8,33.6C86.6,29.9 92.7,23.8 94.9,21.9" fill="none" stroke="rgb(193,193,193)" stroke-opacity="0.2" stroke-width="5.40" style="mix-blend-mode:screen"/><path d="M14.6,100.0C17.0,95.5 24.3,79.4 29.2,73.0C34.1,66.5 37.7,66.2 43.8,61.3C49.9,56.4 59.4,48.4 65.7,43.8C72.0,39.2 76.9,37.2 81.8,33.6C86.6,29.9 92.7,23.8 94.9,21.9" fill="none" stroke="rgb(193,193,193)" stroke-width="1.80" stroke-linecap="round" style="mix-blend-mode:screen"/><path d="M43.8,67.2C47.4,65.7 58.4,60.8 65.7,58.4C73.0,56.0 81.9,54.0 87.6,52.6C93.3,51.1 97.9,50.1 100.0,49.6" fill="none" stroke="rgb(169,169,169)" stroke-opacity="0.2" stroke-width="4.50" style="mix-blend-mode:screen"/><path d="M43.8,67.2C47.4,65.7 58.4,60.8 65.7,58.4C73.0,56.0 81.9,54.0 87.6,52.6C93.3,51.1 97.9,50.1 100.0,49.6" fill="none" stroke="rgb(169,169,169)" stroke-width="1.50" stroke-linecap="round" style="mix-blend-mode:screen"/><path d="M0.0,48.2C3.6,47.4 15.8,45.0 21.9,43.8C28.0,42.6 34.1,41.4 36.5,40.9" fill="none" stroke="rgb(145,145,145)" stroke-opacity="0.2" stroke-width="4.05" style="mix-blend-mode:screen"/><path d="M0.0,48.2C3.6,47.4 15.8,45.0 21.9,43.8C28.0,42.6 34.1,41.4 36.5,40.9" fill="none" stroke="rgb(145,145,145)" stroke-width="1.35" stroke-linecap="round" style="mix-blend-mode:screen"/><path d="M65.7,0.0C68.1,3.6 76.2,16.5 80.3,21.9C84.4,27.3 87.2,29.0 90.5,32.1C93.8,35.3 98.4,39.4 100.0,40.9" fill="none" stroke="rgb(181,181,181)" stroke-opacity="0.2" stroke-width="4.50" style="mix-blend-mode:screen"/><path d="M65.7,0.0C68.1,3.6 76.2,16.5 80.3,21.9C84.4,27.3 87.2,29.0 90.5,32.1C93.8,35.3 98.4,39.4 100.0,40.9" fill="none" stroke="rgb(181,181,181)" stroke-width="1.50" stroke-linecap="round" style="mix-blend-mode:screen"/><path d="M0.0,73.0C2.4,71.8 9.7,68.6 14.6,65.7C19.5,62.8 26.8,57.2 29.2,55.5" fill="none" stroke="rgb(169,169,169)" stroke-opacity="0.2" stroke-width="4.05" style="mix-blend-mode:screen"/><path d="M0.0,73.0C2.4,71.8 9.7,68.6 14.6,65.7C19.5,62.8 26.8,57.2 29.2,55.5" fill="none" stroke="rgb(169,169,169)" stroke-width="1.35" stroke-linecap="round" style="mix-blend-mode:screen"/><path d="M80.3,100.0C81.5,97.9 84.3,90.6 87.6,87.6C90.9,84.5 97.9,82.7 100.0,81.8" fill="none" stroke="rgb(169,169,169)" stroke-opacity="0.2" stroke-width="4.05" style="mix-blend-mode:screen"/><path d="M80.3,100.0C81.5,97.9 84.3,90.6 87.6,87.6C90.9,84.5 97.9,82.7 100.0,81.8" fill="none" stroke="rgb(169,169,169)" stroke-width="1.35" stroke-linecap="round" style="mix-blend-mode:screen"/><path d="M0.0,2.9C2.4,3.4 10.2,4.9 14.6,5.8C19.0,6.8 24.3,8.3 26.3,8.8" fill="none" stroke="rgb(145,145,145)" stroke-opacity="0.2" stroke-width="3.60" style="mix-blend-mode:screen"/><path d="M0.0,2.9C2.4,3.4 10.2,4.9 14.6,5.8C19.0,6.8 24.3,8.3 26.3,8.8" fill="none" stroke="rgb(145,145,145)" stroke-width="1.20" stroke-linecap="round" style="mix-blend-mode:screen"/><path d="M43.8,100.0C44.3,97.0 46.7,87.5 46.7,81.8C46.7,76.0 44.3,68.4 43.8,65.7" fill="none" stroke="rgb(157,157,157)" stroke-opacity="0.2" stroke-width="4.50" style="mix-blend-mode:screen"/><path d="M43.8,100.0C44.3,97.0 46.7,87.5 46.7,81.8C46.7,76.0 44.3,68.4 43.8,65.7" fill="none" stroke="rgb(157,157,157)" stroke-width="1.50" stroke-linecap="round" style="mix-blend-mode:screen"/><path d="M100.0,87.6C97.9,85.2 90.6,77.9 87.6,73.0C84.5,68.1 81.8,62.5 81.8,58.4C81.8,54.3 86.6,49.9 87.6,48.2" fill="none" stroke="rgb(121,121,121)" stroke-opacity="0.2" stroke-width="4.05" style="mix-blend-mode:screen"/><path d="M100.0,87.6C97.9,85.2 90.6,77.9 87.6,73.0C84.5,68.1 81.8,62.5 81.8,58.4C81.8,54.3 86.6,49.9 87.6,48.2" fill="none" stroke="rgb(121,121,121)" stroke-width="1.35" stroke-linecap="round" style="mix-blend-mode:screen"/><path d="M28.9,8.1C27.5,10.5 23.0,17.7 20.4,22.7C17.9,27.7 14.7,35.5 13.5,38.0" fill="none" stroke="rgb(111,111,111)" stroke-opacity="0.2" stroke-width="3.19" style="mix-blend-mode:screen"/><path d="M28.9,8.1C27.5,10.5 23.0,17.7 20.4,22.7C17.9,27.7 14.7,35.5 13.5,38.0" fill="none" stroke="rgb(111,111,111)" stroke-width="1.06" stroke-linecap="round" style="mix-blend-mode:screen"/><path d="M50.9,-5.5C53.1,-3.1 62.8,3.4 64.0,8.9C65.1,14.3 58.8,24.2 57.8,27.3" fill="none" stroke="rgb(149,149,149)" stroke-opacity="0.2" stroke-width="3.27" style="mix-blend-mode:screen"/><path d="M50.9,-5.5C53.1,-3.1 62.8,3.4 64.0,8.9C65.1,14.3 58.8,24.2 57.8,27.3" fill="none" stroke="rgb(149,149,149)" stroke-width="1.09" stroke-linecap="round" style="mix-blend-mode:screen"/><path d="M4.9,16.8C2.1,22.6 -6.9,39.8 -11.9,51.7C-17.0,63.6 -23.1,82.0 -25.3,88.1" fill="none" stroke="rgb(156,156,156)" stroke-opacity="0.2" stroke-width="3.24" style="mix-blend-mode:screen"/><path d="M4.9,16.8C2.1,22.6 -6.9,39.8 -11.9,51.7C-17.0,63.6 -23.1,82.0 -25.3,88.1" fill="none" stroke="rgb(156,156,156)" stroke-width="1.08" stroke-linecap="round" style="mix-blend-mode:screen"/><path d="M-4.4,93.0C-1.3,94.5 10.4,97.2 14.3,102.1C18.1,107.0 17.7,119.0 18.4,122.4" fill="none" stroke="rgb(148,148,148)" stroke-opacity="0.2" stroke-width="3.12" style="mix-blend-mode:screen"/><path d="M-4.4,93.0C-1.3,94.5 10.4,97.2 14.3,102.1C18.1,107.0 17.7,119.0 18.4,122.4" fill="none" stroke="rgb(148,148,148)" stroke-width="1.04" stroke-linecap="round" style="mix-blend-mode:screen"/><path d="M11.7,59.8C9.8,63.4 3.8,74.0 0.4,81.3C-3.1,88.7 -7.3,100.1 -8.9,103.9" fill="none" stroke="rgb(111,111,111)" stroke-opacity="0.2" stroke-width="2.78" style="mix-blend-mode:screen"/><path d="M11.7,59.8C9.8,63.4 3.8,74.0 0.4,81.3C-3.1,88.7 -7.3,100.1 -8.9,103.9" fill="none" stroke="rgb(111,111,111)" stroke-width="0.93" stroke-linecap="round" style="mix-blend-mode:screen"/><path d="M14.7,71.6C15.2,75.4 16.2,87.0 17.9,94.4C19.6,101.8 23.8,112.5 25.0,116.2" fill="none" stroke="rgb(123,123,123)" stroke-opacity="0.2" stroke-width="3.31" style="mix-blend-mode:screen"/><path d="M14.7,71.6C15.2,75.4 16.2,87.0 17.9,94.4C19.6,101.8 23.8,112.5 25.0,116.2" fill="none" stroke="rgb(123,123,123)" stroke-width="1.10" stroke-linecap="round" style="mix-blend-mode:screen"/><path d="M85.3,73.9C88.8,77.3 99.0,87.9 106.0,94.7C113.1,101.5 124.0,111.3 127.6,114.6" fill="none" stroke="rgb(144,144,144)" stroke-opacity="0.2" stroke-width="3.88" style="mix-blend-mode:screen"/><path d="M85.3,73.9C88.8,77.3 99.0,87.9 106.0,94.7C113.1,101.5 124.0,111.3 127.6,114.6" fill="none" stroke="rgb(144,144,144)" stroke-width="1.29" stroke-linecap="round" style="mix-blend-mode:screen"/><path d="M24.6,107.6C28.1,110.1 38.1,119.5 46.0,122.6C53.9,125.7 67.7,125.5 72.0,126.1" fill="none" stroke="rgb(132,132,132)" stroke-opacity="0.2" stroke-width="2.91" style="mix-blend-mode:screen"/><path d="M24.6,107.6C28.1,110.1 38.1,119.5 46.0,122.6C53.9,125.7 67.7,125.5 72.0,126.1" fill="none" stroke="rgb(132,132,132)" stroke-width="0.97" stroke-linecap="round" style="mix-blend-mode:screen"/><path d="M-5.3,70.2C-9.9,72.4 -25.8,76.7 -33.0,83.3C-40.3,89.9 -46.0,105.3 -48.6,109.7" fill="none" stroke="rgb(142,142,142)" stroke-opacity="0.2" stroke-width="3.12" style="mix-blend-mode:screen"/><path d="M-5.3,70.2C-9.9,72.4 -25.8,76.7 -33.0,83.3C-40.3,89.9 -46.0,105.3 -48.6,109.7" fill="none" stroke="rgb(142,142,142)" stroke-width="1.04" stroke-linecap="round" style="mix-blend-mode:screen"/><path d="M61.3,59.6C60.4,65.8 54.0,84.8 55.7,96.7C57.3,108.6 68.6,125.2 71.2,130.9" fill="none" stroke="rgb(141,141,141)" stroke-opacity="0.2" stroke-width="3.34" style="mix-blend-mode:screen"/><path d="M61.3,59.6C60.4,65.8 54.0,84.8 55.7,96.7C57.3,108.6 68.6,125.2 71.2,130.9" fill="none" stroke="rgb(141,141,141)" stroke-width="1.11" stroke-linecap="round" style="mix-blend-mode:screen"/><path d="M-2.7,74.2C-6.8,79.5 -21.5,94.5 -27.4,106.4C-33.3,118.3 -36.4,139.0 -38.2,145.5" fill="none" stroke="rgb(127,127,127)" stroke-opacity="0.2" stroke-width="3.08" style="mix-blend-mode:screen"/><path d="M-2.7,74.2C-6.8,79.5 -21.5,94.5 -27.4,106.4C-33.3,118.3 -36.4,139.0 -38.2,145.5" fill="none" stroke="rgb(127,127,127)" stroke-width="1.03" stroke-linecap="round" style="mix-blend-mode:screen"/><path d="M70.2,-7.3C72.1,-4.3 80.9,4.3 81.7,10.7C82.4,17.0 76.0,27.5 74.8,30.8" fill="none" stroke="rgb(146,146,146)" stroke-opacity="0.2" stroke-width="2.78" style="mix-blend-mode:screen"/><path d="M70.2,-7.3C72.1,-4.3 80.9,4.3 81.7,10.7C82.4,17.0 76.0,27.5 74.8,30.8" fill="none" stroke="rgb(146,146,146)" stroke-width="0.93" stroke-linecap="round" style="mix-blend-mode:screen"/><path d="M5.5,19.7C9.2,24.9 23.2,39.4 27.4,51.0C31.5,62.5 29.8,82.7 30.2,89.0" fill="none" stroke="rgb(135,135,135)" stroke-opacity="0.2" stroke-width="3.31" style="mix-blend-mode:screen"/><path d="M5.5,19.7C9.2,24.9 23.2,39.4 27.4,51.0C31.5,62.5 29.8,82.7 30.2,89.0" fill="none" stroke="rgb(135,135,135)" stroke-width="1.10" stroke-linecap="round" style="mix-blend-mode:screen"/><path d="M96.0,88.3C92.8,90.1 83.5,96.2 76.9,99.3C70.2,102.3 59.5,105.3 56.0,106.5" fill="none" stroke="rgb(151,151,151)" stroke-opacity="0.2" stroke-width="3.18" style="mix-blend-mode:screen"/><path d="M96.0,88.3C92.8,90.1 83.5,96.2 76.9,99.3C70.2,102.3 59.5,105.3 56.0,106.5" fill="none" stroke="rgb(151,151,151)" stroke-width="1.06" stroke-linecap="round" style="mix-blend-mode:screen"/><path d="M104.9,8.1C108.4,9.0 120.1,10.0 126.0,13.6C131.9,17.2 137.9,27.3 140.3,30.0" fill="none" stroke="rgb(137,137,137)" stroke-opacity="0.2" stroke-width="3.35" style="mix-blend-mode:screen"/><path d="M104.9,8.1C108.4,9.0 120.1,10.0 126.0,13.6C131.9,17.2 137.9,27.3 140.3,30.0" fill="none" stroke="rgb(137,137,137)" stroke-width="1.12" stroke-linecap="round" style="mix-blend-mode:screen"/><path d="M21.5,-9.5C22.3,-5.5 24.1,6.5 26.1,14.3C28.1,22.2 32.5,33.5 33.7,37.4" fill="none" stroke="rgb(142,142,142)" stroke-opacity="0.2" stroke-width="3.99" style="mix-blend-mode:screen"/><path d="M21.5,-9.5C22.3,-5.5 24.1,6.5 26.1,14.3C28.1,22.2 32.5,33.5 33.7,37.4" fill="none" stroke="rgb(142,142,142)" stroke-width="1.33" stroke-linecap="round" style="mix-blend-mode:screen"/><path d="M51.9,64.1C48.3,66.1 34.2,69.9 30.4,76.0C26.7,82.0 29.6,96.4 29.4,100.4" fill="none" stroke="rgb(211,211,211)" stroke-opacity="0.2" stroke-width="4.10" style="mix-blend-mode:screen"/><path d="M51.9,64.1C48.3,66.1 34.2,69.9 30.4,76.0C26.7,82.0 29.6,96.4 29.4,100.4" fill="none" stroke="rgb(211,211,211)" stroke-width="1.37" stroke-linecap="round" style="mix-blend-mode:screen"/><path d="M85.7,37.1C86.3,40.9 86.6,52.6 89.0,59.8C91.3,67.0 98.0,76.6 99.8,80.0" fill="none" stroke="rgb(172,172,172)" stroke-opacity="0.2" stroke-width="2.81" style="mix-blend-mode:screen"/><path d="M85.7,37.1C86.3,40.9 86.6,52.6 89.0,59.8C91.3,67.0 98.0,76.6 99.8,80.0" fill="none" stroke="rgb(172,172,172)" stroke-width="0.94" stroke-linecap="round" style="mix-blend-mode:screen"/><path d="M15.1,9.5C19.0,11.4 35.0,14.7 38.5,20.9C41.9,27.2 36.1,42.5 35.6,46.8" fill="none" stroke="rgb(174,174,174)" stroke-opacity="0.2" stroke-width="2.97" style="mix-blend-mode:screen"/><path d="M15.1,9.5C19.0,11.4 35.0,14.7 38.5,20.9C41.9,27.2 36.1,42.5 35.6,46.8" fill="none" stroke="rgb(174,174,174)" stroke-width="0.99" stroke-linecap="round" style="mix-blend-mode:screen"/><path d="M33.6,-6.9C28.9,-3.1 15.9,11.9 5.1,16.4C-5.8,20.9 -25.5,19.6 -31.6,20.3" fill="none" stroke="rgb(186,186,186)" stroke-opacity="0.2" stroke-width="3.15" style="mix-blend-mode:screen"/><path d="M33.6,-6.9C28.9,-3.1 15.9,11.9 5.1,16.4C-5.8,20.9 -25.5,19.6 -31.6,20.3" fill="none" stroke="rgb(186,186,186)" stroke-width="1.05" stroke-linecap="round" style="mix-blend-mode:screen"/><path d="M33.7,4.7C27.1,8.3 7.6,19.3 -5.7,26.1C-19.0,33.0 -39.3,42.4 -46.0,45.7" fill="none" stroke="rgb(173,173,173)" stroke-opacity="0.2" stroke-width="3.57" style="mix-blend-mode:screen"/><path d="M33.7,4.7C27.1,8.3 7.6,19.3 -5.7,26.1C-19.0,33.0 -39.3,42.4 -46.0,45.7" fill="none" stroke="rgb(173,173,173)" stroke-width="1.19" stroke-linecap="round" style="mix-blend-mode:screen"/><path d="M2.3,31.1C8.1,35.0 28.1,44.3 37.2,54.4C46.3,64.4 53.8,85.2 57.1,91.3" fill="none" stroke="rgb(215,215,215)" stroke-opacity="0.2" stroke-width="2.74" style="mix-blend-mode:screen"/><path d="M2.3,31.1C8.1,35.0 28.1,44.3 37.2,54.4C46.3,64.4 53.8,85.2 57.1,91.3" fill="none" stroke="rgb(215,215,215)" stroke-width="0.91" stroke-linecap="round" style="mix-blend-mode:screen"/><path d="M53.4,7.6C52.8,11.0 50.7,21.1 49.8,28.0C48.8,34.8 48.1,45.1 47.8,48.6" fill="none" stroke="rgb(211,211,211)" stroke-opacity="0.2" stroke-width="4.46" style="mix-blend-mode:screen"/><path d="M53.4,7.6C52.8,11.0 50.7,21.1 49.8,28.0C48.8,34.8 48.1,45.1 47.8,48.6" fill="none" stroke="rgb(211,211,211)" stroke-width="1.49" stroke-linecap="round" style="mix-blend-mode:screen"/><path d="M73.5,21.3C73.9,25.6 72.6,39.4 75.9,46.7C79.2,54.1 90.3,62.4 93.2,65.5" fill="none" stroke="rgb(207,207,207)" stroke-opacity="0.2" stroke-width="3.66" style="mix-blend-mode:screen"/><path d="M73.5,21.3C73.9,25.6 72.6,39.4 75.9,46.7C79.2,54.1 90.3,62.4 93.2,65.5" fill="none" stroke="rgb(207,207,207)" stroke-width="1.22" stroke-linecap="round" style="mix-blend-mode:screen"/><path d="M29.6,16.8C22.4,19.5 -1.0,24.6 -13.4,32.9C-25.7,41.2 -39.3,61.0 -44.5,66.6" fill="none" stroke="rgb(209,209,209)" stroke-opacity="0.2" stroke-width="4.15" style="mix-blend-mode:screen"/><path d="M29.6,16.8C22.4,19.5 -1.0,24.6 -13.4,32.9C-25.7,41.2 -39.3,61.0 -44.5,66.6" fill="none" stroke="rgb(209,209,209)" stroke-width="1.38" stroke-linecap="round" style="mix-blend-mode:screen"/><path d="M78.8,17.2C80.9,22.1 91.8,37.2 91.3,46.8C90.8,56.5 78.2,70.2 75.6,74.9" fill="none" stroke="rgb(183,183,183)" stroke-opacity="0.2" stroke-width="2.75" style="mix-blend-mode:screen"/><path d="M78.8,17.2C80.9,22.1 91.8,37.2 91.3,46.8C90.8,56.5 78.2,70.2 75.6,74.9" fill="none" stroke="rgb(183,183,183)" stroke-width="0.92" stroke-linecap="round" style="mix-blend-mode:screen"/><path d="M21.1,73.1C15.7,71.6 -1.3,62.9 -11.6,64.4C-21.9,65.8 -35.8,78.7 -40.7,81.6" fill="none" stroke="rgb(215,215,215)" stroke-opacity="0.2" stroke-width="4.48" style="mix-blend-mode:screen"/><path d="M21.1,73.1C15.7,71.6 -1.3,62.9 -11.6,64.4C-21.9,65.8 -35.8,78.7 -40.7,81.6" fill="none" stroke="rgb(215,215,215)" stroke-width="1.49" stroke-linecap="round" style="mix-blend-mode:screen"/><path d="M33.8,16.5C37.9,18.1 52.1,20.6 58.4,26.0C64.7,31.5 69.3,45.2 71.5,49.0" fill="none" stroke="rgb(213,213,213)" stroke-opacity="0.2" stroke-width="3.82" style="mix-blend-mode:screen"/><path d="M33.8,16.5C37.9,18.1 52.1,20.6 58.4,26.0C64.7,31.5 69.3,45.2 71.5,49.0" fill="none" stroke="rgb(213,213,213)" stroke-width="1.27" stroke-linecap="round" style="mix-blend-mode:screen"/><path d="M90.9,47.5C89.6,54.4 89.6,76.9 83.4,88.8C77.2,100.6 58.8,113.5 53.9,118.5" fill="none" stroke="rgb(213,213,213)" stroke-opacity="0.2" stroke-width="3.89" style="mix-blend-mode:screen"/><path d="M90.9,47.5C89.6,54.4 89.6,76.9 83.4,88.8C77.2,100.6 58.8,113.5 53.9,118.5" fill="none" stroke="rgb(213,213,213)" stroke-width="1.30" stroke-linecap="round" style="mix-blend-mode:screen"/><path d="M83.9,80.0C82.7,84.2 76.3,96.9 76.9,105.0C77.5,113.2 85.5,124.9 87.3,128.8" fill="none" stroke="rgb(208,208,208)" stroke-opacity="0.2" stroke-width="3.30" style="mix-blend-mode:screen"/><path d="M83.9,80.0C82.7,84.2 76.3,96.9 76.9,105.0C77.5,113.2 85.5,124.9 87.3,128.8" fill="none" stroke="rgb(208,208,208)" stroke-width="1.10" stroke-linecap="round" style="mix-blend-mode:screen"/></g></svg>
<rect x="556" y="283" width="13" height="272.6" fill="url(#jetv)"/>
<defs><linearGradient id="parv" x1="0" y1="0" x2="0" y2="1"><stop offset="0.00" stop-color="#3e3dbd"/><stop offset="0.18" stop-color="#2f7ef0"/><stop offset="0.38" stop-color="#1aaed0"/><stop offset="0.52" stop-color="#2ab7a8"/><stop offset="0.64" stop-color="#7bbf6a"/><stop offset="0.76" stop-color="#c6b83e"/><stop offset="0.90" stop-color="#e8ca2c"/><stop offset="1.00" stop-color="#f6e61e"/></linearGradient></defs>
<rect x="663" y="283" width="12.6" height="272.6" fill="url(#parv)"/>
<text font-size="9.5" fill="#fff" text-anchor="end" transform="translate(566,284.3) rotate(-90)">0.05</text>
<text font-size="9.5" fill="#fff" text-anchor="start" transform="translate(566,554.5) rotate(-90)">0.00</text>
<text font-size="9.5" fill="#fff" text-anchor="end" transform="translate(672.5,284) rotate(-90)">1.0</text>
<text font-size="9.5" fill="#111" text-anchor="start" transform="translate(672.5,554.5) rotate(-90)">0.0</text>
<rect x="77.5" y="367.4" width="14" height="2" fill="#fff"/>
<rect x="538.5" y="367.4" width="14" height="2" fill="#fff"/>
<rect x="645.5" y="367.4" width="14" height="2" fill="#fff"/>
<rect x="77.5" y="459.9" width="14" height="2" fill="#fff"/>
<rect x="538.5" y="459.9" width="14" height="2" fill="#fff"/>
<rect x="645.5" y="459.9" width="14" height="2" fill="#fff"/>
<rect x="77.5" y="552.0" width="14" height="2" fill="#fff"/>
<rect x="538.5" y="552.0" width="14" height="2" fill="#fff"/>
<rect x="645.5" y="552.0" width="14" height="2" fill="#fff"/>
<line x1="4" y1="323.8" x2="49" y2="283" stroke="#fff" stroke-width="1.2" stroke-dasharray="5,3.4"/>
<text font-size="11.3" fill="#fff" text-anchor="middle" transform="translate(16.8,309.8) rotate(-42)">Raw</text>
<line x1="4" y1="415.8" x2="49" y2="375" stroke="#fff" stroke-width="1.2" stroke-dasharray="5,3.4"/>
<text font-size="11.3" fill="#fff" text-anchor="middle" transform="translate(16.8,401.8) rotate(-42)">Raw</text>
<line x1="4" y1="507.8" x2="49" y2="467" stroke="#fff" stroke-width="1.2" stroke-dasharray="5,3.4"/>
<text font-size="11.3" fill="#fff" text-anchor="middle" transform="translate(16.8,493.8) rotate(-42)">Raw</text>
<line x1="133.4" y1="310.8" x2="140.2" y2="314.7" stroke="#fff" stroke-width="1.6"/>
<polygon points="129.8,308.7 132.8,313.5 135.4,309.0" fill="#fff" stroke="none" stroke-width="0" stroke-linejoin="round" />
<line x1="225.4" y1="310.8" x2="232.2" y2="314.7" stroke="#fff" stroke-width="1.6"/>
<polygon points="221.8,308.7 224.8,313.5 227.4,309.0" fill="#fff" stroke="none" stroke-width="0" stroke-linejoin="round" />
<line x1="317.4" y1="310.8" x2="324.2" y2="314.7" stroke="#fff" stroke-width="1.6"/>
<polygon points="313.8,308.7 316.8,313.5 319.4,309.0" fill="#fff" stroke="none" stroke-width="0" stroke-linejoin="round" />
<line x1="410.4" y1="310.8" x2="417.2" y2="314.7" stroke="#fff" stroke-width="1.6"/>
<polygon points="406.8,308.7 409.8,313.5 412.4,309.0" fill="#fff" stroke="none" stroke-width="0" stroke-linejoin="round" />
<line x1="149.4" y1="439.9" x2="156.5" y2="444.1" stroke="#fff" stroke-width="1.6"/>
<polygon points="145.8,437.7 148.7,442.5 151.4,438.0" fill="#fff" stroke="none" stroke-width="0" stroke-linejoin="round" />
<line x1="241.4" y1="439.9" x2="248.5" y2="444.1" stroke="#fff" stroke-width="1.6"/>
<polygon points="237.8,437.7 240.7,442.5 243.4,438.0" fill="#fff" stroke="none" stroke-width="0" stroke-linejoin="round" />
<line x1="333.4" y1="439.9" x2="340.5" y2="444.1" stroke="#fff" stroke-width="1.6"/>
<polygon points="329.8,437.7 332.7,442.5 335.4,438.0" fill="#fff" stroke="none" stroke-width="0" stroke-linejoin="round" />
<line x1="426.4" y1="439.9" x2="433.5" y2="444.1" stroke="#fff" stroke-width="1.6"/>
<polygon points="422.8,437.7 425.7,442.5 428.4,438.0" fill="#fff" stroke="none" stroke-width="0" stroke-linejoin="round" />
<line x1="132.8" y1="491.3" x2="138.8" y2="488.1" stroke="#fff" stroke-width="1.6"/>
<polygon points="129.1,493.3 134.7,493.2 132.3,488.7" fill="#fff" stroke="none" stroke-width="0" stroke-linejoin="round" />
<line x1="224.8" y1="491.3" x2="230.8" y2="488.1" stroke="#fff" stroke-width="1.6"/>
<polygon points="221.1,493.3 226.7,493.2 224.3,488.7" fill="#fff" stroke="none" stroke-width="0" stroke-linejoin="round" />
<line x1="316.8" y1="491.3" x2="322.8" y2="488.1" stroke="#fff" stroke-width="1.6"/>
<polygon points="313.1,493.3 318.7,493.2 316.3,488.7" fill="#fff" stroke="none" stroke-width="0" stroke-linejoin="round" />
<line x1="409.8" y1="491.3" x2="415.8" y2="488.1" stroke="#fff" stroke-width="1.6"/>
<polygon points="406.1,493.3 411.7,493.2 409.3,488.7" fill="#fff" stroke="none" stroke-width="0" stroke-linejoin="round" />
<polygon points="228.7,513.0 224.0,508.3 230.6,506.6" fill="#2bb5d8" stroke="none" stroke-width="0" stroke-linejoin="round" />
<polygon points="233.1,537.9 237.4,542.9 230.8,544.1" fill="#2bb5d8" stroke="none" stroke-width="0" stroke-linejoin="round" />
<polygon points="320.7,513.0 316.0,508.3 322.6,506.6" fill="#3aab98" stroke="none" stroke-width="0" stroke-linejoin="round" />
<polygon points="325.1,537.9 329.4,542.9 322.8,544.1" fill="#3aab98" stroke="none" stroke-width="0" stroke-linejoin="round" />
<polygon points="413.7,513.0 409.0,508.3 415.6,506.6" fill="#e2449b" stroke="none" stroke-width="0" stroke-linejoin="round" />
<polygon points="418.1,537.9 422.4,542.9 415.8,544.1" fill="#e2449b" stroke="none" stroke-width="0" stroke-linejoin="round" />
<polygon points="136.7,513.0 132.0,508.3 138.6,506.6" fill="#1a0000" stroke="none" stroke-width="0" stroke-linejoin="round" />
<polygon points="141.1,537.9 145.4,542.9 138.8,544.1" fill="#1a0000" stroke="none" stroke-width="0" stroke-linejoin="round" />
<polygon points="505.5,512.0 501.4,507.8 507.2,506.4" fill="#e8e8f0" stroke="none" stroke-width="0" stroke-linejoin="round" />
<polygon points="510.4,539.0 514.2,543.5 508.3,544.5" fill="#e8e8f0" stroke="none" stroke-width="0" stroke-linejoin="round" />
<text x="0" y="570.5" font-size="11" text-anchor="start" fill="#111" font-weight="bold" >f</text>
<line x1="40.4" y1="702" x2="119.8" y2="588.2" stroke="#000" stroke-width="1.1" stroke-dasharray="1.7,1.2"/>
<circle cx="42.0" cy="699.9" r="1.7" fill="#f0f" stroke="#222" stroke-width="0.5"/>
<circle cx="43.9" cy="697.4" r="1.7" fill="#f0f" stroke="#222" stroke-width="0.5"/>
<circle cx="45.8" cy="694.9" r="1.7" fill="#f0f" stroke="#222" stroke-width="0.5"/>
<circle cx="47.7" cy="692.4" r="1.7" fill="#f0f" stroke="#222" stroke-width="0.5"/>
<circle cx="49.6" cy="689.9" r="1.7" fill="#f0f" stroke="#222" stroke-width="0.5"/>
<circle cx="51.5" cy="687.4" r="1.7" fill="#f0f" stroke="#222" stroke-width="0.5"/>
<circle cx="53.4" cy="684.9" r="1.7" fill="#f0f" stroke="#222" stroke-width="0.5"/>
<circle cx="55.3" cy="682.2" r="1.7" fill="#f0f" stroke="#222" stroke-width="0.5"/>
<circle cx="57.2" cy="679.4" r="1.7" fill="#f0f" stroke="#222" stroke-width="0.5"/>
<circle cx="59.1" cy="676.6" r="1.7" fill="#f0f" stroke="#222" stroke-width="0.5"/>
<circle cx="61.0" cy="673.8" r="1.7" fill="#f0f" stroke="#222" stroke-width="0.5"/>
<circle cx="62.9" cy="671.0" r="1.7" fill="#f0f" stroke="#222" stroke-width="0.5"/>
<circle cx="64.8" cy="668.2" r="1.7" fill="#f0f" stroke="#222" stroke-width="0.5"/>
<circle cx="66.7" cy="665.4" r="1.7" fill="#f0f" stroke="#222" stroke-width="0.5"/>
<circle cx="68.6" cy="662.5" r="1.7" fill="#f0f" stroke="#222" stroke-width="0.5"/>
<circle cx="70.5" cy="659.7" r="1.7" fill="#f0f" stroke="#222" stroke-width="0.5"/>
<circle cx="72.4" cy="656.9" r="1.7" fill="#f0f" stroke="#222" stroke-width="0.5"/>
<circle cx="74.3" cy="653.8" r="1.7" fill="#f0f" stroke="#222" stroke-width="0.5"/>
<circle cx="76.1" cy="650.4" r="1.7" fill="#f0f" stroke="#222" stroke-width="0.5"/>
<circle cx="78.0" cy="646.6" r="1.7" fill="#f0f" stroke="#222" stroke-width="0.5"/>
<circle cx="79.9" cy="642.0" r="1.7" fill="#f0f" stroke="#222" stroke-width="0.5"/>
<circle cx="81.8" cy="636.9" r="1.7" fill="#f0f" stroke="#222" stroke-width="0.5"/>
<circle cx="83.7" cy="633.9" r="1.7" fill="#f0f" stroke="#222" stroke-width="0.5"/>
<circle cx="85.6" cy="630.8" r="1.7" fill="#f0f" stroke="#222" stroke-width="0.5"/>
<circle cx="87.5" cy="628.3" r="1.7" fill="#f0f" stroke="#222" stroke-width="0.5"/>
<circle cx="89.4" cy="625.8" r="1.7" fill="#f0f" stroke="#222" stroke-width="0.5"/>
<circle cx="91.3" cy="623.4" r="1.7" fill="#f0f" stroke="#222" stroke-width="0.5"/>
<circle cx="93.2" cy="620.9" r="1.7" fill="#f0f" stroke="#222" stroke-width="0.5"/>
<circle cx="95.1" cy="618.5" r="1.7" fill="#f0f" stroke="#222" stroke-width="0.5"/>
<circle cx="97.0" cy="616.1" r="1.7" fill="#f0f" stroke="#222" stroke-width="0.5"/>
<circle cx="98.9" cy="613.7" r="1.7" fill="#f0f" stroke="#222" stroke-width="0.5"/>
<circle cx="100.8" cy="611.4" r="1.7" fill="#f0f" stroke="#222" stroke-width="0.5"/>
<circle cx="102.7" cy="609.0" r="1.7" fill="#f0f" stroke="#222" stroke-width="0.5"/>
<circle cx="104.6" cy="606.5" r="1.7" fill="#f0f" stroke="#222" stroke-width="0.5"/>
<circle cx="106.5" cy="604.0" r="1.7" fill="#f0f" stroke="#222" stroke-width="0.5"/>
<circle cx="108.4" cy="601.4" r="1.7" fill="#f0f" stroke="#222" stroke-width="0.5"/>
<circle cx="110.3" cy="598.9" r="1.7" fill="#f0f" stroke="#222" stroke-width="0.5"/>
<circle cx="112.2" cy="596.4" r="1.7" fill="#f0f" stroke="#222" stroke-width="0.5"/>
<circle cx="114.1" cy="593.9" r="1.7" fill="#f0f" stroke="#222" stroke-width="0.5"/>
<circle cx="116.0" cy="591.8" r="1.7" fill="#f0f" stroke="#222" stroke-width="0.5"/>
<circle cx="117.9" cy="589.9" r="1.7" fill="#f0f" stroke="#222" stroke-width="0.5"/>
<circle cx="119.8" cy="588.2" r="1.7" fill="#f0f" stroke="#222" stroke-width="0.5"/>
<polyline points="40.4,588.2 40.4,702 119.8,702" fill="none" stroke="#111" stroke-width="2"/>
<line x1="37.9" y1="702.0" x2="40.4" y2="702.0" stroke="#111" stroke-width="1" />
<text x="37.6" y="705.6" font-size="10" text-anchor="end" fill="#111" stroke="#111" stroke-width="0.22" >0</text>
<line x1="37.9" y1="679.24" x2="40.4" y2="679.24" stroke="#111" stroke-width="1" />
<text x="37.6" y="682.84" font-size="10" text-anchor="end" fill="#111" stroke="#111" stroke-width="0.22" >0.2</text>
<line x1="37.9" y1="656.48" x2="40.4" y2="656.48" stroke="#111" stroke-width="1" />
<text x="37.6" y="660.08" font-size="10" text-anchor="end" fill="#111" stroke="#111" stroke-width="0.22" >0.4</text>
<line x1="37.9" y1="633.72" x2="40.4" y2="633.72" stroke="#111" stroke-width="1" />
<text x="37.6" y="637.32" font-size="10" text-anchor="end" fill="#111" stroke="#111" stroke-width="0.22" >0.6</text>
<line x1="37.9" y1="610.96" x2="40.4" y2="610.96" stroke="#111" stroke-width="1" />
<text x="37.6" y="614.5600000000001" font-size="10" text-anchor="end" fill="#111" stroke="#111" stroke-width="0.22" >0.8</text>
<line x1="37.9" y1="588.2" x2="40.4" y2="588.2" stroke="#111" stroke-width="1" />
<text x="37.6" y="591.8000000000001" font-size="10" text-anchor="end" fill="#111" stroke="#111" stroke-width="0.22" >1.0</text>
<line x1="40.4" y1="702" x2="40.4" y2="704.5" stroke="#111" stroke-width="1" />
<text x="40.4" y="712.8" font-size="10" text-anchor="middle" fill="#111" stroke="#111" stroke-width="0.22" >0</text>
<line x1="80.1" y1="702" x2="80.1" y2="704.5" stroke="#111" stroke-width="1" />
<text x="80.1" y="712.8" font-size="10" text-anchor="middle" fill="#111" stroke="#111" stroke-width="0.22" >0.5</text>
<line x1="119.80000000000001" y1="702" x2="119.80000000000001" y2="704.5" stroke="#111" stroke-width="1" />
<text x="119.80000000000001" y="712.8" font-size="10" text-anchor="middle" fill="#111" stroke="#111" stroke-width="0.22" >1.0</text>
<text x="80.1" y="725.8" font-size="10" text-anchor="middle" fill="#111" stroke="#111" stroke-width="0.22" >Probability</text>
<text x="80.1" y="588.2" font-size="10" text-anchor="middle" fill="#111" stroke="#111" stroke-width="0.22" >CCPs</text>
<text x="91.6" y="681" font-size="10" text-anchor="middle" fill="#111" stroke="#111" stroke-width="0.22" >Calib. error</text>
<text x="91.6" y="692.6" font-size="10" text-anchor="middle" fill="#111" stroke="#111" stroke-width="0.22" >=0.0263</text>
<line x1="148.7" y1="702" x2="227.4" y2="588.2" stroke="#000" stroke-width="1.1" stroke-dasharray="1.7,1.2"/>
<circle cx="150.3" cy="699.6" r="1.7" fill="#f0f" stroke="#222" stroke-width="0.5"/>
<circle cx="152.2" cy="696.8" r="1.7" fill="#f0f" stroke="#222" stroke-width="0.5"/>
<circle cx="154.0" cy="694.0" r="1.7" fill="#f0f" stroke="#222" stroke-width="0.5"/>
<circle cx="155.9" cy="691.2" r="1.7" fill="#f0f" stroke="#222" stroke-width="0.5"/>
<circle cx="157.8" cy="688.3" r="1.7" fill="#f0f" stroke="#222" stroke-width="0.5"/>
<circle cx="159.7" cy="685.5" r="1.7" fill="#f0f" stroke="#222" stroke-width="0.5"/>
<circle cx="161.6" cy="682.6" r="1.7" fill="#f0f" stroke="#222" stroke-width="0.5"/>
<circle cx="163.4" cy="679.6" r="1.7" fill="#f0f" stroke="#222" stroke-width="0.5"/>
<circle cx="165.3" cy="676.6" r="1.7" fill="#f0f" stroke="#222" stroke-width="0.5"/>
<circle cx="167.2" cy="673.6" r="1.7" fill="#f0f" stroke="#222" stroke-width="0.5"/>
<circle cx="169.1" cy="670.6" r="1.7" fill="#f0f" stroke="#222" stroke-width="0.5"/>
<circle cx="171.0" cy="667.5" r="1.7" fill="#f0f" stroke="#222" stroke-width="0.5"/>
<circle cx="172.8" cy="664.4" r="1.7" fill="#f0f" stroke="#222" stroke-width="0.5"/>
<circle cx="174.7" cy="661.3" r="1.7" fill="#f0f" stroke="#222" stroke-width="0.5"/>
<circle cx="176.6" cy="658.1" r="1.7" fill="#f0f" stroke="#222" stroke-width="0.5"/>
<circle cx="178.5" cy="655.0" r="1.7" fill="#f0f" stroke="#222" stroke-width="0.5"/>
<circle cx="180.4" cy="651.9" r="1.7" fill="#f0f" stroke="#222" stroke-width="0.5"/>
<circle cx="182.3" cy="648.8" r="1.7" fill="#f0f" stroke="#222" stroke-width="0.5"/>
<circle cx="184.1" cy="645.8" r="1.7" fill="#f0f" stroke="#222" stroke-width="0.5"/>
<circle cx="186.0" cy="642.8" r="1.7" fill="#f0f" stroke="#222" stroke-width="0.5"/>
<circle cx="187.9" cy="639.8" r="1.7" fill="#f0f" stroke="#222" stroke-width="0.5"/>
<circle cx="189.8" cy="637.0" r="1.7" fill="#f0f" stroke="#222" stroke-width="0.5"/>
<circle cx="191.7" cy="634.2" r="1.7" fill="#f0f" stroke="#222" stroke-width="0.5"/>
<circle cx="193.5" cy="631.5" r="1.7" fill="#f0f" stroke="#222" stroke-width="0.5"/>
<circle cx="195.4" cy="628.9" r="1.7" fill="#f0f" stroke="#222" stroke-width="0.5"/>
<circle cx="197.3" cy="626.4" r="1.7" fill="#f0f" stroke="#222" stroke-width="0.5"/>
<circle cx="199.2" cy="623.9" r="1.7" fill="#f0f" stroke="#222" stroke-width="0.5"/>
<circle cx="201.1" cy="621.5" r="1.7" fill="#f0f" stroke="#222" stroke-width="0.5"/>
<circle cx="202.9" cy="619.1" r="1.7" fill="#f0f" stroke="#222" stroke-width="0.5"/>
<circle cx="204.8" cy="616.8" r="1.7" fill="#f0f" stroke="#222" stroke-width="0.5"/>
<circle cx="206.7" cy="614.5" r="1.7" fill="#f0f" stroke="#222" stroke-width="0.5"/>
<circle cx="208.6" cy="612.2" r="1.7" fill="#f0f" stroke="#222" stroke-width="0.5"/>
<circle cx="210.5" cy="609.9" r="1.7" fill="#f0f" stroke="#222" stroke-width="0.5"/>
<circle cx="212.4" cy="607.5" r="1.7" fill="#f0f" stroke="#222" stroke-width="0.5"/>
<circle cx="214.2" cy="605.2" r="1.7" fill="#f0f" stroke="#222" stroke-width="0.5"/>
<circle cx="216.1" cy="602.8" r="1.7" fill="#f0f" stroke="#222" stroke-width="0.5"/>
<circle cx="218.0" cy="600.4" r="1.7" fill="#f0f" stroke="#222" stroke-width="0.5"/>
<circle cx="219.9" cy="597.9" r="1.7" fill="#f0f" stroke="#222" stroke-width="0.5"/>
<circle cx="221.8" cy="595.4" r="1.7" fill="#f0f" stroke="#222" stroke-width="0.5"/>
<circle cx="223.6" cy="592.9" r="1.7" fill="#f0f" stroke="#222" stroke-width="0.5"/>
<circle cx="225.5" cy="590.4" r="1.7" fill="#f0f" stroke="#222" stroke-width="0.5"/>
<circle cx="227.4" cy="588.2" r="1.7" fill="#f0f" stroke="#222" stroke-width="0.5"/>
<polyline points="148.7,588.2 148.7,702 227.4,702" fill="none" stroke="#111" stroke-width="2"/>
<line x1="146.2" y1="702.0" x2="148.7" y2="702.0" stroke="#111" stroke-width="1" />
<text x="145.89999999999998" y="705.6" font-size="10" text-anchor="end" fill="#111" stroke="#111" stroke-width="0.22" >0</text>
<line x1="146.2" y1="679.24" x2="148.7" y2="679.24" stroke="#111" stroke-width="1" />
<text x="145.89999999999998" y="682.84" font-size="10" text-anchor="end" fill="#111" stroke="#111" stroke-width="0.22" >0.2</text>
<line x1="146.2" y1="656.48" x2="148.7" y2="656.48" stroke="#111" stroke-width="1" />
<text x="145.89999999999998" y="660.08" font-size="10" text-anchor="end" fill="#111" stroke="#111" stroke-width="0.22" >0.4</text>
<line x1="146.2" y1="633.72" x2="148.7" y2="633.72" stroke="#111" stroke-width="1" />
<text x="145.89999999999998" y="637.32" font-size="10" text-anchor="end" fill="#111" stroke="#111" stroke-width="0.22" >0.6</text>
<line x1="146.2" y1="610.96" x2="148.7" y2="610.96" stroke="#111" stroke-width="1" />
<text x="145.89999999999998" y="614.5600000000001" font-size="10" text-anchor="end" fill="#111" stroke="#111" stroke-width="0.22" >0.8</text>
<line x1="146.2" y1="588.2" x2="148.7" y2="588.2" stroke="#111" stroke-width="1" />
<text x="145.89999999999998" y="591.8000000000001" font-size="10" text-anchor="end" fill="#111" stroke="#111" stroke-width="0.22" >1.0</text>
<line x1="148.7" y1="702" x2="148.7" y2="704.5" stroke="#111" stroke-width="1" />
<text x="148.7" y="712.8" font-size="10" text-anchor="middle" fill="#111" stroke="#111" stroke-width="0.22" >0</text>
<line x1="188.05" y1="702" x2="188.05" y2="704.5" stroke="#111" stroke-width="1" />
<text x="188.05" y="712.8" font-size="10" text-anchor="middle" fill="#111" stroke="#111" stroke-width="0.22" >0.5</text>
<line x1="227.4" y1="702" x2="227.4" y2="704.5" stroke="#111" stroke-width="1" />
<text x="227.4" y="712.8" font-size="10" text-anchor="middle" fill="#111" stroke="#111" stroke-width="0.22" >1.0</text>
<text x="188.05" y="725.8" font-size="10" text-anchor="middle" fill="#111" stroke="#111" stroke-width="0.22" >Probability</text>
<text x="188.05" y="588.2" font-size="10" text-anchor="middle" fill="#111" stroke="#111" stroke-width="0.22" >MTs</text>
<text x="199.89999999999998" y="681" font-size="10" text-anchor="middle" fill="#111" stroke="#111" stroke-width="0.22" >Calib. error</text>
<text x="199.89999999999998" y="692.6" font-size="10" text-anchor="middle" fill="#111" stroke="#111" stroke-width="0.22" >=0.0296</text>
<line x1="254" y1="702" x2="332.7" y2="588.2" stroke="#000" stroke-width="1.1" stroke-dasharray="1.7,1.2"/>
<circle cx="255.6" cy="699.6" r="1.7" fill="#f0f" stroke="#222" stroke-width="0.5"/>
<circle cx="257.4" cy="696.8" r="1.7" fill="#f0f" stroke="#222" stroke-width="0.5"/>
<circle cx="259.3" cy="694.1" r="1.7" fill="#f0f" stroke="#222" stroke-width="0.5"/>
<circle cx="261.1" cy="691.4" r="1.7" fill="#f0f" stroke="#222" stroke-width="0.5"/>
<circle cx="263.0" cy="688.6" r="1.7" fill="#f0f" stroke="#222" stroke-width="0.5"/>
<circle cx="264.8" cy="685.9" r="1.7" fill="#f0f" stroke="#222" stroke-width="0.5"/>
<circle cx="266.7" cy="683.1" r="1.7" fill="#f0f" stroke="#222" stroke-width="0.5"/>
<circle cx="268.5" cy="680.3" r="1.7" fill="#f0f" stroke="#222" stroke-width="0.5"/>
<circle cx="270.4" cy="677.5" r="1.7" fill="#f0f" stroke="#222" stroke-width="0.5"/>
<circle cx="272.2" cy="674.7" r="1.7" fill="#f0f" stroke="#222" stroke-width="0.5"/>
<circle cx="274.1" cy="671.9" r="1.7" fill="#f0f" stroke="#222" stroke-width="0.5"/>
<circle cx="275.9" cy="669.1" r="1.7" fill="#f0f" stroke="#222" stroke-width="0.5"/>
<circle cx="277.8" cy="666.3" r="1.7" fill="#f0f" stroke="#222" stroke-width="0.5"/>
<circle cx="279.7" cy="663.4" r="1.7" fill="#f0f" stroke="#222" stroke-width="0.5"/>
<circle cx="281.5" cy="660.6" r="1.7" fill="#f0f" stroke="#222" stroke-width="0.5"/>
<circle cx="283.4" cy="657.8" r="1.7" fill="#f0f" stroke="#222" stroke-width="0.5"/>
<circle cx="285.2" cy="655.0" r="1.7" fill="#f0f" stroke="#222" stroke-width="0.5"/>
<circle cx="287.1" cy="652.3" r="1.7" fill="#f0f" stroke="#222" stroke-width="0.5"/>
<circle cx="288.9" cy="649.5" r="1.7" fill="#f0f" stroke="#222" stroke-width="0.5"/>
<circle cx="290.8" cy="646.8" r="1.7" fill="#f0f" stroke="#222" stroke-width="0.5"/>
<circle cx="292.6" cy="644.1" r="1.7" fill="#f0f" stroke="#222" stroke-width="0.5"/>
<circle cx="294.5" cy="641.4" r="1.7" fill="#f0f" stroke="#222" stroke-width="0.5"/>
<circle cx="296.3" cy="638.8" r="1.7" fill="#f0f" stroke="#222" stroke-width="0.5"/>
<circle cx="298.2" cy="636.2" r="1.7" fill="#f0f" stroke="#222" stroke-width="0.5"/>
<circle cx="300.0" cy="633.6" r="1.7" fill="#f0f" stroke="#222" stroke-width="0.5"/>
<circle cx="301.9" cy="631.0" r="1.7" fill="#f0f" stroke="#222" stroke-width="0.5"/>
<circle cx="303.7" cy="628.4" r="1.7" fill="#f0f" stroke="#222" stroke-width="0.5"/>
<circle cx="305.6" cy="625.8" r="1.7" fill="#f0f" stroke="#222" stroke-width="0.5"/>
<circle cx="307.4" cy="623.3" r="1.7" fill="#f0f" stroke="#222" stroke-width="0.5"/>
<circle cx="309.3" cy="620.8" r="1.7" fill="#f0f" stroke="#222" stroke-width="0.5"/>
<circle cx="311.1" cy="618.2" r="1.7" fill="#f0f" stroke="#222" stroke-width="0.5"/>
<circle cx="313.0" cy="615.7" r="1.7" fill="#f0f" stroke="#222" stroke-width="0.5"/>
<circle cx="314.8" cy="613.1" r="1.7" fill="#f0f" stroke="#222" stroke-width="0.5"/>
<circle cx="316.7" cy="610.6" r="1.7" fill="#f0f" stroke="#222" stroke-width="0.5"/>
<circle cx="318.6" cy="608.0" r="1.7" fill="#f0f" stroke="#222" stroke-width="0.5"/>
<circle cx="320.4" cy="605.4" r="1.7" fill="#f0f" stroke="#222" stroke-width="0.5"/>
<circle cx="322.3" cy="602.8" r="1.7" fill="#f0f" stroke="#222" stroke-width="0.5"/>
<circle cx="324.1" cy="600.2" r="1.7" fill="#f0f" stroke="#222" stroke-width="0.5"/>
<circle cx="326.0" cy="597.6" r="1.7" fill="#f0f" stroke="#222" stroke-width="0.5"/>
<circle cx="327.8" cy="595.0" r="1.7" fill="#f0f" stroke="#222" stroke-width="0.5"/>
<circle cx="329.7" cy="592.4" r="1.7" fill="#f0f" stroke="#222" stroke-width="0.5"/>
<circle cx="331.5" cy="589.8" r="1.7" fill="#f0f" stroke="#222" stroke-width="0.5"/>
<circle cx="332.7" cy="585.4" r="1.7" fill="#f0f" stroke="#222" stroke-width="0.5"/>
<polyline points="254,588.2 254,702 332.7,702" fill="none" stroke="#111" stroke-width="2"/>
<line x1="251.5" y1="702.0" x2="254" y2="702.0" stroke="#111" stroke-width="1" />
<text x="251.2" y="705.6" font-size="10" text-anchor="end" fill="#111" stroke="#111" stroke-width="0.22" >0</text>
<line x1="251.5" y1="679.24" x2="254" y2="679.24" stroke="#111" stroke-width="1" />
<text x="251.2" y="682.84" font-size="10" text-anchor="end" fill="#111" stroke="#111" stroke-width="0.22" >0.2</text>
<line x1="251.5" y1="656.48" x2="254" y2="656.48" stroke="#111" stroke-width="1" />
<text x="251.2" y="660.08" font-size="10" text-anchor="end" fill="#111" stroke="#111" stroke-width="0.22" >0.4</text>
<line x1="251.5" y1="633.72" x2="254" y2="633.72" stroke="#111" stroke-width="1" />
<text x="251.2" y="637.32" font-size="10" text-anchor="end" fill="#111" stroke="#111" stroke-width="0.22" >0.6</text>
<line x1="251.5" y1="610.96" x2="254" y2="610.96" stroke="#111" stroke-width="1" />
<text x="251.2" y="614.5600000000001" font-size="10" text-anchor="end" fill="#111" stroke="#111" stroke-width="0.22" >0.8</text>
<line x1="251.5" y1="588.2" x2="254" y2="588.2" stroke="#111" stroke-width="1" />
<text x="251.2" y="591.8000000000001" font-size="10" text-anchor="end" fill="#111" stroke="#111" stroke-width="0.22" >1.0</text>
<line x1="254.0" y1="702" x2="254.0" y2="704.5" stroke="#111" stroke-width="1" />
<text x="254.0" y="712.8" font-size="10" text-anchor="middle" fill="#111" stroke="#111" stroke-width="0.22" >0</text>
<line x1="293.35" y1="702" x2="293.35" y2="704.5" stroke="#111" stroke-width="1" />
<text x="293.35" y="712.8" font-size="10" text-anchor="middle" fill="#111" stroke="#111" stroke-width="0.22" >0.5</text>
<line x1="332.7" y1="702" x2="332.7" y2="704.5" stroke="#111" stroke-width="1" />
<text x="332.7" y="712.8" font-size="10" text-anchor="middle" fill="#111" stroke="#111" stroke-width="0.22" >1.0</text>
<text x="293.35" y="725.8" font-size="10" text-anchor="middle" fill="#111" stroke="#111" stroke-width="0.22" >Probability</text>
<text x="293.35" y="588.2" font-size="10" text-anchor="middle" fill="#111" stroke="#111" stroke-width="0.22" >F-actin</text>
<text x="305.2" y="681" font-size="10" text-anchor="middle" fill="#111" stroke="#111" stroke-width="0.22" >Calib. error</text>
<text x="305.2" y="692.6" font-size="10" text-anchor="middle" fill="#111" stroke="#111" stroke-width="0.22" >=0.0179</text>
<text font-size="10.3" fill="#111" stroke="#111" stroke-width="0.22" text-anchor="middle" transform="translate(17,640) rotate(-90)">Frequency</text>
<text x="341" y="570.5" font-size="11" text-anchor="start" fill="#111" font-weight="bold" >g</text>
<polygon points="394.4,651.5 410.4,655.7 427.1,657.1 441.0,651.5 454.8,641.8 465.9,636.3 479.8,633.5 490.9,625.2 502.0,576.1 513.1,575.5 522.7,593.3 535.2,611.3 544.9,604.4 556.0,591.1 566.6,591.1 578.2,612.7 599.0,641.8 611.5,650.2 630.9,652.9 650.3,649.3 664.2,646.5 664.2,677.1 650.3,680.7 630.9,683.4 611.5,683.4 599.0,679.3 578.2,661.2 566.6,646.5 556.0,648.8 544.9,662.6 533.8,669.6 522.7,658.5 513.1,640.4 502.0,640.4 490.9,665.4 481.2,676.5 468.7,679.8 454.8,677.9 441.0,680.7 427.1,687.6 413.2,686.2 394.4,682.0" fill="#dbe7f3"/>
<polyline points="394.4,671.5 413.2,673.2 435.4,673.2 449.3,671.5 460.4,666.8 471.5,657.6 482.6,646.0 493.7,635.5 502.0,628.8 513.1,627.4 520.0,628.3 533.8,629.9 550.5,628.0 561.6,629.9 575.4,637.7 589.3,648.8 600.4,658.5 614.3,664.9 630.9,667.6 650.3,666.8 664.2,664.9" fill="none" stroke="#33b58f" stroke-width="1.8" stroke-linejoin="round"/>
<polyline points="394.4,671.0 413.2,672.3 427.1,671.8 441.0,669.0 452.0,665.4 463.2,659.9 474.2,650.2 485.3,640.4 496.4,629.3 507.5,622.4 520.0,618.3 536.6,616.9 546.3,618.3 556.0,623.8 567.1,633.5 578.2,646.0 589.3,655.7 600.4,663.2 611.5,666.8 628.1,668.2 647.6,666.8 664.2,664.0" fill="none" stroke="#27b3e0" stroke-width="1.8" stroke-linejoin="round"/>
<polyline points="394.4,666.8 410.4,671.0 427.1,671.8 438.2,668.2 452.0,658.5 460.4,655.7 471.5,657.6 481.2,651.5 490.9,632.1 502.0,608.5 513.1,608.5 522.7,628.0 535.2,641.0 546.3,633.5 556.0,619.6 566.6,618.8 578.2,633.5 589.3,651.5 600.4,664.0 611.5,666.8 630.9,668.2 650.3,666.8 664.2,662.1" fill="none" stroke="#ee2f8f" stroke-width="1.8" stroke-dasharray="5,1.6,1.4,1.6" stroke-linejoin="round"/>
<polyline points="394.4,660.4 413.2,666.8 424.3,665.4 438.2,655.7 449.3,649.3 459.0,644.6 471.5,647.4 481.2,643.2 490.9,629.3 502.0,592.7 513.1,601.6 522.7,629.3 533.8,655.7 544.9,634.9 554.6,607.2 566.6,597.4 575.4,609.9 586.5,634.9 599.0,662.1 608.7,664.0 619.8,659.3 630.9,657.6 644.8,662.6 654.5,666.0 664.2,664.9" fill="none" stroke="#111" stroke-width="1.8" stroke-dasharray="4.5,2.6" stroke-linejoin="round"/>
<polyline points="381.3,569.7 381.3,703.6 677.5,703.6" fill="none" stroke="#111" stroke-width="1.9"/>
<line x1="378.3" y1="614.6" x2="381.3" y2="614.6" stroke="#111" stroke-width="1" />
<text x="377.1" y="618.2" font-size="10" text-anchor="end" fill="#111" stroke="#111" stroke-width="0.22" >0.10</text>
<line x1="378.3" y1="659.3" x2="381.3" y2="659.3" stroke="#111" stroke-width="1" />
<text x="377.1" y="662.9" font-size="10" text-anchor="end" fill="#111" stroke="#111" stroke-width="0.22" >0.05</text>
<line x1="378.3" y1="704.2" x2="381.3" y2="704.2" stroke="#111" stroke-width="1" />
<text x="377.1" y="707.8000000000001" font-size="10" text-anchor="end" fill="#111" stroke="#111" stroke-width="0.22" >0</text>
<line x1="381.3" y1="704.2" x2="381.3" y2="707" stroke="#111" stroke-width="1" />
<text x="381.3" y="716.8" font-size="10" text-anchor="middle" fill="#111" stroke="#111" stroke-width="0.22" >0</text>
<line x1="452.6" y1="704.2" x2="452.6" y2="707" stroke="#111" stroke-width="1" />
<text x="452.6" y="716.8" font-size="10" text-anchor="middle" fill="#111" stroke="#111" stroke-width="0.22" >200</text>
<line x1="521.7" y1="704.2" x2="521.7" y2="707" stroke="#111" stroke-width="1" />
<text x="521.7" y="716.8" font-size="10" text-anchor="middle" fill="#111" stroke="#111" stroke-width="0.22" >400</text>
<line x1="590.7" y1="704.2" x2="590.7" y2="707" stroke="#111" stroke-width="1" />
<text x="590.7" y="716.8" font-size="10" text-anchor="middle" fill="#111" stroke="#111" stroke-width="0.22" >600</text>
<line x1="659.8" y1="704.2" x2="659.8" y2="707" stroke="#111" stroke-width="1" />
<text x="659.8" y="716.8" font-size="10" text-anchor="middle" fill="#111" stroke="#111" stroke-width="0.22" >800</text>
<text x="533.8" y="729.8" font-size="10" text-anchor="middle" fill="#111" stroke="#111" stroke-width="0.22" >Distance (nm)</text>
<text font-size="10.3" fill="#111" stroke="#111" stroke-width="0.22" text-anchor="middle" transform="translate(350.8,637.7) rotate(-90)">Intensity (AU)</text>
<line x1="395.7" y1="580.8" x2="420.2" y2="580.8" stroke="#27b3e0" stroke-width="1.6" />
<text x="425.7" y="584.4" font-size="10.3" text-anchor="start" fill="#111" stroke="#111" stroke-width="0.22" >DFCAN</text>
<line x1="395.7" y1="597.4" x2="420.2" y2="597.4" stroke="#33b58f" stroke-width="1.6" />
<text x="425.7" y="601" font-size="10.3" text-anchor="start" fill="#111" stroke="#111" stroke-width="0.22" >RCAN</text>
<line x1="395.7" y1="614.6" x2="420.2" y2="614.6" stroke="#ee2f8f" stroke-width="1.6" stroke-dasharray="5,1.6,1.4,1.6"/>
<text x="425.7" y="618.2" font-size="10.3" text-anchor="start" fill="#111" stroke="#111" stroke-width="0.22" >BayesDL</text>
<line x1="581.5" y1="580.8" x2="606" y2="580.8" stroke="#111" stroke-width="1.6" stroke-dasharray="4.5,2.6"/>
<text x="611.5" y="584.4" font-size="10.3" text-anchor="start" fill="#111" stroke="#111" stroke-width="0.22" >GT-SIM</text>
<rect x="581.5" y="593.3" width="24.5" height="8.3" fill="#dbe7f3"/>
<text x="611.5" y="601" font-size="10.3" text-anchor="start" fill="#111" stroke="#111" stroke-width="0.22" >3-σ CI</text></svg></body></html>
